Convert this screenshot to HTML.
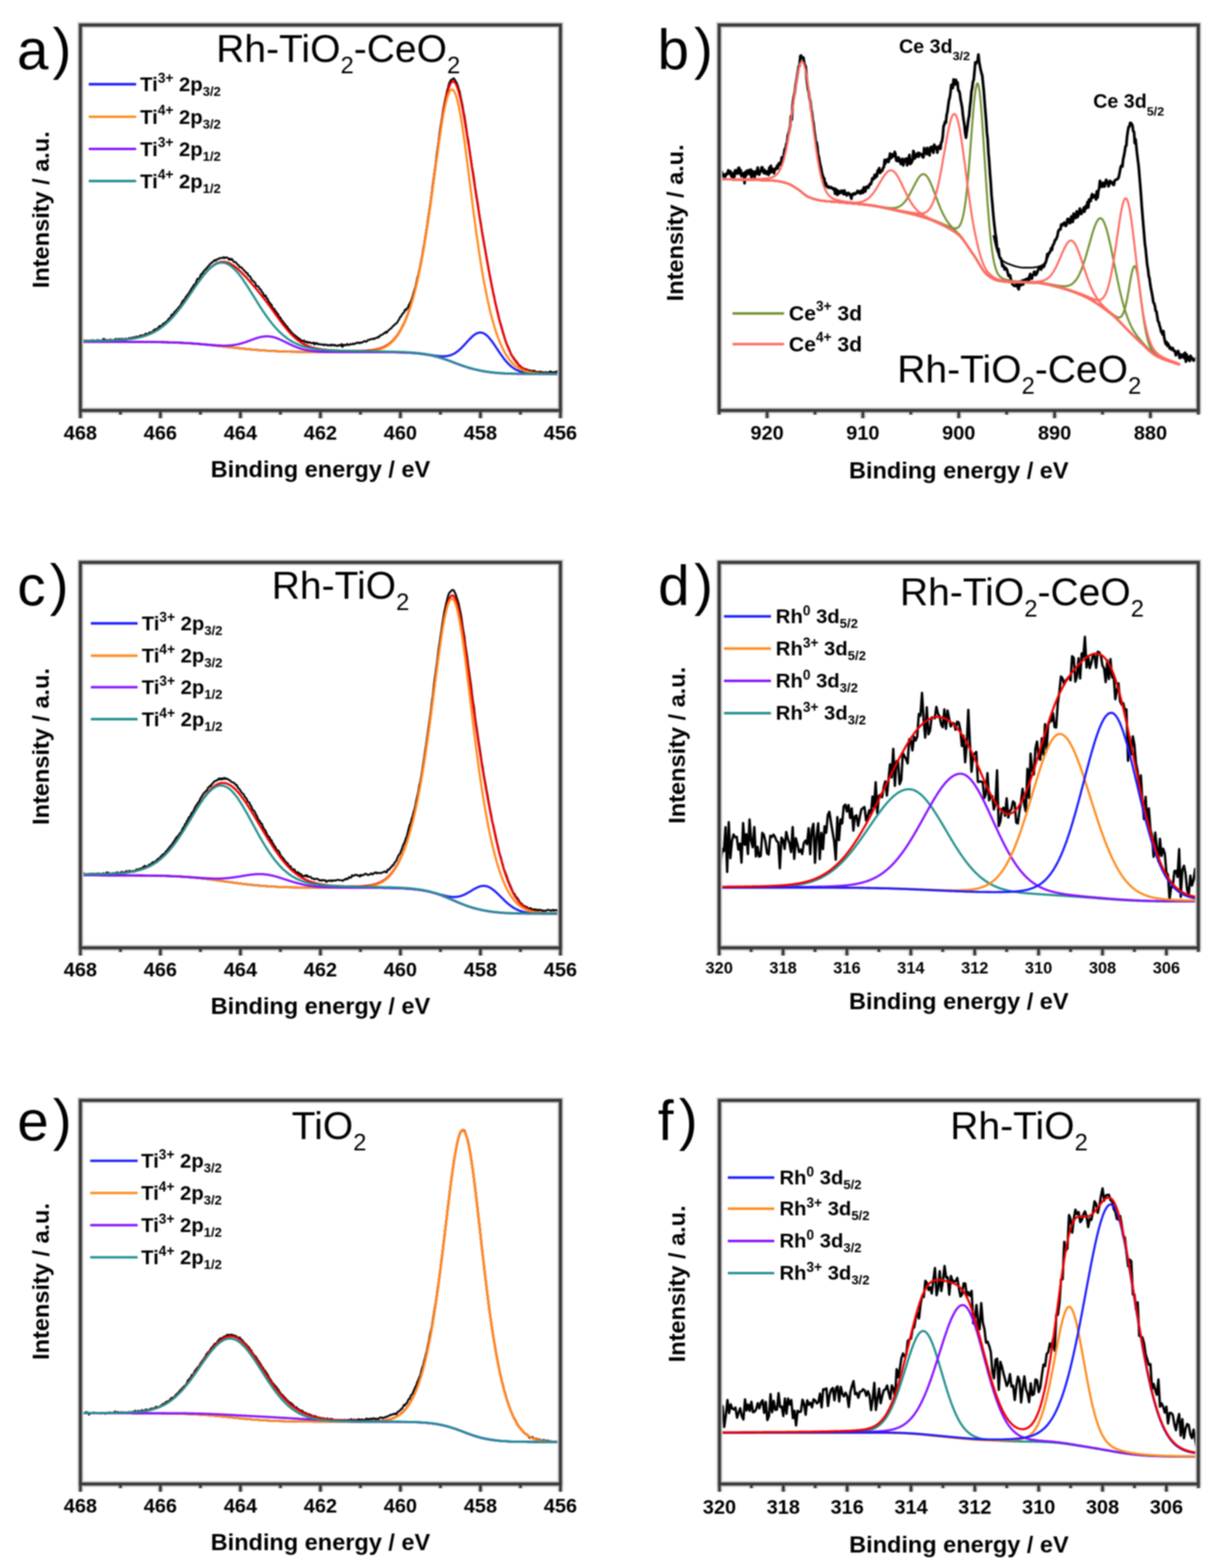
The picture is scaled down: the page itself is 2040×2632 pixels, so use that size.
<!DOCTYPE html><html><head><meta charset="utf-8"><style>html,body{margin:0;padding:0;background:#fff}svg{display:block;filter:blur(1px)}text{font-family:'Liberation Sans', Arial, Helvetica, sans-serif;fill:#000}</style></head><body>
<svg xmlns="http://www.w3.org/2000/svg" width="2040" height="2632" viewBox="0 0 2040 2632">
<rect width="2040" height="2632" fill="#fff"/>
<g>
<path d="M135 572.5l1.6 0.4 1.6-0.5 1.6-1.5 1.6 2 1.7-0.5 1.6-0.9 1.6 1 1.6-0.2 1.6-0.1 1.6-0.3 1.6 0.4 1.6-1.2 1.7 0.5 1.6-0.3 1.6 0.9 1.6-0.5 1.6-0.4 1.6-0.5 1.6 0.5 1.6 0.2 1.7-0.3 1.6 1.3 1.6-0.3 1.6-3.4 1.6 0.7 1.6 1.5 1.6-0.3 1.6 0.5 1.6 0 1.7 1.6 1.6-3 1.6 0.6 1.6 2.1 1.6-1.3 1.6-0.1 1.6-1.2 1.6-1.1 1.7 1.5 1.6-0.1 1.6-1.4 1.6 0.4 1.6 0.4 1.6-0.9 1.6 0.6 1.6 0 1.7-0.2 1.6-0.6 1.6 0.8 1.6 0 1.6-0.7 1.6-1.3 1.6 1.2 1.6-1.4 1.6 1 1.7-2 1.6 1.5 1.6-1.2 1.6-1.4 1.6 0.4 1.6 0 1.6-0.2 1.6-1.6 1.7-0.5 1.6 0.7 1.6-1.1 1.6 0.1 1.6-0.1 1.6-2.8 1.6 1.1 1.6 0.2 1.7-2 1.6-1.2 1.6 0.6 1.6-1.2 1.6-0.2 1.6-2 1.6-2 1.6 0.3 1.6-1.3 1.7 0.1 1.6-1.6 1.6-2.8 1.6-0.8 1.6 0.6 1.6-1.4 1.6-2.5 1.6-0.8 1.7-1 1.6-1.5 1.6-1.1 1.6-2.2 1.6-1.9 1.6-1.8 1.6-0.5 1.6-4.8 1.7 0.1 1.6-1.7 1.6-3.2 1.6-0.4 1.6-2.9 1.6-0.7 1.6-3 1.6-1.4 1.6-1.6 1.7-3 1.6-3.4 1.6-2.8 1.6 0.7 1.6-4 1.6-2.9 1.6-1.6 1.6-2.7 1.7-1.5 1.6-3.1 1.6-2.4 1.6-3.1 1.6-1.3 1.6-3.8 1.6-0.9 1.6-1.6 1.7-5.1 1.6-3.2 1.6 0.5 1.6-0.5 1.6-5.4 1.6-2.5 1.6-0.4 1.6-3.4 1.6-1.7 1.7-1.9 1.6-1.1 1.6-2.6 1.6-1.2 1.6-2 1.6-2.2 1.6-1 1.6-2 1.7-0.5 1.6-2.2 1.6-1.1 1.6 1.3 1.6-2.2 1.6-0.8 1.6-0.1 1.6-1.4 1.7-0.3 1.6 0.3 1.6-0.3 1.6-1.4 1.6 1.8 1.6-1.1 1.6-0.2 1.6 0.5 1.6 1 1.7 2.4 1.6-1.9 1.6 2 1.6-1.2 1.6 2.9 1.6 1.9 1.6 0.1 1.6 0.8 1.7 2.1 1.6 1.8 1.6 1.3 1.6 2.7 1.6-0.1 1.6 0.9 1.6 2 1.6 1.7 1.7 1.9 1.6 1.6 1.6 1.9 1.6 0.2 1.6 4 1.6 0.6 1.6 1.3 1.6 3.6 1.6 2.5 1.7 1.2 1.6 1.6 1.6 1 1.6 5.4 1.6 0.3 1.6 0.2 1.6 2.4 1.6 2.8 1.7 0.7 1.6 3.6 1.6 1.6 1.6 3.7 1.6 2 1.6-1.1 1.6 4.7 1.6 0.8 1.7 4.7 1.6 1.5 1.6 2.7 1.6 0.9 1.6 4.9 1.6 2.6 1.6-0.4 1.6 3.6 1.6 1.4 1.7 3 1.6 1.2 1.6 5.2 1.6-0.3 1.6 2.9 1.6 3 1.6 1.2 1.6 2.5 1.7 1.9 1.6 2.5 1.6 1.1 1.6 2.6 1.6 2.2 1.6 1.7 1.6 2.2 1.6 1.4 1.7 2.7 1.6 0.6 1.6 1.7 1.6 1 1.6 1.6 1.6 0.6 1.6 2.8 1.6-0.4 1.6 1.4 1.7 1.8 1.6 0.8 1.6 0 1.6-0.9 1.6 2.8 1.6 0.3 1.6-1.1 1.6 2.3 1.7-1 1.6-0.1 1.6 1.3 1.6 0 1.6 0.5 1.6-1.4 1.6 3.3 1.6-2 1.7-0.6 1.6 2.2 1.6-0.7 1.6 0.9 1.6-0.3 1.6 0.4 1.6 0.5 1.6-0.7 1.6 1.5 1.7-0.9 1.6-0.2 1.6 1 1.6 0.5 1.6-0.5 1.6-0.5 1.6 1.5 1.6-2.1 1.7 0.7 1.6 1.1 1.6-1.2 1.6 1.2 1.6 0 1.6 0.8 1.6-1.7 1.6 0.2 1.7 0.8 1.6-2.7 1.6 4.9 1.6-3.6 1.6-0.1 1.6 1.2 1.6-1 1.6-1.7 1.6 1.9 1.7 0 1.6-1.4 1.6 0 1.6 0.4 1.6-1.4 1.6 0.9 1.6-0.5 1.6-1.1 1.7-0.9 1.6 0.7 1.6-1 1.6 1.3 1.6-1.2 1.6 0.2 1.6-1 1.6-0.4 1.7-1.4 1.6 0.9 1.6 0.5 1.6-2.4 1.6-0.7 1.6-0.1 1.6-0.8 1.6-0.7 1.6 0.2 1.7-0.9 1.6 1 1.6-1.8 1.6-0.3 1.6-0.1 1.6-1.8 1.6 0.8 1.6-2.6 1.7-1 1.6-0.4 1.6-0.7 1.6-2.1 1.6 0.2 1.6-2.5 1.6 1.6 1.6-2.5 1.7-1.8 1.6-1.5 1.6-0.9 1.6-1.3 1.6-2.2 1.6-1.6 1.6-1 1.6-2.1 1.6-0.6 1.7-1.9 1.6-3.2 1.6-1.8 1.6-4.1 1.6-0.8 1.6-3.3 1.6-2.2 1.6-1 1.7-5 1.6 0.9 1.6-2.9 1.6-0.9 1.6-4.7 1.6-2.7 1.6-3.1 1.6-3.8 1.7-5.1 1.6-6 1.6-5.4 1.6-4.7 1.6-7.2 1.6-8.2 1.6-4.7 1.6-7.8 1.6-7.4 1.7-9.3 1.6-7.5 1.6-10.7 1.6-8 1.6-10.7 1.6-9.1 1.6-10.2 1.6-12.4 1.7-10.4 1.6-11.4 1.6-10.5 1.6-12.3 1.6-13.8 1.6-10.7 1.6-11.9 1.6-11.1 1.7-15.6 1.6-11.1 1.6-10.3 1.6-14 1.6-11.2 1.6-9.4 1.6-10 1.6-11.3 1.6-8.1 1.7-8.9 1.6-6.3 1.6-8.2 1.6-5 1.6-6.5 1.6-3.3 1.6-2.7 1.6-0.7 1.7-1.2 1.6-0.8 1.6 2.6 1.6 2.6 1.6 2.6 1.6 4.2 1.6 5.4 1.6 4.7 1.7 8.6 1.6 7.6 1.6 7.3 1.6 10.2 1.6 7.4 1.6 10.5 1.6 10.1 1.6 12.6 1.6 7.3 1.7 12.7 1.6 11.1 1.6 10.4 1.6 11.6 1.6 8.9 1.6 9.7 1.6 13.5 1.6 8.8 1.7 11.4 1.6 9.6 1.6 12.3 1.6 10 1.6 8.6 1.6 11.3 1.6 9 1.6 9.4 1.7 9.6 1.6 9.1 1.6 9.8 1.6 8.7 1.6 8.3 1.6 9.8 1.6 7.1 1.6 9.1 1.6 8.2 1.7 8.9 1.6 5.9 1.6 9.5 1.6 5.9 1.6 6.7 1.6 6.3 1.6 7.7 1.6 5.8 1.7 5 1.6 5.7 1.6 6 1.6 5.1 1.6 6.5 1.6 5 1.6 3.9 1.6 3.7 1.7 3.2 1.6 4 1.6 4.2 1.6 4.2 1.6 1.9 1.6 1.6 1.6 2.7 1.6 1.9 1.6 1.8 1.7 2.4 1.6 2.1 1.6 3.1 1.6-0.2 1.6 2.5 1.6 1.5 1.6-0.4 1.6 2.3 1.7 0 1.6-0.2 1.6 1.2 1.6 0.4 1.6 0.3 1.6 0.5 1.6 0.7 1.6 0.6 1.7-0.9 1.6 1.1 1.6-1.1 1.6 1.8 1.6 0.5 1.6-0.3 1.6 0.2 1.6 0.4 1.6-1.1 1.7 0.5 1.6 0.7 1.6 0.5 1.6-0.5 1.6 2 1.6-2.4 1.6 1 1.6 0.2 1.7-1.2 1.6-0.6 1.6-0.4 1.6 1.2 1.6 0.8 1.6-0.7 1.6-0.1 1.6-0.6 1.7 0.8 1.6-2.4 1.6 2.1 1.6-0.2 1.6-1.3" fill="none" stroke="#000" stroke-width="3.2" stroke-linejoin="round"/>
<path d="M135 572.3l1 0 1 0 1-0.1 1 0 1 0 1 0 1.1 0 1 0 1 0 1 0 1-0.1 1 0 1 0 1 0 1 0 1 0 1 0 1 0 1-0.1 1.1 0 1 0 1 0 1 0 1 0 1-0.1 1 0 1 0 1 0 1 0 1 0 1-0.1 1 0 1 0 1.1 0 1 0 1-0.1 1 0 1 0 1 0 1-0.1 1 0 1 0 1 0 1-0.1 1 0 1 0 1.1-0.1 1 0 1 0 1-0.1 1 0 1 0 1-0.1 1 0 1-0.1 1 0 1-0.1 1 0 1-0.1 1 0 1.1-0.1 1 0 1-0.1 1 0 1-0.1 1-0.1 1 0 1-0.1 1-0.1 1 0 1-0.1 1-0.1 1-0.1 1.1-0.1 1-0.1 1-0.1 1-0.1 1-0.1 1-0.1 1-0.1 1-0.1 1-0.1 1-0.2 1-0.1 1-0.1 1-0.2 1.1-0.1 1-0.2 1-0.2 1-0.1 1-0.2 1-0.2 1-0.2 1-0.2 1-0.2 1-0.2 1-0.2 1-0.2 1-0.3 1.1-0.2 1-0.3 1-0.2 1-0.3 1-0.3 1-0.3 1-0.3 1-0.3 1-0.3 1-0.4 1-0.3 1-0.4 1-0.3 1-0.4 1.1-0.4 1-0.4 1-0.5 1-0.4 1-0.5 1-0.4 1-0.5 1-0.5 1-0.5 1-0.5 1-0.6 1-0.6 1-0.5 1.1-0.6 1-0.6 1-0.7 1-0.6 1-0.7 1-0.6 1-0.7 1-0.7 1-0.8 1-0.7 1-0.8 1-0.8 1-0.8 1.1-0.8 1-0.9 1-0.8 1-0.9 1-0.9 1-1 1-0.9 1-1 1-0.9 1-1 1-1.1 1-1 1-1.1 1-1 1.1-1.1 1-1.2 1-1.1 1-1.2 1-1.1 1-1.2 1-1.2 1-1.2 1-1.3 1-1.2 1-1.3 1-1.3 1-1.3 1.1-1.3 1-1.4 1-1.3 1-1.4 1-1.4 1-1.3 1-1.4 1-1.4 1-1.5 1-1.4 1-1.4 1-1.5 1-1.4 1-1.5 1.1-1.4 1-1.5 1-1.5 1-1.4 1-1.5 1-1.5 1-1.5 1-1.4 1-1.5 1-1.5 1-1.4 1-1.5 1-1.4 1.1-1.5 1-1.4 1-1.4 1-1.4 1-1.4 1-1.4 1-1.4 1-1.3 1-1.3 1-1.3 1-1.3 1-1.3 1-1.3 1.1-1.2 1-1.2 1-1.1 1-1.2 1-1.1 1-1.1 1-1 1-1.1 1-1 1-0.9 1-0.9 1-0.9 1-0.9 1.1-0.8 1-0.7 1-0.8 1-0.6 1-0.7 1-0.6 1-0.5 1-0.5 1-0.5 1-0.4 1-0.4 1-0.3 1-0.3 1-0.3 1.1-0.2 1-0.1 1-0.1 1-0.1 1 0 1 0.1 1 0 1 0.2 1 0.1 1 0.3 1 0.2 1 0.3 1 0.4 1.1 0.3 1 0.5 1 0.4 1 0.5 1 0.5 1 0.6 1 0.6 1 0.7 1 0.6 1 0.7 1 0.8 1 0.7 1 0.8 1 0.8 1.1 0.9 1 0.8 1 0.9 1 0.9 1 1 1 0.9 1 1 1 1 1 0.9 1 1.1 1 1 1 1 1 1.1 1.1 1 1 1.1 1 1.1 1 1.1 1 1.1 1 1.1 1 1.1 1 1.2 1 1.1 1 1.1 1 1.2 1 1.1 1 1.2 1.1 1.2 1 1.1 1 1.2 1 1.2 1 1.2 1 1.2 1 1.2 1 1.2 1 1.2 1 1.2 1 1.3 1 1.2 1 1.3 1 1.2 1.1 1.3 1 1.2 1 1.3 1 1.3 1 1.3 1 1.3 1 1.3 1 1.3 1 1.4 1 1.3 1 1.3 1 1.4 1 1.4 1.1 1.3 1 1.4 1 1.4 1 1.4 1 1.3 1 1.4 1 1.4 1 1.4 1 1.5 1 1.4 1 1.4 1 1.4 1 1.4 1.1 1.4 1 1.4 1 1.4 1 1.4 1 1.4 1 1.3 1 1.4 1 1.4 1 1.3 1 1.3 1 1.4 1 1.3 1 1.3 1.1 1.3 1 1.2 1 1.3 1 1.2 1 1.2 1 1.2 1 1.2 1 1.1 1 1.2 1 1.1 1 1 1 1.1 1 1 1 1.1 1.1 1 1 0.9 1 1 1 0.9 1 0.9 1 0.8 1 0.9 1 0.8 1 0.8 1 0.8 1 0.7 1 0.7 1 0.7 1.1 0.7 1 0.7 1 0.6 1 0.6 1 0.6 1 0.5 1 0.6 1 0.5 1 0.5 1 0.5 1 0.4 1 0.5 1 0.4 1 0.4 1.1 0.4 1 0.4 1 0.3 1 0.3 1 0.4 1 0.3 1 0.3 1 0.2 1 0.3 1 0.3 1 0.2 1 0.2 1 0.3 1.1 0.2 1 0.2 1 0.2 1 0.1 1 0.2 1 0.2 1 0.1 1 0.2 1 0.1 1 0.2 1 0.1 1 0.1 1 0.1 1.1 0.1 1 0.1 1 0.1 1 0.1 1 0.1 1 0.1 1 0.1 1 0.1 1 0 1 0.1 1 0.1 1 0 1 0.1 1.1 0.1 1 0 1 0.1 1 0 1 0.1 1 0 1 0.1 1 0 1 0 1 0.1 1 0 1 0.1 1 0 1 0 1.1 0.1 1 0 1 0 1 0.1 1 0 1 0 1 0 1 0.1 1 0 1 0 1 0 1 0 1 0.1 1.1 0 1 0 1 0 1 0 1 0 1 0 1 0 1 0.1 1 0 1 0 1 0 1 0 1 0 1 0 1.1 0 1 0 1-0.1 1 0 1 0 1 0 1 0 1 0 1-0.1 1 0 1 0 1-0.1 1 0 1.1 0 1-0.1 1 0 1-0.1 1-0.1 1 0 1-0.1 1-0.1 1-0.1 1-0.1 1-0.1 1-0.1 1-0.2 1.1-0.1 1-0.1 1-0.2 1-0.2 1-0.2 1-0.1 1-0.3 1-0.2 1-0.2 1-0.3 1-0.2 1-0.3 1-0.3 1.1-0.4 1-0.3 1-0.4 1-0.4 1-0.4 1-0.4 1-0.5 1-0.5 1-0.5 1-0.6 1-0.6 1-0.6 1-0.6 1-0.7 1.1-0.7 1-0.8 1-0.8 1-0.8 1-0.9 1-0.9 1-1 1-1 1-1.1 1-1.1 1-1.1 1-1.2 1-1.3 1.1-1.3 1-1.4 1-1.5 1-1.5 1-1.5 1-1.7 1-1.7 1-1.7 1-1.8 1-2 1-1.9 1-2.1 1-2.1 1.1-2.2 1-2.3 1-2.4 1-2.4 1-2.6 1-2.6 1-2.7 1-2.8 1-2.9 1-3 1-3.1 1-3.2 1-3.3 1-3.4 1.1-3.6 1-3.6 1-3.7 1-3.9 1-3.9 1-4.1 1-4.2 1-4.3 1-4.5 1-4.5 1-4.7 1-4.9 1-4.9 1.1-5.1 1-5.2 1-5.4 1-5.5 1-5.6 1-5.8 1-5.9 1-6.1 1-6.1 1-6.4 1-6.4 1-6.6 1-6.6 1-6.9 1.1-6.9 1-7 1-7.1 1-7.3 1-7.3 1-7.3 1-7.5 1-7.5 1-7.5 1-7.6 1-7.6 1-7.6 1-7.5 1.1-7.6 1-7.4 1-7.5 1-7.3 1-7.2 1-7.1 1-7 1-6.8 1-6.6 1-6.4 1-6.3 1-5.9 1-5.7 1.1-5.4 1-5.2 1-4.8 1-4.5 1-4.2 1-3.8 1-3.4 1-3.1 1-2.7 1-2.3 1-1.8 1-1.5 1-1.1 1.1-0.6 1-0.3 1 0.2 1 0.6 1 1 1 1.4 1 1.7 1 2.2 1 2.5 1 2.9 1 3.2 1 3.5 1 3.9 1 4.2 1.1 4.4 1 4.7 1 5 1 5.2 1 5.4 1 5.6 1 5.8 1 6 1 6.1 1 6.2 1 6.3 1 6.4 1 6.6 1.1 6.5 1 6.7 1 6.6 1 6.7 1 6.7 1 6.8 1 6.7 1 6.7 1 6.7 1 6.7 1 6.6 1 6.6 1 6.6 1 6.5 1.1 6.5 1 6.4 1 6.4 1 6.4 1 6.3 1 6.2 1 6.2 1 6.1 1 6.1 1 6 1 6 1 5.9 1 5.9 1.1 5.8 1 5.7 1 5.7 1 5.7 1 5.6 1 5.5 1 5.4 1 5.4 1 5.3 1 5.3 1 5.2 1 5.1 1 5.1 1.1 4.9 1 4.9 1 4.9 1 4.7 1 4.7 1 4.5 1 4.5 1 4.4 1 4.3 1 4.2 1 4.1 1 4 1 3.9 1 3.8 1.1 3.7 1 3.6 1 3.5 1 3.4 1 3.3 1 3.2 1 3 1 3 1 2.9 1 2.7 1 2.7 1 2.6 1 2.4 1.1 2.4 1 2.3 1 2.1 1 2.1 1 2 1 1.9 1 1.8 1 1.7 1 1.6 1 1.6 1 1.5 1 1.4 1 1.3 1.1 1.2 1 1.2 1 1.2 1 1 1 1 1 1 1 0.8 1 0.9 1 0.8 1 0.7 1 0.7 1 0.6 1 0.7 1.1 0.5 1 0.6 1 0.4 1 0.5 1 0.4 1 0.4 1 0.4 1 0.4 1 0.3 1 0.3 1 0.3 1 0.3 1 0.2 1 0.2 1.1 0.2 1 0.2 1 0.2 1 0.2 1 0.1 1 0.2 1 0.1 1 0.1 1 0.2 1 0.1 1 0.1 1 0 1 0.1 1.1 0.1 1 0.1 1 0 1 0.1 1 0.1 1 0 1 0.1 1 0 1 0.1 1 0 1 0 1 0.1 1 0 1 0 1.1 0 1 0.1 1 0 1 0 1 0 1 0.1 1 0 1 0 1 0 1 0 1 0 1 0 1 0.1 1.1 0 1 0 1 0 1 0 1 0 1 0 1 0" fill="none" stroke="#f00000" stroke-width="3.6" stroke-linejoin="round"/>
<path d="M135 573.7l1 0 1 0 1 0 1 0 1 0 1 0 1.1 0 1 0 1 0 1 0 1 0 1 0 1 0 1 0 1 0 1 0 1 0 1 0 1 0 1.1 0 1 0 1 0 1 0 1 0 1 0 1 0 1 0 1 0 1 0 1 0 1 0 1 0 1 0 1.1 0 1 0 1 0 1 0 1 0 1 0 1 0 1 0 1 0.1 1 0 1 0 1 0 1 0 1.1 0 1 0 1 0 1 0 1 0 1 0 1 0 1 0 1 0 1 0 1 0 1 0 1 0 1 0 1.1 0 1 0 1 0 1 0 1 0 1 0 1 0 1 0 1 0 1 0 1 0 1 0 1 0 1.1 0 1 0 1 0 1 0 1 0 1 0 1 0 1 0 1 0.1 1 0 1 0 1 0 1 0 1.1 0 1 0 1 0 1 0 1 0 1 0 1 0 1 0 1 0 1 0 1 0 1 0 1 0 1.1 0 1 0 1 0.1 1 0 1 0 1 0 1 0 1 0 1 0 1 0 1 0 1 0 1 0 1 0 1.1 0.1 1 0 1 0 1 0 1 0 1 0 1 0 1 0 1 0.1 1 0 1 0 1 0 1 0 1.1 0 1 0 1 0.1 1 0 1 0 1 0 1 0 1 0 1 0.1 1 0 1 0 1 0 1 0.1 1.1 0 1 0 1 0 1 0 1 0.1 1 0 1 0 1 0.1 1 0 1 0 1 0 1 0.1 1 0 1 0 1.1 0.1 1 0 1 0 1 0.1 1 0 1 0.1 1 0 1 0 1 0.1 1 0 1 0.1 1 0 1 0.1 1.1 0 1 0.1 1 0 1 0.1 1 0 1 0.1 1 0 1 0.1 1 0 1 0.1 1 0 1 0.1 1 0.1 1 0 1.1 0.1 1 0.1 1 0 1 0.1 1 0.1 1 0 1 0.1 1 0.1 1 0 1 0.1 1 0.1 1 0.1 1 0.1 1.1 0 1 0.1 1 0.1 1 0.1 1 0.1 1 0.1 1 0 1 0.1 1 0.1 1 0.1 1 0.1 1 0.1 1 0.1 1.1 0.1 1 0.1 1 0.1 1 0.1 1 0.1 1 0.1 1 0.1 1 0.1 1 0.1 1 0.1 1 0.1 1 0.1 1 0.1 1.1 0.1 1 0.1 1 0.1 1 0.1 1 0.1 1 0.1 1 0.2 1 0.1 1 0.1 1 0.1 1 0.1 1 0.1 1 0.1 1 0.1 1.1 0.2 1 0.1 1 0.1 1 0.1 1 0.1 1 0.1 1 0.1 1 0.2 1 0.1 1 0.1 1 0.1 1 0.1 1 0.1 1.1 0.1 1 0.2 1 0.1 1 0.1 1 0.1 1 0.1 1 0.1 1 0.1 1 0.1 1 0.2 1 0.1 1 0.1 1 0.1 1 0.1 1.1 0.1 1 0.1 1 0.1 1 0.1 1 0.1 1 0.1 1 0.1 1 0.1 1 0.1 1 0.1 1 0.1 1 0.1 1 0.1 1.1 0.1 1 0.1 1 0.1 1 0.1 1 0.1 1 0.1 1 0.1 1 0.1 1 0.1 1 0.1 1 0.1 1 0.1 1 0.1 1.1 0.1 1 0 1 0.1 1 0.1 1 0.1 1 0.1 1 0.1 1 0 1 0.1 1 0.1 1 0.1 1 0.1 1 0 1 0.1 1.1 0.1 1 0.1 1 0 1 0.1 1 0.1 1 0.1 1 0 1 0.1 1 0.1 1 0 1 0.1 1 0.1 1 0 1.1 0.1 1 0 1 0.1 1 0.1 1 0 1 0.1 1 0 1 0.1 1 0 1 0.1 1 0 1 0.1 1 0 1.1 0.1 1 0 1 0.1 1 0 1 0.1 1 0 1 0.1 1 0 1 0 1 0.1 1 0 1 0.1 1 0 1.1 0 1 0.1 1 0 1 0 1 0.1 1 0 1 0 1 0 1 0.1 1 0 1 0 1 0 1 0.1 1 0 1.1 0 1 0 1 0.1 1 0 1 0 1 0 1 0 1 0 1 0.1 1 0 1 0 1 0 1 0 1.1 0 1 0 1 0.1 1 0 1 0 1 0 1 0 1 0 1 0 1 0 1 0 1 0 1 0.1 1 0 1.1 0 1 0 1 0 1 0 1 0 1 0 1 0 1 0 1 0 1 0 1 0 1 0 1 0 1.1 0 1 0 1 0.1 1 0 1 0 1 0 1 0 1 0 1 0 1 0 1 0 1 0 1 0 1.1 0 1 0 1 0 1 0 1 0 1 0 1 0 1 0 1 0 1 0 1 0 1 0 1 0 1.1 0 1 0 1 0 1 0 1 0 1 0 1 0 1 0 1 0 1 0 1 0 1 0 1 0 1 0 1.1 0 1 0 1 0 1 0 1 0 1 0.1 1 0 1 0 1 0 1 0 1 0 1 0 1 0 1.1 0 1 0 1 0 1 0 1 0 1 0 1 0 1 0 1 0 1 0 1 0 1 0 1 0 1 0 1.1 0 1 0 1 0 1 0 1 0 1 0 1 0 1 0 1 0 1 0 1 0 1 0 1 0 1.1 0 1 0 1 0 1 0 1 0 1 0 1 0 1 0 1 0 1 0 1 0 1 0 1 0 1.1 0 1 0 1 0 1 0 1 0 1 0 1 0 1 0 1 0 1 0 1 0 1 0 1 0 1.1 0 1 0 1 0 1 0.1 1 0 1 0 1 0 1 0 1 0 1 0 1 0 1 0 1 0 1 0 1.1 0 1 0 1 0 1 0.1 1 0 1 0 1 0 1 0 1 0 1 0 1 0.1 1 0 1 0 1.1 0 1 0 1 0.1 1 0 1 0 1 0 1 0.1 1 0 1 0 1 0 1 0.1 1 0 1 0 1.1 0.1 1 0 1 0.1 1 0 1 0.1 1 0 1 0 1 0.1 1 0.1 1 0 1 0.1 1 0 1 0.1 1 0.1 1.1 0 1 0.1 1 0.1 1 0 1 0.1 1 0.1 1 0.1 1 0.1 1 0.1 1 0.1 1 0.1 1 0.1 1 0.1 1.1 0.1 1 0.1 1 0.1 1 0.1 1 0.1 1 0.2 1 0.1 1 0.1 1 0.1 1 0.2 1 0.1 1 0.2 1 0.1 1 0.1 1.1 0.2 1 0.1 1 0.2 1 0.1 1 0.2 1 0.1 1 0.2 1 0.1 1 0.2 1 0.1 1 0.2 1 0.1 1 0.1 1.1 0.2 1 0.1 1 0.1 1 0.1 1 0.1 1 0.1 1 0.1 1 0 1 0.1 1 0 1 0.1 1 0 1-0.1 1.1 0 1-0.1 1 0 1-0.2 1-0.1 1-0.2 1-0.1 1-0.3 1-0.2 1-0.3 1-0.3 1-0.4 1-0.4 1.1-0.4 1-0.5 1-0.5 1-0.5 1-0.6 1-0.6 1-0.7 1-0.7 1-0.7 1-0.8 1-0.8 1-0.9 1-0.8 1-1 1.1-0.9 1-1 1-1 1-1 1-1.1 1-1 1-1.1 1-1.1 1-1.1 1-1.1 1-1.2 1-1.1 1-1.1 1.1-1.1 1-1 1-1.1 1-1 1-1 1-1 1-0.9 1-0.9 1-0.9 1-0.8 1-0.7 1-0.7 1-0.6 1-0.5 1.1-0.5 1-0.4 1-0.3 1-0.3 1-0.1 1-0.1 1 0 1 0.1 1 0.2 1 0.2 1 0.4 1 0.4 1 0.5 1.1 0.6 1 0.7 1 0.8 1 0.8 1 0.9 1 1 1 1 1 1.1 1 1.2 1 1.2 1 1.3 1 1.3 1 1.3 1.1 1.4 1 1.4 1 1.5 1 1.5 1 1.4 1 1.5 1 1.6 1 1.5 1 1.5 1 1.5 1 1.5 1 1.5 1 1.5 1 1.5 1.1 1.4 1 1.5 1 1.4 1 1.3 1 1.4 1 1.3 1 1.3 1 1.2 1 1.2 1 1.2 1 1.1 1 1.1 1 1 1.1 1.1 1 0.9 1 1 1 0.8 1 0.9 1 0.8 1 0.8 1 0.7 1 0.7 1 0.6 1 0.7 1 0.6 1 0.5 1.1 0.5 1 0.5 1 0.5 1 0.4 1 0.4 1 0.4 1 0.3 1 0.3 1 0.3 1 0.3 1 0.3 1 0.2 1 0.3 1.1 0.2 1 0.1 1 0.2 1 0.2 1 0.1 1 0.2 1 0.1 1 0.1 1 0.1 1 0.1 1 0.1 1 0.1 1 0 1 0.1 1.1 0.1 1 0 1 0.1 1 0 1 0.1 1 0 1 0 1 0.1 1 0 1 0 1 0 1 0.1 1 0 1.1 0 1 0 1 0 1 0 1 0.1 1 0 1 0 1 0 1 0 1 0 1 0 1 0 1 0 1 0 1.1 0 1 0.1 1 0 1 0 1 0 1 0 1 0 1 0 1 0 1 0 1 0 1 0 1 0 1.1 0 1 0 1 0 1 0 1 0 1 0 1 0" fill="none" stroke="#1a1aff" stroke-width="3.6" stroke-linejoin="round"/>
<path d="M135 573.7l1 0 1 0 1 0 1 0 1 0 1 0 1.1 0 1 0 1 0 1 0 1 0 1 0 1 0 1 0 1 0 1 0 1 0 1 0 1 0 1.1 0 1 0 1 0 1 0 1 0 1 0 1 0 1 0 1 0 1 0 1 0 1 0 1 0 1 0 1.1 0 1 0 1 0 1 0.1 1 0 1 0 1 0 1 0 1 0 1 0 1 0 1 0 1 0 1.1 0 1 0 1 0 1 0 1 0 1 0 1 0 1 0 1 0 1 0 1 0 1 0 1 0 1 0 1.1 0 1 0 1 0 1 0 1 0 1 0 1 0 1 0 1 0 1 0 1 0 1 0 1 0 1.1 0 1 0 1 0 1 0 1 0 1 0.1 1 0 1 0 1 0 1 0 1 0 1 0 1 0 1.1 0 1 0 1 0 1 0 1 0 1 0 1 0 1 0 1 0 1 0 1 0 1 0 1 0 1.1 0.1 1 0 1 0 1 0 1 0 1 0 1 0 1 0 1 0 1 0 1 0 1 0 1 0 1 0.1 1.1 0 1 0 1 0 1 0 1 0 1 0 1 0 1 0 1 0.1 1 0 1 0 1 0 1 0 1.1 0 1 0.1 1 0 1 0 1 0 1 0 1 0 1 0.1 1 0 1 0 1 0 1 0 1 0.1 1.1 0 1 0 1 0 1 0.1 1 0 1 0 1 0 1 0.1 1 0 1 0 1 0.1 1 0 1 0 1 0.1 1.1 0 1 0 1 0.1 1 0 1 0 1 0.1 1 0 1 0.1 1 0 1 0 1 0.1 1 0 1 0.1 1.1 0 1 0.1 1 0 1 0.1 1 0 1 0.1 1 0 1 0.1 1 0 1 0.1 1 0.1 1 0 1 0.1 1 0 1.1 0.1 1 0.1 1 0 1 0.1 1 0.1 1 0 1 0.1 1 0.1 1 0.1 1 0 1 0.1 1 0.1 1 0.1 1.1 0.1 1 0 1 0.1 1 0.1 1 0.1 1 0.1 1 0.1 1 0 1 0.1 1 0.1 1 0.1 1 0.1 1 0.1 1.1 0.1 1 0.1 1 0.1 1 0.1 1 0.1 1 0.1 1 0.1 1 0.1 1 0.1 1 0.1 1 0.1 1 0.1 1 0.1 1.1 0.1 1 0.1 1 0.1 1 0.1 1 0.2 1 0.1 1 0.1 1 0.1 1 0.1 1 0.1 1 0.1 1 0.1 1 0.1 1 0.2 1.1 0.1 1 0.1 1 0.1 1 0.1 1 0.1 1 0.1 1 0.2 1 0.1 1 0.1 1 0.1 1 0.1 1 0.1 1 0.1 1.1 0.2 1 0.1 1 0.1 1 0.1 1 0.1 1 0.1 1 0.1 1 0.1 1 0.2 1 0.1 1 0.1 1 0.1 1 0.1 1 0.1 1.1 0.1 1 0.1 1 0.1 1 0.1 1 0.1 1 0.1 1 0.2 1 0.1 1 0.1 1 0.1 1 0.1 1 0.1 1 0.1 1.1 0.1 1 0.1 1 0.1 1 0.1 1 0.1 1 0 1 0.1 1 0.1 1 0.1 1 0.1 1 0.1 1 0.1 1 0.1 1.1 0.1 1 0.1 1 0 1 0.1 1 0.1 1 0.1 1 0.1 1 0.1 1 0.1 1 0 1 0.1 1 0.1 1 0.1 1 0 1.1 0.1 1 0.1 1 0.1 1 0 1 0.1 1 0.1 1 0.1 1 0 1 0.1 1 0.1 1 0 1 0.1 1 0 1.1 0.1 1 0.1 1 0 1 0.1 1 0 1 0.1 1 0.1 1 0 1 0.1 1 0 1 0.1 1 0 1 0.1 1.1 0 1 0.1 1 0 1 0.1 1 0 1 0.1 1 0 1 0 1 0.1 1 0 1 0 1 0.1 1 0 1.1 0.1 1 0 1 0 1 0.1 1 0 1 0 1 0 1 0.1 1 0 1 0 1 0.1 1 0 1 0 1 0 1.1 0 1 0.1 1 0 1 0 1 0 1 0 1 0.1 1 0 1 0 1 0 1 0 1 0 1 0.1 1.1 0 1 0 1 0 1 0 1 0 1 0 1 0 1 0 1 0.1 1 0 1 0 1 0 1 0 1 0 1.1 0 1 0 1 0 1 0 1 0 1 0 1 0.1 1 0 1 0 1 0 1 0 1 0 1 0 1.1 0 1 0 1 0 1 0 1 0 1 0 1 0 1 0 1 0 1 0 1 0 1 0 1 0 1.1 0 1 0 1 0 1 0 1 0 1 0.1 1 0 1 0 1 0 1 0 1 0 1 0 1 0 1.1 0 1 0 1 0 1 0 1 0 1 0 1 0 1 0 1 0 1 0 1 0 1 0 1 0 1 0 1.1 0 1 0 1 0 1 0 1 0 1 0 1 0 1 0 1 0 1 0 1 0 1 0 1 0 1.1 0 1 0 1-0.1 1 0 1 0 1 0 1 0 1 0 1 0 1 0 1 0 1 0 1-0.1 1 0 1.1 0 1 0 1 0 1-0.1 1 0 1 0 1-0.1 1 0 1 0 1-0.1 1 0 1-0.1 1 0 1.1-0.1 1 0 1-0.1 1-0.1 1-0.1 1 0 1-0.1 1-0.1 1-0.1 1-0.1 1-0.2 1-0.1 1-0.1 1.1-0.2 1-0.1 1-0.2 1-0.2 1-0.2 1-0.2 1-0.2 1-0.2 1-0.3 1-0.2 1-0.3 1-0.3 1-0.3 1.1-0.4 1-0.3 1-0.4 1-0.4 1-0.4 1-0.5 1-0.4 1-0.5 1-0.6 1-0.5 1-0.6 1-0.6 1-0.7 1-0.7 1.1-0.7 1-0.8 1-0.8 1-0.8 1-0.9 1-0.9 1-1 1-1 1-1.1 1-1.1 1-1.2 1-1.2 1-1.2 1.1-1.4 1-1.4 1-1.4 1-1.5 1-1.6 1-1.6 1-1.7 1-1.8 1-1.8 1-1.9 1-2 1-2.1 1-2.1 1.1-2.2 1-2.3 1-2.4 1-2.4 1-2.6 1-2.6 1-2.7 1-2.9 1-2.9 1-3 1-3.1 1-3.2 1-3.3 1-3.4 1.1-3.5 1-3.6 1-3.7 1-3.9 1-3.9 1-4.1 1-4.2 1-4.3 1-4.5 1-4.5 1-4.7 1-4.9 1-4.9 1.1-5.1 1-5.2 1-5.4 1-5.5 1-5.6 1-5.7 1-5.9 1-6.1 1-6.1 1-6.3 1-6.4 1-6.6 1-6.6 1-6.8 1.1-6.9 1-7 1-7.1 1-7.1 1-7.3 1-7.3 1-7.4 1-7.4 1-7.4 1-7.5 1-7.5 1-7.5 1-7.4 1.1-7.4 1-7.3 1-7.3 1-7.2 1-7 1-6.9 1-6.7 1-6.6 1-6.4 1-6.1 1-5.9 1-5.6 1-5.4 1.1-5 1-4.8 1-4.4 1-4 1-3.7 1-3.3 1-2.9 1-2.4 1-2.1 1-1.6 1-1.2 1-0.8 1-0.3 1.1 0.2 1 0.6 1 1.1 1 1.5 1 1.9 1 2.4 1 2.8 1 3.2 1 3.6 1 4.1 1 4.4 1 4.7 1 5.1 1 5.5 1.1 5.7 1 6.1 1 6.3 1 6.6 1 6.8 1 7 1 7.2 1 7.4 1 7.5 1 7.7 1 7.7 1 7.9 1 7.9 1.1 8 1 8 1 8 1 8 1 8 1 8 1 7.9 1 7.9 1 7.8 1 7.7 1 7.6 1 7.5 1 7.5 1 7.3 1.1 7.2 1 7 1 7 1 6.8 1 6.6 1 6.5 1 6.4 1 6.3 1 6 1 6 1 5.8 1 5.7 1 5.5 1.1 5.3 1 5.3 1 5.1 1 4.9 1 4.9 1 4.6 1 4.6 1 4.4 1 4.3 1 4.2 1 4 1 4 1 3.8 1.1 3.7 1 3.6 1 3.5 1 3.3 1 3.3 1 3.1 1 3.1 1 2.9 1 2.9 1 2.8 1 2.6 1 2.6 1 2.5 1 2.4 1.1 2.3 1 2.2 1 2.2 1 2.1 1 2 1 1.9 1 1.8 1 1.8 1 1.7 1 1.7 1 1.5 1 1.5 1 1.5 1.1 1.4 1 1.3 1 1.3 1 1.2 1 1.1 1 1.2 1 1 1 1 1 1 1 0.9 1 0.9 1 0.8 1 0.8 1.1 0.7 1 0.8 1 0.6 1 0.7 1 0.6 1 0.6 1 0.5 1 0.5 1 0.5 1 0.5 1 0.4 1 0.4 1 0.4 1.1 0.4 1 0.3 1 0.4 1 0.3 1 0.3 1 0.2 1 0.3 1 0.2 1 0.3 1 0.2 1 0.2 1 0.2 1 0.1 1 0.2 1.1 0.1 1 0.2 1 0.1 1 0.1 1 0.2 1 0.1 1 0.1 1 0.1 1 0 1 0.1 1 0.1 1 0.1 1 0 1.1 0.1 1 0 1 0.1 1 0 1 0.1 1 0 1 0.1 1 0 1 0 1 0.1 1 0 1 0 1 0 1 0.1 1.1 0 1 0 1 0 1 0 1 0.1 1 0 1 0 1 0 1 0 1 0 1 0 1 0 1 0 1.1 0 1 0 1 0 1 0.1 1 0 1 0 1 0" fill="none" stroke="#ff8a1c" stroke-width="3.6" stroke-linejoin="round"/>
<path d="M135 573.7l1 0 1 0 1 0 1 0 1 0 1 0 1.1 0 1 0 1 0 1 0 1 0 1 0 1 0 1 0 1 0 1 0 1 0 1 0 1 0 1.1 0 1 0 1 0 1 0 1 0 1 0 1 0 1 0 1 0 1 0 1 0 1 0 1 0 1 0 1.1 0 1 0 1 0 1 0 1 0 1 0 1 0 1 0 1 0 1 0 1 0 1 0 1 0 1.1 0 1 0 1 0 1 0.1 1 0 1 0 1 0 1 0 1 0 1 0 1 0 1 0 1 0 1 0 1.1 0 1 0 1 0 1 0 1 0 1 0 1 0 1 0 1 0 1 0 1 0 1 0 1 0 1.1 0 1 0 1 0 1 0 1 0 1 0 1 0 1 0 1 0 1 0 1 0 1 0 1 0 1.1 0.1 1 0 1 0 1 0 1 0 1 0 1 0 1 0 1 0 1 0 1 0 1 0 1 0 1.1 0 1 0 1 0 1 0 1 0 1 0.1 1 0 1 0 1 0 1 0 1 0 1 0 1 0 1 0 1.1 0 1 0 1 0 1 0.1 1 0 1 0 1 0 1 0 1 0 1 0 1 0 1 0.1 1 0 1.1 0 1 0 1 0 1 0 1 0.1 1 0 1 0 1 0 1 0 1 0 1 0.1 1 0 1 0 1.1 0 1 0.1 1 0 1 0 1 0 1 0.1 1 0 1 0 1 0 1 0.1 1 0 1 0 1 0.1 1 0 1.1 0 1 0.1 1 0 1 0 1 0.1 1 0 1 0 1 0.1 1 0 1 0.1 1 0 1 0.1 1 0 1.1 0.1 1 0 1 0 1 0.1 1 0 1 0.1 1 0.1 1 0 1 0.1 1 0 1 0.1 1 0 1 0.1 1 0.1 1.1 0 1 0.1 1 0 1 0.1 1 0.1 1 0 1 0.1 1 0.1 1 0.1 1 0 1 0.1 1 0.1 1 0.1 1.1 0 1 0.1 1 0.1 1 0.1 1 0 1 0.1 1 0.1 1 0.1 1 0.1 1 0.1 1 0 1 0.1 1 0.1 1.1 0.1 1 0.1 1 0.1 1 0.1 1 0 1 0.1 1 0.1 1 0.1 1 0.1 1 0.1 1 0.1 1 0 1 0.1 1.1 0.1 1 0.1 1 0.1 1 0 1 0.1 1 0.1 1 0 1 0.1 1 0.1 1 0 1 0.1 1 0 1 0.1 1 0 1.1 0.1 1 0 1 0 1 0.1 1 0 1 0 1 0 1 0 1 0 1 0 1-0.1 1 0 1 0 1.1-0.1 1-0.1 1 0 1-0.1 1-0.1 1-0.1 1-0.1 1-0.1 1-0.2 1-0.1 1-0.1 1-0.2 1-0.2 1-0.2 1.1-0.2 1-0.2 1-0.2 1-0.2 1-0.3 1-0.2 1-0.3 1-0.3 1-0.3 1-0.3 1-0.3 1-0.3 1-0.3 1.1-0.3 1-0.4 1-0.3 1-0.4 1-0.3 1-0.4 1-0.4 1-0.3 1-0.4 1-0.4 1-0.4 1-0.3 1-0.4 1.1-0.4 1-0.3 1-0.4 1-0.4 1-0.3 1-0.4 1-0.3 1-0.3 1-0.3 1-0.3 1-0.3 1-0.3 1-0.2 1-0.3 1.1-0.2 1-0.2 1-0.2 1-0.1 1-0.2 1-0.1 1-0.1 1-0.1 1 0 1-0.1 1 0 1 0 1 0.1 1.1 0 1 0.1 1 0.2 1 0.1 1 0.2 1 0.1 1 0.3 1 0.2 1 0.2 1 0.3 1 0.3 1 0.3 1 0.4 1.1 0.3 1 0.4 1 0.4 1 0.4 1 0.4 1 0.4 1 0.4 1 0.5 1 0.5 1 0.4 1 0.5 1 0.5 1 0.5 1.1 0.5 1 0.4 1 0.5 1 0.5 1 0.5 1 0.5 1 0.5 1 0.5 1 0.5 1 0.5 1 0.5 1 0.4 1 0.5 1 0.5 1.1 0.4 1 0.5 1 0.4 1 0.4 1 0.4 1 0.4 1 0.4 1 0.4 1 0.4 1 0.3 1 0.4 1 0.3 1 0.4 1.1 0.3 1 0.3 1 0.3 1 0.3 1 0.2 1 0.3 1 0.2 1 0.3 1 0.2 1 0.2 1 0.2 1 0.2 1 0.2 1 0.2 1.1 0.2 1 0.1 1 0.2 1 0.1 1 0.2 1 0.1 1 0.1 1 0.1 1 0.1 1 0.1 1 0.1 1 0.1 1 0.1 1.1 0.1 1 0.1 1 0 1 0.1 1 0 1 0.1 1 0.1 1 0 1 0 1 0.1 1 0 1 0.1 1 0 1.1 0 1 0.1 1 0 1 0 1 0 1 0.1 1 0 1 0 1 0 1 0 1 0 1 0.1 1 0 1.1 0 1 0 1 0 1 0 1 0 1 0 1 0 1 0 1 0.1 1 0 1 0 1 0 1 0 1 0 1.1 0 1 0 1 0 1 0 1 0 1 0 1 0 1 0 1 0 1 0 1 0 1 0 1 0 1.1 0 1 0 1 0 1 0 1 0.1 1 0 1 0 1 0 1 0 1 0 1 0 1 0 1 0 1 0 1.1 0 1 0 1 0 1 0 1 0 1 0 1 0 1 0 1 0 1 0 1 0 1 0 1 0 1.1 0 1 0 1 0 1 0 1 0 1 0 1 0 1 0 1 0 1 0 1 0 1 0 1 0 1.1 0 1 0.1 1 0 1 0 1 0 1 0 1 0 1 0 1 0 1 0 1 0 1 0 1 0 1.1 0 1 0 1 0 1 0 1 0 1 0 1 0 1 0.1 1 0 1 0 1 0 1 0 1 0 1 0 1.1 0 1 0 1 0 1 0.1 1 0 1 0 1 0 1 0 1 0 1 0.1 1 0 1 0 1 0 1.1 0 1 0.1 1 0 1 0 1 0 1 0.1 1 0 1 0 1 0.1 1 0 1 0 1 0.1 1 0 1.1 0 1 0.1 1 0 1 0.1 1 0 1 0.1 1 0 1 0.1 1 0 1 0.1 1 0.1 1 0 1 0.1 1 0.1 1.1 0 1 0.1 1 0.1 1 0.1 1 0 1 0.1 1 0.1 1 0.1 1 0.1 1 0.1 1 0.1 1 0.1 1 0.2 1.1 0.1 1 0.1 1 0.1 1 0.2 1 0.1 1 0.1 1 0.2 1 0.1 1 0.2 1 0.1 1 0.2 1 0.2 1 0.2 1 0.1 1.1 0.2 1 0.2 1 0.2 1 0.2 1 0.2 1 0.3 1 0.2 1 0.2 1 0.3 1 0.2 1 0.2 1 0.3 1 0.3 1.1 0.2 1 0.3 1 0.3 1 0.3 1 0.3 1 0.3 1 0.3 1 0.3 1 0.3 1 0.3 1 0.3 1 0.4 1 0.3 1.1 0.4 1 0.3 1 0.4 1 0.3 1 0.4 1 0.3 1 0.4 1 0.4 1 0.3 1 0.4 1 0.4 1 0.4 1 0.3 1.1 0.4 1 0.4 1 0.4 1 0.4 1 0.3 1 0.4 1 0.4 1 0.4 1 0.3 1 0.4 1 0.4 1 0.4 1 0.3 1 0.4 1.1 0.4 1 0.3 1 0.4 1 0.3 1 0.4 1 0.3 1 0.3 1 0.4 1 0.3 1 0.3 1 0.3 1 0.3 1 0.4 1.1 0.3 1 0.3 1 0.3 1 0.2 1 0.3 1 0.3 1 0.3 1 0.2 1 0.3 1 0.3 1 0.2 1 0.3 1 0.2 1 0.2 1.1 0.3 1 0.2 1 0.2 1 0.2 1 0.2 1 0.2 1 0.2 1 0.2 1 0.2 1 0.2 1 0.2 1 0.2 1 0.2 1.1 0.1 1 0.2 1 0.2 1 0.1 1 0.2 1 0.1 1 0.1 1 0.2 1 0.1 1 0.2 1 0.1 1 0.1 1 0.1 1.1 0.1 1 0.1 1 0.1 1 0.1 1 0.1 1 0.1 1 0.1 1 0.1 1 0.1 1 0.1 1 0.1 1 0 1 0.1 1 0.1 1.1 0 1 0.1 1 0.1 1 0 1 0.1 1 0 1 0.1 1 0 1 0.1 1 0 1 0 1 0.1 1 0 1.1 0.1 1 0 1 0 1 0 1 0.1 1 0 1 0 1 0 1 0.1 1 0 1 0 1 0 1 0 1.1 0.1 1 0 1 0 1 0 1 0 1 0 1 0 1 0 1 0.1 1 0 1 0 1 0 1 0 1.1 0 1 0 1 0 1 0 1 0 1 0 1 0 1 0 1 0 1 0 1 0 1 0 1 0 1 0 1.1 0 1 0.1 1 0 1 0 1 0 1 0 1 0 1 0 1 0 1 0 1 0 1 0 1 0 1.1 0 1 0 1 0 1 0 1 0 1 0 1 0 1 0 1 0 1 0 1 0 1 0 1 0 1 0 1.1 0 1 0 1 0 1 0 1 0 1 0 1 0 1 0 1 0 1 0 1 0 1 0 1 0 1.1 0 1 0 1 0 1 0 1 0 1 0 1 0" fill="none" stroke="#8610ff" stroke-width="3.6" stroke-linejoin="round"/>
<path d="M135 572.3l1 0 1 0 1 0 1 0 1-0.1 1 0 1.1 0 1 0 1 0 1 0 1 0 1 0 1-0.1 1 0 1 0 1 0 1 0 1 0 1 0 1.1 0 1-0.1 1 0 1 0 1 0 1 0 1 0 1-0.1 1 0 1 0 1 0 1 0 1-0.1 1 0 1.1 0 1 0 1 0 1-0.1 1 0 1 0 1 0 1-0.1 1 0 1 0 1 0 1-0.1 1 0 1.1 0 1-0.1 1 0 1 0 1-0.1 1 0 1-0.1 1 0 1 0 1-0.1 1 0 1-0.1 1 0 1-0.1 1.1 0 1-0.1 1 0 1-0.1 1-0.1 1 0 1-0.1 1-0.1 1 0 1-0.1 1-0.1 1-0.1 1-0.1 1.1 0 1-0.1 1-0.1 1-0.1 1-0.1 1-0.2 1-0.1 1-0.1 1-0.1 1-0.1 1-0.2 1-0.1 1-0.1 1.1-0.2 1-0.2 1-0.1 1-0.2 1-0.2 1-0.1 1-0.2 1-0.2 1-0.2 1-0.2 1-0.3 1-0.2 1-0.2 1.1-0.3 1-0.2 1-0.3 1-0.3 1-0.2 1-0.3 1-0.3 1-0.4 1-0.3 1-0.3 1-0.4 1-0.3 1-0.4 1-0.4 1.1-0.4 1-0.4 1-0.4 1-0.5 1-0.4 1-0.5 1-0.5 1-0.5 1-0.5 1-0.5 1-0.5 1-0.6 1-0.6 1.1-0.6 1-0.6 1-0.6 1-0.6 1-0.7 1-0.7 1-0.7 1-0.7 1-0.7 1-0.8 1-0.7 1-0.8 1-0.8 1.1-0.9 1-0.8 1-0.9 1-0.9 1-0.9 1-0.9 1-0.9 1-1 1-1 1-1 1-1 1-1 1-1.1 1-1.1 1.1-1.1 1-1.1 1-1.1 1-1.2 1-1.1 1-1.2 1-1.2 1-1.3 1-1.2 1-1.3 1-1.2 1-1.3 1-1.3 1.1-1.3 1-1.4 1-1.3 1-1.4 1-1.4 1-1.3 1-1.4 1-1.4 1-1.5 1-1.4 1-1.4 1-1.5 1-1.4 1-1.5 1.1-1.4 1-1.5 1-1.5 1-1.4 1-1.5 1-1.5 1-1.4 1-1.5 1-1.5 1-1.4 1-1.5 1-1.4 1-1.5 1.1-1.4 1-1.5 1-1.4 1-1.4 1-1.4 1-1.3 1-1.4 1-1.3 1-1.4 1-1.3 1-1.3 1-1.2 1-1.3 1.1-1.2 1-1.2 1-1.1 1-1.1 1-1.2 1-1 1-1.1 1-1 1-0.9 1-1 1-0.9 1-0.8 1-0.8 1.1-0.8 1-0.8 1-0.7 1-0.6 1-0.6 1-0.6 1-0.5 1-0.5 1-0.4 1-0.3 1-0.4 1-0.2 1-0.3 1-0.1 1.1-0.1 1-0.1 1 0 1 0 1 0.1 1 0.1 1 0.2 1 0.3 1 0.3 1 0.3 1 0.4 1 0.5 1 0.5 1.1 0.5 1 0.6 1 0.6 1 0.7 1 0.8 1 0.8 1 0.8 1 0.9 1 0.9 1 0.9 1 1 1 1.1 1 1 1 1.1 1.1 1.2 1 1.2 1 1.2 1 1.2 1 1.3 1 1.3 1 1.3 1 1.4 1 1.4 1 1.4 1 1.4 1 1.5 1 1.5 1.1 1.5 1 1.5 1 1.5 1 1.6 1 1.5 1 1.6 1 1.6 1 1.6 1 1.6 1 1.6 1 1.6 1 1.6 1 1.6 1.1 1.6 1 1.7 1 1.6 1 1.6 1 1.6 1 1.7 1 1.6 1 1.6 1 1.6 1 1.6 1 1.6 1 1.6 1 1.6 1 1.6 1.1 1.5 1 1.6 1 1.5 1 1.5 1 1.5 1 1.5 1 1.5 1 1.5 1 1.4 1 1.4 1 1.5 1 1.4 1 1.3 1.1 1.4 1 1.4 1 1.3 1 1.3 1 1.3 1 1.2 1 1.3 1 1.2 1 1.2 1 1.2 1 1.2 1 1.1 1 1.1 1.1 1.1 1 1.1 1 1.1 1 1 1 1 1 1 1 1 1 0.9 1 1 1 0.9 1 0.8 1 0.9 1 0.9 1.1 0.8 1 0.8 1 0.8 1 0.7 1 0.8 1 0.7 1 0.7 1 0.7 1 0.7 1 0.6 1 0.7 1 0.6 1 0.6 1 0.6 1.1 0.5 1 0.6 1 0.5 1 0.5 1 0.5 1 0.5 1 0.5 1 0.4 1 0.4 1 0.5 1 0.4 1 0.4 1 0.4 1.1 0.3 1 0.4 1 0.3 1 0.4 1 0.3 1 0.3 1 0.3 1 0.3 1 0.3 1 0.2 1 0.3 1 0.3 1 0.2 1 0.2 1.1 0.3 1 0.2 1 0.2 1 0.2 1 0.2 1 0.2 1 0.1 1 0.2 1 0.2 1 0.1 1 0.2 1 0.1 1 0.2 1.1 0.1 1 0.2 1 0.1 1 0.1 1 0.1 1 0.1 1 0.1 1 0.1 1 0.1 1 0.1 1 0.1 1 0.1 1 0.1 1.1 0.1 1 0.1 1 0 1 0.1 1 0.1 1 0 1 0.1 1 0.1 1 0 1 0.1 1 0 1 0.1 1 0.1 1.1 0 1 0.1 1 0 1 0 1 0.1 1 0 1 0.1 1 0 1 0 1 0.1 1 0 1 0.1 1 0 1 0 1.1 0.1 1 0 1 0 1 0 1 0.1 1 0 1 0 1 0 1 0.1 1 0 1 0 1 0 1 0.1 1.1 0 1 0 1 0 1 0.1 1 0 1 0 1 0 1 0 1 0 1 0.1 1 0 1 0 1 0 1 0 1.1 0.1 1 0 1 0 1 0 1 0 1 0 1 0 1 0.1 1 0 1 0 1 0 1 0 1 0 1.1 0 1 0.1 1 0 1 0 1 0 1 0 1 0 1 0 1 0.1 1 0 1 0 1 0 1 0 1.1 0 1 0 1 0 1 0.1 1 0 1 0 1 0 1 0 1 0 1 0 1 0 1 0.1 1 0 1.1 0 1 0 1 0 1 0 1 0 1 0.1 1 0 1 0 1 0 1 0 1 0 1 0.1 1 0 1 0 1.1 0 1 0 1 0 1 0.1 1 0 1 0 1 0 1 0 1 0.1 1 0 1 0 1 0 1 0.1 1.1 0 1 0 1 0.1 1 0 1 0 1 0.1 1 0 1 0 1 0.1 1 0 1 0 1 0.1 1 0 1.1 0.1 1 0 1 0.1 1 0 1 0.1 1 0 1 0.1 1 0.1 1 0 1 0.1 1 0 1 0.1 1 0.1 1 0.1 1.1 0 1 0.1 1 0.1 1 0.1 1 0.1 1 0.1 1 0.1 1 0.1 1 0.1 1 0.1 1 0.1 1 0.1 1 0.1 1.1 0.1 1 0.2 1 0.1 1 0.1 1 0.2 1 0.1 1 0.2 1 0.1 1 0.2 1 0.2 1 0.1 1 0.2 1 0.2 1 0.2 1.1 0.2 1 0.2 1 0.2 1 0.2 1 0.2 1 0.2 1 0.2 1 0.3 1 0.2 1 0.3 1 0.2 1 0.3 1 0.2 1.1 0.3 1 0.3 1 0.3 1 0.3 1 0.3 1 0.3 1 0.3 1 0.3 1 0.3 1 0.3 1 0.4 1 0.3 1 0.3 1.1 0.4 1 0.3 1 0.4 1 0.3 1 0.4 1 0.4 1 0.3 1 0.4 1 0.4 1 0.4 1 0.3 1 0.4 1 0.4 1.1 0.4 1 0.4 1 0.3 1 0.4 1 0.4 1 0.4 1 0.4 1 0.3 1 0.4 1 0.4 1 0.4 1 0.3 1 0.4 1 0.4 1.1 0.3 1 0.4 1 0.4 1 0.3 1 0.4 1 0.3 1 0.3 1 0.4 1 0.3 1 0.3 1 0.3 1 0.4 1 0.3 1.1 0.3 1 0.3 1 0.3 1 0.3 1 0.3 1 0.2 1 0.3 1 0.3 1 0.2 1 0.3 1 0.3 1 0.2 1 0.2 1 0.3 1.1 0.2 1 0.2 1 0.3 1 0.2 1 0.2 1 0.2 1 0.2 1 0.2 1 0.2 1 0.2 1 0.2 1 0.2 1 0.1 1.1 0.2 1 0.2 1 0.1 1 0.2 1 0.1 1 0.2 1 0.1 1 0.2 1 0.1 1 0.1 1 0.2 1 0.1 1 0.1 1.1 0.1 1 0.1 1 0.1 1 0.2 1 0.1 1 0 1 0.1 1 0.1 1 0.1 1 0.1 1 0.1 1 0.1 1 0 1 0.1 1.1 0.1 1 0 1 0.1 1 0 1 0.1 1 0.1 1 0 1 0.1 1 0 1 0 1 0.1 1 0 1 0.1 1.1 0 1 0 1 0.1 1 0 1 0 1 0.1 1 0 1 0 1 0 1 0 1 0.1 1 0 1 0 1.1 0 1 0 1 0.1 1 0 1 0 1 0 1 0 1 0 1 0 1 0 1 0 1 0.1 1 0 1.1 0 1 0 1 0 1 0 1 0 1 0 1 0 1 0 1 0 1 0 1 0 1 0 1 0 1 0 1.1 0 1 0 1 0.1 1 0 1 0 1 0 1 0 1 0 1 0 1 0 1 0 1 0 1 0 1.1 0 1 0 1 0 1 0 1 0 1 0 1 0 1 0 1 0 1 0 1 0 1 0 1 0 1 0 1.1 0 1 0 1 0 1 0 1 0 1 0 1 0 1 0 1 0 1 0 1 0 1 0 1 0 1.1 0 1 0 1 0 1 0 1 0 1 0 1 0" fill="none" stroke="#22908e" stroke-width="3.6" stroke-linejoin="round"/>
<path d="M135 1467.7l1.6-0.6 1.6 0 1.6-1.8 1.6 3.7 1.7-0.6 1.6-1.3 1.6 0.9 1.6-0.5 1.6-0.8 1.6 1.4 1.6-1.2 1.6-0.1 1.7-0.4 1.6 1 1.6-0.5 1.6 0.5 1.6-1.1 1.6 0.7 1.6-1 1.6 1.5 1.7-0.6 1.6 0 1.6 0 1.6-1.3 1.6 1.5 1.6 1.1 1.6-3.4 1.6-0.1 1.6 0.1 1.7 2 1.6-0.7 1.6 0.8 1.6-0.4 1.6-0.6 1.6 0 1.6-0.6 1.6 0.9 1.7-2 1.6 0.5 1.6 0.5 1.6 1.3 1.6-2.5 1.6-0.5 1.6 0.3 1.6 1.2 1.7-1.3 1.6 1.2 1.6-3.1 1.6 2.5 1.6-0.3 1.6-2.5 1.6 1.1 1.6 0.7 1.6-1.4 1.7 0.5 1.6 0.9 1.6-2.3 1.6-0.9 1.6-0.9 1.6 0.9 1.6-1.3 1.6-0.5 1.7-0.4 1.6 0.1 1.6-2.2 1.6-1 1.6-1.5 1.6 2.6 1.6-1.8 1.6 0.6 1.7-2.2 1.6-1.5 1.6 0.2 1.6-1.5 1.6-2 1.6-0.7 1.6 1.3 1.6-2.4 1.6-1.1 1.7-1.9 1.6-1.6 1.6 0 1.6-2.2 1.6-2.1 1.6-0.9 1.6-2.2 1.6-0.7 1.7-0.8 1.6-3.5 1.6 0.3 1.6-3.7 1.6-1.2 1.6-2.8 1.6-1.5 1.6-1.8 1.7-2.6 1.6-2.4 1.6-2.2 1.6-2.4 1.6-3 1.6-1.2 1.6-1.8 1.6-2 1.6-2.8 1.7-0.9 1.6-4.5 1.6-3.3 1.6-0.6 1.6-5.3 1.6-0.9 1.6-4.4 1.6-1.6 1.7-4.8 1.6-0.2 1.6-3.7 1.6-3.5 1.6-0.4 1.6-3.5 1.6-3.4 1.6-3.5 1.7-2 1.6-2.8 1.6-1.8 1.6-2.5 1.6-3.9 1.6-2.4 1.6-2.4 1.6-3.1 1.6-1.6 1.7-1.8 1.6-1.5 1.6-1.5 1.6-3.9 1.6-0.6 1.6-2.7 1.6 0.6 1.6-3.5 1.7-1 1.6-2.6 1.6-1.2 1.6-0.1 1.6-1.5 1.6-0.2 1.6-2.5 1.6 1.5 1.7-1.9 1.6 2.1 1.6-2 1.6 1.2 1.6-2.1 1.6 1.9 1.6-0.8 1.6 0.8 1.6 1.1 1.7 0.5 1.6 1.4 1.6 1.5 1.6 1 1.6 0.6 1.6 0.3 1.6 1.9 1.6 2.2 1.7-0.1 1.6 4.4 1.6 1 1.6 1.9 1.6 3.1 1.6 1.9 1.6 1.8 1.6 1.1 1.7 3.5 1.6 2.4 1.6 1.4 1.6 4.2 1.6 2 1.6 0.4 1.6 4.5 1.6 1.4 1.6 4.8 1.7 2.4 1.6 1 1.6 3 1.6 3.6 1.6 2.5 1.6 4.4 1.6 2.1 1.6 1.9 1.7 3.5 1.6 0.5 1.6 4.9 1.6 3.3 1.6 1.8 1.6 2.3 1.6 3.9 1.6 4 1.7 1.1 1.6 1.5 1.6 5 1.6-0.3 1.6 4.7 1.6 1.6 1.6 3.9 1.6 0.9 1.6 4.4 1.7 1.5 1.6 0.5 1.6 2.1 1.6 3.8 1.6 3.6 1.6 1.2 1.6 2 1.6 1.8 1.7 2.9 1.6 1.6 1.6 1.8 1.6 0.7 1.6 3.7 1.6 1.9 1.6-0.7 1.6 4.8 1.7 0.1 1.6 0.4 1.6 0.1 1.6 3.7 1.6 1.2 1.6 0 1.6-0.1 1.6 3.4 1.6-0.8 1.7 0.7 1.6 3.5 1.6-0.1 1.6-0.6 1.6-0.8 1.6 1.6 1.6-2.1 1.6 2.8 1.7-0.2 1.6 0.2 1.6 0.2 1.6 2.5 1.6 0.1 1.6 0.5 1.6 1.1 1.6-1.1 1.7 0 1.6-0.1 1.6 1.6 1.6 1.3 1.6-0.5 1.6 1 1.6-1.4 1.6 0.8 1.6-0.1 1.7-0.3 1.6 2.9 1.6-0.8 1.6-1.4 1.6 0.1 1.6 0.6 1.6-1.2 1.6 1.6 1.7-1.6 1.6 0.8 1.6-0.7 1.6 0.4 1.6-0.9 1.6-0.4 1.6 0.4 1.6 0.1 1.7 0.2 1.6 0.1 1.6 1 1.6-1.1 1.6-1.4 1.6 0.3 1.6-1.8 1.6 1.3 1.6-1.4 1.7-2.4 1.6 1.3 1.6-0.6 1.6-3.7 1.6 1.2 1.6-0.3 1.6-1.7 1.6 0.5 1.7-0.2 1.6 1.2 1.6-0.3 1.6 2 1.6-2.9 1.6 1.3 1.6-1.1 1.6 0 1.7-1.4 1.6-0.9 1.6 0.8 1.6 1.2 1.6 0.5 1.6-1.2 1.6-0.3 1.6-1.6 1.6 1.8 1.7-0.5 1.6-2.1 1.6 0 1.6-1 1.6 2.1 1.6-0.9 1.6-0.3 1.6 0.6 1.7 0.1 1.6-0.8 1.6-0.9 1.6-0.3 1.6-1 1.6 1.2 1.6 0.6 1.6-4.7 1.7 0.3 1.6-1.2 1.6-2.8 1.6-0.6 1.6-3.1 1.6 0 1.6-3.8 1.6-1.8 1.6-2.1 1.7-3.8 1.6-4.3 1.6-2 1.6-2.3 1.6-4.3 1.6-3.6 1.6-5.2 1.6-3.1 1.7-3.9 1.6-5.3 1.6-3.3 1.6-7 1.6-6.2 1.6-5.9 1.6-3.1 1.6-6.8 1.7-4.9 1.6-6.5 1.6-5.3 1.6-6.9 1.6-8.4 1.6-6.7 1.6-7 1.6-10.3 1.6-6.3 1.7-9.3 1.6-9.8 1.6-10.9 1.6-9.7 1.6-11.9 1.6-9.8 1.6-11.7 1.6-10.9 1.7-12.3 1.6-11.3 1.6-11.4 1.6-14.7 1.6-10.5 1.6-15.3 1.6-12.9 1.6-10.8 1.7-12.5 1.6-12 1.6-14.1 1.6-10.5 1.6-11.3 1.6-10 1.6-11.6 1.6-9.3 1.6-10.4 1.7-7.6 1.6-7.5 1.6-5.5 1.6-6.9 1.6-4.2 1.6-2.1 1.6-1 1.6-2.3 1.7 0.1 1.6 0.7 1.6 3.7 1.6 3.1 1.6 5.6 1.6 4.4 1.6 5.4 1.6 7.8 1.7 8 1.6 8.8 1.6 12 1.6 9.9 1.6 9 1.6 14 1.6 10.2 1.6 10.8 1.6 13.2 1.7 11.8 1.6 11.6 1.6 11.2 1.6 14 1.6 12.3 1.6 9.4 1.6 14.6 1.6 11.7 1.7 10.5 1.6 11.7 1.6 10.6 1.6 10.2 1.6 11 1.6 11.8 1.6 7.5 1.6 11.3 1.7 9.6 1.6 8.6 1.6 9.4 1.6 8.1 1.6 9.3 1.6 9.4 1.6 8.6 1.6 7.1 1.6 11.6 1.7 4.6 1.6 8.2 1.6 7.1 1.6 7.1 1.6 8.5 1.6 5.2 1.6 8.2 1.6 6.2 1.7 4.2 1.6 7.8 1.6 4.1 1.6 8.5 1.6 2.4 1.6 4.4 1.6 3.9 1.6 5 1.7 4.9 1.6 3.6 1.6 3.5 1.6 4.1 1.6 3.7 1.6 4.6 1.6 0.1 1.6 3.7 1.6 2.1 1.7 1.8 1.6 2.4 1.6 2.3 1.6 3.2 1.6 0.8 1.6 1.2 1.6 2.4 1.6 0.8 1.7 0.6 1.6 1.5 1.6-0.3 1.6 2.1 1.6 0.4 1.6-0.2 1.6-0.3 1.6 2.9 1.7-1 1.6 3 1.6-3.1 1.6 1.5 1.6-0.9 1.6 0.7 1.6 0.7 1.6-1.3 1.6 0.7 1.7 0.4 1.6 0 1.6 0.6 1.6 0.4 1.6-0.1 1.6-0.4 1.6-0.5 1.6-0.7 1.7 0.4 1.6 0.2 1.6 1.1 1.6-1 1.6-0.7 1.6 1.6 1.6-1.2 1.6 0 1.7 0.5 1.6 0.6 1.6-2.7 1.6 1.2 1.6 1.1" fill="none" stroke="#000" stroke-width="3.2" stroke-linejoin="round"/>
<path d="M135 1467.7l1-0.1 1 0 1 0 1 0 1 0 1 0 1.1 0 1 0 1-0.1 1 0 1 0 1 0 1 0 1 0 1 0 1-0.1 1 0 1 0 1 0 1.1 0 1-0.1 1 0 1 0 1 0 1 0 1 0 1-0.1 1 0 1 0 1 0 1-0.1 1 0 1 0 1.1 0 1-0.1 1 0 1 0 1 0 1-0.1 1 0 1 0 1-0.1 1 0 1 0 1-0.1 1 0 1.1 0 1-0.1 1 0 1-0.1 1 0 1 0 1-0.1 1 0 1-0.1 1 0 1-0.1 1-0.1 1 0 1-0.1 1.1 0 1-0.1 1-0.1 1-0.1 1 0 1-0.1 1-0.1 1-0.1 1-0.1 1 0 1-0.1 1-0.1 1-0.1 1.1-0.2 1-0.1 1-0.1 1-0.1 1-0.1 1-0.2 1-0.1 1-0.1 1-0.2 1-0.1 1-0.2 1-0.2 1-0.1 1.1-0.2 1-0.2 1-0.2 1-0.2 1-0.2 1-0.2 1-0.2 1-0.3 1-0.2 1-0.3 1-0.2 1-0.3 1-0.3 1.1-0.3 1-0.3 1-0.3 1-0.3 1-0.4 1-0.3 1-0.4 1-0.4 1-0.4 1-0.4 1-0.4 1-0.4 1-0.4 1-0.5 1.1-0.5 1-0.5 1-0.5 1-0.5 1-0.5 1-0.6 1-0.6 1-0.5 1-0.7 1-0.6 1-0.6 1-0.7 1-0.7 1.1-0.7 1-0.7 1-0.7 1-0.8 1-0.8 1-0.8 1-0.8 1-0.8 1-0.9 1-0.9 1-0.9 1-0.9 1-0.9 1.1-1 1-1 1-1 1-1.1 1-1 1-1.1 1-1.1 1-1.1 1-1.2 1-1.1 1-1.2 1-1.3 1-1.2 1-1.2 1.1-1.3 1-1.3 1-1.3 1-1.4 1-1.4 1-1.3 1-1.4 1-1.5 1-1.4 1-1.5 1-1.4 1-1.5 1-1.5 1.1-1.6 1-1.5 1-1.6 1-1.5 1-1.6 1-1.6 1-1.6 1-1.6 1-1.7 1-1.6 1-1.7 1-1.6 1-1.7 1-1.7 1.1-1.6 1-1.7 1-1.7 1-1.7 1-1.7 1-1.7 1-1.6 1-1.7 1-1.7 1-1.7 1-1.6 1-1.7 1-1.7 1.1-1.6 1-1.6 1-1.7 1-1.6 1-1.5 1-1.6 1-1.6 1-1.5 1-1.5 1-1.5 1-1.5 1-1.4 1-1.5 1.1-1.3 1-1.4 1-1.3 1-1.3 1-1.3 1-1.2 1-1.2 1-1.2 1-1.1 1-1.1 1-1.1 1-1 1-0.9 1.1-0.9 1-0.9 1-0.8 1-0.8 1-0.7 1-0.7 1-0.7 1-0.5 1-0.6 1-0.5 1-0.4 1-0.4 1-0.3 1-0.3 1.1-0.2 1-0.1 1-0.1 1-0.1 1 0 1 0.1 1 0.1 1 0.1 1 0.2 1 0.3 1 0.3 1 0.4 1 0.4 1.1 0.5 1 0.5 1 0.5 1 0.7 1 0.6 1 0.7 1 0.8 1 0.8 1 0.8 1 0.9 1 0.9 1 1 1 1 1 1 1.1 1.1 1 1.1 1 1.2 1 1.2 1 1.2 1 1.2 1 1.3 1 1.3 1 1.3 1 1.4 1 1.4 1 1.4 1 1.4 1.1 1.4 1 1.5 1 1.5 1 1.5 1 1.6 1 1.5 1 1.6 1 1.5 1 1.6 1 1.6 1 1.6 1 1.7 1 1.6 1.1 1.7 1 1.6 1 1.7 1 1.7 1 1.6 1 1.7 1 1.7 1 1.7 1 1.7 1 1.7 1 1.7 1 1.7 1 1.7 1 1.7 1.1 1.7 1 1.7 1 1.7 1 1.7 1 1.6 1 1.7 1 1.7 1 1.7 1 1.6 1 1.7 1 1.7 1 1.6 1 1.6 1.1 1.7 1 1.6 1 1.6 1 1.6 1 1.5 1 1.6 1 1.6 1 1.5 1 1.5 1 1.6 1 1.4 1 1.5 1 1.5 1.1 1.4 1 1.5 1 1.4 1 1.4 1 1.4 1 1.3 1 1.4 1 1.3 1 1.3 1 1.3 1 1.2 1 1.3 1 1.2 1.1 1.2 1 1.2 1 1.1 1 1.2 1 1.1 1 1.1 1 1.1 1 1 1 1.1 1 1 1 0.9 1 1 1 1 1 0.9 1.1 0.9 1 0.9 1 0.8 1 0.8 1 0.9 1 0.8 1 0.7 1 0.8 1 0.7 1 0.7 1 0.7 1 0.7 1 0.6 1.1 0.7 1 0.6 1 0.6 1 0.6 1 0.5 1 0.6 1 0.5 1 0.5 1 0.5 1 0.5 1 0.4 1 0.5 1 0.4 1 0.4 1.1 0.4 1 0.4 1 0.4 1 0.3 1 0.4 1 0.3 1 0.3 1 0.3 1 0.3 1 0.3 1 0.3 1 0.2 1 0.3 1.1 0.2 1 0.2 1 0.3 1 0.2 1 0.2 1 0.2 1 0.2 1 0.1 1 0.2 1 0.2 1 0.1 1 0.2 1 0.1 1.1 0.2 1 0.1 1 0.1 1 0.1 1 0.2 1 0.1 1 0.1 1 0.1 1 0.1 1 0.1 1 0.1 1 0 1 0.1 1.1 0.1 1 0.1 1 0 1 0.1 1 0.1 1 0 1 0.1 1 0 1 0.1 1 0 1 0.1 1 0 1 0.1 1 0 1.1 0.1 1 0 1 0 1 0.1 1 0 1 0 1 0.1 1 0 1 0 1 0 1 0.1 1 0 1 0 1.1 0 1 0 1 0 1 0.1 1 0 1 0 1 0 1 0 1 0 1 0 1 0 1 0 1-0.1 1 0 1.1 0 1 0 1 0 1-0.1 1 0 1 0 1-0.1 1 0 1-0.1 1 0 1-0.1 1-0.1 1 0 1.1-0.1 1-0.1 1-0.1 1-0.1 1-0.1 1-0.2 1-0.1 1-0.1 1-0.2 1-0.2 1-0.1 1-0.2 1-0.2 1.1-0.2 1-0.3 1-0.2 1-0.3 1-0.3 1-0.3 1-0.3 1-0.3 1-0.4 1-0.4 1-0.4 1-0.4 1-0.5 1.1-0.4 1-0.5 1-0.6 1-0.5 1-0.6 1-0.7 1-0.6 1-0.7 1-0.7 1-0.8 1-0.8 1-0.9 1-0.9 1-0.9 1.1-1 1-1 1-1.1 1-1.1 1-1.1 1-1.3 1-1.2 1-1.4 1-1.4 1-1.4 1-1.5 1-1.6 1-1.6 1.1-1.7 1-1.8 1-1.8 1-1.9 1-2 1-2 1-2.2 1-2.2 1-2.2 1-2.4 1-2.4 1-2.5 1-2.6 1.1-2.7 1-2.8 1-2.8 1-3 1-3 1-3.2 1-3.2 1-3.3 1-3.4 1-3.6 1-3.6 1-3.7 1-3.8 1-4 1.1-4 1-4.2 1-4.2 1-4.4 1-4.5 1-4.6 1-4.8 1-4.8 1-5 1-5.1 1-5.2 1-5.4 1-5.4 1.1-5.6 1-5.8 1-5.8 1-6 1-6.2 1-6.2 1-6.4 1-6.5 1-6.7 1-6.7 1-6.9 1-7 1-7.1 1-7.2 1.1-7.4 1-7.4 1-7.5 1-7.6 1-7.6 1-7.7 1-7.8 1-7.8 1-7.8 1-7.9 1-7.8 1-7.8 1-7.8 1.1-7.8 1-7.6 1-7.6 1-7.5 1-7.4 1-7.2 1-7 1-6.9 1-6.6 1-6.4 1-6.2 1-5.9 1-5.7 1.1-5.3 1-5 1-4.7 1-4.3 1-3.9 1-3.6 1-3.2 1-2.7 1-2.4 1-1.9 1-1.4 1-1.1 1-0.6 1.1-0.1 1 0.2 1 0.8 1 1.1 1 1.6 1 2 1 2.5 1 2.8 1 3.3 1 3.6 1 4 1 4.3 1 4.7 1 5 1.1 5.3 1 5.5 1 5.9 1 6.1 1 6.3 1 6.5 1 6.6 1 6.9 1 7 1 7.1 1 7.2 1 7.3 1 7.4 1.1 7.5 1 7.4 1 7.5 1 7.5 1 7.5 1 7.5 1 7.5 1 7.4 1 7.4 1 7.3 1 7.2 1 7.2 1 7.1 1 7.1 1.1 6.9 1 6.9 1 6.8 1 6.7 1 6.6 1 6.5 1 6.5 1 6.3 1 6.3 1 6.2 1 6.1 1 6 1 5.9 1.1 5.8 1 5.8 1 5.7 1 5.6 1 5.5 1 5.5 1 5.4 1 5.3 1 5.2 1 5.2 1 5.1 1 5 1 4.9 1.1 4.9 1 4.8 1 4.7 1 4.7 1 4.6 1 4.5 1 4.4 1 4.3 1 4.3 1 4.2 1 4.1 1 4 1 3.9 1 3.9 1.1 3.7 1 3.7 1 3.6 1 3.4 1 3.4 1 3.3 1 3.3 1 3.1 1 3 1 2.9 1 2.9 1 2.7 1 2.7 1.1 2.6 1 2.5 1 2.4 1 2.3 1 2.2 1 2.1 1 2.1 1 1.9 1 1.9 1 1.8 1 1.7 1 1.7 1 1.5 1.1 1.5 1 1.5 1 1.3 1 1.3 1 1.3 1 1.1 1 1.1 1 1.1 1 1 1 0.9 1 0.9 1 0.8 1 0.8 1.1 0.8 1 0.7 1 0.7 1 0.6 1 0.6 1 0.5 1 0.5 1 0.5 1 0.5 1 0.4 1 0.4 1 0.4 1 0.4 1 0.3 1.1 0.3 1 0.3 1 0.2 1 0.3 1 0.2 1 0.2 1 0.2 1 0.2 1 0.2 1 0.2 1 0.1 1 0.2 1 0.1 1.1 0.1 1 0.1 1 0.1 1 0.1 1 0.1 1 0.1 1 0.1 1 0.1 1 0 1 0.1 1 0.1 1 0 1 0.1 1 0 1.1 0.1 1 0 1 0 1 0.1 1 0 1 0 1 0.1 1 0 1 0 1 0 1 0.1 1 0 1 0 1.1 0 1 0 1 0 1 0.1 1 0 1 0 1 0" fill="none" stroke="#f00000" stroke-width="3.6" stroke-linejoin="round"/>
<path d="M135 1469.3l1 0 1 0 1 0 1 0 1 0 1 0 1.1 0 1 0 1 0 1 0 1 0 1 0 1 0 1 0 1 0 1 0 1 0 1 0 1 0 1.1 0 1 0 1 0 1 0 1 0 1 0 1 0 1 0 1 0 1 0 1 0 1 0 1 0 1 0 1.1 0.1 1 0 1 0 1 0 1 0 1 0 1 0 1 0 1 0 1 0 1 0 1 0 1 0 1.1 0 1 0 1 0 1 0 1 0 1 0 1 0 1 0 1 0 1 0 1 0 1 0 1 0 1 0 1.1 0 1 0 1 0 1 0 1 0 1 0 1 0 1 0 1 0 1 0 1 0 1 0.1 1 0 1.1 0 1 0 1 0 1 0 1 0 1 0 1 0 1 0 1 0 1 0 1 0 1 0 1 0 1.1 0 1 0 1 0 1 0 1 0 1 0.1 1 0 1 0 1 0 1 0 1 0 1 0 1 0 1.1 0 1 0 1 0 1 0 1 0 1 0.1 1 0 1 0 1 0 1 0 1 0 1 0 1 0 1 0 1.1 0.1 1 0 1 0 1 0 1 0 1 0 1 0 1 0.1 1 0 1 0 1 0 1 0 1 0 1.1 0.1 1 0 1 0 1 0 1 0.1 1 0 1 0 1 0 1 0 1 0.1 1 0 1 0 1 0.1 1.1 0 1 0 1 0 1 0.1 1 0 1 0 1 0.1 1 0 1 0.1 1 0 1 0 1 0.1 1 0 1 0.1 1.1 0 1 0 1 0.1 1 0 1 0.1 1 0 1 0.1 1 0 1 0.1 1 0 1 0.1 1 0 1 0.1 1.1 0.1 1 0 1 0.1 1 0.1 1 0 1 0.1 1 0.1 1 0 1 0.1 1 0.1 1 0 1 0.1 1 0.1 1 0.1 1.1 0 1 0.1 1 0.1 1 0.1 1 0.1 1 0.1 1 0.1 1 0 1 0.1 1 0.1 1 0.1 1 0.1 1 0.1 1.1 0.1 1 0.1 1 0.1 1 0.1 1 0.1 1 0.1 1 0.2 1 0.1 1 0.1 1 0.1 1 0.1 1 0.1 1 0.1 1.1 0.1 1 0.2 1 0.1 1 0.1 1 0.1 1 0.2 1 0.1 1 0.1 1 0.1 1 0.2 1 0.1 1 0.1 1 0.2 1.1 0.1 1 0.1 1 0.2 1 0.1 1 0.1 1 0.2 1 0.1 1 0.1 1 0.2 1 0.1 1 0.2 1 0.1 1 0.1 1 0.2 1.1 0.1 1 0.2 1 0.1 1 0.1 1 0.2 1 0.1 1 0.2 1 0.1 1 0.1 1 0.2 1 0.1 1 0.2 1 0.1 1.1 0.2 1 0.1 1 0.1 1 0.2 1 0.1 1 0.2 1 0.1 1 0.1 1 0.2 1 0.1 1 0.1 1 0.2 1 0.1 1 0.1 1.1 0.2 1 0.1 1 0.1 1 0.2 1 0.1 1 0.1 1 0.2 1 0.1 1 0.1 1 0.1 1 0.2 1 0.1 1 0.1 1.1 0.1 1 0.1 1 0.2 1 0.1 1 0.1 1 0.1 1 0.1 1 0.1 1 0.1 1 0.2 1 0.1 1 0.1 1 0.1 1.1 0.1 1 0.1 1 0.1 1 0.1 1 0.1 1 0.1 1 0.1 1 0.1 1 0.1 1 0.1 1 0 1 0.1 1 0.1 1 0.1 1.1 0.1 1 0.1 1 0.1 1 0 1 0.1 1 0.1 1 0.1 1 0 1 0.1 1 0.1 1 0.1 1 0 1 0.1 1.1 0.1 1 0 1 0.1 1 0.1 1 0 1 0.1 1 0 1 0.1 1 0.1 1 0 1 0.1 1 0 1 0.1 1.1 0 1 0.1 1 0 1 0.1 1 0 1 0.1 1 0 1 0 1 0.1 1 0 1 0.1 1 0 1 0 1.1 0.1 1 0 1 0 1 0.1 1 0 1 0 1 0.1 1 0 1 0 1 0.1 1 0 1 0 1 0 1 0.1 1.1 0 1 0 1 0 1 0.1 1 0 1 0 1 0 1 0 1 0.1 1 0 1 0 1 0 1 0 1.1 0 1 0 1 0.1 1 0 1 0 1 0 1 0 1 0 1 0 1 0 1 0.1 1 0 1 0 1 0 1.1 0 1 0 1 0 1 0 1 0 1 0 1 0.1 1 0 1 0 1 0 1 0 1 0 1 0 1.1 0 1 0 1 0 1 0 1 0 1 0 1 0 1 0 1 0 1 0 1 0 1 0.1 1 0 1.1 0 1 0 1 0 1 0 1 0 1 0 1 0 1 0 1 0 1 0 1 0 1 0 1 0 1.1 0 1 0 1 0 1 0 1 0 1 0 1 0 1 0 1 0 1 0 1 0 1 0 1 0 1 0 1.1 0 1 0 1 0 1 0 1 0 1 0 1 0 1 0 1 0 1 0.1 1 0 1 0 1 0 1.1 0 1 0 1 0 1 0 1 0 1 0 1 0 1 0 1 0 1 0 1 0 1 0 1 0 1 0 1.1 0 1 0 1 0 1 0 1 0 1 0 1 0 1 0 1 0 1 0 1 0 1 0 1 0 1.1 0 1 0 1 0 1 0 1 0 1 0 1 0 1 0 1 0 1 0 1 0 1 0 1 0 1.1 0 1 0 1 0 1 0.1 1 0 1 0 1 0 1 0 1 0 1 0 1 0 1 0 1 0 1.1 0 1 0 1 0 1 0 1 0 1 0.1 1 0 1 0 1 0 1 0 1 0 1 0 1 0 1 0.1 1.1 0 1 0 1 0 1 0 1 0 1 0.1 1 0 1 0 1 0 1 0.1 1 0 1 0 1 0 1.1 0.1 1 0 1 0 1 0.1 1 0 1 0 1 0.1 1 0 1 0.1 1 0 1 0.1 1 0 1 0.1 1.1 0 1 0.1 1 0 1 0.1 1 0.1 1 0 1 0.1 1 0.1 1 0.1 1 0 1 0.1 1 0.1 1 0.1 1 0.1 1.1 0.1 1 0.1 1 0.1 1 0.1 1 0.1 1 0.1 1 0.1 1 0.1 1 0.2 1 0.1 1 0.1 1 0.2 1 0.1 1.1 0.2 1 0.1 1 0.2 1 0.1 1 0.2 1 0.2 1 0.2 1 0.1 1 0.2 1 0.2 1 0.2 1 0.2 1 0.2 1 0.2 1.1 0.3 1 0.2 1 0.2 1 0.3 1 0.2 1 0.2 1 0.3 1 0.2 1 0.3 1 0.3 1 0.2 1 0.3 1 0.3 1.1 0.2 1 0.3 1 0.3 1 0.3 1 0.2 1 0.3 1 0.3 1 0.3 1 0.2 1 0.3 1 0.3 1 0.2 1 0.3 1.1 0.2 1 0.3 1 0.2 1 0.3 1 0.2 1 0.2 1 0.2 1 0.1 1 0.2 1 0.2 1 0.1 1 0.1 1 0.1 1.1 0.1 1 0 1 0 1 0 1 0 1 0 1-0.1 1-0.1 1-0.1 1-0.2 1-0.2 1-0.2 1-0.2 1-0.3 1.1-0.3 1-0.3 1-0.3 1-0.4 1-0.4 1-0.4 1-0.5 1-0.5 1-0.5 1-0.5 1-0.5 1-0.6 1-0.6 1.1-0.5 1-0.6 1-0.6 1-0.6 1-0.6 1-0.7 1-0.6 1-0.6 1-0.6 1-0.5 1-0.6 1-0.6 1-0.5 1-0.5 1.1-0.5 1-0.4 1-0.5 1-0.3 1-0.4 1-0.3 1-0.3 1-0.2 1-0.2 1-0.1 1-0.1 1 0 1 0 1.1 0.1 1 0.1 1 0.2 1 0.3 1 0.3 1 0.3 1 0.4 1 0.5 1 0.5 1 0.5 1 0.6 1 0.7 1 0.7 1.1 0.7 1 0.8 1 0.8 1 0.8 1 0.9 1 0.8 1 1 1 0.9 1 0.9 1 1 1 1 1 1 1 1 1 1 1.1 1 1 1 1 1 1 1 1 1 1 1 1 1 1 0.9 1 0.9 1 1 1 0.9 1 0.8 1 0.9 1.1 0.8 1 0.8 1 0.8 1 0.8 1 0.7 1 0.7 1 0.7 1 0.7 1 0.6 1 0.6 1 0.6 1 0.5 1 0.5 1.1 0.5 1 0.5 1 0.5 1 0.4 1 0.4 1 0.4 1 0.3 1 0.3 1 0.4 1 0.3 1 0.2 1 0.3 1 0.2 1.1 0.2 1 0.3 1 0.2 1 0.1 1 0.2 1 0.2 1 0.1 1 0.1 1 0.1 1 0.2 1 0.1 1 0.1 1 0 1 0.1 1.1 0.1 1 0.1 1 0 1 0.1 1 0 1 0.1 1 0 1 0.1 1 0 1 0 1 0.1 1 0 1 0 1.1 0 1 0.1 1 0 1 0 1 0 1 0 1 0 1 0 1 0.1 1 0 1 0 1 0 1 0 1 0 1.1 0 1 0 1 0 1 0 1 0 1 0 1 0 1 0 1 0 1 0 1 0 1 0 1 0.1 1.1 0 1 0 1 0 1 0 1 0 1 0 1 0" fill="none" stroke="#1a1aff" stroke-width="3.6" stroke-linejoin="round"/>
<path d="M135 1469.3l1 0 1 0 1 0 1 0 1 0 1 0 1.1 0 1 0 1 0 1 0 1 0 1 0 1 0 1 0 1 0 1 0 1 0 1 0 1 0 1.1 0 1 0 1 0 1 0 1 0 1 0 1 0 1 0 1 0 1 0 1 0 1 0.1 1 0 1 0 1.1 0 1 0 1 0 1 0 1 0 1 0 1 0 1 0 1 0 1 0 1 0 1 0 1 0 1.1 0 1 0 1 0 1 0 1 0 1 0 1 0 1 0 1 0 1 0 1 0 1 0 1 0 1 0 1.1 0 1 0 1 0 1 0 1 0 1 0 1 0 1 0 1 0 1 0.1 1 0 1 0 1 0 1.1 0 1 0 1 0 1 0 1 0 1 0 1 0 1 0 1 0 1 0 1 0 1 0 1 0 1.1 0 1 0 1 0 1 0 1 0.1 1 0 1 0 1 0 1 0 1 0 1 0 1 0 1 0 1.1 0 1 0 1 0 1 0 1 0.1 1 0 1 0 1 0 1 0 1 0 1 0 1 0 1 0 1 0.1 1.1 0 1 0 1 0 1 0 1 0 1 0 1 0.1 1 0 1 0 1 0 1 0 1 0 1 0.1 1.1 0 1 0 1 0 1 0 1 0.1 1 0 1 0 1 0 1 0.1 1 0 1 0 1 0 1 0.1 1.1 0 1 0 1 0.1 1 0 1 0 1 0.1 1 0 1 0 1 0.1 1 0 1 0 1 0.1 1 0 1 0.1 1.1 0 1 0 1 0.1 1 0 1 0.1 1 0 1 0.1 1 0 1 0.1 1 0 1 0.1 1 0.1 1 0 1.1 0.1 1 0 1 0.1 1 0.1 1 0 1 0.1 1 0.1 1 0 1 0.1 1 0.1 1 0 1 0.1 1 0.1 1 0.1 1.1 0.1 1 0 1 0.1 1 0.1 1 0.1 1 0.1 1 0.1 1 0.1 1 0 1 0.1 1 0.1 1 0.1 1 0.1 1.1 0.1 1 0.1 1 0.1 1 0.1 1 0.1 1 0.2 1 0.1 1 0.1 1 0.1 1 0.1 1 0.1 1 0.1 1 0.1 1.1 0.2 1 0.1 1 0.1 1 0.1 1 0.1 1 0.2 1 0.1 1 0.1 1 0.1 1 0.2 1 0.1 1 0.1 1 0.2 1.1 0.1 1 0.1 1 0.2 1 0.1 1 0.1 1 0.2 1 0.1 1 0.1 1 0.2 1 0.1 1 0.2 1 0.1 1 0.1 1 0.2 1.1 0.1 1 0.2 1 0.1 1 0.1 1 0.2 1 0.1 1 0.2 1 0.1 1 0.2 1 0.1 1 0.1 1 0.2 1 0.1 1.1 0.2 1 0.1 1 0.1 1 0.2 1 0.1 1 0.2 1 0.1 1 0.1 1 0.2 1 0.1 1 0.2 1 0.1 1 0.1 1 0.2 1.1 0.1 1 0.1 1 0.2 1 0.1 1 0.1 1 0.1 1 0.2 1 0.1 1 0.1 1 0.1 1 0.2 1 0.1 1 0.1 1.1 0.1 1 0.2 1 0.1 1 0.1 1 0.1 1 0.1 1 0.1 1 0.1 1 0.2 1 0.1 1 0.1 1 0.1 1 0.1 1.1 0.1 1 0.1 1 0.1 1 0.1 1 0.1 1 0.1 1 0.1 1 0.1 1 0.1 1 0.1 1 0.1 1 0 1 0.1 1 0.1 1.1 0.1 1 0.1 1 0.1 1 0.1 1 0 1 0.1 1 0.1 1 0.1 1 0 1 0.1 1 0.1 1 0.1 1 0 1.1 0.1 1 0.1 1 0 1 0.1 1 0 1 0.1 1 0.1 1 0 1 0.1 1 0 1 0.1 1 0 1 0.1 1.1 0 1 0.1 1 0 1 0.1 1 0 1 0.1 1 0 1 0.1 1 0 1 0 1 0.1 1 0 1 0.1 1.1 0 1 0 1 0.1 1 0 1 0 1 0.1 1 0 1 0 1 0.1 1 0 1 0 1 0 1 0.1 1 0 1.1 0 1 0 1 0.1 1 0 1 0 1 0 1 0 1 0.1 1 0 1 0 1 0 1 0 1 0 1.1 0.1 1 0 1 0 1 0 1 0 1 0 1 0 1 0 1 0.1 1 0 1 0 1 0 1 0 1 0 1.1 0 1 0 1 0 1 0.1 1 0 1 0 1 0 1 0 1 0 1 0 1 0 1 0 1 0 1.1 0 1 0 1 0 1 0 1 0 1 0 1 0.1 1 0 1 0 1 0 1 0 1 0 1 0 1.1 0 1 0 1 0 1 0 1 0 1 0 1 0 1 0 1 0 1 0 1 0 1 0 1 0 1.1 0 1 0 1 0 1 0 1 0 1 0 1 0 1 0 1 0 1 0 1 0 1 0 1 0 1 0 1.1 0 1 0 1 0 1 0 1 0 1 0 1 0 1 0 1 0 1 0 1 0 1 0 1 0 1.1 0 1-0.1 1 0 1 0 1 0 1 0 1 0 1-0.1 1 0 1 0 1 0 1-0.1 1 0 1 0 1.1-0.1 1 0 1 0 1-0.1 1 0 1-0.1 1 0 1-0.1 1-0.1 1-0.1 1 0 1-0.1 1-0.1 1.1-0.1 1-0.1 1-0.1 1-0.1 1-0.2 1-0.1 1-0.1 1-0.2 1-0.2 1-0.1 1-0.2 1-0.2 1-0.3 1.1-0.2 1-0.2 1-0.3 1-0.3 1-0.2 1-0.4 1-0.3 1-0.3 1-0.4 1-0.4 1-0.4 1-0.4 1-0.5 1.1-0.5 1-0.5 1-0.6 1-0.5 1-0.6 1-0.7 1-0.6 1-0.7 1-0.8 1-0.8 1-0.8 1-0.8 1-0.9 1-1 1.1-0.9 1-1.1 1-1.1 1-1.1 1-1.2 1-1.2 1-1.3 1-1.3 1-1.4 1-1.5 1-1.5 1-1.6 1-1.6 1.1-1.7 1-1.8 1-1.8 1-1.9 1-2 1-2 1-2.2 1-2.2 1-2.3 1-2.3 1-2.4 1-2.6 1-2.6 1.1-2.7 1-2.7 1-2.9 1-3 1-3 1-3.1 1-3.3 1-3.3 1-3.4 1-3.6 1-3.6 1-3.7 1-3.8 1-4 1.1-4 1-4.2 1-4.3 1-4.3 1-4.5 1-4.7 1-4.7 1-4.8 1-5 1-5.1 1-5.2 1-5.4 1-5.5 1.1-5.6 1-5.7 1-5.9 1-6 1-6.1 1-6.3 1-6.3 1-6.6 1-6.6 1-6.8 1-6.8 1-7 1-7.1 1-7.2 1.1-7.3 1-7.5 1-7.4 1-7.6 1-7.7 1-7.7 1-7.7 1-7.8 1-7.8 1-7.8 1-7.8 1-7.8 1-7.7 1.1-7.7 1-7.7 1-7.5 1-7.4 1-7.3 1-7.1 1-7 1-6.7 1-6.6 1-6.3 1-6.1 1-5.8 1-5.5 1.1-5.2 1-4.8 1-4.5 1-4.1 1-3.8 1-3.3 1-2.9 1-2.6 1-2 1-1.7 1-1.1 1-0.8 1-0.2 1.1 0.2 1 0.7 1 1.1 1 1.6 1 2.1 1 2.5 1 2.9 1 3.4 1 3.8 1 4.2 1 4.5 1 5 1 5.3 1 5.7 1.1 6 1 6.3 1 6.6 1 6.8 1 7.1 1 7.4 1 7.5 1 7.7 1 7.8 1 8 1 8.2 1 8.2 1 8.3 1.1 8.3 1 8.4 1 8.4 1 8.5 1 8.4 1 8.4 1 8.4 1 8.3 1 8.2 1 8.2 1 8.1 1 8.1 1 7.9 1 7.8 1.1 7.7 1 7.5 1 7.5 1 7.3 1 7.2 1 7.1 1 6.9 1 6.8 1 6.6 1 6.5 1 6.4 1 6.2 1 6.1 1.1 6 1 5.8 1 5.6 1 5.6 1 5.4 1 5.3 1 5.1 1 5 1 4.9 1 4.7 1 4.7 1 4.5 1 4.4 1.1 4.3 1 4.1 1 4.1 1 3.9 1 3.8 1 3.7 1 3.7 1 3.5 1 3.4 1 3.3 1 3.2 1 3.1 1 3 1 2.9 1.1 2.8 1 2.8 1 2.6 1 2.6 1 2.4 1 2.4 1 2.3 1 2.3 1 2.1 1 2.1 1 2 1 1.9 1 1.9 1.1 1.7 1 1.7 1 1.7 1 1.6 1 1.5 1 1.4 1 1.4 1 1.4 1 1.3 1 1.2 1 1.2 1 1.1 1 1 1.1 1.1 1 0.9 1 1 1 0.9 1 0.8 1 0.8 1 0.8 1 0.7 1 0.7 1 0.7 1 0.6 1 0.6 1 0.5 1.1 0.6 1 0.5 1 0.5 1 0.4 1 0.4 1 0.4 1 0.4 1 0.4 1 0.3 1 0.3 1 0.4 1 0.2 1 0.3 1 0.3 1.1 0.2 1 0.2 1 0.2 1 0.2 1 0.2 1 0.2 1 0.1 1 0.2 1 0.1 1 0.2 1 0.1 1 0.1 1 0.1 1.1 0.1 1 0.1 1 0.1 1 0.1 1 0.1 1 0 1 0.1 1 0.1 1 0 1 0.1 1 0 1 0.1 1 0 1 0 1.1 0.1 1 0 1 0 1 0.1 1 0 1 0 1 0 1 0.1 1 0 1 0 1 0 1 0 1 0.1 1.1 0 1 0 1 0 1 0 1 0 1 0 1 0" fill="none" stroke="#ff8a1c" stroke-width="3.6" stroke-linejoin="round"/>
<path d="M135 1469.3l1 0 1 0 1 0 1 0 1 0 1 0 1.1 0 1 0 1 0 1 0 1 0 1 0 1 0 1 0 1 0 1 0 1 0 1 0 1 0 1.1 0 1 0 1 0 1 0 1 0 1 0 1 0 1 0 1 0 1 0 1 0 1 0 1 0 1 0 1.1 0 1 0 1 0 1 0 1 0 1 0 1 0 1 0 1 0 1 0 1 0 1 0 1 0.1 1.1 0 1 0 1 0 1 0 1 0 1 0 1 0 1 0 1 0 1 0 1 0 1 0 1 0 1 0 1.1 0 1 0 1 0 1 0 1 0 1 0 1 0 1 0 1 0 1 0 1 0 1 0 1 0 1.1 0 1 0 1 0 1 0 1 0 1 0 1 0.1 1 0 1 0 1 0 1 0 1 0 1 0 1.1 0 1 0 1 0 1 0 1 0 1 0 1 0 1 0 1 0 1 0 1 0 1 0.1 1 0 1.1 0 1 0 1 0 1 0 1 0 1 0 1 0 1 0 1 0 1 0.1 1 0 1 0 1 0 1 0 1.1 0 1 0 1 0 1 0 1 0.1 1 0 1 0 1 0 1 0 1 0 1 0.1 1 0 1 0 1.1 0 1 0 1 0.1 1 0 1 0 1 0 1 0 1 0.1 1 0 1 0 1 0 1 0.1 1 0 1.1 0 1 0 1 0.1 1 0 1 0 1 0.1 1 0 1 0 1 0.1 1 0 1 0 1 0.1 1 0 1 0.1 1.1 0 1 0 1 0.1 1 0 1 0.1 1 0 1 0.1 1 0 1 0.1 1 0 1 0.1 1 0 1 0.1 1.1 0 1 0.1 1 0 1 0.1 1 0.1 1 0 1 0.1 1 0 1 0.1 1 0.1 1 0 1 0.1 1 0.1 1 0 1.1 0.1 1 0.1 1 0 1 0.1 1 0.1 1 0 1 0.1 1 0.1 1 0.1 1 0 1 0.1 1 0.1 1 0.1 1.1 0 1 0.1 1 0.1 1 0 1 0.1 1 0.1 1 0.1 1 0 1 0.1 1 0.1 1 0 1 0.1 1 0.1 1.1 0 1 0.1 1 0 1 0.1 1 0 1 0.1 1 0.1 1 0 1 0 1 0.1 1 0 1 0.1 1 0 1.1 0 1 0.1 1 0 1 0 1 0 1 0 1 0 1 0 1 0 1 0 1 0 1 0 1 0 1 0 1.1-0.1 1 0 1 0 1-0.1 1 0 1-0.1 1-0.1 1 0 1-0.1 1-0.1 1-0.1 1 0 1-0.1 1.1-0.1 1-0.1 1-0.2 1-0.1 1-0.1 1-0.1 1-0.1 1-0.2 1-0.1 1-0.2 1-0.1 1-0.1 1-0.2 1-0.2 1.1-0.1 1-0.2 1-0.1 1-0.2 1-0.2 1-0.1 1-0.2 1-0.2 1-0.2 1-0.1 1-0.2 1-0.2 1-0.1 1.1-0.2 1-0.2 1-0.1 1-0.2 1-0.1 1-0.2 1-0.2 1-0.1 1-0.1 1-0.2 1-0.1 1-0.1 1-0.1 1.1-0.1 1-0.1 1-0.1 1-0.1 1-0.1 1-0.1 1 0 1-0.1 1 0 1 0 1-0.1 1 0 1 0 1 0 1.1 0.1 1 0 1 0 1 0.1 1 0.1 1 0.1 1 0 1 0.1 1 0.2 1 0.1 1 0.1 1 0.2 1 0.1 1.1 0.2 1 0.2 1 0.2 1 0.2 1 0.2 1 0.2 1 0.2 1 0.3 1 0.2 1 0.3 1 0.2 1 0.3 1 0.3 1.1 0.2 1 0.3 1 0.3 1 0.3 1 0.3 1 0.3 1 0.4 1 0.3 1 0.3 1 0.3 1 0.3 1 0.4 1 0.3 1.1 0.3 1 0.4 1 0.3 1 0.3 1 0.3 1 0.4 1 0.3 1 0.3 1 0.4 1 0.3 1 0.3 1 0.3 1 0.3 1 0.3 1.1 0.3 1 0.4 1 0.3 1 0.2 1 0.3 1 0.3 1 0.3 1 0.3 1 0.3 1 0.2 1 0.3 1 0.2 1 0.3 1.1 0.2 1 0.3 1 0.2 1 0.2 1 0.2 1 0.3 1 0.2 1 0.2 1 0.2 1 0.2 1 0.1 1 0.2 1 0.2 1 0.2 1.1 0.1 1 0.2 1 0.1 1 0.2 1 0.1 1 0.2 1 0.1 1 0.1 1 0.1 1 0.2 1 0.1 1 0.1 1 0.1 1.1 0.1 1 0.1 1 0.1 1 0 1 0.1 1 0.1 1 0.1 1 0.1 1 0 1 0.1 1 0.1 1 0 1 0.1 1.1 0 1 0.1 1 0 1 0.1 1 0 1 0 1 0.1 1 0 1 0.1 1 0 1 0 1 0.1 1 0 1.1 0 1 0 1 0.1 1 0 1 0 1 0 1 0 1 0.1 1 0 1 0 1 0 1 0 1 0 1 0 1.1 0.1 1 0 1 0 1 0 1 0 1 0 1 0 1 0 1 0 1 0 1 0 1 0.1 1 0 1.1 0 1 0 1 0 1 0 1 0 1 0 1 0 1 0 1 0 1 0 1 0 1 0 1 0 1 0 1.1 0 1 0 1 0 1 0 1 0.1 1 0 1 0 1 0 1 0 1 0 1 0 1 0 1 0 1.1 0 1 0 1 0 1 0 1 0 1 0 1 0 1 0 1 0 1 0 1 0 1 0 1 0 1.1 0 1 0 1 0 1 0.1 1 0 1 0 1 0 1 0 1 0 1 0 1 0 1 0 1 0 1.1 0 1 0 1 0 1 0.1 1 0 1 0 1 0 1 0 1 0 1 0 1 0 1 0.1 1 0 1 0 1.1 0 1 0 1 0 1 0.1 1 0 1 0 1 0 1 0 1 0.1 1 0 1 0 1 0.1 1 0 1.1 0 1 0.1 1 0 1 0 1 0.1 1 0 1 0 1 0.1 1 0 1 0.1 1 0 1 0.1 1 0 1.1 0.1 1 0.1 1 0 1 0.1 1 0 1 0.1 1 0.1 1 0.1 1 0 1 0.1 1 0.1 1 0.1 1 0.1 1 0.1 1.1 0.1 1 0.1 1 0.1 1 0.1 1 0.1 1 0.1 1 0.1 1 0.2 1 0.1 1 0.1 1 0.2 1 0.1 1 0.2 1.1 0.1 1 0.2 1 0.1 1 0.2 1 0.2 1 0.2 1 0.1 1 0.2 1 0.2 1 0.2 1 0.2 1 0.3 1 0.2 1 0.2 1.1 0.2 1 0.3 1 0.2 1 0.3 1 0.2 1 0.3 1 0.3 1 0.3 1 0.2 1 0.3 1 0.3 1 0.3 1 0.4 1.1 0.3 1 0.3 1 0.3 1 0.4 1 0.3 1 0.4 1 0.4 1 0.3 1 0.4 1 0.4 1 0.4 1 0.4 1 0.4 1.1 0.4 1 0.4 1 0.4 1 0.4 1 0.4 1 0.4 1 0.5 1 0.4 1 0.4 1 0.5 1 0.4 1 0.4 1 0.5 1.1 0.4 1 0.5 1 0.4 1 0.4 1 0.5 1 0.4 1 0.5 1 0.4 1 0.4 1 0.4 1 0.5 1 0.4 1 0.4 1 0.4 1.1 0.4 1 0.5 1 0.4 1 0.4 1 0.3 1 0.4 1 0.4 1 0.4 1 0.4 1 0.3 1 0.4 1 0.3 1 0.4 1.1 0.3 1 0.4 1 0.3 1 0.3 1 0.3 1 0.4 1 0.3 1 0.3 1 0.2 1 0.3 1 0.3 1 0.3 1 0.3 1 0.2 1.1 0.3 1 0.2 1 0.3 1 0.2 1 0.2 1 0.3 1 0.2 1 0.2 1 0.2 1 0.2 1 0.2 1 0.2 1 0.2 1.1 0.2 1 0.2 1 0.2 1 0.2 1 0.1 1 0.2 1 0.2 1 0.1 1 0.2 1 0.1 1 0.1 1 0.2 1 0.1 1.1 0.1 1 0.2 1 0.1 1 0.1 1 0.1 1 0.1 1 0.1 1 0.1 1 0.1 1 0.1 1 0.1 1 0.1 1 0.1 1 0.1 1.1 0.1 1 0 1 0.1 1 0.1 1 0.1 1 0 1 0.1 1 0 1 0.1 1 0 1 0.1 1 0 1 0.1 1.1 0 1 0.1 1 0 1 0.1 1 0 1 0 1 0.1 1 0 1 0 1 0.1 1 0 1 0 1 0 1.1 0 1 0.1 1 0 1 0 1 0 1 0 1 0.1 1 0 1 0 1 0 1 0 1 0 1 0 1.1 0 1 0 1 0.1 1 0 1 0 1 0 1 0 1 0 1 0 1 0 1 0 1 0 1 0 1 0 1.1 0 1 0 1 0 1 0 1 0 1 0 1 0 1 0.1 1 0 1 0 1 0 1 0 1 0 1.1 0 1 0 1 0 1 0 1 0 1 0 1 0 1 0 1 0 1 0 1 0 1 0 1 0 1 0 1.1 0 1 0 1 0 1 0 1 0 1 0 1 0 1 0 1 0 1 0 1 0 1 0 1 0 1.1 0 1 0 1 0 1 0 1 0 1 0 1 0" fill="none" stroke="#8610ff" stroke-width="3.6" stroke-linejoin="round"/>
<path d="M135 1467.7l1 0 1 0 1-0.1 1 0 1 0 1 0 1.1 0 1 0 1 0 1 0 1-0.1 1 0 1 0 1 0 1 0 1 0 1-0.1 1 0 1 0 1.1 0 1 0 1 0 1-0.1 1 0 1 0 1 0 1 0 1-0.1 1 0 1 0 1 0 1 0 1-0.1 1.1 0 1 0 1 0 1-0.1 1 0 1 0 1-0.1 1 0 1 0 1-0.1 1 0 1 0 1-0.1 1.1 0 1 0 1-0.1 1 0 1-0.1 1 0 1-0.1 1 0 1-0.1 1 0 1-0.1 1 0 1-0.1 1 0 1.1-0.1 1-0.1 1 0 1-0.1 1-0.1 1-0.1 1 0 1-0.1 1-0.1 1-0.1 1-0.1 1-0.1 1-0.1 1.1-0.1 1-0.1 1-0.1 1-0.2 1-0.1 1-0.1 1-0.1 1-0.2 1-0.1 1-0.2 1-0.1 1-0.2 1-0.2 1.1-0.2 1-0.2 1-0.1 1-0.2 1-0.3 1-0.2 1-0.2 1-0.2 1-0.3 1-0.2 1-0.3 1-0.3 1-0.2 1.1-0.3 1-0.3 1-0.4 1-0.3 1-0.3 1-0.4 1-0.3 1-0.4 1-0.4 1-0.4 1-0.4 1-0.4 1-0.5 1-0.4 1.1-0.5 1-0.5 1-0.5 1-0.5 1-0.6 1-0.5 1-0.6 1-0.6 1-0.6 1-0.6 1-0.7 1-0.6 1-0.7 1.1-0.7 1-0.7 1-0.7 1-0.8 1-0.8 1-0.8 1-0.8 1-0.8 1-0.9 1-0.9 1-0.9 1-0.9 1-1 1.1-0.9 1-1 1-1 1-1.1 1-1 1-1.1 1-1.1 1-1.1 1-1.2 1-1.2 1-1.1 1-1.3 1-1.2 1-1.2 1.1-1.3 1-1.3 1-1.3 1-1.4 1-1.3 1-1.4 1-1.4 1-1.4 1-1.5 1-1.4 1-1.5 1-1.5 1-1.5 1.1-1.5 1-1.5 1-1.6 1-1.6 1-1.5 1-1.6 1-1.6 1-1.6 1-1.7 1-1.6 1-1.6 1-1.7 1-1.6 1-1.7 1.1-1.7 1-1.6 1-1.7 1-1.7 1-1.7 1-1.6 1-1.7 1-1.7 1-1.6 1-1.7 1-1.6 1-1.6 1-1.7 1.1-1.6 1-1.6 1-1.6 1-1.5 1-1.6 1-1.5 1-1.6 1-1.5 1-1.4 1-1.5 1-1.4 1-1.4 1-1.4 1.1-1.3 1-1.3 1-1.3 1-1.2 1-1.2 1-1.2 1-1.1 1-1.1 1-1 1-1 1-1 1-0.9 1-0.8 1.1-0.9 1-0.7 1-0.7 1-0.7 1-0.6 1-0.6 1-0.5 1-0.4 1-0.4 1-0.4 1-0.2 1-0.3 1-0.1 1-0.1 1.1-0.1 1 0 1 0.1 1 0.2 1 0.1 1 0.3 1 0.3 1 0.4 1 0.4 1 0.5 1 0.5 1 0.6 1 0.7 1.1 0.7 1 0.7 1 0.9 1 0.8 1 0.9 1 1 1 1 1 1.1 1 1.1 1 1.2 1 1.2 1 1.2 1 1.3 1 1.4 1.1 1.3 1 1.4 1 1.5 1 1.5 1 1.5 1 1.5 1 1.6 1 1.6 1 1.6 1 1.7 1 1.6 1 1.7 1 1.8 1.1 1.7 1 1.8 1 1.7 1 1.8 1 1.8 1 1.8 1 1.9 1 1.8 1 1.8 1 1.9 1 1.8 1 1.9 1 1.8 1.1 1.9 1 1.9 1 1.8 1 1.9 1 1.8 1 1.9 1 1.8 1 1.9 1 1.8 1 1.8 1 1.8 1 1.8 1 1.8 1 1.8 1.1 1.7 1 1.8 1 1.7 1 1.7 1 1.7 1 1.7 1 1.7 1 1.6 1 1.6 1 1.6 1 1.6 1 1.6 1 1.5 1.1 1.6 1 1.5 1 1.4 1 1.5 1 1.4 1 1.4 1 1.4 1 1.4 1 1.3 1 1.3 1 1.3 1 1.3 1 1.2 1.1 1.3 1 1.1 1 1.2 1 1.2 1 1.1 1 1.1 1 1.1 1 1 1 1 1 1 1 1 1 1 1 0.9 1.1 0.9 1 0.9 1 0.8 1 0.9 1 0.8 1 0.8 1 0.8 1 0.7 1 0.8 1 0.7 1 0.7 1 0.7 1 0.6 1 0.6 1.1 0.7 1 0.6 1 0.5 1 0.6 1 0.5 1 0.6 1 0.5 1 0.5 1 0.5 1 0.4 1 0.5 1 0.4 1 0.4 1.1 0.4 1 0.4 1 0.4 1 0.4 1 0.3 1 0.4 1 0.3 1 0.3 1 0.3 1 0.3 1 0.3 1 0.3 1 0.2 1 0.3 1.1 0.2 1 0.3 1 0.2 1 0.2 1 0.2 1 0.2 1 0.2 1 0.2 1 0.2 1 0.1 1 0.2 1 0.2 1 0.1 1.1 0.2 1 0.1 1 0.2 1 0.1 1 0.1 1 0.1 1 0.2 1 0.1 1 0.1 1 0.1 1 0.1 1 0.1 1 0.1 1.1 0.1 1 0 1 0.1 1 0.1 1 0.1 1 0.1 1 0 1 0.1 1 0.1 1 0 1 0.1 1 0 1 0.1 1.1 0.1 1 0 1 0.1 1 0 1 0.1 1 0 1 0.1 1 0 1 0 1 0.1 1 0 1 0.1 1 0 1 0 1.1 0.1 1 0 1 0 1 0.1 1 0 1 0 1 0 1 0.1 1 0 1 0 1 0.1 1 0 1 0 1.1 0 1 0.1 1 0 1 0 1 0 1 0 1 0.1 1 0 1 0 1 0 1 0.1 1 0 1 0 1 0 1.1 0 1 0 1 0.1 1 0 1 0 1 0 1 0 1 0.1 1 0 1 0 1 0 1 0 1 0 1.1 0 1 0.1 1 0 1 0 1 0 1 0 1 0 1 0.1 1 0 1 0 1 0 1 0 1 0 1.1 0 1 0.1 1 0 1 0 1 0 1 0 1 0 1 0.1 1 0 1 0 1 0 1 0 1 0 1.1 0.1 1 0 1 0 1 0 1 0 1 0.1 1 0 1 0 1 0 1 0 1 0.1 1 0 1 0 1 0 1.1 0.1 1 0 1 0 1 0 1 0.1 1 0 1 0 1 0.1 1 0 1 0 1 0.1 1 0 1 0 1.1 0.1 1 0 1 0.1 1 0 1 0 1 0.1 1 0 1 0.1 1 0 1 0.1 1 0 1 0.1 1 0.1 1.1 0 1 0.1 1 0.1 1 0 1 0.1 1 0.1 1 0.1 1 0 1 0.1 1 0.1 1 0.1 1 0.1 1 0.1 1 0.1 1.1 0.1 1 0.1 1 0.1 1 0.1 1 0.1 1 0.2 1 0.1 1 0.1 1 0.2 1 0.1 1 0.1 1 0.2 1 0.1 1.1 0.2 1 0.2 1 0.1 1 0.2 1 0.2 1 0.2 1 0.1 1 0.2 1 0.2 1 0.2 1 0.3 1 0.2 1 0.2 1 0.2 1.1 0.3 1 0.2 1 0.3 1 0.2 1 0.3 1 0.3 1 0.2 1 0.3 1 0.3 1 0.3 1 0.3 1 0.3 1 0.3 1.1 0.4 1 0.3 1 0.3 1 0.4 1 0.3 1 0.4 1 0.4 1 0.3 1 0.4 1 0.4 1 0.4 1 0.4 1 0.4 1.1 0.4 1 0.4 1 0.4 1 0.5 1 0.4 1 0.4 1 0.4 1 0.5 1 0.4 1 0.4 1 0.5 1 0.4 1 0.5 1.1 0.4 1 0.4 1 0.5 1 0.4 1 0.5 1 0.4 1 0.5 1 0.4 1 0.4 1 0.5 1 0.4 1 0.4 1 0.4 1 0.5 1.1 0.4 1 0.4 1 0.4 1 0.4 1 0.4 1 0.4 1 0.4 1 0.3 1 0.4 1 0.4 1 0.3 1 0.4 1 0.3 1.1 0.4 1 0.3 1 0.4 1 0.3 1 0.3 1 0.3 1 0.3 1 0.3 1 0.3 1 0.3 1 0.3 1 0.3 1 0.2 1 0.3 1.1 0.3 1 0.2 1 0.3 1 0.2 1 0.3 1 0.2 1 0.2 1 0.2 1 0.2 1 0.3 1 0.2 1 0.2 1 0.2 1.1 0.1 1 0.2 1 0.2 1 0.2 1 0.2 1 0.1 1 0.2 1 0.1 1 0.2 1 0.1 1 0.2 1 0.1 1 0.2 1.1 0.1 1 0.1 1 0.1 1 0.2 1 0.1 1 0.1 1 0.1 1 0.1 1 0.1 1 0.1 1 0.1 1 0.1 1 0.1 1 0.1 1.1 0 1 0.1 1 0.1 1 0.1 1 0 1 0.1 1 0.1 1 0 1 0.1 1 0 1 0.1 1 0 1 0.1 1.1 0 1 0.1 1 0 1 0.1 1 0 1 0 1 0.1 1 0 1 0 1 0.1 1 0 1 0 1 0 1.1 0.1 1 0 1 0 1 0 1 0 1 0.1 1 0 1 0 1 0 1 0 1 0 1 0.1 1 0 1.1 0 1 0 1 0 1 0 1 0 1 0 1 0 1 0 1 0 1 0.1 1 0 1 0 1 0 1 0 1.1 0 1 0 1 0 1 0 1 0 1 0 1 0 1 0 1 0 1 0 1 0 1 0 1 0 1.1 0 1 0 1 0 1 0 1 0 1 0 1 0.1 1 0 1 0 1 0 1 0 1 0 1 0 1 0 1.1 0 1 0 1 0 1 0 1 0 1 0 1 0 1 0 1 0 1 0 1 0 1 0 1 0 1.1 0 1 0 1 0 1 0 1 0 1 0 1 0" fill="none" stroke="#22908e" stroke-width="3.6" stroke-linejoin="round"/>
<path d="M135 2373.5l1.6-3.7 1.6 2.4 1.6-0.8 1.6 0.1 1.7 0.2 1.6-1.5 1.6 1.4 1.6-0.5 1.6 3.4 1.6-2.5 1.6-0.5 1.6 0.1 1.7-0.3 1.6-0.4 1.6 0.6 1.6 0.6 1.6-0.5 1.6 0.9 1.6-0.9 1.6 0.1 1.7 1.2 1.6-0.8 1.6-0.8 1.6 0.2 1.6 0.6 1.6 1.1 1.6-1.8 1.6 0 1.6 1 1.7-1.5 1.6 0.4 1.6 0.9 1.6-0.2 1.6-0.4 1.6 0.4 1.6-2.8 1.6 3 1.7-1.6 1.6-0.6 1.6 1.5 1.6 0.3 1.6-0.9 1.6-0.6 1.6 0.8 1.6-0.1 1.7 1.1 1.6-0.6 1.6-0.5 1.6 0.7 1.6-1.2 1.6-0.6 1.6 1.1 1.6-0.1 1.6-0.8 1.7-0.5 1.6 0.6 1.6-2.3 1.6 2.4 1.6-0.3 1.6-1.9 1.6 1.2 1.6-1 1.7 1.1 1.6-2.4 1.6 0.6 1.6 1.1 1.6 0 1.6-2.9 1.6 1 1.6 0.3 1.7-1.1 1.6 1.4 1.6-2.7 1.6 0.8 1.6-1.6 1.6 1.5 1.6-1.7 1.6-0.8 1.6-1.7 1.7 2.1 1.6-1.4 1.6-0.7 1.6-0.4 1.6-1.4 1.6-1.6 1.6-1 1.6-0.9 1.7 0.8 1.6-3.3 1.6-0.3 1.6-0.9 1.6-0.7 1.6-0.8 1.6-2.7 1.6-1.7 1.7 0.1 1.6-0.4 1.6-1.8 1.6-1.9 1.6-2 1.6-1.1 1.6-2 1.6-0.9 1.6-3 1.7-1 1.6-2.1 1.6-1.3 1.6-2.2 1.6-0.1 1.6-2.9 1.6-2.1 1.6-4.9 1.7-0.8 1.6-2.4 1.6-1.3 1.6-4.4 1.6 0.4 1.6-2.3 1.6-4.2 1.6-2.1 1.7-2.2 1.6-1.7 1.6-1.9 1.6-1.3 1.6-4.1 1.6-1.6 1.6-2.9 1.6-1 1.6-3.2 1.7-1.7 1.6-4.3 1.6-1.5 1.6-2.7 1.6-0.3 1.6-2.8 1.6-2.8 1.6-2.1 1.7-1.2 1.6-2.8 1.6-2 1.6-0.5 1.6-0.1 1.6-3.7 1.6-1.7 1.6-1.8 1.7-1.4 1.6 0.3 1.6-0.8 1.6-1.6 1.6-0.6 1.6-0.8 1.6-0.6 1.6-1.8 1.6 0.5 1.7 0.2 1.6-0.8 1.6 0.3 1.6-0.2 1.6 0.7 1.6 1.3 1.6-0.5 1.6 0.8 1.7 1.5 1.6 0.8 1.6 1.8 1.6-1.9 1.6 3.5 1.6 0.2 1.6 1.9 1.6 2.1 1.7 1.8 1.6 1.6 1.6 1.1 1.6 3 1.6 0.4 1.6 2.2 1.6 2.8 1.6 1 1.6 4.4 1.7 1.3 1.6 3.2 1.6 0.6 1.6 2.1 1.6 2.8 1.6 2.9 1.6 1.4 1.6 3.3 1.7 2.1 1.6 3.8 1.6 0.7 1.6 3.9 1.6 1.1 1.6 2.3 1.6 2.6 1.6 2.1 1.7 3.5 1.6 3.2 1.6 1.7 1.6 2.7 1.6 3.1 1.6 1.2 1.6 2.2 1.6 1.9 1.6 1.1 1.7 4 1.6 0.1 1.6 4 1.6 1.4 1.6 2.9 1.6 1 1.6 1.2 1.6 2.7 1.7 1.1 1.6 2 1.6 1.8 1.6 1.4 1.6 1.5 1.6 1 1.6 1.9 1.6-0.1 1.7 2.9 1.6 0.4 1.6 3.1 1.6 1.3 1.6-1.4 1.6 2.8 1.6 0.8 1.6 0.3 1.6 2.2 1.7 0.1 1.6-0.2 1.6 2.1 1.6 0.9 1.6 0.9 1.6-0.3 1.6 2.2 1.6 0.7 1.7-0.9 1.6 1 1.6 1.1 1.6 0.1 1.6 2.4 1.6-0.8 1.6-0.5 1.6 0.6 1.7 1 1.6 2.3 1.6-1.6 1.6 0.6 1.6 0.6 1.6-0.1 1.6 2.1 1.6-1.9 1.6 1.2 1.7-0.2 1.6 0.6 1.6-1.2 1.6 2.5 1.6-1.3 1.6 0.3 1.6-0.7 1.6 0.3 1.7 1.2 1.6 0.5 1.6-0.1 1.6 0.4 1.6-0.3 1.6-0.4 1.6 0.7 1.6-0.2 1.7-0.5 1.6 0.8 1.6 0.4 1.6-0.8 1.6-0.4 1.6 0.9 1.6 0.9 1.6-1.6 1.6 0.1 1.7-0.1 1.6 1.1 1.6-2.4 1.6 1.7 1.6 0.7 1.6-1.7 1.6 1.9 1.6-0.8 1.7-0.9 1.6 0.6 1.6-1.5 1.6 0.8 1.6 1.8 1.6-2.2 1.6 2.2 1.6-1.7 1.7 0.8 1.6-0.8 1.6-2 1.6 1.3 1.6 0.5 1.6-1.2 1.6-0.3 1.6 1.2 1.6-1 1.7-1 1.6 0.7 1.6 1 1.6-1.2 1.6 0.9 1.6 0.2 1.6-1.4 1.6-1.2 1.7-0.4 1.6 0.8 1.6 0.4 1.6-0.8 1.6-0.1 1.6-1.2 1.6 0.2 1.6-1.1 1.7-0.3 1.6-1.3 1.6-0.8 1.6 0.3 1.6-1.2 1.6-0.6 1.6 0.5 1.6-1.5 1.6 1.5 1.7-2.6 1.6-2.3 1.6-0.1 1.6-1.6 1.6-2.3 1.6-0.1 1.6-3.2 1.6-3.6 1.7 1.1 1.6-3.2 1.6-0.6 1.6-4.1 1.6-2.9 1.6-0.5 1.6-4.9 1.6-1.9 1.7-2.1 1.6-4.4 1.6-3.5 1.6-3.4 1.6-3.2 1.6-5.2 1.6-3.1 1.6-4.4 1.6-3.2 1.7-7.1 1.6-5.7 1.6-4.2 1.6-6.8 1.6-5.7 1.6-6.7 1.6-6 1.6-8.7 1.7-7.2 1.6-9.9 1.6-7 1.6-6.8 1.6-10.9 1.6-9.6 1.6-10.3 1.6-9 1.7-11.1 1.6-12.3 1.6-10.1 1.6-12.3 1.6-11.9 1.6-13.8 1.6-11 1.6-14.2 1.6-13.8 1.7-13.7 1.6-13.3 1.6-12.6 1.6-14.3 1.6-12.1 1.6-13.3 1.6-11.9 1.6-12.5 1.7-12.2 1.6-12.3 1.6-8.3 1.6-8.8 1.6-8.7 1.6-6.9 1.6-6.9 1.6-4.9 1.7-4 1.6-0.6 1.6-2 1.6-0.2 1.6 0.8 1.6 4 1.6 5.5 1.6 4.7 1.6 5.7 1.7 9.6 1.6 8.9 1.6 9.6 1.6 10.6 1.6 11.9 1.6 11.8 1.6 13.1 1.6 12.2 1.7 15.6 1.6 13.1 1.6 15.8 1.6 11.2 1.6 16.6 1.6 14.6 1.6 13.3 1.6 14.8 1.7 14.1 1.6 13.5 1.6 12.3 1.6 13.3 1.6 13.5 1.6 12.4 1.6 10.8 1.6 11.3 1.6 11 1.7 11.1 1.6 8.4 1.6 9.4 1.6 10.3 1.6 7.8 1.6 8.9 1.6 8.5 1.6 7.9 1.7 6 1.6 8.5 1.6 4.5 1.6 8.1 1.6 4.2 1.6 5.8 1.6 6.9 1.6 4.2 1.7 4.4 1.6 4.8 1.6 4.9 1.6 3.6 1.6 3.8 1.6 4.3 1.6 1.9 1.6 3.3 1.6 2.9 1.7 4 1.6 2.4 1.6 2.6 1.6 1.1 1.6 1.9 1.6 2.7 1.6 0.8 1.6 2.5 1.7 1.4 1.6 0.2 1.6 1.8 1.6 1.1 1.6 2.5 1.6 1.6 1.6-1.3 1.6 0.9 1.7-1.1 1.6 2.6 1.6 0.4 1.6-0.3 1.6 1.9 1.6-1.4 1.6 1.4 1.6 0.6 1.6-0.8 1.7 2 1.6 0.3 1.6-1.7 1.6 0.1 1.6 1.8 1.6-0.4 1.6-0.8 1.6 0.8 1.7 0.3 1.6 0 1.6 0.8 1.6-0.3 1.6 1.2 1.6-0.3 1.6-0.5 1.6 0.3 1.7 0.2 1.6-0.5 1.6-1.5 1.6 1.6 1.6-0.6" fill="none" stroke="#000" stroke-width="3.2" stroke-linejoin="round"/>
<path d="M135 2371.9l1 0 1 0 1 0 1 0 1 0 1 0 1.1 0 1 0 1 0 1 0 1-0.1 1 0 1 0 1 0 1 0 1 0 1 0 1 0 1 0 1.1 0 1 0 1 0 1 0 1 0 1 0 1 0 1 0 1 0 1 0 1 0 1 0 1 0 1 0 1.1-0.1 1 0 1 0 1 0 1 0 1 0 1 0 1 0 1 0 1 0 1 0 1 0 1 0 1.1-0.1 1 0 1 0 1 0 1 0 1 0 1 0 1 0 1 0 1-0.1 1 0 1 0 1 0 1 0 1.1 0 1-0.1 1 0 1 0 1 0 1 0 1-0.1 1 0 1 0 1 0 1-0.1 1 0 1 0 1.1-0.1 1 0 1 0 1-0.1 1 0 1-0.1 1 0 1 0 1-0.1 1 0 1-0.1 1-0.1 1 0 1.1-0.1 1 0 1-0.1 1-0.1 1-0.1 1 0 1-0.1 1-0.1 1-0.1 1-0.1 1-0.1 1-0.1 1-0.1 1.1-0.1 1-0.2 1-0.1 1-0.1 1-0.2 1-0.1 1-0.1 1-0.2 1-0.2 1-0.1 1-0.2 1-0.2 1-0.2 1-0.2 1.1-0.2 1-0.2 1-0.3 1-0.2 1-0.3 1-0.2 1-0.3 1-0.3 1-0.3 1-0.3 1-0.3 1-0.3 1-0.3 1.1-0.4 1-0.4 1-0.3 1-0.4 1-0.4 1-0.4 1-0.5 1-0.4 1-0.5 1-0.5 1-0.5 1-0.5 1-0.5 1.1-0.5 1-0.6 1-0.6 1-0.6 1-0.6 1-0.6 1-0.7 1-0.6 1-0.7 1-0.7 1-0.8 1-0.7 1-0.8 1-0.8 1.1-0.8 1-0.8 1-0.8 1-0.9 1-0.9 1-0.9 1-0.9 1-1 1-1 1-0.9 1-1.1 1-1 1-1 1.1-1.1 1-1.1 1-1.1 1-1.2 1-1.1 1-1.2 1-1.2 1-1.2 1-1.2 1-1.3 1-1.2 1-1.3 1-1.3 1-1.3 1.1-1.3 1-1.4 1-1.3 1-1.4 1-1.4 1-1.4 1-1.4 1-1.4 1-1.5 1-1.4 1-1.5 1-1.4 1-1.5 1.1-1.5 1-1.4 1-1.5 1-1.5 1-1.5 1-1.5 1-1.5 1-1.5 1-1.5 1-1.4 1-1.5 1-1.5 1-1.5 1.1-1.4 1-1.5 1-1.4 1-1.4 1-1.4 1-1.4 1-1.4 1-1.4 1-1.3 1-1.4 1-1.3 1-1.3 1-1.2 1.1-1.3 1-1.2 1-1.2 1-1.1 1-1.2 1-1.1 1-1 1-1.1 1-1 1-0.9 1-1 1-0.8 1-0.9 1-0.8 1.1-0.8 1-0.7 1-0.7 1-0.7 1-0.6 1-0.5 1-0.5 1-0.5 1-0.4 1-0.4 1-0.3 1-0.3 1-0.3 1.1-0.1 1-0.2 1-0.1 1 0 1 0 1 0.1 1 0.1 1 0.2 1 0.2 1 0.2 1 0.3 1 0.4 1 0.4 1 0.4 1.1 0.5 1 0.6 1 0.6 1 0.6 1 0.7 1 0.7 1 0.8 1 0.8 1 0.9 1 0.8 1 1 1 1 1 1 1.1 1 1 1.1 1 1.1 1 1.1 1 1.2 1 1.2 1 1.3 1 1.2 1 1.3 1 1.3 1 1.4 1 1.3 1 1.4 1.1 1.4 1 1.5 1 1.4 1 1.5 1 1.5 1 1.5 1 1.5 1 1.5 1 1.5 1 1.5 1 1.6 1 1.5 1 1.6 1 1.6 1.1 1.5 1 1.6 1 1.6 1 1.5 1 1.6 1 1.6 1 1.5 1 1.6 1 1.6 1 1.5 1 1.5 1 1.6 1 1.5 1.1 1.5 1 1.5 1 1.5 1 1.5 1 1.5 1 1.4 1 1.5 1 1.4 1 1.4 1 1.4 1 1.4 1 1.3 1 1.4 1.1 1.3 1 1.3 1 1.3 1 1.3 1 1.2 1 1.3 1 1.2 1 1.2 1 1.2 1 1.1 1 1.1 1 1.2 1 1.1 1.1 1 1 1.1 1 1 1 1 1 1 1 1 1 0.9 1 0.9 1 0.9 1 0.9 1 0.9 1 0.8 1 0.9 1 0.8 1.1 0.7 1 0.8 1 0.8 1 0.7 1 0.7 1 0.7 1 0.6 1 0.7 1 0.6 1 0.7 1 0.6 1 0.5 1 0.6 1.1 0.6 1 0.5 1 0.5 1 0.5 1 0.5 1 0.5 1 0.4 1 0.5 1 0.4 1 0.4 1 0.4 1 0.4 1 0.4 1 0.4 1.1 0.3 1 0.4 1 0.3 1 0.3 1 0.4 1 0.3 1 0.3 1 0.2 1 0.3 1 0.3 1 0.2 1 0.3 1 0.2 1.1 0.2 1 0.3 1 0.2 1 0.2 1 0.2 1 0.2 1 0.2 1 0.2 1 0.1 1 0.2 1 0.2 1 0.1 1 0.2 1.1 0.1 1 0.2 1 0.1 1 0.1 1 0.2 1 0.1 1 0.1 1 0.1 1 0.1 1 0.1 1 0.2 1 0.1 1 0.1 1.1 0 1 0.1 1 0.1 1 0.1 1 0.1 1 0.1 1 0.1 1 0 1 0.1 1 0.1 1 0 1 0.1 1 0.1 1 0 1.1 0.1 1 0.1 1 0 1 0.1 1 0 1 0.1 1 0 1 0.1 1 0 1 0.1 1 0 1 0.1 1 0 1.1 0 1 0.1 1 0 1 0.1 1 0 1 0 1 0.1 1 0 1 0 1 0.1 1 0 1 0 1 0.1 1 0 1.1 0 1 0 1 0.1 1 0 1 0 1 0 1 0 1 0.1 1 0 1 0 1 0 1 0 1 0 1.1 0 1 0 1 0.1 1 0 1 0 1 0 1 0 1 0 1 0 1 0 1-0.1 1 0 1 0 1.1 0 1 0 1 0 1-0.1 1 0 1 0 1-0.1 1 0 1-0.1 1 0 1-0.1 1-0.1 1 0 1.1-0.1 1-0.1 1-0.1 1-0.1 1-0.1 1-0.1 1-0.2 1-0.1 1-0.1 1-0.2 1-0.2 1-0.2 1-0.2 1-0.2 1.1-0.2 1-0.3 1-0.3 1-0.2 1-0.3 1-0.4 1-0.3 1-0.4 1-0.4 1-0.4 1-0.5 1-0.4 1-0.5 1.1-0.6 1-0.5 1-0.6 1-0.7 1-0.6 1-0.7 1-0.8 1-0.8 1-0.8 1-0.9 1-0.9 1-0.9 1-1.1 1.1-1 1-1.1 1-1.2 1-1.2 1-1.3 1-1.4 1-1.4 1-1.5 1-1.5 1-1.6 1-1.7 1-1.8 1-1.8 1-1.9 1.1-2 1-2.1 1-2.1 1-2.2 1-2.4 1-2.4 1-2.5 1-2.6 1-2.7 1-2.8 1-2.8 1-3 1-3.1 1.1-3.2 1-3.4 1-3.4 1-3.5 1-3.7 1-3.8 1-3.9 1-4 1-4.2 1-4.3 1-4.4 1-4.6 1-4.7 1-4.8 1.1-5 1-5.1 1-5.3 1-5.4 1-5.6 1-5.7 1-5.9 1-6.1 1-6.2 1-6.4 1-6.5 1-6.7 1-6.8 1.1-7 1-7.1 1-7.3 1-7.5 1-7.6 1-7.7 1-7.8 1-8 1-8 1-8.2 1-8.3 1-8.3 1-8.4 1.1-8.5 1-8.5 1-8.5 1-8.5 1-8.5 1-8.5 1-8.4 1-8.3 1-8.3 1-8.1 1-7.9 1-7.8 1-7.6 1.1-7.4 1-7.1 1-6.8 1-6.6 1-6.2 1-5.9 1-5.5 1-5.2 1-4.7 1-4.3 1-3.9 1-3.4 1-2.9 1-2.5 1.1-1.9 1-1.5 1-0.9 1-0.4 1 0.1 1 0.6 1 1.2 1 1.7 1 2.2 1 2.7 1 3.2 1 3.6 1 4.2 1.1 4.6 1 5 1 5.5 1 5.8 1 6.3 1 6.6 1 6.9 1 7.2 1 7.5 1 7.8 1 8 1 8.2 1 8.4 1 8.6 1.1 8.7 1 8.8 1 8.9 1 9 1 9 1 9 1 9 1 9.1 1 9 1 8.9 1 8.9 1 8.8 1 8.7 1.1 8.6 1 8.5 1 8.4 1 8.2 1 8.1 1 8 1 7.8 1 7.6 1 7.5 1 7.4 1 7.1 1 7 1 6.8 1.1 6.7 1 6.5 1 6.3 1 6.2 1 6 1 5.8 1 5.7 1 5.5 1 5.3 1 5.2 1 5.1 1 4.9 1 4.7 1 4.6 1.1 4.5 1 4.3 1 4.2 1 4.1 1 3.9 1 3.8 1 3.7 1 3.6 1 3.4 1 3.4 1 3.2 1 3.1 1 3 1.1 2.9 1 2.8 1 2.7 1 2.6 1 2.5 1 2.4 1 2.3 1 2.2 1 2.2 1 2 1 2 1 1.9 1 1.8 1.1 1.7 1 1.7 1 1.6 1 1.5 1 1.5 1 1.4 1 1.3 1 1.3 1 1.2 1 1.2 1 1.1 1 1 1 1 1.1 1 1 0.9 1 0.8 1 0.8 1 0.8 1 0.7 1 0.7 1 0.7 1 0.6 1 0.6 1 0.5 1 0.5 1 0.5 1 0.5 1.1 0.4 1 0.5 1 0.3 1 0.4 1 0.3 1 0.4 1 0.3 1 0.2 1 0.3 1 0.3 1 0.2 1 0.2 1 0.2 1.1 0.2 1 0.2 1 0.1 1 0.2 1 0.1 1 0.2 1 0.1 1 0.1 1 0.1 1 0.1 1 0.1 1 0.1 1 0.1 1 0.1 1.1 0 1 0.1 1 0 1 0.1 1 0 1 0.1 1 0 1 0.1 1 0 1 0 1 0.1 1 0 1 0 1.1 0.1 1 0 1 0 1 0 1 0 1 0 1 0.1" fill="none" stroke="#f00000" stroke-width="3.6" stroke-linejoin="round"/>
<path d="M135 2372.3l1 0 1 0 1 0 1 0 1 0 1 0 1.1 0 1 0 1 0 1 0 1 0 1 0 1 0 1 0 1 0 1 0 1 0 1 0 1 0 1.1 0 1 0 1 0 1 0 1 0 1 0 1 0 1 0 1 0 1 0 1 0 1 0 1 0 1 0 1.1 0 1 0 1 0 1 0 1 0 1 0 1 0 1 0 1 0 1 0 1 0 1 0 1 0 1.1 0 1 0 1 0 1 0 1 0 1 0 1 0 1 0 1 0 1 0 1 0 1 0 1 0 1 0 1.1 0 1 0 1 0 1 0 1 0 1 0 1 0 1 0 1 0 1 0 1 0 1 0 1 0 1.1 0 1 0 1 0 1 0 1 0 1 0 1 0 1 0 1 0 1 0 1 0 1 0 1 0.1 1.1 0 1 0 1 0 1 0 1 0 1 0 1 0 1 0 1 0 1 0 1 0 1 0 1 0 1.1 0 1 0 1 0 1 0 1 0 1 0 1 0 1 0 1 0 1 0 1 0 1 0 1 0 1 0 1.1 0 1 0 1 0 1 0 1 0 1 0 1 0 1 0.1 1 0 1 0 1 0 1 0 1 0 1.1 0 1 0 1 0 1 0 1 0 1 0 1 0 1 0 1 0.1 1 0 1 0 1 0 1 0 1.1 0 1 0 1 0 1 0 1 0.1 1 0 1 0 1 0 1 0 1 0 1 0 1 0.1 1 0 1 0 1.1 0 1 0 1 0.1 1 0 1 0 1 0 1 0 1 0.1 1 0 1 0 1 0 1 0.1 1 0 1.1 0 1 0.1 1 0 1 0 1 0 1 0.1 1 0 1 0 1 0.1 1 0 1 0.1 1 0 1 0 1 0.1 1.1 0 1 0.1 1 0 1 0 1 0.1 1 0 1 0.1 1 0 1 0.1 1 0 1 0.1 1 0 1 0.1 1.1 0.1 1 0 1 0.1 1 0 1 0.1 1 0.1 1 0 1 0.1 1 0 1 0.1 1 0.1 1 0.1 1 0 1.1 0.1 1 0.1 1 0 1 0.1 1 0.1 1 0.1 1 0 1 0.1 1 0.1 1 0.1 1 0.1 1 0.1 1 0 1.1 0.1 1 0.1 1 0.1 1 0.1 1 0.1 1 0.1 1 0.1 1 0.1 1 0 1 0.1 1 0.1 1 0.1 1 0.1 1 0.1 1.1 0.1 1 0.1 1 0.1 1 0.1 1 0.1 1 0.1 1 0.1 1 0.1 1 0.1 1 0.1 1 0.1 1 0.1 1 0.1 1.1 0.1 1 0.2 1 0.1 1 0.1 1 0.1 1 0.1 1 0.1 1 0.1 1 0.1 1 0.1 1 0.1 1 0.1 1 0.1 1 0.1 1.1 0.1 1 0.1 1 0.1 1 0.1 1 0.1 1 0.1 1 0.1 1 0.1 1 0.1 1 0.1 1 0.1 1 0.1 1 0.1 1.1 0.1 1 0.1 1 0.1 1 0.1 1 0.1 1 0.1 1 0.1 1 0.1 1 0 1 0.1 1 0.1 1 0.1 1 0.1 1.1 0.1 1 0.1 1 0 1 0.1 1 0.1 1 0.1 1 0.1 1 0 1 0.1 1 0.1 1 0.1 1 0 1 0.1 1 0.1 1.1 0.1 1 0 1 0.1 1 0.1 1 0 1 0.1 1 0 1 0.1 1 0.1 1 0 1 0.1 1 0 1 0.1 1.1 0.1 1 0 1 0.1 1 0 1 0.1 1 0 1 0.1 1 0 1 0.1 1 0 1 0 1 0.1 1 0 1.1 0.1 1 0 1 0 1 0.1 1 0 1 0.1 1 0 1 0 1 0.1 1 0 1 0 1 0.1 1 0 1.1 0 1 0 1 0.1 1 0 1 0 1 0.1 1 0 1 0 1 0 1 0 1 0.1 1 0 1 0 1 0 1.1 0.1 1 0 1 0 1 0 1 0 1 0 1 0.1 1 0 1 0 1 0 1 0 1 0 1 0 1.1 0.1 1 0 1 0 1 0 1 0 1 0 1 0 1 0 1 0 1 0.1 1 0 1 0 1 0 1 0 1.1 0 1 0 1 0 1 0 1 0 1 0 1 0 1 0.1 1 0 1 0 1 0 1 0 1 0 1.1 0 1 0 1 0 1 0 1 0 1 0 1 0 1 0 1 0 1 0 1 0 1 0 1 0 1.1 0.1 1 0 1 0 1 0 1 0 1 0 1 0 1 0 1 0 1 0 1 0 1 0 1 0 1.1 0 1 0 1 0 1 0 1 0 1 0 1 0 1 0 1 0 1 0 1 0 1 0 1 0 1 0 1.1 0 1 0 1 0 1 0 1 0 1 0 1 0 1 0 1 0 1 0 1 0 1 0 1 0 1.1 0 1 0 1 0 1 0 1 0.1 1 0 1 0 1 0 1 0 1 0 1 0 1 0 1 0 1 0 1.1 0 1 0 1 0 1 0 1 0 1 0 1 0 1 0 1 0 1 0 1 0 1 0 1 0 1.1 0 1 0 1 0 1 0 1 0 1 0 1 0 1 0 1 0 1 0 1 0 1 0 1 0 1.1 0 1 0 1 0 1 0 1 0 1 0 1 0 1 0 1 0 1 0 1 0 1 0 1 0 1.1 0 1 0 1 0 1 0 1 0 1 0 1 0 1 0 1 0 1 0 1 0 1 0 1 0 1 0 1.1 0 1 0 1 0 1 0 1 0 1 0 1 0.1 1 0 1 0 1 0 1 0 1 0 1 0 1.1 0 1 0 1 0 1 0 1 0 1 0 1 0 1 0 1 0.1 1 0 1 0 1 0 1 0 1.1 0 1 0 1 0.1 1 0 1 0 1 0 1 0 1 0.1 1 0 1 0 1 0 1 0 1 0.1 1 0 1.1 0 1 0.1 1 0 1 0 1 0.1 1 0 1 0.1 1 0 1 0 1 0.1 1 0 1 0.1 1 0 1.1 0.1 1 0.1 1 0 1 0.1 1 0.1 1 0 1 0.1 1 0.1 1 0.1 1 0 1 0.1 1 0.1 1 0.1 1 0.1 1.1 0.1 1 0.1 1 0.1 1 0.1 1 0.1 1 0.2 1 0.1 1 0.1 1 0.2 1 0.1 1 0.1 1 0.2 1 0.1 1.1 0.2 1 0.2 1 0.1 1 0.2 1 0.2 1 0.2 1 0.2 1 0.2 1 0.2 1 0.2 1 0.2 1 0.2 1 0.3 1.1 0.2 1 0.3 1 0.2 1 0.3 1 0.2 1 0.3 1 0.3 1 0.3 1 0.3 1 0.3 1 0.3 1 0.3 1 0.3 1.1 0.3 1 0.3 1 0.4 1 0.3 1 0.3 1 0.4 1 0.3 1 0.4 1 0.3 1 0.4 1 0.4 1 0.3 1 0.4 1 0.4 1.1 0.3 1 0.4 1 0.4 1 0.4 1 0.3 1 0.4 1 0.4 1 0.4 1 0.4 1 0.3 1 0.4 1 0.4 1 0.3 1.1 0.4 1 0.4 1 0.3 1 0.4 1 0.3 1 0.4 1 0.3 1 0.3 1 0.4 1 0.3 1 0.3 1 0.3 1 0.3 1 0.4 1.1 0.3 1 0.2 1 0.3 1 0.3 1 0.3 1 0.3 1 0.2 1 0.3 1 0.2 1 0.3 1 0.2 1 0.2 1 0.3 1.1 0.2 1 0.2 1 0.2 1 0.2 1 0.2 1 0.2 1 0.2 1 0.2 1 0.1 1 0.2 1 0.2 1 0.1 1 0.2 1.1 0.1 1 0.2 1 0.1 1 0.2 1 0.1 1 0.1 1 0.2 1 0.1 1 0.1 1 0.1 1 0.1 1 0.1 1 0.1 1 0.1 1.1 0.1 1 0.1 1 0.1 1 0.1 1 0 1 0.1 1 0.1 1 0.1 1 0 1 0.1 1 0.1 1 0 1 0.1 1.1 0 1 0.1 1 0 1 0.1 1 0 1 0.1 1 0 1 0 1 0.1 1 0 1 0.1 1 0 1 0 1.1 0 1 0.1 1 0 1 0 1 0 1 0.1 1 0 1 0 1 0 1 0 1 0.1 1 0 1 0 1.1 0 1 0 1 0 1 0 1 0.1 1 0 1 0 1 0 1 0 1 0 1 0 1 0 1 0 1 0 1.1 0 1 0 1 0 1 0 1 0 1 0.1 1 0 1 0 1 0 1 0 1 0 1 0 1 0 1.1 0 1 0 1 0 1 0 1 0 1 0 1 0 1 0 1 0 1 0 1 0 1 0 1 0 1 0 1.1 0 1 0 1 0 1 0 1 0 1 0 1 0 1 0 1 0 1 0 1 0 1 0 1 0 1.1 0 1 0 1 0 1 0 1 0 1 0 1 0" fill="none" stroke="#1a1aff" stroke-width="3.6" stroke-linejoin="round"/>
<path d="M135 2372.3l1 0 1 0 1 0 1 0 1 0 1 0 1.1 0 1 0 1 0 1 0 1 0 1 0 1 0 1 0 1 0 1 0 1 0 1 0 1 0 1.1 0 1 0 1 0 1 0 1 0 1 0 1 0 1 0 1 0 1 0 1 0 1 0 1 0 1 0 1.1 0 1 0 1 0 1 0 1 0 1 0 1 0 1 0 1 0 1 0 1 0 1 0 1 0 1.1 0 1 0 1 0 1 0 1 0 1 0 1 0 1 0 1 0 1 0 1 0 1 0 1 0 1 0 1.1 0 1 0 1 0 1 0 1 0 1 0 1 0 1 0 1 0 1 0 1 0 1 0 1 0 1.1 0 1 0 1 0 1 0 1 0 1 0 1 0 1 0 1 0 1 0 1 0 1 0 1 0.1 1.1 0 1 0 1 0 1 0 1 0 1 0 1 0 1 0 1 0 1 0 1 0 1 0 1 0 1.1 0 1 0 1 0 1 0 1 0 1 0 1 0 1 0 1 0 1 0 1 0 1 0 1 0 1 0 1.1 0 1 0 1 0 1 0 1 0 1 0 1 0 1 0.1 1 0 1 0 1 0 1 0 1 0 1.1 0 1 0 1 0 1 0 1 0 1 0 1 0 1 0 1 0.1 1 0 1 0 1 0 1 0 1.1 0 1 0 1 0 1 0 1 0.1 1 0 1 0 1 0 1 0 1 0 1 0 1 0.1 1 0 1 0 1.1 0 1 0 1 0.1 1 0 1 0 1 0 1 0 1 0.1 1 0 1 0 1 0 1 0.1 1 0 1.1 0 1 0.1 1 0 1 0 1 0 1 0.1 1 0 1 0 1 0.1 1 0 1 0.1 1 0 1 0 1 0.1 1.1 0 1 0.1 1 0 1 0 1 0.1 1 0 1 0.1 1 0 1 0.1 1 0 1 0.1 1 0 1 0.1 1.1 0.1 1 0 1 0.1 1 0 1 0.1 1 0.1 1 0 1 0.1 1 0 1 0.1 1 0.1 1 0.1 1 0 1.1 0.1 1 0.1 1 0 1 0.1 1 0.1 1 0.1 1 0 1 0.1 1 0.1 1 0.1 1 0.1 1 0.1 1 0 1.1 0.1 1 0.1 1 0.1 1 0.1 1 0.1 1 0.1 1 0.1 1 0.1 1 0.1 1 0 1 0.1 1 0.1 1 0.1 1 0.1 1.1 0.1 1 0.1 1 0.1 1 0.1 1 0.1 1 0.1 1 0.1 1 0.1 1 0.1 1 0.1 1 0.1 1 0.1 1 0.1 1.1 0.1 1 0.2 1 0.1 1 0.1 1 0.1 1 0.1 1 0.1 1 0.1 1 0.1 1 0.1 1 0.1 1 0.1 1 0.1 1 0.1 1.1 0.1 1 0.1 1 0.1 1 0.1 1 0.1 1 0.1 1 0.1 1 0.1 1 0.1 1 0.1 1 0.1 1 0.1 1 0.1 1.1 0.1 1 0.1 1 0.1 1 0.1 1 0.1 1 0.1 1 0.1 1 0.1 1 0 1 0.1 1 0.1 1 0.1 1 0.1 1.1 0.1 1 0.1 1 0 1 0.1 1 0.1 1 0.1 1 0.1 1 0 1 0.1 1 0.1 1 0.1 1 0 1 0.1 1 0.1 1.1 0.1 1 0 1 0.1 1 0.1 1 0 1 0.1 1 0 1 0.1 1 0.1 1 0 1 0.1 1 0 1 0.1 1.1 0.1 1 0 1 0.1 1 0 1 0.1 1 0 1 0.1 1 0 1 0.1 1 0 1 0 1 0.1 1 0 1.1 0.1 1 0 1 0 1 0.1 1 0 1 0.1 1 0 1 0 1 0.1 1 0 1 0 1 0.1 1 0 1.1 0 1 0 1 0.1 1 0 1 0 1 0.1 1 0 1 0 1 0 1 0 1 0.1 1 0 1 0 1 0 1.1 0.1 1 0 1 0 1 0 1 0 1 0 1 0.1 1 0 1 0 1 0 1 0 1 0 1 0 1.1 0.1 1 0 1 0 1 0 1 0 1 0 1 0 1 0 1 0 1 0.1 1 0 1 0 1 0 1 0 1.1 0 1 0 1 0 1 0 1 0 1 0 1 0.1 1 0 1 0 1 0 1 0 1 0 1 0 1.1 0 1 0 1 0 1 0 1 0 1 0 1 0 1 0 1 0 1 0 1 0 1 0 1 0 1.1 0.1 1 0 1 0 1 0 1 0 1 0 1 0 1 0 1 0 1 0 1 0 1 0 1 0 1.1 0 1 0 1 0 1 0 1 0 1 0 1 0 1 0 1 0 1 0 1 0 1 0 1 0 1 0 1.1 0 1 0 1 0 1 0 1 0 1 0 1 0 1 0 1 0 1 0 1 0 1 0 1 0 1.1 0 1 0 1 0 1 0 1 0 1 0 1 0 1 0 1 0 1 0 1 0 1 0 1 0 1 0 1.1 0 1 0 1 0 1 0 1 0 1 0 1 0 1 0 1 0 1 0 1 0 1 0 1 0 1.1 0 1 0 1-0.1 1 0 1 0 1 0 1 0 1 0 1-0.1 1 0 1 0 1 0 1-0.1 1.1 0 1 0 1-0.1 1 0 1 0 1-0.1 1 0 1-0.1 1-0.1 1 0 1-0.1 1-0.1 1-0.1 1.1-0.1 1-0.1 1-0.1 1-0.1 1-0.1 1-0.1 1-0.2 1-0.1 1-0.2 1-0.1 1-0.2 1-0.2 1-0.2 1-0.3 1.1-0.2 1-0.3 1-0.2 1-0.3 1-0.3 1-0.4 1-0.3 1-0.4 1-0.4 1-0.4 1-0.5 1-0.5 1-0.5 1.1-0.5 1-0.6 1-0.6 1-0.6 1-0.7 1-0.7 1-0.7 1-0.8 1-0.9 1-0.8 1-1 1-0.9 1-1.1 1.1-1 1-1.2 1-1.1 1-1.3 1-1.3 1-1.3 1-1.4 1-1.5 1-1.6 1-1.6 1-1.7 1-1.7 1-1.8 1-2 1.1-1.9 1-2.1 1-2.2 1-2.2 1-2.3 1-2.4 1-2.5 1-2.6 1-2.7 1-2.8 1-2.9 1-3 1-3.1 1.1-3.2 1-3.4 1-3.4 1-3.5 1-3.7 1-3.8 1-3.9 1-4 1-4.2 1-4.3 1-4.4 1-4.6 1-4.7 1-4.8 1.1-5 1-5.1 1-5.3 1-5.4 1-5.6 1-5.8 1-5.9 1-6 1-6.2 1-6.4 1-6.5 1-6.7 1-6.8 1.1-7 1-7.2 1-7.3 1-7.4 1-7.6 1-7.7 1-7.8 1-8 1-8.1 1-8.1 1-8.3 1-8.3 1-8.4 1.1-8.5 1-8.5 1-8.5 1-8.5 1-8.5 1-8.5 1-8.4 1-8.3 1-8.2 1-8.1 1-8 1-7.8 1-7.5 1.1-7.4 1-7.1 1-6.9 1-6.5 1-6.2 1-5.9 1-5.5 1-5.2 1-4.7 1-4.3 1-3.9 1-3.4 1-2.9 1-2.4 1.1-2 1-1.4 1-0.9 1-0.4 1 0.1 1 0.6 1 1.2 1 1.7 1 2.2 1 2.7 1 3.2 1 3.7 1 4.2 1.1 4.6 1 5 1 5.5 1 5.8 1 6.3 1 6.6 1 6.9 1 7.2 1 7.6 1 7.7 1 8.1 1 8.2 1 8.4 1 8.5 1.1 8.7 1 8.9 1 8.9 1 8.9 1 9 1 9.1 1 9 1 9 1 9 1 9 1 8.9 1 8.8 1 8.7 1.1 8.6 1 8.5 1 8.3 1 8.3 1 8.1 1 7.9 1 7.8 1 7.6 1 7.5 1 7.3 1 7.2 1 7 1 6.8 1.1 6.6 1 6.5 1 6.3 1 6.2 1 6 1 5.8 1 5.6 1 5.5 1 5.4 1 5.2 1 5 1 4.9 1 4.7 1 4.6 1.1 4.5 1 4.3 1 4.2 1 4.1 1 3.9 1 3.8 1 3.7 1 3.5 1 3.5 1 3.3 1 3.2 1 3.1 1 3 1.1 2.9 1 2.8 1 2.6 1 2.6 1 2.5 1 2.4 1 2.3 1 2.2 1 2.2 1 2 1 2 1 1.9 1 1.8 1.1 1.7 1 1.7 1 1.6 1 1.5 1 1.5 1 1.4 1 1.3 1 1.3 1 1.2 1 1.1 1 1.1 1 1.1 1 1 1.1 0.9 1 0.9 1 0.9 1 0.8 1 0.7 1 0.8 1 0.7 1 0.6 1 0.6 1 0.6 1 0.6 1 0.5 1 0.5 1 0.4 1.1 0.5 1 0.4 1 0.4 1 0.3 1 0.4 1 0.3 1 0.3 1 0.3 1 0.2 1 0.3 1 0.2 1 0.2 1 0.2 1.1 0.2 1 0.2 1 0.2 1 0.1 1 0.2 1 0.1 1 0.1 1 0.1 1 0.1 1 0.1 1 0.1 1 0.1 1 0.1 1 0.1 1.1 0 1 0.1 1 0.1 1 0 1 0.1 1 0 1 0 1 0.1 1 0 1 0.1 1 0 1 0 1 0 1.1 0.1 1 0 1 0 1 0 1 0 1 0 1 0.1" fill="none" stroke="#ff8a1c" stroke-width="3.6" stroke-linejoin="round"/>
<path d="M135 2372.3l1 0 1 0 1 0 1 0 1 0 1 0 1.1 0 1 0 1 0 1 0 1 0 1 0 1 0 1 0 1 0 1 0 1 0 1 0 1 0 1.1 0 1 0 1 0 1 0 1 0 1 0 1 0 1 0 1 0 1 0 1 0 1 0 1 0 1 0 1.1 0 1 0 1 0 1 0 1 0 1 0 1 0 1 0 1 0 1 0 1 0 1 0 1 0 1.1 0 1 0 1 0 1 0 1 0 1 0 1 0 1 0 1 0 1 0 1 0 1 0 1 0 1 0 1.1 0 1 0 1 0 1 0 1 0 1 0 1 0 1 0 1 0 1 0 1 0 1 0 1 0 1.1 0 1 0 1 0 1 0 1 0 1 0 1 0 1 0 1 0 1 0 1-0.1 1 0 1 0 1.1 0 1 0 1 0 1 0 1 0 1 0 1 0 1 0 1 0 1 0 1 0 1 0 1 0 1.1 0 1 0 1 0 1 0 1 0 1 0 1 0 1 0 1 0 1 0 1 0 1 0 1 0 1 0 1.1 0 1 0 1 0 1 0 1 0 1 0 1 0 1 0 1 0 1 0 1 0 1 0 1 0 1.1 0 1 0 1 0 1 0 1 0 1 0 1 0 1 0 1 0 1 0 1 0 1 0 1 0 1.1 0 1 0 1 0 1 0 1 0 1 0 1 0 1 0 1 0 1 0 1 0 1 0 1 0.1 1 0 1.1 0 1 0 1 0 1 0 1 0 1 0 1 0 1 0 1 0 1 0 1 0 1 0 1 0 1.1 0 1 0 1 0.1 1 0 1 0 1 0 1 0 1 0 1 0 1 0 1 0 1 0.1 1 0 1 0 1.1 0 1 0 1 0 1 0.1 1 0 1 0 1 0 1 0 1 0 1 0.1 1 0 1 0 1 0 1.1 0.1 1 0 1 0 1 0 1 0.1 1 0 1 0 1 0 1 0.1 1 0 1 0 1 0.1 1 0 1.1 0 1 0.1 1 0 1 0 1 0.1 1 0 1 0 1 0.1 1 0 1 0 1 0.1 1 0 1 0.1 1.1 0 1 0 1 0.1 1 0 1 0.1 1 0 1 0.1 1 0 1 0 1 0.1 1 0 1 0.1 1 0 1 0.1 1.1 0 1 0.1 1 0 1 0.1 1 0 1 0.1 1 0 1 0.1 1 0 1 0.1 1 0 1 0.1 1 0 1.1 0.1 1 0.1 1 0 1 0.1 1 0 1 0.1 1 0 1 0.1 1 0 1 0.1 1 0 1 0.1 1 0.1 1 0 1.1 0.1 1 0 1 0.1 1 0 1 0.1 1 0 1 0.1 1 0.1 1 0 1 0.1 1 0 1 0.1 1 0 1.1 0.1 1 0 1 0.1 1 0.1 1 0 1 0.1 1 0 1 0.1 1 0 1 0.1 1 0 1 0.1 1 0 1.1 0.1 1 0.1 1 0 1 0.1 1 0 1 0.1 1 0 1 0.1 1 0 1 0.1 1 0 1 0.1 1 0 1 0.1 1.1 0.1 1 0 1 0.1 1 0 1 0.1 1 0 1 0.1 1 0 1 0.1 1 0 1 0.1 1 0 1 0.1 1.1 0.1 1 0 1 0.1 1 0 1 0.1 1 0 1 0.1 1 0 1 0.1 1 0.1 1 0 1 0.1 1 0 1.1 0.1 1 0 1 0.1 1 0.1 1 0 1 0.1 1 0 1 0.1 1 0 1 0.1 1 0.1 1 0 1 0.1 1.1 0 1 0.1 1 0.1 1 0 1 0.1 1 0 1 0.1 1 0.1 1 0 1 0.1 1 0 1 0.1 1 0.1 1 0 1.1 0.1 1 0 1 0.1 1 0.1 1 0 1 0.1 1 0.1 1 0 1 0.1 1 0 1 0.1 1 0.1 1 0 1.1 0.1 1 0 1 0.1 1 0.1 1 0 1 0.1 1 0 1 0.1 1 0.1 1 0 1 0.1 1 0 1 0.1 1 0.1 1.1 0 1 0.1 1 0 1 0.1 1 0.1 1 0 1 0.1 1 0 1 0.1 1 0 1 0.1 1 0.1 1 0 1.1 0.1 1 0 1 0.1 1 0 1 0.1 1 0 1 0.1 1 0 1 0.1 1 0 1 0.1 1 0 1 0.1 1.1 0 1 0.1 1 0 1 0.1 1 0 1 0.1 1 0 1 0.1 1 0 1 0.1 1 0 1 0 1 0.1 1.1 0 1 0.1 1 0 1 0.1 1 0 1 0 1 0.1 1 0 1 0.1 1 0 1 0 1 0.1 1 0 1 0 1.1 0.1 1 0 1 0 1 0.1 1 0 1 0 1 0.1 1 0 1 0 1 0.1 1 0 1 0 1 0 1.1 0.1 1 0 1 0 1 0.1 1 0 1 0 1 0 1 0.1 1 0 1 0 1 0 1 0 1 0.1 1 0 1.1 0 1 0 1 0 1 0.1 1 0 1 0 1 0 1 0 1 0.1 1 0 1 0 1 0 1 0 1.1 0 1 0.1 1 0 1 0 1 0 1 0 1 0 1 0 1 0 1 0.1 1 0 1 0 1 0 1.1 0 1 0 1 0 1 0 1 0.1 1 0 1 0 1 0 1 0 1 0 1 0 1 0 1 0 1.1 0 1 0 1 0.1 1 0 1 0 1 0 1 0 1 0 1 0 1 0 1 0 1 0 1 0 1 0 1.1 0 1 0.1 1 0 1 0 1 0 1 0 1 0 1 0 1 0 1 0 1 0 1 0 1 0 1.1 0.1 1 0 1 0 1 0 1 0 1 0 1 0 1 0 1 0 1 0.1 1 0 1 0 1 0 1.1 0 1 0 1 0.1 1 0 1 0 1 0 1 0 1 0.1 1 0 1 0 1 0 1 0.1 1 0 1 0 1.1 0.1 1 0 1 0 1 0.1 1 0 1 0 1 0.1 1 0 1 0.1 1 0 1 0.1 1 0 1 0.1 1.1 0 1 0.1 1 0.1 1 0 1 0.1 1 0.1 1 0 1 0.1 1 0.1 1 0.1 1 0.1 1 0.1 1 0.1 1 0.1 1.1 0.1 1 0.1 1 0.1 1 0.1 1 0.1 1 0.1 1 0.2 1 0.1 1 0.1 1 0.2 1 0.1 1 0.2 1 0.1 1.1 0.2 1 0.1 1 0.2 1 0.2 1 0.2 1 0.2 1 0.2 1 0.2 1 0.2 1 0.2 1 0.2 1 0.3 1 0.2 1.1 0.2 1 0.3 1 0.2 1 0.3 1 0.3 1 0.2 1 0.3 1 0.3 1 0.3 1 0.3 1 0.3 1 0.3 1 0.4 1.1 0.3 1 0.3 1 0.4 1 0.3 1 0.3 1 0.4 1 0.4 1 0.3 1 0.4 1 0.4 1 0.3 1 0.4 1 0.4 1 0.4 1.1 0.4 1 0.3 1 0.4 1 0.4 1 0.4 1 0.4 1 0.4 1 0.4 1 0.4 1 0.3 1 0.4 1 0.4 1 0.4 1.1 0.4 1 0.3 1 0.4 1 0.4 1 0.3 1 0.4 1 0.3 1 0.4 1 0.3 1 0.3 1 0.4 1 0.3 1 0.3 1 0.3 1.1 0.3 1 0.3 1 0.3 1 0.3 1 0.3 1 0.2 1 0.3 1 0.2 1 0.3 1 0.2 1 0.3 1 0.2 1 0.2 1.1 0.2 1 0.2 1 0.2 1 0.2 1 0.2 1 0.2 1 0.2 1 0.2 1 0.1 1 0.2 1 0.2 1 0.1 1 0.2 1.1 0.1 1 0.1 1 0.2 1 0.1 1 0.1 1 0.1 1 0.1 1 0.2 1 0.1 1 0.1 1 0.1 1 0.1 1 0 1 0.1 1.1 0.1 1 0.1 1 0.1 1 0 1 0.1 1 0.1 1 0 1 0.1 1 0.1 1 0 1 0.1 1 0 1 0.1 1.1 0 1 0.1 1 0 1 0.1 1 0 1 0 1 0.1 1 0 1 0 1 0.1 1 0 1 0 1 0.1 1.1 0 1 0 1 0 1 0 1 0.1 1 0 1 0 1 0 1 0 1 0.1 1 0 1 0 1 0 1.1 0 1 0 1 0 1 0 1 0 1 0.1 1 0 1 0 1 0 1 0 1 0 1 0 1 0 1 0 1.1 0 1 0 1 0 1 0 1 0 1 0 1 0 1 0 1 0 1 0 1 0.1 1 0 1 0 1.1 0 1 0 1 0 1 0 1 0 1 0 1 0 1 0 1 0 1 0 1 0 1 0 1 0 1 0 1.1 0 1 0 1 0 1 0 1 0 1 0 1 0 1 0 1 0 1 0 1 0 1 0 1 0 1.1 0 1 0 1 0 1 0 1 0 1 0 1 0" fill="none" stroke="#8610ff" stroke-width="3.6" stroke-linejoin="round"/>
<path d="M135 2371.9l1 0 1 0 1 0 1 0 1 0 1 0 1.1 0 1 0 1 0 1 0 1 0 1 0 1 0 1 0 1 0 1 0 1 0 1 0 1 0 1.1 0 1 0 1 0 1-0.1 1 0 1 0 1 0 1 0 1 0 1 0 1 0 1 0 1 0 1 0 1.1 0 1 0 1 0 1 0 1 0 1 0 1 0 1 0 1-0.1 1 0 1 0 1 0 1 0 1.1 0 1 0 1 0 1 0 1 0 1 0 1-0.1 1 0 1 0 1 0 1 0 1 0 1 0 1-0.1 1.1 0 1 0 1 0 1 0 1 0 1-0.1 1 0 1 0 1 0 1-0.1 1 0 1 0 1-0.1 1.1 0 1 0 1-0.1 1 0 1 0 1-0.1 1 0 1-0.1 1 0 1-0.1 1 0 1-0.1 1 0 1.1-0.1 1 0 1-0.1 1-0.1 1-0.1 1 0 1-0.1 1-0.1 1-0.1 1-0.1 1-0.1 1-0.1 1-0.1 1.1-0.1 1-0.1 1-0.1 1-0.2 1-0.1 1-0.1 1-0.2 1-0.1 1-0.2 1-0.2 1-0.1 1-0.2 1-0.2 1-0.2 1.1-0.2 1-0.2 1-0.3 1-0.2 1-0.2 1-0.3 1-0.3 1-0.2 1-0.3 1-0.3 1-0.3 1-0.3 1-0.4 1.1-0.3 1-0.4 1-0.3 1-0.4 1-0.4 1-0.4 1-0.5 1-0.4 1-0.5 1-0.4 1-0.5 1-0.5 1-0.5 1.1-0.6 1-0.5 1-0.6 1-0.6 1-0.6 1-0.6 1-0.6 1-0.7 1-0.7 1-0.7 1-0.7 1-0.7 1-0.7 1-0.8 1.1-0.8 1-0.8 1-0.9 1-0.8 1-0.9 1-0.9 1-0.9 1-0.9 1-1 1-0.9 1-1 1-1 1-1.1 1.1-1 1-1.1 1-1.1 1-1.1 1-1.1 1-1.2 1-1.2 1-1.1 1-1.2 1-1.3 1-1.2 1-1.3 1-1.2 1-1.3 1.1-1.3 1-1.4 1-1.3 1-1.3 1-1.4 1-1.4 1-1.3 1-1.4 1-1.4 1-1.4 1-1.5 1-1.4 1-1.4 1.1-1.5 1-1.4 1-1.5 1-1.4 1-1.5 1-1.4 1-1.5 1-1.4 1-1.5 1-1.4 1-1.5 1-1.4 1-1.4 1.1-1.4 1-1.4 1-1.4 1-1.4 1-1.4 1-1.4 1-1.3 1-1.3 1-1.3 1-1.3 1-1.3 1-1.2 1-1.2 1.1-1.2 1-1.2 1-1.1 1-1.2 1-1 1-1.1 1-1 1-1 1-1 1-0.9 1-0.9 1-0.8 1-0.8 1-0.8 1.1-0.7 1-0.7 1-0.6 1-0.6 1-0.6 1-0.5 1-0.4 1-0.5 1-0.3 1-0.4 1-0.2 1-0.3 1-0.2 1.1-0.1 1-0.1 1 0 1 0 1 0.1 1 0.1 1 0.1 1 0.3 1 0.2 1 0.3 1 0.4 1 0.4 1 0.4 1 0.5 1.1 0.6 1 0.6 1 0.6 1 0.7 1 0.7 1 0.8 1 0.8 1 0.9 1 0.9 1 0.9 1 1 1 1 1 1 1.1 1.1 1 1.1 1 1.2 1 1.2 1 1.2 1 1.2 1 1.3 1 1.3 1 1.3 1 1.4 1 1.4 1 1.4 1 1.4 1.1 1.4 1 1.5 1 1.5 1 1.5 1 1.5 1 1.5 1 1.5 1 1.6 1 1.5 1 1.6 1 1.5 1 1.6 1 1.6 1 1.6 1.1 1.5 1 1.6 1 1.6 1 1.6 1 1.6 1 1.5 1 1.6 1 1.6 1 1.5 1 1.6 1 1.5 1 1.6 1 1.5 1.1 1.5 1 1.5 1 1.5 1 1.5 1 1.5 1 1.4 1 1.4 1 1.5 1 1.4 1 1.3 1 1.4 1 1.4 1 1.3 1.1 1.3 1 1.3 1 1.3 1 1.2 1 1.3 1 1.2 1 1.2 1 1.1 1 1.2 1 1.1 1 1.1 1 1.1 1 1.1 1.1 1 1 1 1 1 1 1 1 0.9 1 1 1 0.9 1 0.9 1 0.8 1 0.9 1 0.8 1 0.8 1 0.8 1 0.8 1.1 0.7 1 0.7 1 0.7 1 0.7 1 0.7 1 0.6 1 0.7 1 0.6 1 0.5 1 0.6 1 0.6 1 0.5 1 0.5 1.1 0.5 1 0.5 1 0.5 1 0.4 1 0.5 1 0.4 1 0.4 1 0.4 1 0.4 1 0.4 1 0.3 1 0.4 1 0.3 1 0.3 1.1 0.3 1 0.3 1 0.3 1 0.3 1 0.2 1 0.3 1 0.2 1 0.3 1 0.2 1 0.2 1 0.2 1 0.2 1 0.2 1.1 0.2 1 0.2 1 0.1 1 0.2 1 0.1 1 0.2 1 0.1 1 0.2 1 0.1 1 0.1 1 0.1 1 0.1 1 0.1 1.1 0.1 1 0.1 1 0.1 1 0.1 1 0.1 1 0.1 1 0.1 1 0 1 0.1 1 0.1 1 0 1 0.1 1 0.1 1.1 0 1 0.1 1 0 1 0.1 1 0 1 0.1 1 0 1 0 1 0.1 1 0 1 0 1 0.1 1 0 1 0 1.1 0.1 1 0 1 0 1 0 1 0.1 1 0 1 0 1 0 1 0 1 0.1 1 0 1 0 1 0 1.1 0 1 0 1 0.1 1 0 1 0 1 0 1 0 1 0 1 0 1 0 1 0.1 1 0 1 0 1 0 1.1 0 1 0 1 0 1 0 1 0 1 0 1 0 1 0.1 1 0 1 0 1 0 1 0 1 0 1.1 0 1 0 1 0 1 0 1 0 1 0 1 0 1 0 1 0 1 0 1 0 1 0 1 0.1 1.1 0 1 0 1 0 1 0 1 0 1 0 1 0 1 0 1 0 1 0 1 0 1 0 1 0 1.1 0 1 0 1 0 1 0 1 0 1 0 1 0 1 0 1 0.1 1 0 1 0 1 0 1 0 1 0 1.1 0 1 0 1 0 1 0 1 0 1 0 1 0 1 0 1 0 1 0 1 0.1 1 0 1 0 1.1 0 1 0 1 0 1 0 1 0 1 0 1 0 1 0.1 1 0 1 0 1 0 1 0 1 0 1.1 0 1 0.1 1 0 1 0 1 0 1 0 1 0.1 1 0 1 0 1 0 1 0.1 1 0 1 0 1 0 1.1 0.1 1 0 1 0 1 0.1 1 0 1 0.1 1 0 1 0.1 1 0 1 0 1 0.1 1 0.1 1 0 1.1 0.1 1 0 1 0.1 1 0.1 1 0 1 0.1 1 0.1 1 0 1 0.1 1 0.1 1 0.1 1 0.1 1 0.1 1 0.1 1.1 0.1 1 0.1 1 0.1 1 0.1 1 0.1 1 0.2 1 0.1 1 0.1 1 0.2 1 0.1 1 0.1 1 0.2 1 0.2 1.1 0.1 1 0.2 1 0.2 1 0.1 1 0.2 1 0.2 1 0.2 1 0.2 1 0.2 1 0.3 1 0.2 1 0.2 1 0.2 1.1 0.3 1 0.2 1 0.3 1 0.3 1 0.2 1 0.3 1 0.3 1 0.3 1 0.3 1 0.3 1 0.3 1 0.3 1 0.3 1.1 0.3 1 0.4 1 0.3 1 0.4 1 0.3 1 0.4 1 0.3 1 0.4 1 0.4 1 0.3 1 0.4 1 0.4 1 0.4 1 0.3 1.1 0.4 1 0.4 1 0.4 1 0.4 1 0.4 1 0.4 1 0.4 1 0.3 1 0.4 1 0.4 1 0.4 1 0.4 1 0.4 1.1 0.3 1 0.4 1 0.4 1 0.3 1 0.4 1 0.4 1 0.3 1 0.3 1 0.4 1 0.3 1 0.3 1 0.4 1 0.3 1 0.3 1.1 0.3 1 0.3 1 0.3 1 0.3 1 0.2 1 0.3 1 0.3 1 0.2 1 0.3 1 0.2 1 0.3 1 0.2 1 0.2 1.1 0.2 1 0.2 1 0.2 1 0.2 1 0.2 1 0.2 1 0.2 1 0.2 1 0.1 1 0.2 1 0.2 1 0.1 1 0.2 1.1 0.1 1 0.1 1 0.2 1 0.1 1 0.1 1 0.1 1 0.2 1 0.1 1 0.1 1 0.1 1 0.1 1 0.1 1 0.1 1 0 1.1 0.1 1 0.1 1 0.1 1 0.1 1 0 1 0.1 1 0.1 1 0 1 0.1 1 0 1 0.1 1 0 1 0.1 1.1 0 1 0.1 1 0 1 0.1 1 0 1 0 1 0.1 1 0 1 0.1 1 0 1 0 1 0 1 0.1 1.1 0 1 0 1 0 1 0.1 1 0 1 0 1 0 1 0 1 0.1 1 0 1 0 1 0 1 0 1.1 0 1 0 1 0 1 0.1 1 0 1 0 1 0 1 0 1 0 1 0 1 0 1 0 1 0 1 0 1.1 0 1 0 1 0 1 0.1 1 0 1 0 1 0 1 0 1 0 1 0 1 0 1 0 1 0 1.1 0 1 0 1 0 1 0 1 0 1 0 1 0 1 0 1 0 1 0 1 0 1 0 1 0 1 0 1.1 0 1 0 1 0 1 0 1 0 1 0 1 0 1 0 1 0 1 0 1 0 1 0 1 0 1.1 0 1 0 1 0 1 0 1 0 1 0 1 0" fill="none" stroke="#22908e" stroke-width="3.6" stroke-linejoin="round"/>
<path d="M1207.5 1423.3l2.7 26.8 2.7-25.2 2.6 3.8 2.7-40.2 2.7 75.1 2.7-83.6 2.7 60.5 2.7-28.7 2.6-11.1 2.7 4.5 2.7-0.4 2.7 21.1 2.7-9.9 2.6 31.9 2.7-66.4 2.7 36.6 2.7-17.9 2.7 33.4 2.7-58 2.6 35.5 2.7 11 2.7-33.9 2.7 49.4 2.7-16.2 2.6 16.5 2.7-1 2.7-38.9 2.7 3.5 2.7 11.9 2.7 19 2.6 1.9 2.7-31.3 2.7 1.9 2.7-3.9 2.7 4.1 2.6 6.8 2.7 2 2.7 43.7 2.7-51.5 2.7 4.1 2.6 14.8 2.7-28.5 2.7 11.5 2.7 7.4 2.7 15 2.7-42.2 2.6 53.5 2.7-34.8 2.7 10.1 2.7 13.2 2.7-4.2 2.6 7.6 2.7-18.3 2.7-4.3 2.7 6.1 2.7-26.9 2.7 43.6 2.6-40.6 2.7-10.5 2.7 65.6 2.7-44.7 2.7-21.6 2.6 60.2 2.7-44.2 2.7 27.4 2.7-38.5 2.7 11 2.7-29.7 2.6-5.5 2.7 17.4 2.7 16.5 2.7 15.7 2.7 30.7 2.6-71.4 2.7 38.7 2.7-34.7 2.7 6.6 2.7-29.1 2.7-2.5 2.6 11.5 2.7-10.7 2.7 21.6 2.7-16.1 2.7 37.3 2.6-23.9 2.7-1.6 2.7 17.6 2.7-14.4 2.7-13 2.7-2.5 2.6-1.8 2.7 22.7 2.7-7.2 2.7-10 2.7 6.5 2.6-29.7 2.7 18 2.7-41.9 2.7 51.9 2.7-28.9 2.6-2 2.7 4.2 2.7-16.7 2.7-9.9 2.7 23.8 2.7-26.6 2.6-25.8 2.7 22 2.7-48.1 2.7 62.3 2.7-41.6 2.6-0.7 2.7 39.4 2.7-7 2.7-45.5 2.7 5.5 2.7 4.7 2.6 7.4 2.7-40.7 2.7 1.1 2.7 17.8 2.7-22.9 2.6 6.2 2.7-6.3 2.7-38 2.7 2.7 2.7-38.3 2.7 45.3 2.6 29.9 2.7-50.9 2.7 45.3 2.7-6 2.7-22.3 2.6 0.1 2.7 1.2 2.7-19.2 2.7 11.5 2.7 4.8 2.7 13.6 2.6 4.3 2.7-29.8 2.7 32.6 2.7-30.7 2.7 13.9 2.6 12.8 2.7-5.6 2.7 0.4 2.7 10.7 2.7-13.5 2.7 1.3 2.6 12.4 2.7 27.1 2.7-17.2 2.7 44.6 2.7-29.1 2.6-58.9 2.7 56.1 2.7 47.7 2.7-27.5 2.7-3 2.6-2.7 2.7 50.2 2.7-0.3 2.7-0.4 2.7 1.3 2.7 26.4 2.6-6.4 2.7-35.2 2.7 45.6 2.7-6.5 2.7-0.5 2.6 22.3 2.7-10.3 2.7-55.3 2.7 93.5 2.7-7.2 2.7-20.7 2.6-2.9 2.7 13.6 2.7-29.3 2.7 32.2 2.7-11 2.6-3.3 2.7-12.9 2.7 2.7 2.7 33 2.7 1.3 2.7-20.7 2.6-15.6 2.7-21.8 2.7 26.3 2.7 11.7 2.7-71.4 2.6 48.8 2.7-74.5 2.7 28.7 2.7 6.4 2.7-43.5 2.7-11.7 2.6 25.4 2.7 5 2.7-36 2.7 27.6 2.7-51.3 2.6 42.2 2.7-41.1 2.7-5.9 2.7-0.2 2.7-13.4 2.7 23.4 2.6 0.5 2.7-39.6 2.7-20.2 2.7-25.7 2.7 3.3 2.6 10.4 2.7-6.8 2.7-3.2 2.7-3.1 2.7 5.9 2.6-40.6 2.7 3 2.7 39.8 2.7-8.8 2.7-30.5 2.7 33.9 2.6-42.1 2.7 6.1 2.7-33.8 2.7 51.5 2.7-18.9 2.6 20 2.7-8.5 2.7-13.2 2.7 0.7 2.7 20.5 2.7-27 2.6 0.9 2.7 5.7 2.7 16.5 2.7 4.8 2.7 22.9 2.6-36.4 2.7 31.3 2.7-33.5 2.7 30.9 2.7-3.1 2.7 39.6 2.6-14.4 2.7-12.3 2.7 30.1 2.7 5.6 2.7-2.4 2.6 11.7 2.7-1.2 2.7 86.3 2.7-40.2 2.7 29.4 2.7-30.2 2.6 14.3 2.7 31.3 2.7 12.6 2.7 31.3 2.7-24.1 2.6 42.7 2.7 30.9 2.7-37.7 2.7 47.1 2.7-27.4 2.7 35.7 2.6 9.4 2.7 36 2.7-40.8 2.7 24.5 2.7 24.2 2.6-38.2 2.7 28.9 2.7-12.2 2.7 8 2.7 31.8 2.6 4.1 2.7 40.9 2.7-21.1 2.7 0.8 2.7-26.9 2.7-0.6 2.6 10.5 2.7-46.8 2.7 80.1 2.7-45.4 2.7-6.8 2.6 13 2.7 27.5 2.7 8 2.7-31.9 2.7 16.7 2.7-9.5 2.6-18.5 2.7 23.6 2.7-2.8" fill="none" stroke="#000" stroke-width="4.0" stroke-linejoin="round"/>
<path d="M1207.5 1489.7l1.3 0 1.4 0 1.3 0 1.4 0 1.3 0 1.3 0 1.4 0 1.3 0 1.4 0 1.3 0 1.3-0.1 1.4 0 1.3 0 1.4 0 1.3 0 1.4 0 1.3 0 1.3 0 1.4 0 1.3 0 1.4 0 1.3 0 1.3 0 1.4 0 1.3 0 1.4 0 1.3 0 1.3-0.1 1.4 0 1.3 0 1.4 0 1.3 0 1.3 0 1.4 0 1.3 0 1.4 0 1.3 0 1.4 0 1.3-0.1 1.3 0 1.4 0 1.3 0 1.4 0 1.3 0 1.3 0 1.4-0.1 1.3 0 1.4 0 1.3 0 1.3 0 1.4 0 1.3-0.1 1.4 0 1.3 0 1.3 0 1.4-0.1 1.3 0 1.4 0 1.3 0 1.4-0.1 1.3 0 1.3 0 1.4-0.1 1.3 0 1.4-0.1 1.3 0 1.3 0 1.4-0.1 1.3 0 1.4-0.1 1.3 0 1.3-0.1 1.4-0.1 1.3 0 1.4-0.1 1.3-0.1 1.3 0 1.4-0.1 1.3-0.1 1.4-0.1 1.3-0.1 1.3-0.1 1.4-0.1 1.3-0.1 1.4-0.1 1.3-0.1 1.4-0.1 1.3-0.2 1.3-0.1 1.4-0.1 1.3-0.2 1.4-0.1 1.3-0.2 1.3-0.2 1.4-0.1 1.3-0.2 1.4-0.2 1.3-0.2 1.3-0.2 1.4-0.3 1.3-0.2 1.4-0.2 1.3-0.3 1.3-0.3 1.4-0.2 1.3-0.3 1.4-0.3 1.3-0.3 1.4-0.4 1.3-0.3 1.3-0.4 1.4-0.3 1.3-0.4 1.4-0.4 1.3-0.4 1.3-0.5 1.4-0.4 1.3-0.5 1.4-0.5 1.3-0.5 1.3-0.5 1.4-0.5 1.3-0.6 1.4-0.6 1.3-0.6 1.3-0.6 1.4-0.6 1.3-0.7 1.4-0.7 1.3-0.7 1.3-0.7 1.4-0.8 1.3-0.7 1.4-0.9 1.3-0.8 1.4-0.8 1.3-0.9 1.3-0.9 1.4-0.9 1.3-1 1.4-1 1.3-1 1.3-1 1.4-1.1 1.3-1.1 1.4-1.1 1.3-1.1 1.3-1.2 1.4-1.2 1.3-1.2 1.4-1.3 1.3-1.3 1.3-1.3 1.4-1.3 1.3-1.4 1.4-1.4 1.3-1.4 1.4-1.5 1.3-1.4 1.3-1.5 1.4-1.6 1.3-1.5 1.4-1.6 1.3-1.6 1.3-1.6 1.4-1.7 1.3-1.7 1.4-1.7 1.3-1.7 1.3-1.8 1.4-1.7 1.3-1.8 1.4-1.8 1.3-1.8 1.3-1.9 1.4-1.8 1.3-1.9 1.4-1.9 1.3-1.9 1.3-1.9 1.4-1.9 1.3-2 1.4-1.9 1.3-2 1.4-1.9 1.3-2 1.3-1.9 1.4-2 1.3-1.9 1.4-2 1.3-1.9 1.3-2 1.4-1.9 1.3-2 1.4-1.9 1.3-1.9 1.3-1.9 1.4-1.9 1.3-1.9 1.4-1.8 1.3-1.8 1.3-1.8 1.4-1.8 1.3-1.8 1.4-1.7 1.3-1.7 1.4-1.7 1.3-1.6 1.3-1.6 1.4-1.6 1.3-1.5 1.4-1.5 1.3-1.4 1.3-1.4 1.4-1.4 1.3-1.3 1.4-1.3 1.3-1.2 1.3-1.2 1.4-1.1 1.3-1 1.4-1 1.3-1 1.3-0.9 1.4-0.8 1.3-0.8 1.4-0.7 1.3-0.6 1.4-0.6 1.3-0.6 1.3-0.4 1.4-0.4 1.3-0.4 1.4-0.2 1.3-0.2 1.3-0.2 1.4 0 1.3 0 1.4 0.1 1.3 0.1 1.3 0.2 1.4 0.3 1.3 0.4 1.4 0.5 1.3 0.6 1.3 0.6 1.4 0.7 1.3 0.8 1.4 0.9 1.3 0.9 1.3 1.1 1.4 1.1 1.3 1.1 1.4 1.2 1.3 1.3 1.4 1.4 1.3 1.4 1.3 1.5 1.4 1.6 1.3 1.6 1.4 1.6 1.3 1.8 1.3 1.7 1.4 1.8 1.3 1.9 1.4 1.9 1.3 1.9 1.3 2 1.4 2 1.3 2.1 1.4 2.1 1.3 2.1 1.3 2.1 1.4 2.2 1.3 2.2 1.4 2.2 1.3 2.2 1.4 2.2 1.3 2.3 1.3 2.3 1.4 2.2 1.3 2.3 1.4 2.3 1.3 2.3 1.3 2.2 1.4 2.3 1.3 2.3 1.4 2.2 1.3 2.3 1.3 2.2 1.4 2.3 1.3 2.2 1.4 2.2 1.3 2.2 1.3 2.1 1.4 2.2 1.3 2.1 1.4 2.1 1.3 2.1 1.4 2 1.3 2 1.3 2 1.4 2 1.3 1.9 1.4 1.9 1.3 1.9 1.3 1.9 1.4 1.8 1.3 1.8 1.4 1.7 1.3 1.7 1.3 1.7 1.4 1.6 1.3 1.6 1.4 1.6 1.3 1.5 1.3 1.5 1.4 1.5 1.3 1.4 1.4 1.4 1.3 1.4 1.3 1.3 1.4 1.3 1.3 1.2 1.4 1.2 1.3 1.2 1.4 1.2 1.3 1.1 1.3 1.1 1.4 1 1.3 1 1.4 1 1.3 1 1.3 0.9 1.4 0.9 1.3 0.8 1.4 0.9 1.3 0.8 1.3 0.7 1.4 0.8 1.3 0.7 1.4 0.7 1.3 0.7 1.3 0.6 1.4 0.6 1.3 0.6 1.4 0.6 1.3 0.6 1.4 0.5 1.3 0.5 1.3 0.5 1.4 0.5 1.3 0.4 1.4 0.4 1.3 0.4 1.3 0.4 1.4 0.4 1.3 0.4 1.4 0.3 1.3 0.4 1.3 0.3 1.4 0.3 1.3 0.3 1.4 0.3 1.3 0.2 1.3 0.3 1.4 0.2 1.3 0.3 1.4 0.2 1.3 0.2 1.3 0.2 1.4 0.2 1.3 0.2 1.4 0.2 1.3 0.2 1.4 0.2 1.3 0.1 1.3 0.2 1.4 0.1 1.3 0.2 1.4 0.1 1.3 0.1 1.3 0.2 1.4 0.1 1.3 0.1 1.4 0.1 1.3 0.2 1.3 0.1 1.4 0.1 1.3 0.1 1.4 0.1 1.3 0.1 1.3 0.1 1.4 0.1 1.3 0.1 1.4 0.1 1.3 0.1 1.4 0.1 1.3 0.1 1.3 0.1 1.4 0.1 1.3 0 1.4 0.1 1.3 0.1 1.3 0.1 1.4 0.1 1.3 0.1 1.4 0.1 1.3 0.1 1.3 0 1.4 0.1 1.3 0.1 1.4 0.1 1.3 0.1 1.3 0.1 1.4 0.1 1.3 0.1 1.4 0 1.3 0.1 1.3 0.1 1.4 0.1 1.3 0.1 1.4 0.1 1.3 0.1 1.4 0.1 1.3 0.1 1.3 0.1 1.4 0 1.3 0.1 1.4 0.1 1.3 0.1 1.3 0.1 1.4 0.1 1.3 0.1 1.4 0.1 1.3 0.1 1.3 0.1 1.4 0.1 1.3 0.1 1.4 0.1 1.3 0.1 1.3 0.1 1.4 0.1 1.3 0 1.4 0.1 1.3 0.1 1.4 0.1 1.3 0.1 1.3 0.1 1.4 0.1 1.3 0.1 1.4 0.1 1.3 0.1 1.3 0.1 1.4 0.1 1.3 0.1 1.4 0.1 1.3 0.1 1.3 0.1 1.4 0.1 1.3 0.1 1.4 0.1 1.3 0.1 1.3 0.1 1.4 0.1 1.3 0.1 1.4 0.1 1.3 0.1 1.4 0.1 1.3 0.1 1.3 0.1 1.4 0.1 1.3 0.1 1.4 0.1 1.3 0.1 1.3 0.2 1.4 0.1 1.3 0.1 1.4 0.1 1.3 0.1 1.3 0.1 1.4 0.1 1.3 0.1 1.4 0.1 1.3 0.1 1.3 0.1 1.4 0.1 1.3 0 1.4 0.1 1.3 0.1 1.3 0.1 1.4 0.1 1.3 0.1 1.4 0.1 1.3 0.1 1.4 0.1 1.3 0.1 1.3 0.1 1.4 0.1 1.3 0.1 1.4 0 1.3 0.1 1.3 0.1 1.4 0.1 1.3 0.1 1.4 0.1 1.3 0 1.3 0.1 1.4 0.1 1.3 0.1 1.4 0 1.3 0.1 1.3 0.1 1.4 0.1 1.3 0 1.4 0.1 1.3 0 1.4 0.1 1.3 0.1 1.3 0 1.4 0.1 1.3 0 1.4 0.1 1.3 0 1.3 0.1 1.4 0 1.3 0.1 1.4 0 1.3 0.1 1.3 0 1.4 0.1 1.3 0 1.4 0.1 1.3 0 1.3 0 1.4 0.1 1.3 0 1.4 0 1.3 0.1 1.4 0 1.3 0 1.3 0 1.4 0.1 1.3 0 1.4 0 1.3 0 1.3 0.1 1.4 0 1.3 0 1.4 0 1.3 0 1.3 0.1 1.4 0 1.3 0 1.4 0 1.3 0 1.3 0 1.4 0.1 1.3 0 1.4 0 1.3 0 1.3 0 1.4 0 1.3 0 1.4 0 1.3 0 1.4 0.1 1.3 0 1.3 0 1.4 0 1.3 0 1.4 0 1.3 0 1.3 0 1.4 0 1.3 0 1.4 0 1.3 0 1.3 0 1.4 0 1.3 0 1.4 0.1 1.3 0 1.3 0 1.4 0 1.3 0 1.4 0 1.3 0 1.4 0 1.3 0 1.3 0 1.4 0 1.3 0 1.4 0 1.3 0 1.3 0 1.4 0 1.3 0 1.4 0 1.3 0" fill="none" stroke="#22908e" stroke-width="3.6" stroke-linejoin="round"/>
<path d="M1207.5 1489.5l1.3 0 1.4 0 1.3 0 1.4 0 1.3 0 1.3 0 1.4 0 1.3 0 1.4 0 1.3 0 1.3 0 1.4 0 1.3 0 1.4 0 1.3 0 1.4 0 1.3 0 1.3 0 1.4 0 1.3 0 1.4 0 1.3-0.1 1.3 0 1.4 0 1.3 0 1.4 0 1.3 0 1.3 0 1.4 0 1.3 0 1.4 0 1.3 0 1.3 0 1.4 0 1.3 0 1.4 0 1.3 0 1.4 0 1.3 0 1.3 0 1.4-0.1 1.3 0 1.4 0 1.3 0 1.3 0 1.4 0 1.3 0 1.4 0 1.3 0 1.3 0 1.4 0 1.3 0 1.4 0 1.3 0 1.3 0 1.4 0 1.3-0.1 1.4 0 1.3 0 1.4 0 1.3 0 1.3 0 1.4 0 1.3 0 1.4 0 1.3 0 1.3 0 1.4 0 1.3 0 1.4-0.1 1.3 0 1.3 0 1.4 0 1.3 0 1.4 0 1.3 0 1.3 0 1.4 0 1.3 0 1.4 0 1.3 0 1.3-0.1 1.4 0 1.3 0 1.4 0 1.3 0 1.4 0 1.3 0 1.3 0 1.4 0 1.3 0 1.4-0.1 1.3 0 1.3 0 1.4 0 1.3 0 1.4 0 1.3 0 1.3 0 1.4-0.1 1.3 0 1.4 0 1.3 0 1.3 0 1.4 0 1.3 0 1.4-0.1 1.3 0 1.4 0 1.3 0 1.3 0 1.4 0 1.3-0.1 1.4 0 1.3 0 1.3 0 1.4 0 1.3 0 1.4-0.1 1.3 0 1.3 0 1.4 0 1.3-0.1 1.4 0 1.3 0 1.3 0 1.4-0.1 1.3 0 1.4 0 1.3-0.1 1.3 0 1.4 0 1.3-0.1 1.4 0 1.3-0.1 1.4 0 1.3 0 1.3-0.1 1.4 0 1.3-0.1 1.4 0 1.3-0.1 1.3-0.1 1.4 0 1.3-0.1 1.4-0.1 1.3 0 1.3-0.1 1.4-0.1 1.3-0.1 1.4-0.1 1.3 0 1.3-0.1 1.4-0.1 1.3-0.2 1.4-0.1 1.3-0.1 1.4-0.1 1.3-0.1 1.3-0.2 1.4-0.1 1.3-0.2 1.4-0.2 1.3-0.1 1.3-0.2 1.4-0.2 1.3-0.2 1.4-0.2 1.3-0.2 1.3-0.2 1.4-0.3 1.3-0.2 1.4-0.3 1.3-0.3 1.3-0.3 1.4-0.3 1.3-0.3 1.4-0.3 1.3-0.3 1.3-0.4 1.4-0.4 1.3-0.4 1.4-0.4 1.3-0.4 1.4-0.5 1.3-0.4 1.3-0.5 1.4-0.5 1.3-0.6 1.4-0.5 1.3-0.6 1.3-0.6 1.4-0.6 1.3-0.7 1.4-0.6 1.3-0.7 1.3-0.7 1.4-0.8 1.3-0.8 1.4-0.8 1.3-0.8 1.3-0.9 1.4-0.9 1.3-0.9 1.4-0.9 1.3-1 1.4-1.1 1.3-1 1.3-1.1 1.4-1.1 1.3-1.2 1.4-1.2 1.3-1.2 1.3-1.2 1.4-1.3 1.3-1.4 1.4-1.3 1.3-1.4 1.3-1.5 1.4-1.4 1.3-1.6 1.4-1.5 1.3-1.6 1.3-1.6 1.4-1.7 1.3-1.7 1.4-1.7 1.3-1.8 1.4-1.8 1.3-1.8 1.3-1.9 1.4-1.9 1.3-2 1.4-1.9 1.3-2 1.3-2.1 1.4-2.1 1.3-2.1 1.4-2.1 1.3-2.2 1.3-2.1 1.4-2.3 1.3-2.2 1.4-2.3 1.3-2.2 1.3-2.4 1.4-2.3 1.3-2.3 1.4-2.4 1.3-2.4 1.3-2.3 1.4-2.4 1.3-2.4 1.4-2.5 1.3-2.4 1.4-2.4 1.3-2.4 1.3-2.4 1.4-2.5 1.3-2.4 1.4-2.4 1.3-2.4 1.3-2.3 1.4-2.4 1.3-2.4 1.4-2.3 1.3-2.3 1.3-2.3 1.4-2.2 1.3-2.3 1.4-2.1 1.3-2.2 1.3-2.1 1.4-2.1 1.3-2 1.4-2 1.3-2 1.4-1.9 1.3-1.8 1.3-1.8 1.4-1.7 1.3-1.7 1.4-1.6 1.3-1.5 1.3-1.5 1.4-1.3 1.3-1.4 1.4-1.2 1.3-1.2 1.3-1.1 1.4-1 1.3-0.9 1.4-0.9 1.3-0.8 1.3-0.6 1.4-0.6 1.3-0.5 1.4-0.5 1.3-0.3 1.4-0.2 1.3-0.2 1.3 0 1.4 0 1.3 0.2 1.4 0.2 1.3 0.4 1.3 0.6 1.4 0.6 1.3 0.8 1.4 0.9 1.3 1 1.3 1.1 1.4 1.2 1.3 1.3 1.4 1.5 1.3 1.5 1.3 1.7 1.4 1.7 1.3 1.9 1.4 1.9 1.3 2.1 1.3 2.1 1.4 2.2 1.3 2.2 1.4 2.4 1.3 2.4 1.4 2.4 1.3 2.6 1.3 2.6 1.4 2.6 1.3 2.7 1.4 2.7 1.3 2.8 1.3 2.8 1.4 2.8 1.3 2.9 1.4 2.8 1.3 3 1.3 2.9 1.4 2.9 1.3 2.9 1.4 3 1.3 2.9 1.3 3 1.4 2.9 1.3 2.9 1.4 2.9 1.3 2.9 1.4 2.9 1.3 2.9 1.3 2.8 1.4 2.8 1.3 2.8 1.4 2.7 1.3 2.8 1.3 2.6 1.4 2.7 1.3 2.6 1.4 2.6 1.3 2.5 1.3 2.5 1.4 2.4 1.3 2.4 1.4 2.3 1.3 2.3 1.3 2.3 1.4 2.2 1.3 2.1 1.4 2.1 1.3 2.1 1.3 2 1.4 2 1.3 1.9 1.4 1.8 1.3 1.8 1.4 1.8 1.3 1.6 1.3 1.7 1.4 1.6 1.3 1.5 1.4 1.6 1.3 1.4 1.3 1.4 1.4 1.4 1.3 1.3 1.4 1.3 1.3 1.2 1.3 1.2 1.4 1.1 1.3 1.1 1.4 1.1 1.3 1 1.3 1 1.4 0.9 1.3 0.9 1.4 0.9 1.3 0.9 1.4 0.8 1.3 0.8 1.3 0.7 1.4 0.7 1.3 0.7 1.4 0.7 1.3 0.6 1.3 0.6 1.4 0.6 1.3 0.5 1.4 0.6 1.3 0.5 1.3 0.5 1.4 0.5 1.3 0.4 1.4 0.4 1.3 0.5 1.3 0.4 1.4 0.3 1.3 0.4 1.4 0.4 1.3 0.3 1.3 0.3 1.4 0.4 1.3 0.3 1.4 0.2 1.3 0.3 1.4 0.3 1.3 0.3 1.3 0.2 1.4 0.3 1.3 0.2 1.4 0.2 1.3 0.2 1.3 0.2 1.4 0.3 1.3 0.2 1.4 0.2 1.3 0.1 1.3 0.2 1.4 0.2 1.3 0.2 1.4 0.1 1.3 0.2 1.3 0.2 1.4 0.1 1.3 0.2 1.4 0.1 1.3 0.2 1.4 0.1 1.3 0.2 1.3 0.1 1.4 0.2 1.3 0.1 1.4 0.2 1.3 0.1 1.3 0.1 1.4 0.2 1.3 0.1 1.4 0.1 1.3 0.1 1.3 0.2 1.4 0.1 1.3 0.1 1.4 0.2 1.3 0.1 1.3 0.1 1.4 0.1 1.3 0.1 1.4 0.2 1.3 0.1 1.4 0.1 1.3 0.1 1.3 0.1 1.4 0.2 1.3 0.1 1.4 0.1 1.3 0.1 1.3 0.1 1.4 0.1 1.3 0.2 1.4 0.1 1.3 0.1 1.3 0.1 1.4 0.1 1.3 0.1 1.4 0.1 1.3 0.1 1.3 0.2 1.4 0.1 1.3 0.1 1.4 0.1 1.3 0.1 1.3 0.1 1.4 0.1 1.3 0.1 1.4 0.1 1.3 0.1 1.4 0.1 1.3 0.1 1.3 0.1 1.4 0.1 1.3 0.1 1.4 0.1 1.3 0.1 1.3 0.1 1.4 0.1 1.3 0.1 1.4 0 1.3 0.1 1.3 0.1 1.4 0.1 1.3 0.1 1.4 0.1 1.3 0 1.3 0.1 1.4 0.1 1.3 0.1 1.4 0 1.3 0.1 1.4 0.1 1.3 0 1.3 0.1 1.4 0.1 1.3 0 1.4 0.1 1.3 0 1.3 0.1 1.4 0.1 1.3 0 1.4 0.1 1.3 0 1.3 0.1 1.4 0 1.3 0.1 1.4 0 1.3 0 1.3 0.1 1.4 0 1.3 0.1 1.4 0 1.3 0 1.4 0.1 1.3 0 1.3 0 1.4 0.1 1.3 0 1.4 0 1.3 0.1 1.3 0 1.4 0 1.3 0 1.4 0.1 1.3 0 1.3 0 1.4 0 1.3 0 1.4 0.1 1.3 0 1.3 0 1.4 0 1.3 0 1.4 0 1.3 0.1 1.3 0 1.4 0 1.3 0 1.4 0 1.3 0 1.4 0 1.3 0.1 1.3 0 1.4 0 1.3 0 1.4 0 1.3 0 1.3 0 1.4 0 1.3 0 1.4 0 1.3 0.1 1.3 0 1.4 0 1.3 0 1.4 0 1.3 0 1.3 0 1.4 0 1.3 0 1.4 0 1.3 0 1.4 0 1.3 0 1.3 0 1.4 0.1 1.3 0 1.4 0 1.3 0 1.3 0 1.4 0 1.3 0 1.4 0 1.3 0" fill="none" stroke="#8610ff" stroke-width="3.6" stroke-linejoin="round"/>
<path d="M1207.5 1489.9l1.3 0 1.4 0 1.3 0 1.4 0 1.3 0 1.3 0 1.4 0 1.3 0 1.4 0 1.3 0 1.3 0 1.4 0 1.3 0 1.4 0 1.3 0 1.4 0 1.3 0 1.3 0 1.4 0 1.3 0 1.4 0 1.3 0 1.3 0 1.4 0 1.3 0 1.4 0 1.3 0 1.3 0 1.4 0 1.3 0 1.4 0 1.3 0 1.3 0 1.4 0 1.3 0 1.4 0 1.3 0 1.4 0 1.3 0 1.3 0 1.4 0 1.3 0 1.4 0 1.3 0 1.3 0 1.4 0 1.3 0 1.4 0 1.3 0 1.3 0 1.4 0 1.3 0 1.4 0 1.3 0 1.3 0 1.4 0 1.3 0 1.4 0 1.3 0 1.4 0 1.3 0 1.3 0 1.4 0 1.3 0 1.4 0 1.3 0 1.3 0 1.4 0 1.3 0 1.4 0 1.3 0 1.3 0 1.4 0 1.3 0 1.4 0 1.3 0 1.3 0 1.4 0 1.3 0 1.4 0 1.3 0 1.3 0 1.4 0 1.3-0.1 1.4 0 1.3 0 1.4 0 1.3 0 1.3 0 1.4 0 1.3 0 1.4 0 1.3 0 1.3 0 1.4 0 1.3 0 1.4 0 1.3 0 1.3 0 1.4 0 1.3 0 1.4 0 1.3 0 1.3 0 1.4 0 1.3 0 1.4 0 1.3 0 1.4 0 1.3 0 1.3 0 1.4 0 1.3 0 1.4 0 1.3 0 1.3 0 1.4 0 1.3 0 1.4 0 1.3 0 1.3 0 1.4 0 1.3 0 1.4 0 1.3 0 1.3 0 1.4 0 1.3 0 1.4 0 1.3 0 1.3 0 1.4 0 1.3 0 1.4 0 1.3 0 1.4 0 1.3 0.1 1.3 0 1.4 0 1.3 0 1.4 0 1.3 0 1.3 0 1.4 0 1.3 0 1.4 0 1.3 0 1.3 0 1.4 0 1.3 0 1.4 0 1.3 0 1.3 0 1.4 0 1.3 0 1.4 0 1.3 0.1 1.4 0 1.3 0 1.3 0 1.4 0 1.3 0 1.4 0 1.3 0 1.3 0 1.4 0 1.3 0.1 1.4 0 1.3 0 1.3 0 1.4 0 1.3 0 1.4 0 1.3 0 1.3 0.1 1.4 0 1.3 0 1.4 0 1.3 0 1.3 0 1.4 0.1 1.3 0 1.4 0 1.3 0 1.4 0 1.3 0.1 1.3 0 1.4 0 1.3 0 1.4 0 1.3 0.1 1.3 0 1.4 0 1.3 0 1.4 0.1 1.3 0 1.3 0 1.4 0 1.3 0.1 1.4 0 1.3 0 1.3 0.1 1.4 0 1.3 0 1.4 0 1.3 0.1 1.4 0 1.3 0 1.3 0.1 1.4 0 1.3 0 1.4 0.1 1.3 0 1.3 0 1.4 0.1 1.3 0 1.4 0.1 1.3 0 1.3 0 1.4 0.1 1.3 0 1.4 0 1.3 0.1 1.3 0 1.4 0.1 1.3 0 1.4 0.1 1.3 0 1.4 0 1.3 0.1 1.3 0 1.4 0.1 1.3 0 1.4 0.1 1.3 0 1.3 0.1 1.4 0 1.3 0 1.4 0.1 1.3 0 1.3 0.1 1.4 0 1.3 0.1 1.4 0 1.3 0.1 1.3 0 1.4 0.1 1.3 0 1.4 0.1 1.3 0 1.3 0.1 1.4 0 1.3 0.1 1.4 0 1.3 0.1 1.4 0 1.3 0.1 1.3 0 1.4 0.1 1.3 0 1.4 0.1 1.3 0 1.3 0.1 1.4 0 1.3 0.1 1.4 0 1.3 0.1 1.3 0 1.4 0.1 1.3 0 1.4 0.1 1.3 0 1.3 0 1.4 0.1 1.3 0 1.4 0.1 1.3 0 1.4 0.1 1.3 0 1.3 0 1.4 0.1 1.3 0 1.4 0 1.3 0.1 1.3 0 1.4 0 1.3 0.1 1.4 0 1.3 0 1.3 0 1.4 0 1.3 0.1 1.4 0 1.3 0 1.3 0 1.4 0 1.3 0 1.4 0 1.3 0 1.4 0 1.3-0.1 1.3 0 1.4 0 1.3 0 1.4-0.1 1.3 0 1.3-0.1 1.4-0.1 1.3-0.1 1.4 0 1.3-0.1 1.3-0.1 1.4-0.2 1.3-0.1 1.4-0.1 1.3-0.2 1.3-0.2 1.4-0.2 1.3-0.2 1.4-0.2 1.3-0.3 1.3-0.2 1.4-0.3 1.3-0.3 1.4-0.4 1.3-0.3 1.4-0.4 1.3-0.4 1.3-0.5 1.4-0.5 1.3-0.5 1.4-0.5 1.3-0.6 1.3-0.6 1.4-0.7 1.3-0.7 1.4-0.8 1.3-0.8 1.3-0.8 1.4-0.9 1.3-1 1.4-1 1.3-1 1.3-1.1 1.4-1.2 1.3-1.2 1.4-1.4 1.3-1.3 1.4-1.5 1.3-1.5 1.3-1.6 1.4-1.6 1.3-1.7 1.4-1.9 1.3-1.8 1.3-2 1.4-2.1 1.3-2.1 1.4-2.2 1.3-2.4 1.3-2.4 1.4-2.5 1.3-2.5 1.4-2.7 1.3-2.8 1.3-2.8 1.4-3 1.3-3 1.4-3.1 1.3-3.2 1.3-3.3 1.4-3.4 1.3-3.5 1.4-3.6 1.3-3.6 1.4-3.8 1.3-3.8 1.3-3.8 1.4-4 1.3-4 1.4-4.1 1.3-4.2 1.3-4.2 1.4-4.2 1.3-4.3 1.4-4.4 1.3-4.4 1.3-4.4 1.4-4.4 1.3-4.5 1.4-4.5 1.3-4.5 1.3-4.4 1.4-4.5 1.3-4.5 1.4-4.4 1.3-4.4 1.4-4.4 1.3-4.4 1.3-4.2 1.4-4.2 1.3-4.2 1.4-4.1 1.3-3.9 1.3-3.9 1.4-3.8 1.3-3.7 1.4-3.5 1.3-3.4 1.3-3.3 1.4-3.2 1.3-2.9 1.4-2.9 1.3-2.6 1.3-2.5 1.4-2.3 1.3-2.1 1.4-1.9 1.3-1.7 1.3-1.5 1.4-1.3 1.3-1.1 1.4-0.9 1.3-0.7 1.4-0.4 1.3-0.2 1.3 0 1.4 0.2 1.3 0.4 1.4 0.6 1.3 0.8 1.3 0.9 1.4 1.2 1.3 1.3 1.4 1.5 1.3 1.6 1.3 1.8 1.4 2 1.3 2.2 1.4 2.3 1.3 2.4 1.3 2.6 1.4 2.8 1.3 2.8 1.4 3 1.3 3.1 1.4 3.3 1.3 3.3 1.3 3.5 1.4 3.5 1.3 3.6 1.4 3.8 1.3 3.8 1.3 3.8 1.4 4 1.3 4 1.4 4 1.3 4.1 1.3 4.1 1.4 4.2 1.3 4.2 1.4 4.2 1.3 4.2 1.3 4.2 1.4 4.3 1.3 4.2 1.4 4.2 1.3 4.3 1.4 4.2 1.3 4.1 1.3 4.2 1.4 4.1 1.3 4.1 1.4 4.1 1.3 4 1.3 3.9 1.4 4 1.3 3.8 1.4 3.8 1.3 3.8 1.3 3.7 1.4 3.6 1.3 3.6 1.4 3.5 1.3 3.4 1.3 3.4 1.4 3.2 1.3 3.3 1.4 3.1 1.3 3.1 1.3 3 1.4 2.9 1.3 2.8 1.4 2.8 1.3 2.6 1.4 2.6 1.3 2.6 1.3 2.4 1.4 2.4 1.3 2.3 1.4 2.2 1.3 2.2 1.3 2.1 1.4 2 1.3 1.9 1.4 1.9 1.3 1.8 1.3 1.7 1.4 1.7 1.3 1.6 1.4 1.5 1.3 1.5 1.3 1.4 1.4 1.4 1.3 1.3 1.4 1.2 1.3 1.2 1.4 1.2 1.3 1 1.3 1.1 1.4 1 1.3 0.9 1.4 0.9 1.3 0.9 1.3 0.8 1.4 0.8 1.3 0.7 1.4 0.7 1.3 0.7 1.3 0.6 1.4 0.6 1.3 0.6 1.4 0.5 1.3 0.6 1.3 0.4 1.4 0.5 1.3 0.4 1.4 0.5 1.3 0.4 1.4 0.3 1.3 0.4 1.3 0.3 1.4 0.3 1.3 0.3 1.4 0.3 1.3 0.2 1.3 0.3 1.4 0.2 1.3 0.2 1.4 0.3 1.3 0.1 1.3 0.2 1.4 0.2 1.3 0.2 1.4 0.1 1.3 0.2 1.3 0.1 1.4 0.1 1.3 0.2 1.4 0.1 1.3 0.1 1.3 0.1 1.4 0.1 1.3 0.1 1.4 0.1 1.3 0.1 1.4 0 1.3 0.1 1.3 0.1 1.4 0.1 1.3 0 1.4 0.1 1.3 0 1.3 0.1 1.4 0.1 1.3 0 1.4 0.1 1.3 0 1.3 0 1.4 0.1 1.3 0 1.4 0.1 1.3 0 1.3 0 1.4 0.1 1.3 0 1.4 0 1.3 0.1 1.4 0 1.3 0 1.3 0.1 1.4 0 1.3 0 1.4 0 1.3 0.1 1.3 0 1.4 0 1.3 0 1.4 0.1 1.3 0" fill="none" stroke="#ff8a1c" stroke-width="3.6" stroke-linejoin="round"/>
<path d="M1207.5 1490l1.3 0 1.4 0 1.3 0 1.4 0 1.3 0 1.3 0 1.4 0 1.3 0 1.4 0 1.3 0 1.3 0 1.4 0 1.3 0 1.4 0 1.3 0 1.4 0 1.3 0 1.3 0 1.4 0 1.3 0 1.4 0 1.3 0 1.3 0 1.4 0 1.3 0 1.4 0 1.3 0 1.3 0 1.4 0 1.3 0 1.4 0 1.3 0 1.3 0 1.4 0 1.3 0 1.4 0 1.3 0 1.4 0 1.3-0.1 1.3 0 1.4 0 1.3 0 1.4 0 1.3 0 1.3 0 1.4 0 1.3 0 1.4 0 1.3 0 1.3 0 1.4 0 1.3 0 1.4 0 1.3 0 1.3 0 1.4 0 1.3 0 1.4 0 1.3 0 1.4 0 1.3 0 1.3 0 1.4 0 1.3 0 1.4 0 1.3 0 1.3 0 1.4 0 1.3 0 1.4 0 1.3 0 1.3 0 1.4 0 1.3 0 1.4 0 1.3 0 1.3 0 1.4 0 1.3 0 1.4 0 1.3 0 1.3 0 1.4 0 1.3 0 1.4 0 1.3 0 1.4 0 1.3 0 1.3 0 1.4 0 1.3 0 1.4 0 1.3 0 1.3 0 1.4 0 1.3 0 1.4 0 1.3 0 1.3 0 1.4 0 1.3 0 1.4 0 1.3 0 1.3 0 1.4 0 1.3 0 1.4 0 1.3 0 1.4 0 1.3 0 1.3 0 1.4 0 1.3 0 1.4 0 1.3 0 1.3 0 1.4 0 1.3 0 1.4 0 1.3 0 1.3 0 1.4 0 1.3 0 1.4 0 1.3 0 1.3 0 1.4 0 1.3 0 1.4 0 1.3 0.1 1.3 0 1.4 0 1.3 0 1.4 0 1.3 0 1.4 0 1.3 0 1.3 0 1.4 0 1.3 0 1.4 0 1.3 0 1.3 0 1.4 0 1.3 0 1.4 0 1.3 0 1.3 0 1.4 0 1.3 0.1 1.4 0 1.3 0 1.3 0 1.4 0 1.3 0 1.4 0 1.3 0 1.4 0 1.3 0 1.3 0 1.4 0.1 1.3 0 1.4 0 1.3 0 1.3 0 1.4 0 1.3 0 1.4 0 1.3 0.1 1.3 0 1.4 0 1.3 0 1.4 0 1.3 0 1.3 0.1 1.4 0 1.3 0 1.4 0 1.3 0 1.3 0 1.4 0.1 1.3 0 1.4 0 1.3 0 1.4 0.1 1.3 0 1.3 0 1.4 0 1.3 0 1.4 0.1 1.3 0 1.3 0 1.4 0.1 1.3 0 1.4 0 1.3 0 1.3 0.1 1.4 0 1.3 0 1.4 0.1 1.3 0 1.3 0 1.4 0.1 1.3 0 1.4 0 1.3 0.1 1.4 0 1.3 0 1.3 0.1 1.4 0 1.3 0 1.4 0.1 1.3 0 1.3 0.1 1.4 0 1.3 0 1.4 0.1 1.3 0 1.3 0.1 1.4 0 1.3 0.1 1.4 0 1.3 0 1.3 0.1 1.4 0 1.3 0.1 1.4 0 1.3 0.1 1.4 0 1.3 0.1 1.3 0 1.4 0.1 1.3 0 1.4 0.1 1.3 0 1.3 0.1 1.4 0 1.3 0.1 1.4 0 1.3 0.1 1.3 0.1 1.4 0 1.3 0.1 1.4 0 1.3 0.1 1.3 0 1.4 0.1 1.3 0 1.4 0.1 1.3 0.1 1.3 0 1.4 0.1 1.3 0 1.4 0.1 1.3 0.1 1.4 0 1.3 0.1 1.3 0 1.4 0.1 1.3 0 1.4 0.1 1.3 0.1 1.3 0 1.4 0.1 1.3 0 1.4 0.1 1.3 0.1 1.3 0 1.4 0.1 1.3 0.1 1.4 0 1.3 0.1 1.3 0 1.4 0.1 1.3 0.1 1.4 0 1.3 0.1 1.4 0 1.3 0.1 1.3 0 1.4 0.1 1.3 0.1 1.4 0 1.3 0.1 1.3 0 1.4 0.1 1.3 0.1 1.4 0 1.3 0.1 1.3 0 1.4 0.1 1.3 0 1.4 0.1 1.3 0 1.3 0.1 1.4 0 1.3 0.1 1.4 0.1 1.3 0 1.4 0.1 1.3 0 1.3 0.1 1.4 0 1.3 0 1.4 0.1 1.3 0 1.3 0.1 1.4 0 1.3 0.1 1.4 0 1.3 0.1 1.3 0 1.4 0.1 1.3 0 1.4 0 1.3 0.1 1.3 0 1.4 0 1.3 0.1 1.4 0 1.3 0 1.3 0.1 1.4 0 1.3 0 1.4 0.1 1.3 0 1.4 0 1.3 0 1.3 0.1 1.4 0 1.3 0 1.4 0 1.3 0.1 1.3 0 1.4 0 1.3 0 1.4 0 1.3 0 1.3 0 1.4 0 1.3 0.1 1.4 0 1.3 0 1.3 0 1.4 0 1.3 0 1.4 0 1.3 0 1.4-0.1 1.3 0 1.3 0 1.4 0 1.3 0 1.4 0 1.3 0 1.3-0.1 1.4 0 1.3 0 1.4-0.1 1.3 0 1.3-0.1 1.4 0 1.3-0.1 1.4 0 1.3-0.1 1.3 0 1.4-0.1 1.3-0.1 1.4-0.1 1.3-0.1 1.3-0.1 1.4-0.1 1.3-0.1 1.4-0.2 1.3-0.1 1.4-0.2 1.3-0.1 1.3-0.2 1.4-0.2 1.3-0.2 1.4-0.2 1.3-0.3 1.3-0.2 1.4-0.3 1.3-0.3 1.4-0.3 1.3-0.3 1.3-0.4 1.4-0.4 1.3-0.4 1.4-0.5 1.3-0.4 1.3-0.6 1.4-0.5 1.3-0.6 1.4-0.6 1.3-0.7 1.4-0.7 1.3-0.7 1.3-0.8 1.4-0.8 1.3-0.9 1.4-1 1.3-0.9 1.3-1.1 1.4-1.1 1.3-1.2 1.4-1.2 1.3-1.3 1.3-1.4 1.4-1.5 1.3-1.5 1.4-1.6 1.3-1.7 1.3-1.7 1.4-1.9 1.3-1.9 1.4-2 1.3-2.1 1.3-2.2 1.4-2.3 1.3-2.4 1.4-2.5 1.3-2.6 1.4-2.6 1.3-2.8 1.3-2.9 1.4-3 1.3-3.1 1.4-3.2 1.3-3.3 1.3-3.4 1.4-3.5 1.3-3.7 1.4-3.7 1.3-3.8 1.3-3.9 1.4-4 1.3-4.2 1.4-4.2 1.3-4.3 1.3-4.4 1.4-4.4 1.3-4.6 1.4-4.6 1.3-4.7 1.4-4.8 1.3-4.9 1.3-4.9 1.4-4.9 1.3-5 1.4-5 1.3-5.1 1.3-5.1 1.4-5.1 1.3-5.1 1.4-5.2 1.3-5.1 1.3-5.1 1.4-5.1 1.3-5.1 1.4-5 1.3-5 1.3-4.9 1.4-4.9 1.3-4.8 1.4-4.6 1.3-4.6 1.4-4.5 1.3-4.4 1.3-4.3 1.4-4.1 1.3-4 1.4-3.8 1.3-3.7 1.3-3.5 1.4-3.3 1.3-3.1 1.4-2.9 1.3-2.7 1.3-2.5 1.4-2.3 1.3-2.1 1.4-1.8 1.3-1.6 1.3-1.3 1.4-1.1 1.3-0.9 1.4-0.6 1.3-0.3 1.3-0.1 1.4 0.2 1.3 0.4 1.4 0.8 1.3 1.1 1.4 1.3 1.3 1.7 1.3 1.9 1.4 2.2 1.3 2.5 1.4 2.7 1.3 3 1.3 3.2 1.4 3.5 1.3 3.6 1.4 3.9 1.3 4.1 1.3 4.3 1.4 4.4 1.3 4.6 1.4 4.8 1.3 4.9 1.3 5.1 1.4 5.1 1.3 5.3 1.4 5.3 1.3 5.5 1.4 5.5 1.3 5.5 1.3 5.7 1.4 5.6 1.3 5.7 1.4 5.6 1.3 5.7 1.3 5.7 1.4 5.6 1.3 5.7 1.4 5.6 1.3 5.5 1.3 5.5 1.4 5.4 1.3 5.4 1.4 5.3 1.3 5.2 1.3 5.2 1.4 5 1.3 4.9 1.4 4.9 1.3 4.7 1.4 4.6 1.3 4.6 1.3 4.4 1.4 4.2 1.3 4.2 1.4 4.1 1.3 3.9 1.3 3.8 1.4 3.7 1.3 3.5 1.4 3.4 1.3 3.4 1.3 3.1 1.4 3.1 1.3 3 1.4 2.8 1.3 2.7 1.3 2.6 1.4 2.5 1.3 2.4 1.4 2.3 1.3 2.1 1.3 2.1 1.4 2 1.3 1.9 1.4 1.7 1.3 1.7 1.4 1.6 1.3 1.6 1.3 1.4 1.4 1.4 1.3 1.3 1.4 1.2 1.3 1.1 1.3 1.1 1.4 1.1 1.3 0.9 1.4 0.9 1.3 0.9 1.3 0.8 1.4 0.7 1.3 0.7 1.4 0.7 1.3 0.6 1.3 0.6 1.4 0.5 1.3 0.5 1.4 0.5 1.3 0.5 1.4 0.4 1.3 0.4 1.3 0.3 1.4 0.4 1.3 0.3 1.4 0.3 1.3 0.2 1.3 0.3 1.4 0.2 1.3 0.2 1.4 0.3 1.3 0.2" fill="none" stroke="#1a1aff" stroke-width="3.6" stroke-linejoin="round"/>
<path d="M1207.5 1488.5l1.3 0 1.4 0 1.3 0 1.4 0 1.3 0 1.3 0 1.4 0 1.3 0 1.4 0 1.3-0.1 1.3 0 1.4 0 1.3 0 1.4 0 1.3 0 1.4 0 1.3 0 1.3-0.1 1.4 0 1.3 0 1.4 0 1.3 0 1.3 0 1.4 0 1.3-0.1 1.4 0 1.3 0 1.3 0 1.4 0 1.3 0 1.4-0.1 1.3 0 1.3 0 1.4 0 1.3 0 1.4 0 1.3-0.1 1.4 0 1.3 0 1.3 0 1.4 0 1.3-0.1 1.4 0 1.3 0 1.3 0 1.4-0.1 1.3 0 1.4 0 1.3 0 1.3-0.1 1.4 0 1.3 0 1.4-0.1 1.3 0 1.3 0 1.4-0.1 1.3 0 1.4 0 1.3-0.1 1.4 0 1.3-0.1 1.3 0 1.4-0.1 1.3 0 1.4-0.1 1.3 0 1.3-0.1 1.4 0 1.3-0.1 1.4-0.1 1.3 0 1.3-0.1 1.4-0.1 1.3-0.1 1.4 0 1.3-0.1 1.3-0.1 1.4-0.1 1.3-0.1 1.4-0.1 1.3-0.1 1.3-0.1 1.4-0.1 1.3-0.1 1.4-0.2 1.3-0.1 1.4-0.1 1.3-0.2 1.3-0.1 1.4-0.2 1.3-0.2 1.4-0.1 1.3-0.2 1.3-0.2 1.4-0.2 1.3-0.2 1.4-0.2 1.3-0.2 1.3-0.3 1.4-0.2 1.3-0.3 1.4-0.2 1.3-0.3 1.3-0.3 1.4-0.3 1.3-0.3 1.4-0.3 1.3-0.3 1.4-0.4 1.3-0.4 1.3-0.3 1.4-0.4 1.3-0.4 1.4-0.5 1.3-0.4 1.3-0.5 1.4-0.4 1.3-0.5 1.4-0.6 1.3-0.5 1.3-0.5 1.4-0.6 1.3-0.6 1.4-0.6 1.3-0.7 1.3-0.6 1.4-0.7 1.3-0.7 1.4-0.7 1.3-0.8 1.3-0.7 1.4-0.8 1.3-0.9 1.4-0.8 1.3-0.9 1.4-0.9 1.3-0.9 1.3-1 1.4-1 1.3-1 1.4-1.1 1.3-1 1.3-1.2 1.4-1.1 1.3-1.2 1.4-1.2 1.3-1.2 1.3-1.3 1.4-1.3 1.3-1.3 1.4-1.4 1.3-1.3 1.3-1.5 1.4-1.4 1.3-1.5 1.4-1.6 1.3-1.5 1.4-1.6 1.3-1.7 1.3-1.6 1.4-1.7 1.3-1.8 1.4-1.7 1.3-1.8 1.3-1.9 1.4-1.8 1.3-1.9 1.4-2 1.3-1.9 1.3-2 1.4-2.1 1.3-2 1.4-2.1 1.3-2.2 1.3-2.1 1.4-2.2 1.3-2.2 1.4-2.3 1.3-2.2 1.3-2.4 1.4-2.3 1.3-2.3 1.4-2.4 1.3-2.4 1.4-2.5 1.3-2.4 1.3-2.5 1.4-2.5 1.3-2.6 1.4-2.5 1.3-2.6 1.3-2.6 1.4-2.6 1.3-2.6 1.4-2.6 1.3-2.7 1.3-2.7 1.4-2.6 1.3-2.7 1.4-2.7 1.3-2.7 1.3-2.8 1.4-2.7 1.3-2.7 1.4-2.7 1.3-2.8 1.4-2.7 1.3-2.8 1.3-2.7 1.4-2.7 1.3-2.8 1.4-2.7 1.3-2.7 1.3-2.8 1.4-2.7 1.3-2.7 1.4-2.7 1.3-2.7 1.3-2.6 1.4-2.7 1.3-2.6 1.4-2.6 1.3-2.6 1.3-2.6 1.4-2.6 1.3-2.5 1.4-2.5 1.3-2.5 1.4-2.5 1.3-2.4 1.3-2.4 1.4-2.4 1.3-2.4 1.4-2.3 1.3-2.3 1.3-2.2 1.4-2.3 1.3-2.1 1.4-2.2 1.3-2.1 1.3-2 1.4-2 1.3-1.9 1.4-1.9 1.3-1.8 1.3-1.7 1.4-1.7 1.3-1.7 1.4-1.6 1.3-1.5 1.3-1.4 1.4-1.4 1.3-1.4 1.4-1.2 1.3-1.2 1.4-1.2 1.3-1.1 1.3-1 1.4-1 1.3-0.9 1.4-0.8 1.3-0.8 1.3-0.7 1.4-0.6 1.3-0.6 1.4-0.6 1.3-0.4 1.3-0.4 1.4-0.4 1.3-0.2 1.4-0.2 1.3-0.2 1.3-0.1 1.4 0 1.3 0.1 1.4 0.1 1.3 0.1 1.4 0.3 1.3 0.3 1.3 0.3 1.4 0.5 1.3 0.5 1.4 0.5 1.3 0.7 1.3 0.7 1.4 0.7 1.3 0.8 1.4 0.9 1.3 1 1.3 1 1.4 1.1 1.3 1.1 1.4 1.3 1.3 1.2 1.3 1.4 1.4 1.4 1.3 1.5 1.4 1.5 1.3 1.6 1.4 1.6 1.3 1.7 1.3 1.8 1.4 1.8 1.3 1.9 1.4 2 1.3 2.1 1.3 2.2 1.4 2.2 1.3 2.4 1.4 2.4 1.3 2.4 1.3 2.6 1.4 2.6 1.3 2.7 1.4 2.7 1.3 2.8 1.3 2.9 1.4 2.9 1.3 2.9 1.4 3 1.3 3 1.3 3 1.4 3.1 1.3 3 1.4 3.1 1.3 3.1 1.4 3.2 1.3 3.1 1.3 3.1 1.4 3 1.3 3.1 1.4 3.1 1.3 3 1.3 3 1.4 2.9 1.3 2.9 1.4 2.9 1.3 2.7 1.3 2.8 1.4 2.7 1.3 2.6 1.4 2.5 1.3 2.4 1.3 2.4 1.4 2.2 1.3 2.2 1.4 2.1 1.3 1.9 1.4 1.9 1.3 1.7 1.3 1.7 1.4 1.5 1.3 1.3 1.4 1.3 1.3 1.1 1.3 1 1.4 0.8 1.3 0.7 1.4 0.6 1.3 0.4 1.3 0.3 1.4 0.1 1.3-0.1 1.4-0.2 1.3-0.3 1.3-0.5 1.4-0.7 1.3-0.8 1.4-1 1.3-1.2 1.3-1.3 1.4-1.4 1.3-1.6 1.4-1.8 1.3-1.9 1.4-2.1 1.3-2.2 1.3-2.4 1.4-2.5 1.3-2.6 1.4-2.8 1.3-2.9 1.3-3.1 1.4-3.1 1.3-3.3 1.4-3.4 1.3-3.5 1.3-3.6 1.4-3.8 1.3-3.8 1.4-3.9 1.3-4 1.3-4 1.4-4.1 1.3-4.2 1.4-4.3 1.3-4.3 1.4-4.3 1.3-4.4 1.3-4.4 1.4-4.4 1.3-4.4 1.4-4.4 1.3-4.5 1.3-4.4 1.4-4.4 1.3-4.4 1.4-4.4 1.3-4.3 1.3-4.3 1.4-4.2 1.3-4.1 1.4-4.2 1.3-4 1.3-4 1.4-3.8 1.3-3.8 1.4-3.8 1.3-3.6 1.3-3.5 1.4-3.4 1.3-3.3 1.4-3.2 1.3-3.2 1.4-2.9 1.3-2.9 1.3-2.8 1.4-2.7 1.3-2.6 1.4-2.6 1.3-2.4 1.3-2.5 1.4-2.3 1.3-2.3 1.4-2.2 1.3-2.1 1.3-2.1 1.4-2 1.3-2 1.4-1.9 1.3-1.9 1.3-1.8 1.4-1.7 1.3-1.7 1.4-1.7 1.3-1.6 1.4-1.6 1.3-1.5 1.3-1.5 1.4-1.4 1.3-1.4 1.4-1.4 1.3-1.3 1.3-1.3 1.4-1.2 1.3-1.2 1.4-1.2 1.3-1.1 1.3-1 1.4-1 1.3-1 1.4-0.9 1.3-0.8 1.3-0.7 1.4-0.7 1.3-0.6 1.4-0.6 1.3-0.4 1.4-0.4 1.3-0.3 1.3-0.1 1.4-0.1 1.3 0 1.4 0.2 1.3 0.3 1.3 0.4 1.4 0.5 1.3 0.7 1.4 0.8 1.3 0.9 1.3 1.1 1.4 1.3 1.3 1.4 1.4 1.6 1.3 1.8 1.3 1.9 1.4 2.1 1.3 2.3 1.4 2.5 1.3 2.6 1.3 2.8 1.4 3.1 1.3 3.2 1.4 3.5 1.3 3.6 1.4 3.9 1.3 4.1 1.3 4.3 1.4 4.5 1.3 4.7 1.4 4.9 1.3 5.1 1.3 5.2 1.4 5.4 1.3 5.5 1.4 5.7 1.3 5.8 1.3 6 1.4 6 1.3 6.2 1.4 6.2 1.3 6.4 1.3 6.4 1.4 6.4 1.3 6.5 1.4 6.6 1.3 6.6 1.4 6.6 1.3 6.6 1.3 6.6 1.4 6.6 1.3 6.5 1.4 6.6 1.3 6.5 1.3 6.4 1.4 6.4 1.3 6.4 1.4 6.2 1.3 6.2 1.3 6.1 1.4 6 1.3 5.9 1.4 5.8 1.3 5.7 1.3 5.6 1.4 5.5 1.3 5.4 1.4 5.2 1.3 5.1 1.4 5 1.3 4.8 1.3 4.7 1.4 4.6 1.3 4.4 1.4 4.4 1.3 4.1 1.3 4.1 1.4 3.9 1.3 3.7 1.4 3.7 1.3 3.4 1.3 3.4 1.4 3.2 1.3 3.2 1.4 2.9 1.3 2.9 1.3 2.7 1.4 2.6 1.3 2.5 1.4 2.4 1.3 2.3 1.3 2.2 1.4 2.1 1.3 1.9 1.4 1.9 1.3 1.8 1.4 1.7 1.3 1.6 1.3 1.5 1.4 1.4 1.3 1.4 1.4 1.2 1.3 1.2 1.3 1.2 1.4 1.1 1.3 1 1.4 0.9 1.3 0.9 1.3 0.9 1.4 0.8 1.3 0.7 1.4 0.7 1.3 0.7 1.3 0.6 1.4 0.6 1.3 0.5 1.4 0.5 1.3 0.5 1.4 0.5 1.3 0.4 1.3 0.4 1.4 0.3 1.3 0.4 1.4 0.3 1.3 0.3 1.3 0.3 1.4 0.3 1.3 0.2 1.4 0.2 1.3 0.3" fill="none" stroke="#f00000" stroke-width="3.6" stroke-linejoin="round"/>
<path d="M1208 2378l2.7-20.6 2.7 3.5 2.6 34.4 2.7-19.1 2.7-26.3 2.7 22.1 2.7-14.8 2.6 7 2.7 1.7 2.7-3.2 2.7 17 2.7-8.6 2.6-7.3 2.7 13.4 2.7 5.5 2.7-33.7 2.7 18.6 2.6-10 2.7 10.7 2.7-15.3 2.7 17.5 2.7-1 2.6-3.9 2.7-10.3 2.7 8.6 2.7-9.7 2.7-3.8 2.6 21.1 2.7-18.3 2.7 30.5 2.7-6.4 2.7-37.1 2.6 30.4 2.7-19 2.7 15 2.7-0.3 2.7-27.9 2.6 23.3 2.7-0.7 2.7 16 2.7-29.5 2.7 25.5 2.6-25.4 2.7 9.9 2.7-7.4 2.7 30.4 2.7-12.4 2.6 24.7 2.7-24.8 2.7 2.2 2.7-0.6 2.7-20.2 2.6 6.7 2.7 18.7 2.7-24.3 2.7 7.4 2.7-3.4 2.6 7.9 2.7-13.7 2.7 2.3 2.7 4.7 2.7-2.5 2.6-13.9 2.7 23.1 2.7-30.5 2.7 0.5 2.7-1.9 2.6 29.6 2.7-18.6 2.7-8.9 2.7-2.8 2.7 20.6 2.6-20.2 2.7-3.1 2.7 25.4 2.7-24.6 2.7 11.8 2.6 4.2 2.7-6.1 2.7 5.2 2.7 18.8 2.7-25.3 2.6-10.1 2.7-8 2.7 21.9 2.7-2.2 2.7 8.1 2.6-10.1 2.7-0.5 2.7-3.7 2.7 2.3 2.7 8.7 2.6-7.6 2.7 6.7 2.7 24.9 2.7-18.6 2.7-27 2.6 45.4 2.7-18.4 2.7-17.5 2.7 24.6 2.7-12.5 2.6-9.3 2.7-1.4 2.7-6.5 2.7 11.8 2.7 10.8 2.6-22.7 2.7 5.5 2.7 14.6 2.7-47.5 2.7 13.7 2.6-14.6 2.7-17.7 2.7-7.7 2.7 5 2.7-3.2 2.6-22.9 2.7-2.3 2.7-1.5 2.7-16.4 2.7-2.6 2.6-15.4 2.7-9 2.7 9.5 2.7-24.1 2.7-13.6 2.6 1.7 2.7-27.2 2.7 3.6 2.7 11.9 2.7-4.7 2.6 10.5 2.7-22.1 2.7-20.7 2.7 45.8 2.7-11.5 2.6-28.9 2.7 33.3 2.7-17.6 2.7-24.4 2.7 19.5 2.6-0.5 2.7 29.1 2.7-31.4 2.7 8.2 2.7 0.8 2.6-0.1 2.7-5.6 2.7 17.3 2.7 13.9 2.7-3.7 2.6-18.3 2.7 0.3 2.7 21 2.7-6.6 2.7 6.3 2.6-8.4 2.7 54.6 2.7-9.5 2.7-21.5 2.7 29.8 2.6 11 2.7-44.1 2.7 32.9 2.7 10.8 2.7 22.8 2.6-1.6 2.7 7.1 2.7 10.4 2.7 33.3 2.7 10.6 2.6-31.3 2.7-1.5 2.7 52.2 2.7-46.9 2.7 8.4 2.6 11.5 2.7 9.8 2.7 10.8 2.7-5.6 2.7-14.5 2.6 21 2.7-1.3 2.7 23.8 2.7-23.7 2.7-15.5 2.6 6.7 2.7 36.6 2.7-24.4 2.7-19.4 2.7 21.4 2.6 7.4 2.7 14.7 2.7-31.8 2.7 20 2.7-1.9 2.6-24.6 2.7 1.5 2.7 19.9 2.7-8.4 2.7-20.7 2.6-17.2 2.7 2.6 2.7-20.4 2.7-3.1 2.7-14.5 2.6 6.7 2.7-14 2.7 19.4 2.7-60 2.7-0.3 2.6-19.4 2.7-39.9 2.7-0.4 2.7-62.8 2.7 14.8 2.6-3.7 2.7-56 2.7 7 2.7 22.4 2.7-23.3 2.6-15.1 2.7 7.5 2.7-3.4 2.7 16.9 2.7-3.5 2.6-9.6 2.7-5 2.7 8.2 2.7 18.1 2.7-14.3 2.6 2.2 2.7-13 2.7-18.2 2.7 4.6 2.7 14.9 2.6-11 2.7-17.2 2.7-12.9 2.7 20.6 2.7-8.3 2.6-1.4 2.7-0.1 2.7 9 2.7 2.2 2.7 12.5 2.6 4.6 2.7 12.1 2.7 1 2.7-5.9 2.7 14.6 2.6 19.4 2.7 2.1 2.7 25.6 2.7 22.8 2.7-11.2 2.6 2.5 2.7 56 2.7 0.2 2.7 25.1 2.7-12.2 2.6 56.4 2.7 0.8 2.7 2 2.7 9.9 2.7 18.6 2.6 7.9 2.7 9.4 2.7-1.1 2.7 41.8 2.7-8.6 2.6 10 2.7 8.2 2.7-25.8 2.7 45.7 2.7-5.6 2.6 5.8 2.7 9.6 2.7-9.9 2.7 28.3 2.7-17.6 2.6 0 2.7 3.1 2.7 16 2.7 9.9 2.7-16.5 2.6-10.8 2.7 36.3 2.7-27.5 2.7 31.8 2.7-15.9 2.6-7.8 2.7 1.6 2.7 15.6 2.7 6.4 2.7-14.2 2.6 16 2.7 15.8 2.7-30.7" fill="none" stroke="#000" stroke-width="4.0" stroke-linejoin="round"/>
<path d="M1208 2405l1.3 0 1.4 0 1.3 0 1.4 0 1.3 0 1.3 0 1.4 0 1.3 0 1.4 0 1.3 0 1.3 0 1.4 0 1.3 0 1.4 0 1.3 0 1.3 0 1.4 0 1.3 0 1.4 0 1.3 0 1.3 0 1.4 0 1.3 0 1.4 0 1.3 0 1.3 0 1.4 0 1.3 0 1.4 0 1.3 0 1.3 0 1.4 0 1.3 0 1.4 0 1.3 0 1.3-0.1 1.4 0 1.3 0 1.4 0 1.3 0 1.3 0 1.4 0 1.3 0 1.4 0 1.3 0 1.3 0 1.4 0 1.3 0 1.4 0 1.3 0 1.3 0 1.4 0 1.3 0 1.4 0 1.3 0 1.3 0 1.4 0 1.3 0 1.4 0 1.3 0 1.3 0 1.4 0 1.3 0 1.4 0 1.3 0 1.3 0 1.4 0 1.3 0 1.4 0 1.3 0 1.3 0 1.4 0 1.3 0 1.4 0 1.3-0.1 1.3 0 1.4 0 1.3 0 1.4 0 1.3 0 1.3 0 1.4 0 1.3 0 1.4 0 1.3 0 1.3 0 1.4 0 1.3 0 1.4 0 1.3 0 1.3 0 1.4 0 1.3 0 1.4 0 1.3 0 1.3 0 1.4 0 1.3-0.1 1.4 0 1.3 0 1.3 0 1.4 0 1.3 0 1.4 0 1.3 0 1.3 0 1.4 0 1.3 0 1.4 0 1.3 0 1.3 0 1.4 0 1.3 0 1.4-0.1 1.3 0 1.3 0 1.4 0 1.3 0 1.4 0 1.3 0 1.3 0 1.4 0 1.3 0 1.4 0 1.3 0 1.3-0.1 1.4 0 1.3 0 1.4 0 1.3 0 1.3 0 1.4 0 1.3 0 1.4 0 1.3-0.1 1.3 0 1.4 0 1.3 0 1.4 0 1.3 0 1.3 0 1.4-0.1 1.3 0 1.4 0 1.3 0 1.3 0 1.4 0 1.3-0.1 1.4 0 1.3 0 1.3 0 1.4 0 1.3 0 1.4-0.1 1.3 0 1.3 0 1.4 0 1.3-0.1 1.4 0 1.3 0 1.3-0.1 1.4 0 1.3 0 1.4-0.1 1.3 0 1.3-0.1 1.4 0 1.3-0.1 1.4 0 1.3-0.1 1.3 0 1.4-0.1 1.3-0.1 1.4-0.1 1.3-0.1 1.3-0.1 1.4-0.1 1.3-0.1 1.4-0.2 1.3-0.1 1.3-0.2 1.4-0.2 1.3-0.2 1.4-0.2 1.3-0.3 1.3-0.3 1.4-0.3 1.3-0.3 1.4-0.4 1.3-0.4 1.3-0.5 1.4-0.5 1.3-0.5 1.4-0.6 1.3-0.7 1.3-0.7 1.4-0.8 1.3-0.9 1.4-0.9 1.3-1 1.3-1.1 1.4-1.1 1.3-1.3 1.4-1.4 1.3-1.4 1.3-1.6 1.4-1.7 1.3-1.8 1.4-1.9 1.3-2 1.3-2.2 1.4-2.3 1.3-2.4 1.4-2.6 1.3-2.7 1.3-2.8 1.4-2.9 1.3-3.1 1.4-3.2 1.3-3.4 1.3-3.4 1.4-3.6 1.3-3.8 1.4-3.8 1.3-3.9 1.3-4 1.4-4.1 1.3-4.2 1.4-4.2 1.3-4.3 1.3-4.3 1.4-4.4 1.3-4.4 1.4-4.3 1.3-4.4 1.3-4.3 1.4-4.2 1.3-4.2 1.4-4 1.3-4 1.3-3.8 1.4-3.7 1.3-3.5 1.4-3.3 1.3-3.1 1.3-2.9 1.4-2.7 1.3-2.4 1.4-2.1 1.3-1.8 1.3-1.5 1.4-1.2 1.3-0.9 1.4-0.6 1.3-0.2 1.3 0.1 1.4 0.4 1.3 0.8 1.4 1.1 1.3 1.4 1.3 1.7 1.4 2 1.3 2.3 1.4 2.6 1.3 2.8 1.3 3.1 1.4 3.3 1.3 3.6 1.4 3.7 1.3 3.9 1.3 4 1.4 4.2 1.3 4.3 1.4 4.3 1.3 4.5 1.3 4.5 1.4 4.5 1.3 4.6 1.4 4.6 1.3 4.6 1.3 4.5 1.4 4.5 1.3 4.5 1.4 4.3 1.3 4.4 1.3 4.2 1.4 4.1 1.3 4 1.4 3.9 1.3 3.8 1.3 3.7 1.4 3.6 1.3 3.4 1.4 3.3 1.3 3.1 1.3 3 1.4 2.9 1.3 2.8 1.4 2.6 1.3 2.4 1.3 2.4 1.4 2.2 1.3 2.1 1.4 2 1.3 1.8 1.3 1.8 1.4 1.6 1.3 1.5 1.4 1.5 1.3 1.3 1.3 1.3 1.4 1.1 1.3 1.1 1.4 1 1.3 0.9 1.3 0.9 1.4 0.8 1.3 0.7 1.4 0.7 1.3 0.6 1.3 0.6 1.4 0.5 1.3 0.5 1.4 0.5 1.3 0.4 1.3 0.4 1.4 0.4 1.3 0.3 1.4 0.3 1.3 0.3 1.3 0.3 1.4 0.2 1.3 0.2 1.4 0.2 1.3 0.2 1.3 0.2 1.4 0.2 1.3 0.1 1.4 0.2 1.3 0.1 1.3 0.1 1.4 0.2 1.3 0.1 1.4 0.1 1.3 0.1 1.3 0.1 1.4 0 1.3 0.1 1.4 0.1 1.3 0.1 1.3 0 1.4 0.1 1.3 0.1 1.4 0 1.3 0.1 1.3 0 1.4 0.1 1.3 0 1.4 0.1 1.3 0 1.3 0.1 1.4 0 1.3 0.1 1.4 0 1.3 0 1.3 0.1 1.4 0 1.3 0 1.4 0.1 1.3 0 1.3 0 1.4 0.1 1.3 0 1.4 0 1.3 0 1.3 0.1 1.4 0 1.3 0 1.4 0 1.3 0.1 1.3 0 1.4 0 1.3 0 1.4 0.1 1.3 0 1.3 0 1.4 0 1.3 0.1 1.4 0 1.3 0 1.3 0 1.4 0.1 1.3 0 1.4 0 1.3 0 1.3 0.1 1.4 0 1.3 0 1.4 0.1 1.3 0 1.3 0 1.4 0.1 1.3 0 1.4 0.1 1.3 0 1.3 0.1 1.4 0 1.3 0.1 1.4 0 1.3 0.1 1.3 0.1 1.4 0 1.3 0.1 1.4 0.1 1.3 0.1 1.3 0.1 1.4 0.1 1.3 0 1.4 0.2 1.3 0.1 1.3 0.1 1.4 0.1 1.3 0.1 1.4 0.1 1.3 0.2 1.3 0.1 1.4 0.2 1.3 0.1 1.4 0.2 1.3 0.1 1.3 0.2 1.4 0.2 1.3 0.2 1.4 0.1 1.3 0.2 1.3 0.2 1.4 0.2 1.3 0.2 1.4 0.2 1.3 0.2 1.3 0.2 1.4 0.2 1.3 0.2 1.4 0.2 1.3 0.2 1.3 0.2 1.4 0.2 1.3 0.3 1.4 0.2 1.3 0.2 1.3 0.2 1.4 0.2 1.3 0.2 1.4 0.2 1.3 0.3 1.3 0.2 1.4 0.2 1.3 0.2 1.4 0.2 1.3 0.2 1.3 0.2 1.4 0.3 1.3 0.2 1.4 0.2 1.3 0.2 1.3 0.2 1.4 0.2 1.3 0.3 1.4 0.2 1.3 0.2 1.3 0.2 1.4 0.2 1.3 0.3 1.4 0.2 1.3 0.2 1.3 0.2 1.4 0.3 1.3 0.2 1.4 0.2 1.3 0.2 1.3 0.3 1.4 0.2 1.3 0.2 1.4 0.3 1.3 0.2 1.3 0.2 1.4 0.3 1.3 0.2 1.4 0.2 1.3 0.3 1.3 0.2 1.4 0.2 1.3 0.3 1.4 0.2 1.3 0.2 1.3 0.3 1.4 0.2 1.3 0.2 1.4 0.2 1.3 0.3 1.3 0.2 1.4 0.2 1.3 0.2 1.4 0.2 1.3 0.2 1.3 0.2 1.4 0.2 1.3 0.2 1.4 0.2 1.3 0.2 1.3 0.2 1.4 0.2 1.3 0.2 1.4 0.1 1.3 0.2 1.3 0.2 1.4 0.1 1.3 0.2 1.4 0.1 1.3 0.2 1.3 0.1 1.4 0.2 1.3 0.1 1.4 0.1 1.3 0.2 1.3 0.1 1.4 0.1 1.3 0.1 1.4 0.1 1.3 0.1 1.3 0.1 1.4 0.1 1.3 0.1 1.4 0.1 1.3 0.1 1.3 0.1 1.4 0.1 1.3 0 1.4 0.1 1.3 0.1 1.3 0 1.4 0.1 1.3 0.1 1.4 0 1.3 0.1 1.3 0 1.4 0.1 1.3 0 1.4 0 1.3 0.1 1.3 0 1.4 0.1 1.3 0 1.4 0 1.3 0.1 1.3 0 1.4 0 1.3 0 1.4 0.1 1.3 0 1.3 0 1.4 0 1.3 0.1 1.4 0 1.3 0 1.3 0 1.4 0 1.3 0 1.4 0.1 1.3 0 1.3 0 1.4 0 1.3 0 1.4 0 1.3 0 1.3 0 1.4 0 1.3 0.1 1.4 0 1.3 0 1.3 0 1.4 0 1.3 0 1.4 0 1.3 0 1.3 0 1.4 0 1.3 0 1.4 0 1.3 0 1.3 0 1.4 0.1 1.3 0 1.4 0 1.3 0 1.3 0 1.4 0 1.3 0 1.4 0 1.3 0" fill="none" stroke="#22908e" stroke-width="3.6" stroke-linejoin="round"/>
<path d="M1208 2404.9l1.3 0 1.4 0 1.3 0 1.4 0 1.3 0 1.3 0 1.4 0 1.3 0 1.4 0 1.3 0 1.3 0 1.4 0 1.3 0 1.4 0 1.3 0 1.3 0 1.4 0 1.3 0 1.4 0 1.3 0 1.3 0 1.4 0 1.3 0 1.4-0.1 1.3 0 1.3 0 1.4 0 1.3 0 1.4 0 1.3 0 1.3 0 1.4 0 1.3 0 1.4 0 1.3 0 1.3 0 1.4 0 1.3 0 1.4 0 1.3 0 1.3 0 1.4 0 1.3 0 1.4 0 1.3 0 1.3 0 1.4 0 1.3 0 1.4 0 1.3 0 1.3 0 1.4 0 1.3 0 1.4 0 1.3 0 1.3 0 1.4 0 1.3 0 1.4 0 1.3 0 1.3 0 1.4 0 1.3 0 1.4-0.1 1.3 0 1.3 0 1.4 0 1.3 0 1.4 0 1.3 0 1.3 0 1.4 0 1.3 0 1.4 0 1.3 0 1.3 0 1.4 0 1.3 0 1.4 0 1.3 0 1.3 0 1.4 0 1.3 0 1.4 0 1.3 0 1.3 0 1.4 0 1.3 0 1.4 0 1.3-0.1 1.3 0 1.4 0 1.3 0 1.4 0 1.3 0 1.3 0 1.4 0 1.3 0 1.4 0 1.3 0 1.3 0 1.4 0 1.3 0 1.4 0 1.3 0 1.3 0 1.4 0 1.3 0 1.4-0.1 1.3 0 1.3 0 1.4 0 1.3 0 1.4 0 1.3 0 1.3 0 1.4 0 1.3 0 1.4 0 1.3 0 1.3 0 1.4 0 1.3-0.1 1.4 0 1.3 0 1.3 0 1.4 0 1.3 0 1.4 0 1.3 0 1.3 0 1.4 0 1.3 0 1.4 0 1.3-0.1 1.3 0 1.4 0 1.3 0 1.4 0 1.3 0 1.3 0 1.4 0 1.3 0 1.4 0 1.3-0.1 1.3 0 1.4 0 1.3 0 1.4 0 1.3 0 1.3 0 1.4 0 1.3-0.1 1.4 0 1.3 0 1.3 0 1.4 0 1.3 0 1.4 0 1.3-0.1 1.3 0 1.4 0 1.3 0 1.4 0 1.3 0 1.3-0.1 1.4 0 1.3 0 1.4 0 1.3 0 1.3 0 1.4-0.1 1.3 0 1.4 0 1.3 0 1.3-0.1 1.4 0 1.3 0 1.4 0 1.3-0.1 1.3 0 1.4 0 1.3-0.1 1.4 0 1.3 0 1.3-0.1 1.4 0 1.3 0 1.4-0.1 1.3 0 1.3-0.1 1.4 0 1.3-0.1 1.4 0 1.3-0.1 1.3-0.1 1.4 0 1.3-0.1 1.4-0.1 1.3-0.1 1.3-0.1 1.4-0.1 1.3-0.1 1.4-0.1 1.3-0.2 1.3-0.1 1.4-0.1 1.3-0.2 1.4-0.2 1.3-0.2 1.3-0.2 1.4-0.2 1.3-0.2 1.4-0.3 1.3-0.3 1.3-0.2 1.4-0.4 1.3-0.3 1.4-0.4 1.3-0.4 1.3-0.4 1.4-0.5 1.3-0.5 1.4-0.5 1.3-0.6 1.3-0.6 1.4-0.6 1.3-0.7 1.4-0.8 1.3-0.8 1.3-0.8 1.4-0.9 1.3-1 1.4-1 1.3-1.1 1.3-1.1 1.4-1.3 1.3-1.3 1.4-1.3 1.3-1.5 1.3-1.5 1.4-1.6 1.3-1.7 1.4-1.8 1.3-1.9 1.3-1.9 1.4-2.1 1.3-2.1 1.4-2.3 1.3-2.3 1.3-2.5 1.4-2.5 1.3-2.7 1.4-2.7 1.3-2.9 1.3-2.9 1.4-3.1 1.3-3.1 1.4-3.3 1.3-3.3 1.3-3.4 1.4-3.6 1.3-3.6 1.4-3.7 1.3-3.7 1.3-3.9 1.4-3.9 1.3-4 1.4-4 1.3-4.1 1.3-4.1 1.4-4.2 1.3-4.2 1.4-4.2 1.3-4.2 1.3-4.3 1.4-4.2 1.3-4.2 1.4-4.2 1.3-4.2 1.3-4.1 1.4-4.1 1.3-4 1.4-3.9 1.3-3.8 1.3-3.8 1.4-3.6 1.3-3.5 1.4-3.3 1.3-3.3 1.3-3 1.4-2.9 1.3-2.8 1.4-2.5 1.3-2.4 1.3-2.1 1.4-2 1.3-1.7 1.4-1.5 1.3-1.2 1.3-1.1 1.4-0.8 1.3-0.5 1.4-0.3 1.3 0 1.3 0.2 1.4 0.6 1.3 0.8 1.4 1.2 1.3 1.5 1.3 1.7 1.4 2.1 1.3 2.4 1.4 2.6 1.3 2.9 1.3 3.1 1.4 3.3 1.3 3.6 1.4 3.8 1.3 4 1.3 4.1 1.4 4.3 1.3 4.4 1.4 4.6 1.3 4.7 1.3 4.7 1.4 4.9 1.3 4.9 1.4 4.9 1.3 5 1.3 5 1.4 5 1.3 5 1.4 5 1.3 4.9 1.3 5 1.4 4.8 1.3 4.8 1.4 4.7 1.3 4.6 1.3 4.6 1.4 4.4 1.3 4.4 1.4 4.2 1.3 4.1 1.3 4 1.4 3.9 1.3 3.7 1.4 3.6 1.3 3.5 1.3 3.4 1.4 3.2 1.3 3.1 1.4 2.9 1.3 2.9 1.3 2.7 1.4 2.5 1.3 2.5 1.4 2.3 1.3 2.2 1.3 2.1 1.4 2 1.3 1.8 1.4 1.8 1.3 1.7 1.3 1.5 1.4 1.5 1.3 1.3 1.4 1.3 1.3 1.2 1.3 1.2 1.4 1 1.3 1 1.4 0.9 1.3 0.8 1.3 0.8 1.4 0.7 1.3 0.7 1.4 0.6 1.3 0.6 1.3 0.5 1.4 0.5 1.3 0.5 1.4 0.4 1.3 0.4 1.3 0.4 1.4 0.3 1.3 0.3 1.4 0.3 1.3 0.3 1.3 0.2 1.4 0.2 1.3 0.2 1.4 0.2 1.3 0.2 1.3 0.2 1.4 0.1 1.3 0.2 1.4 0.1 1.3 0.2 1.3 0.1 1.4 0.1 1.3 0.1 1.4 0.1 1.3 0.2 1.3 0.1 1.4 0.1 1.3 0.1 1.4 0.1 1.3 0.1 1.3 0.1 1.4 0.1 1.3 0.1 1.4 0.1 1.3 0.2 1.3 0.1 1.4 0.1 1.3 0.1 1.4 0.2 1.3 0.1 1.3 0.1 1.4 0.2 1.3 0.1 1.4 0.2 1.3 0.1 1.3 0.2 1.4 0.1 1.3 0.2 1.4 0.2 1.3 0.2 1.3 0.2 1.4 0.1 1.3 0.2 1.4 0.2 1.3 0.2 1.3 0.2 1.4 0.2 1.3 0.2 1.4 0.3 1.3 0.2 1.3 0.2 1.4 0.2 1.3 0.2 1.4 0.2 1.3 0.3 1.3 0.2 1.4 0.2 1.3 0.2 1.4 0.3 1.3 0.2 1.3 0.2 1.4 0.2 1.3 0.3 1.4 0.2 1.3 0.2 1.3 0.2 1.4 0.3 1.3 0.2 1.4 0.2 1.3 0.2 1.3 0.2 1.4 0.3 1.3 0.2 1.4 0.2 1.3 0.2 1.3 0.3 1.4 0.2 1.3 0.2 1.4 0.2 1.3 0.3 1.3 0.2 1.4 0.2 1.3 0.2 1.4 0.3 1.3 0.2 1.3 0.2 1.4 0.3 1.3 0.2 1.4 0.2 1.3 0.3 1.3 0.2 1.4 0.2 1.3 0.3 1.4 0.2 1.3 0.3 1.3 0.2 1.4 0.2 1.3 0.3 1.4 0.2 1.3 0.3 1.3 0.2 1.4 0.2 1.3 0.3 1.4 0.2 1.3 0.2 1.3 0.3 1.4 0.2 1.3 0.2 1.4 0.3 1.3 0.2 1.3 0.2 1.4 0.2 1.3 0.3 1.4 0.2 1.3 0.2 1.3 0.2 1.4 0.2 1.3 0.2 1.4 0.2 1.3 0.2 1.3 0.2 1.4 0.2 1.3 0.1 1.4 0.2 1.3 0.2 1.3 0.2 1.4 0.1 1.3 0.2 1.4 0.1 1.3 0.2 1.3 0.1 1.4 0.2 1.3 0.1 1.4 0.1 1.3 0.2 1.3 0.1 1.4 0.1 1.3 0.1 1.4 0.1 1.3 0.2 1.3 0.1 1.4 0.1 1.3 0.1 1.4 0 1.3 0.1 1.3 0.1 1.4 0.1 1.3 0.1 1.4 0 1.3 0.1 1.3 0.1 1.4 0 1.3 0.1 1.4 0.1 1.3 0 1.3 0.1 1.4 0 1.3 0.1 1.4 0 1.3 0.1 1.3 0 1.4 0 1.3 0.1 1.4 0 1.3 0 1.3 0.1 1.4 0 1.3 0 1.4 0.1 1.3 0 1.3 0 1.4 0 1.3 0.1 1.4 0 1.3 0 1.3 0 1.4 0 1.3 0 1.4 0.1 1.3 0 1.3 0 1.4 0 1.3 0 1.4 0 1.3 0 1.3 0.1 1.4 0 1.3 0 1.4 0 1.3 0 1.3 0 1.4 0 1.3 0 1.4 0 1.3 0 1.3 0 1.4 0.1 1.3 0 1.4 0 1.3 0 1.3 0 1.4 0 1.3 0 1.4 0 1.3 0 1.3 0 1.4 0 1.3 0 1.4 0 1.3 0" fill="none" stroke="#8610ff" stroke-width="3.6" stroke-linejoin="round"/>
<path d="M1208 2405.1l1.3 0 1.4 0 1.3 0 1.4 0 1.3 0 1.3 0 1.4 0 1.3 0 1.4 0 1.3 0 1.3 0 1.4 0 1.3 0 1.4 0 1.3 0 1.3 0 1.4 0 1.3 0 1.4 0 1.3 0 1.3 0 1.4 0 1.3 0 1.4 0 1.3 0 1.3 0 1.4 0 1.3 0 1.4 0 1.3 0 1.3 0 1.4 0 1.3 0 1.4 0 1.3 0 1.3 0 1.4 0 1.3 0 1.4 0 1.3 0 1.3 0 1.4 0 1.3 0 1.4 0 1.3 0 1.3 0 1.4 0 1.3 0 1.4 0 1.3 0 1.3 0 1.4 0 1.3 0 1.4 0 1.3 0 1.3 0 1.4 0 1.3 0 1.4 0 1.3 0 1.3 0 1.4 0 1.3 0 1.4 0 1.3 0 1.3 0 1.4 0 1.3 0 1.4 0 1.3 0 1.3 0 1.4 0 1.3 0 1.4 0 1.3 0 1.3 0 1.4 0 1.3 0 1.4 0 1.3 0 1.3 0 1.4 0 1.3 0 1.4 0 1.3 0 1.3 0 1.4 0 1.3 0 1.4 0 1.3 0 1.3 0 1.4 0 1.3 0 1.4 0 1.3 0 1.3 0 1.4 0 1.3 0 1.4 0 1.3 0 1.3 0 1.4 0 1.3 0 1.4 0 1.3 0 1.3 0 1.4 0 1.3 0 1.4 0 1.3 0 1.3 0 1.4 0 1.3 0 1.4 0 1.3 0 1.3 0 1.4 0 1.3 0 1.4 0 1.3 0 1.3 0 1.4 0 1.3 0 1.4 0 1.3 0 1.3 0 1.4 0 1.3 0 1.4 0 1.3 0 1.3 0 1.4 0 1.3 0 1.4 0 1.3 0 1.3 0 1.4 0 1.3 0 1.4 0 1.3 0 1.3 0 1.4 0 1.3 0 1.4 0 1.3 0 1.3 0 1.4 0 1.3 0 1.4 0 1.3 0 1.3 0 1.4 0 1.3 0 1.4 0 1.3 0 1.3 0 1.4 0 1.3 0 1.4 0 1.3 0 1.3 0 1.4 0 1.3 0 1.4 0 1.3 0 1.3 0 1.4 0 1.3 0 1.4 0 1.3 0 1.3 0 1.4 0 1.3 0 1.4 0 1.3 0 1.3 0 1.4 0 1.3 0 1.4 0.1 1.3 0 1.3 0 1.4 0 1.3 0 1.4 0 1.3 0 1.3 0 1.4 0 1.3 0 1.4 0 1.3 0 1.3 0 1.4 0 1.3 0 1.4 0 1.3 0 1.3 0 1.4 0 1.3 0 1.4 0 1.3 0 1.3 0 1.4 0 1.3 0 1.4 0 1.3 0.1 1.3 0 1.4 0 1.3 0 1.4 0 1.3 0 1.3 0 1.4 0.1 1.3 0 1.4 0 1.3 0 1.3 0 1.4 0.1 1.3 0 1.4 0 1.3 0.1 1.3 0 1.4 0 1.3 0.1 1.4 0 1.3 0 1.3 0.1 1.4 0 1.3 0.1 1.4 0 1.3 0.1 1.3 0.1 1.4 0 1.3 0.1 1.4 0.1 1.3 0 1.3 0.1 1.4 0.1 1.3 0.1 1.4 0 1.3 0.1 1.3 0.1 1.4 0.1 1.3 0.1 1.4 0.1 1.3 0.1 1.3 0.1 1.4 0.1 1.3 0.1 1.4 0.1 1.3 0.1 1.3 0.1 1.4 0.2 1.3 0.1 1.4 0.1 1.3 0.1 1.3 0.2 1.4 0.1 1.3 0.1 1.4 0.1 1.3 0.2 1.3 0.1 1.4 0.1 1.3 0.2 1.4 0.1 1.3 0.1 1.3 0.2 1.4 0.1 1.3 0.1 1.4 0.2 1.3 0.1 1.3 0.1 1.4 0.2 1.3 0.1 1.4 0.2 1.3 0.1 1.3 0.1 1.4 0.2 1.3 0.1 1.4 0.1 1.3 0.2 1.3 0.1 1.4 0.1 1.3 0.2 1.4 0.1 1.3 0.1 1.3 0.2 1.4 0.1 1.3 0.1 1.4 0.2 1.3 0.1 1.3 0.1 1.4 0.2 1.3 0.1 1.4 0.1 1.3 0.2 1.3 0.1 1.4 0.1 1.3 0.2 1.4 0.1 1.3 0.1 1.3 0.1 1.4 0.2 1.3 0.1 1.4 0.1 1.3 0.1 1.3 0.2 1.4 0.1 1.3 0.1 1.4 0.1 1.3 0.1 1.3 0.2 1.4 0.1 1.3 0.1 1.4 0.1 1.3 0.1 1.3 0.1 1.4 0.1 1.3 0.1 1.4 0.1 1.3 0.1 1.3 0.1 1.4 0.1 1.3 0 1.4 0.1 1.3 0.1 1.3 0.1 1.4 0.1 1.3 0 1.4 0.1 1.3 0.1 1.3 0 1.4 0.1 1.3 0 1.4 0.1 1.3 0 1.3 0.1 1.4 0 1.3 0 1.4 0.1 1.3 0 1.3 0 1.4 0 1.3 0 1.4 0.1 1.3 0 1.3 0 1.4 0 1.3 0 1.4 0 1.3 0 1.3 0 1.4 0 1.3-0.1 1.4 0 1.3 0 1.3 0 1.4-0.1 1.3 0 1.4 0 1.3-0.1 1.3 0 1.4-0.1 1.3 0 1.4-0.1 1.3-0.1 1.3 0 1.4-0.1 1.3-0.1 1.4-0.1 1.3-0.1 1.3-0.2 1.4-0.1 1.3-0.2 1.4-0.1 1.3-0.2 1.3-0.2 1.4-0.3 1.3-0.3 1.4-0.3 1.3-0.3 1.3-0.4 1.4-0.4 1.3-0.5 1.4-0.6 1.3-0.6 1.3-0.7 1.4-0.8 1.3-0.8 1.4-1 1.3-1.1 1.3-1.2 1.4-1.3 1.3-1.5 1.4-1.6 1.3-1.8 1.3-2 1.4-2.2 1.3-2.4 1.4-2.5 1.3-2.9 1.3-3 1.4-3.3 1.3-3.5 1.4-3.8 1.3-4.1 1.3-4.3 1.4-4.7 1.3-4.8 1.4-5.2 1.3-5.4 1.3-5.7 1.4-5.9 1.3-6.2 1.4-6.4 1.3-6.6 1.3-6.7 1.4-6.9 1.3-7.1 1.4-7.1 1.3-7.2 1.3-7.2 1.4-7.1 1.3-7.1 1.4-7 1.3-6.8 1.3-6.7 1.4-6.3 1.3-6 1.4-5.7 1.3-5.3 1.3-4.8 1.4-4.3 1.3-3.7 1.4-3.1 1.3-2.5 1.3-1.8 1.4-1.2 1.3-0.4 1.4 0.2 1.3 1 1.3 1.7 1.4 2.3 1.3 3 1.4 3.7 1.3 4.2 1.3 4.7 1.4 5.3 1.3 5.7 1.4 6.1 1.3 6.5 1.3 6.7 1.4 7.1 1.3 7.2 1.4 7.3 1.3 7.4 1.3 7.5 1.4 7.5 1.3 7.5 1.4 7.4 1.3 7.4 1.3 7.1 1.4 7.1 1.3 6.8 1.4 6.6 1.3 6.4 1.3 6.2 1.4 5.9 1.3 5.6 1.4 5.4 1.3 5.1 1.3 4.8 1.4 4.6 1.3 4.2 1.4 4 1.3 3.8 1.3 3.5 1.4 3.2 1.3 3 1.4 2.8 1.3 2.6 1.3 2.4 1.4 2.2 1.3 2 1.4 1.9 1.3 1.7 1.3 1.5 1.4 1.4 1.3 1.3 1.4 1.2 1.3 1.1 1.3 1 1.4 1 1.3 0.8 1.4 0.8 1.3 0.7 1.3 0.7 1.4 0.6 1.3 0.6 1.4 0.5 1.3 0.5 1.3 0.5 1.4 0.4 1.3 0.4 1.4 0.4 1.3 0.4 1.3 0.3 1.4 0.4 1.3 0.3 1.4 0.3 1.3 0.3 1.3 0.3 1.4 0.3 1.3 0.2 1.4 0.3 1.3 0.2 1.3 0.2 1.4 0.3 1.3 0.2 1.4 0.2 1.3 0.2 1.3 0.2 1.4 0.2 1.3 0.2 1.4 0.2 1.3 0.1 1.3 0.2 1.4 0.2 1.3 0.1 1.4 0.2 1.3 0.1 1.3 0.1 1.4 0.2 1.3 0.1 1.4 0.1 1.3 0.1 1.3 0.2 1.4 0.1 1.3 0.1 1.4 0.1 1.3 0.1 1.3 0.1 1.4 0.1 1.3 0 1.4 0.1 1.3 0.1 1.3 0.1 1.4 0 1.3 0.1 1.4 0.1 1.3 0 1.3 0.1 1.4 0.1 1.3 0 1.4 0.1 1.3 0 1.3 0.1 1.4 0 1.3 0.1 1.4 0 1.3 0 1.3 0.1 1.4 0 1.3 0 1.4 0.1 1.3 0 1.3 0 1.4 0.1 1.3 0 1.4 0 1.3 0.1 1.3 0 1.4 0 1.3 0 1.4 0.1 1.3 0 1.3 0 1.4 0 1.3 0 1.4 0.1 1.3 0 1.3 0 1.4 0 1.3 0 1.4 0.1 1.3 0 1.3 0 1.4 0 1.3 0 1.4 0 1.3 0 1.3 0.1 1.4 0 1.3 0 1.4 0 1.3 0 1.3 0 1.4 0 1.3 0 1.4 0.1 1.3 0" fill="none" stroke="#ff8a1c" stroke-width="3.6" stroke-linejoin="round"/>
<path d="M1208 2404.9l1.3 0 1.4 0 1.3 0 1.4 0 1.3 0 1.3 0 1.4 0 1.3 0 1.4 0 1.3 0 1.3 0 1.4 0 1.3 0 1.4 0 1.3 0 1.3 0 1.4 0 1.3 0 1.4 0 1.3 0 1.3 0 1.4 0 1.3 0 1.4 0 1.3 0 1.3 0 1.4 0 1.3 0 1.4 0 1.3 0 1.3 0 1.4 0 1.3 0 1.4 0 1.3 0 1.3 0 1.4 0 1.3 0 1.4 0 1.3 0 1.3 0 1.4 0 1.3 0 1.4-0.1 1.3 0 1.3 0 1.4 0 1.3 0 1.4 0 1.3 0 1.3 0 1.4 0 1.3 0 1.4 0 1.3 0 1.3 0 1.4 0 1.3 0 1.4 0 1.3 0 1.3 0 1.4 0 1.3 0 1.4 0 1.3 0 1.3 0 1.4 0 1.3 0 1.4 0 1.3 0 1.3 0 1.4 0 1.3 0 1.4 0 1.3 0 1.3 0 1.4 0 1.3 0 1.4 0 1.3 0 1.3 0 1.4 0 1.3 0 1.4 0 1.3 0 1.3 0 1.4 0 1.3 0 1.4 0 1.3 0 1.3 0 1.4 0 1.3 0 1.4 0 1.3 0 1.3 0 1.4 0 1.3 0 1.4 0 1.3 0 1.3 0 1.4 0 1.3 0 1.4 0 1.3 0 1.3 0 1.4 0 1.3 0 1.4 0 1.3 0 1.3 0 1.4 0 1.3 0 1.4 0 1.3 0 1.3 0 1.4 0 1.3 0 1.4-0.1 1.3 0 1.3 0 1.4 0 1.3 0 1.4 0 1.3 0 1.3 0 1.4 0 1.3 0 1.4 0 1.3 0 1.3 0 1.4 0 1.3 0 1.4 0 1.3 0 1.3 0 1.4 0 1.3 0 1.4 0 1.3 0 1.3 0 1.4 0 1.3 0 1.4 0 1.3 0 1.3 0 1.4 0 1.3 0 1.4 0 1.3 0 1.3 0 1.4 0 1.3 0 1.4 0 1.3 0 1.3 0 1.4 0 1.3 0 1.4 0 1.3 0 1.3 0 1.4 0 1.3 0 1.4 0 1.3 0 1.3 0 1.4 0 1.3 0 1.4 0 1.3 0 1.3-0.1 1.4 0 1.3 0 1.4 0 1.3 0 1.3 0 1.4 0 1.3 0 1.4 0 1.3 0 1.3 0 1.4 0 1.3 0 1.4 0 1.3 0 1.3 0 1.4 0 1.3 0 1.4 0 1.3 0 1.3 0 1.4 0 1.3 0 1.4 0 1.3 0 1.3 0 1.4 0 1.3 0 1.4 0 1.3 0 1.3 0 1.4 0 1.3 0 1.4 0 1.3 0.1 1.3 0 1.4 0 1.3 0 1.4 0 1.3 0 1.3 0 1.4 0 1.3 0 1.4 0.1 1.3 0 1.3 0 1.4 0 1.3 0 1.4 0.1 1.3 0 1.3 0 1.4 0.1 1.3 0 1.4 0 1.3 0.1 1.3 0 1.4 0 1.3 0.1 1.4 0 1.3 0.1 1.3 0 1.4 0.1 1.3 0.1 1.4 0 1.3 0.1 1.3 0.1 1.4 0 1.3 0.1 1.4 0.1 1.3 0.1 1.3 0.1 1.4 0 1.3 0.1 1.4 0.1 1.3 0.1 1.3 0.1 1.4 0.1 1.3 0.1 1.4 0.1 1.3 0.1 1.3 0.1 1.4 0.1 1.3 0.2 1.4 0.1 1.3 0.1 1.3 0.1 1.4 0.1 1.3 0.2 1.4 0.1 1.3 0.1 1.3 0.1 1.4 0.2 1.3 0.1 1.4 0.1 1.3 0.1 1.3 0.2 1.4 0.1 1.3 0.1 1.4 0.2 1.3 0.1 1.3 0.1 1.4 0.1 1.3 0.2 1.4 0.1 1.3 0.1 1.3 0.2 1.4 0.1 1.3 0.1 1.4 0.1 1.3 0.2 1.3 0.1 1.4 0.1 1.3 0.2 1.4 0.1 1.3 0.1 1.3 0.1 1.4 0.2 1.3 0.1 1.4 0.1 1.3 0.1 1.3 0.2 1.4 0.1 1.3 0.1 1.4 0.1 1.3 0.2 1.3 0.1 1.4 0.1 1.3 0.1 1.4 0.2 1.3 0.1 1.3 0.1 1.4 0.1 1.3 0.1 1.4 0.1 1.3 0.2 1.3 0.1 1.4 0.1 1.3 0.1 1.4 0.1 1.3 0.1 1.3 0.1 1.4 0.1 1.3 0.1 1.4 0.1 1.3 0.1 1.3 0.1 1.4 0.1 1.3 0.1 1.4 0.1 1.3 0.1 1.3 0.1 1.4 0 1.3 0.1 1.4 0.1 1.3 0.1 1.3 0 1.4 0.1 1.3 0 1.4 0.1 1.3 0.1 1.3 0 1.4 0.1 1.3 0 1.4 0 1.3 0.1 1.3 0 1.4 0 1.3 0.1 1.4 0 1.3 0 1.3 0 1.4 0 1.3 0 1.4 0 1.3 0.1 1.3 0 1.4-0.1 1.3 0 1.4 0 1.3 0 1.3 0 1.4 0 1.3 0 1.4-0.1 1.3 0 1.3 0 1.4-0.1 1.3 0 1.4-0.1 1.3 0 1.3-0.1 1.4 0 1.3-0.1 1.4-0.1 1.3 0 1.3-0.1 1.4-0.1 1.3-0.1 1.4-0.1 1.3-0.1 1.3-0.1 1.4-0.1 1.3-0.2 1.4-0.1 1.3-0.1 1.3-0.2 1.4-0.2 1.3-0.2 1.4-0.1 1.3-0.3 1.3-0.2 1.4-0.2 1.3-0.3 1.4-0.2 1.3-0.3 1.3-0.3 1.4-0.4 1.3-0.3 1.4-0.4 1.3-0.4 1.3-0.5 1.4-0.4 1.3-0.5 1.4-0.6 1.3-0.5 1.3-0.6 1.4-0.7 1.3-0.7 1.4-0.7 1.3-0.8 1.3-0.9 1.4-0.9 1.3-0.9 1.4-1.1 1.3-1.1 1.3-1.1 1.4-1.2 1.3-1.3 1.4-1.4 1.3-1.5 1.3-1.5 1.4-1.6 1.3-1.8 1.4-1.8 1.3-1.9 1.3-2 1.4-2.2 1.3-2.2 1.4-2.4 1.3-2.5 1.3-2.6 1.4-2.7 1.3-2.9 1.4-3 1.3-3.1 1.3-3.3 1.4-3.4 1.3-3.5 1.4-3.7 1.3-3.9 1.3-4 1.4-4.1 1.3-4.4 1.4-4.4 1.3-4.6 1.3-4.8 1.4-4.9 1.3-5.1 1.4-5.3 1.3-5.4 1.3-5.5 1.4-5.7 1.3-5.8 1.4-6 1.3-6.1 1.3-6.3 1.4-6.3 1.3-6.5 1.4-6.6 1.3-6.7 1.3-6.8 1.4-6.9 1.3-6.9 1.4-7.1 1.3-7 1.3-7.2 1.4-7.2 1.3-7.1 1.4-7.3 1.3-7.2 1.3-7.1 1.4-7.2 1.3-7.1 1.4-7.1 1.3-6.9 1.3-6.9 1.4-6.8 1.3-6.7 1.4-6.5 1.3-6.4 1.3-6.1 1.4-6.1 1.3-5.8 1.4-5.5 1.3-5.4 1.3-5.1 1.4-4.8 1.3-4.6 1.4-4.2 1.3-4 1.3-3.6 1.4-3.3 1.3-2.9 1.4-2.6 1.3-2.2 1.3-1.9 1.4-1.4 1.3-1.1 1.4-0.7 1.3-0.3 1.3 0.2 1.4 0.5 1.3 1 1.4 1.5 1.3 2 1.3 2.3 1.4 2.9 1.3 3.2 1.4 3.7 1.3 4.1 1.3 4.4 1.4 4.9 1.3 5.2 1.4 5.5 1.3 5.8 1.3 6.2 1.4 6.4 1.3 6.7 1.4 6.9 1.3 7.1 1.3 7.3 1.4 7.5 1.3 7.7 1.4 7.7 1.3 7.9 1.3 8 1.4 8.1 1.3 8.1 1.4 8.2 1.3 8.2 1.3 8.1 1.4 8.2 1.3 8.1 1.4 8.1 1.3 8 1.3 8 1.4 7.8 1.3 7.8 1.4 7.6 1.3 7.5 1.3 7.4 1.4 7.3 1.3 7.1 1.4 6.9 1.3 6.8 1.3 6.6 1.4 6.4 1.3 6.2 1.4 6.1 1.3 5.9 1.3 5.7 1.4 5.5 1.3 5.3 1.4 5.1 1.3 4.9 1.3 4.8 1.4 4.5 1.3 4.4 1.4 4.2 1.3 4 1.3 3.8 1.4 3.6 1.3 3.5 1.4 3.3 1.3 3.2 1.3 3 1.4 2.8 1.3 2.7 1.4 2.6 1.3 2.4 1.3 2.3 1.4 2.1 1.3 2.1 1.4 1.9 1.3 1.8 1.3 1.7 1.4 1.6 1.3 1.4 1.4 1.4 1.3 1.4 1.3 1.2 1.4 1.1 1.3 1.1 1.4 1 1.3 0.9 1.3 0.9 1.4 0.8 1.3 0.8 1.4 0.7 1.3 0.7 1.3 0.6 1.4 0.5 1.3 0.6 1.4 0.5 1.3 0.4 1.3 0.5 1.4 0.4 1.3 0.3 1.4 0.4 1.3 0.3 1.3 0.3 1.4 0.3 1.3 0.2 1.4 0.3 1.3 0.2 1.3 0.2 1.4 0.2 1.3 0.2 1.4 0.1 1.3 0.2" fill="none" stroke="#1a1aff" stroke-width="3.6" stroke-linejoin="round"/>
<path d="M1208 2404.3l1.3 0 1.4 0 1.3 0 1.4 0 1.3 0 1.3 0 1.4 0 1.3 0 1.4-0.1 1.3 0 1.3 0 1.4 0 1.3 0 1.4 0 1.3 0 1.3 0 1.4 0 1.3 0 1.4 0 1.3 0 1.3 0 1.4 0 1.3 0 1.4 0 1.3 0 1.3 0 1.4-0.1 1.3 0 1.4 0 1.3 0 1.3 0 1.4 0 1.3 0 1.4 0 1.3 0 1.3 0 1.4 0 1.3 0 1.4 0 1.3 0 1.3 0 1.4-0.1 1.3 0 1.4 0 1.3 0 1.3 0 1.4 0 1.3 0 1.4 0 1.3 0 1.3 0 1.4 0 1.3 0 1.4 0 1.3-0.1 1.3 0 1.4 0 1.3 0 1.4 0 1.3 0 1.3 0 1.4 0 1.3 0 1.4 0 1.3 0 1.3-0.1 1.4 0 1.3 0 1.4 0 1.3 0 1.3 0 1.4 0 1.3 0 1.4 0 1.3 0 1.3-0.1 1.4 0 1.3 0 1.4 0 1.3 0 1.3 0 1.4 0 1.3 0 1.4-0.1 1.3 0 1.3 0 1.4 0 1.3 0 1.4 0 1.3 0 1.3 0 1.4-0.1 1.3 0 1.4 0 1.3 0 1.3 0 1.4 0 1.3 0 1.4-0.1 1.3 0 1.3 0 1.4 0 1.3 0 1.4 0 1.3-0.1 1.3 0 1.4 0 1.3 0 1.4 0 1.3 0 1.3-0.1 1.4 0 1.3 0 1.4 0 1.3 0 1.3 0 1.4-0.1 1.3 0 1.4 0 1.3 0 1.3-0.1 1.4 0 1.3 0 1.4 0 1.3 0 1.3-0.1 1.4 0 1.3 0 1.4 0 1.3-0.1 1.3 0 1.4 0 1.3 0 1.4-0.1 1.3 0 1.3 0 1.4-0.1 1.3 0 1.4 0 1.3 0 1.3-0.1 1.4 0 1.3 0 1.4-0.1 1.3 0 1.3 0 1.4-0.1 1.3 0 1.4 0 1.3-0.1 1.3 0 1.4-0.1 1.3 0 1.4 0 1.3-0.1 1.3 0 1.4-0.1 1.3 0 1.4-0.1 1.3 0 1.3-0.1 1.4 0 1.3-0.1 1.4-0.1 1.3 0 1.3-0.1 1.4-0.1 1.3-0.1 1.4 0 1.3-0.1 1.3-0.1 1.4-0.1 1.3-0.1 1.4-0.2 1.3-0.1 1.3-0.1 1.4-0.2 1.3-0.1 1.4-0.2 1.3-0.2 1.3-0.2 1.4-0.2 1.3-0.3 1.4-0.3 1.3-0.3 1.3-0.3 1.4-0.4 1.3-0.4 1.4-0.4 1.3-0.5 1.3-0.5 1.4-0.6 1.3-0.6 1.4-0.7 1.3-0.7 1.3-0.8 1.4-0.9 1.3-0.9 1.4-1 1.3-1.2 1.3-1.2 1.4-1.3 1.3-1.4 1.4-1.5 1.3-1.6 1.3-1.7 1.4-1.9 1.3-1.9 1.4-2.2 1.3-2.2 1.3-2.4 1.4-2.5 1.3-2.7 1.4-2.9 1.3-3 1.3-3.1 1.4-3.3 1.3-3.5 1.4-3.6 1.3-3.8 1.3-4 1.4-4.1 1.3-4.2 1.4-4.4 1.3-4.6 1.3-4.7 1.4-4.8 1.3-4.9 1.4-5.1 1.3-5.1 1.3-5.3 1.4-5.3 1.3-5.4 1.4-5.5 1.3-5.5 1.3-5.5 1.4-5.6 1.3-5.6 1.4-5.5 1.3-5.5 1.3-5.5 1.4-5.4 1.3-5.3 1.4-5.2 1.3-5.1 1.3-5 1.4-4.8 1.3-4.7 1.4-4.5 1.3-4.3 1.3-4.1 1.4-3.9 1.3-3.7 1.4-3.4 1.3-3.2 1.3-3 1.4-2.8 1.3-2.5 1.4-2.3 1.3-2.1 1.3-1.9 1.4-1.7 1.3-1.4 1.4-1.3 1.3-1.1 1.3-0.9 1.4-0.7 1.3-0.7 1.4-0.4 1.3-0.4 1.3-0.3 1.4-0.1 1.3-0.1 1.4 0 1.3 0 1.3 0.1 1.4 0.2 1.3 0.2 1.4 0.2 1.3 0.2 1.3 0.3 1.4 0.3 1.3 0.3 1.4 0.3 1.3 0.3 1.3 0.3 1.4 0.3 1.3 0.4 1.4 0.4 1.3 0.4 1.3 0.4 1.4 0.5 1.3 0.5 1.4 0.6 1.3 0.6 1.3 0.7 1.4 0.7 1.3 0.9 1.4 0.9 1.3 1.1 1.3 1.1 1.4 1.3 1.3 1.4 1.4 1.5 1.3 1.6 1.3 1.8 1.4 2.1 1.3 2.2 1.4 2.4 1.3 2.7 1.3 2.8 1.4 3.1 1.3 3.2 1.4 3.5 1.3 3.6 1.3 3.8 1.4 4 1.3 4.2 1.4 4.3 1.3 4.4 1.3 4.6 1.4 4.6 1.3 4.8 1.4 4.9 1.3 4.9 1.3 5 1.4 5.1 1.3 5.1 1.4 5.1 1.3 5.1 1.3 5.2 1.4 5.1 1.3 5.1 1.4 5 1.3 5 1.3 5 1.4 4.9 1.3 4.8 1.4 4.7 1.3 4.6 1.3 4.6 1.4 4.4 1.3 4.3 1.4 4.2 1.3 4.1 1.3 3.9 1.4 3.9 1.3 3.7 1.4 3.5 1.3 3.5 1.3 3.3 1.4 3.1 1.3 3 1.4 2.9 1.3 2.8 1.3 2.6 1.4 2.4 1.3 2.4 1.4 2.2 1.3 2.1 1.3 2 1.4 1.8 1.3 1.7 1.4 1.6 1.3 1.5 1.3 1.4 1.4 1.3 1.3 1.2 1.4 1 1.3 1 1.3 0.9 1.4 0.8 1.3 0.6 1.4 0.6 1.3 0.5 1.3 0.4 1.4 0.3 1.3 0.2 1.4 0.1 1.3 0.1 1.3-0.1 1.4-0.2 1.3-0.3 1.4-0.4 1.3-0.6 1.3-0.6 1.4-0.8 1.3-1 1.4-1 1.3-1.3 1.3-1.4 1.4-1.6 1.3-1.8 1.4-2 1.3-2.2 1.3-2.5 1.4-2.7 1.3-2.9 1.4-3.3 1.3-3.5 1.3-3.8 1.4-4.1 1.3-4.5 1.4-4.8 1.3-5.1 1.3-5.4 1.4-5.8 1.3-6.2 1.4-6.5 1.3-6.9 1.3-7.3 1.4-7.5 1.3-7.9 1.4-8.3 1.3-8.5 1.3-8.8 1.4-9.1 1.3-9.4 1.4-9.5 1.3-9.7 1.3-9.9 1.4-10 1.3-10 1.4-10.1 1.3-10 1.3-10 1.4-9.9 1.3-9.7 1.4-9.5 1.3-9.2 1.3-9 1.4-8.6 1.3-8.1 1.4-7.8 1.3-7.3 1.3-6.7 1.4-6.3 1.3-5.7 1.4-5.1 1.3-4.6 1.3-4.1 1.4-3.5 1.3-3 1.4-2.5 1.3-2.1 1.3-1.7 1.4-1.3 1.3-0.9 1.4-0.7 1.3-0.4 1.3-0.3 1.4 0 1.3 0 1.4 0.1 1.3 0.2 1.3 0.2 1.4 0.1 1.3 0.1 1.4 0 1.3-0.1 1.3-0.2 1.4-0.3 1.3-0.5 1.4-0.6 1.3-0.8 1.3-0.9 1.4-1.1 1.3-1.2 1.4-1.4 1.3-1.4 1.3-1.6 1.4-1.7 1.3-1.7 1.4-1.8 1.3-1.8 1.3-1.8 1.4-1.8 1.3-1.8 1.4-1.7 1.3-1.5 1.3-1.5 1.4-1.3 1.3-1.2 1.4-0.9 1.3-0.8 1.3-0.5 1.4-0.2 1.3 0 1.4 0.3 1.3 0.6 1.3 0.9 1.4 1.2 1.3 1.7 1.4 2 1.3 2.5 1.3 2.8 1.4 3.2 1.3 3.6 1.4 4 1.3 4.4 1.3 4.7 1.4 5.1 1.3 5.4 1.4 5.7 1.3 6 1.3 6.3 1.4 6.5 1.3 6.9 1.4 7 1.3 7.2 1.3 7.5 1.4 7.6 1.3 7.7 1.4 7.9 1.3 8 1.3 8 1.4 8.2 1.3 8.2 1.4 8.2 1.3 8.2 1.3 8.3 1.4 8.2 1.3 8.2 1.4 8.1 1.3 8.1 1.3 8 1.4 7.9 1.3 7.8 1.4 7.7 1.3 7.5 1.3 7.4 1.4 7.3 1.3 7.2 1.4 6.9 1.3 6.9 1.3 6.6 1.4 6.5 1.3 6.2 1.4 6.1 1.3 5.9 1.3 5.8 1.4 5.5 1.3 5.3 1.4 5.2 1.3 4.9 1.3 4.8 1.4 4.6 1.3 4.4 1.4 4.2 1.3 4 1.3 3.9 1.4 3.7 1.3 3.5 1.4 3.3 1.3 3.2 1.3 3 1.4 2.9 1.3 2.7 1.4 2.6 1.3 2.4 1.3 2.3 1.4 2.2 1.3 2 1.4 2 1.3 1.8 1.3 1.7 1.4 1.6 1.3 1.5 1.4 1.4 1.3 1.4 1.3 1.2 1.4 1.2 1.3 1.1 1.4 1 1.3 0.9 1.3 0.9 1.4 0.8 1.3 0.8 1.4 0.7 1.3 0.7 1.3 0.6 1.4 0.6 1.3 0.6 1.4 0.5 1.3 0.5 1.3 0.4 1.4 0.4 1.3 0.4 1.4 0.3 1.3 0.4 1.3 0.3 1.4 0.3 1.3 0.2 1.4 0.3 1.3 0.2 1.3 0.2 1.4 0.3 1.3 0.1 1.4 0.2 1.3 0.2" fill="none" stroke="#f00000" stroke-width="3.6" stroke-linejoin="round"/>
<path d="M1208.5 294.9l1.3 2.8 1.3-10.2 1.3 2.8 1.3 4.5 1.3 1.3 1.3-2.8 1.3 3.4 1.3-4.9 1.3 1 1.3-1.6 1.3-5.3 1.3 0.9 1.3 5.2 1.3-4.2 1.3 8.1 1.3 0.1 1.3 2.3 1.3-8.3 1.3 6.4 1.3-10.5 1.3 0.3 1.3 4.2 1.3 0.9 1.3-9 1.3-0.7 1.3 9.9 1.3-5.9 1.3 10 1.3-4 1.3-0.5 1.3-0.5 1.3 17.1 1.3-19 1.3 6.1 1.3-8.1 1.3 1.5 1.3-2.4 1.3 6.4 1.3-2.9 1.3-4.6 1.3 14.3 1.3-11.9 1.3 1.2 1.3 2.5 1.3 6.6 1.3-9.5 1.3 4.2 1.3-3.1 1.3-7.8 1.3 11 1.3 1 1.3-6.2 1.3 1.1 1.3-7.2 1.3-0.2 1.3 5.3 1.3 4.7 1.3-5.2 1.3 3.4 1.3 3 1.3-4.1 1.3 2 1.3 3.7 1.3-12.1 1.3 8.6 1.3-11.6 1.3 9.8 1.3-1.2 1.3-3.4 1.3 7.1 1.3-5.8 1.3-2.2 1.3 1 1.3-5.4 1.3 4.2 1.3-7.9 1.3 0.9 1.3-2.5 1.3 3.9 1.3-12.7 1.3 1.4 1.3 2.4 1.3-10.9 1.3-7.1 1.3-0.2 1.3-8.1 1.3-2.4 1.3-12.4 1.3-3.1 1.3-6.1 1.3-7 1.3-15.6 1.3 5.5 1.3-22.6 1.3-10.7 1.3-7.2 1.3-6.2 1.3-11.3 1.3-7 1.3-8.2 1.3-7.5 1.3-8.5 1.3-0.5 1.3-16.6 1.3-1.1 1.3 3.9 1.3 0 1.3-0.4 1.3 8.9 1.3 4.4 1.3 1.7 1.3 17.4 1.3 10.9 1.3 9.8 1.3 4.9 1.3 10.5 1.3 5.4 1.3 12.2 1.3 6.4 1.3 11.4 1.3 6.5 1.3 12.3 1.3 8.3 1.3 9.9 1.3 1.4 1.3 7.5 1.3 13 1.3 4 1.3 8.5 1.3 5.7 1.3 5.4 1.3 7.3 1.3 4.2 1.3 4.3 1.3 0.5 1.3 12.9 1.3-5 1.3 4.1 1.3 2.3 1.3 1.1 1.3-1.5 1.3 1.3 1.3 0.8 1.3-1.2 1.3 1.2 1.3 1.8 1.3 0.7 1.3-1.5 1.3 8.9 1.3-7.7 1.3 2.2 1.3 7.4 1.3-7.1 1.3 4.1 1.3 0.2 1.3-1.7 1.3-2.6 1.3 0.1 1.3 4.3 1.3 1.4 1.3-6.2 1.3 6.1 1.3-1.9 1.3 4.1 1.3-1.7 1.3-2.5 1.3 1 1.3 1.1 1.3 3.3 1.3 4.3 1.3-7.3 1.3-0.9 1.3 1.2 1.3-2.1 1.3 1.4 1.3-1.1 1.3-1.5 1.3-2.7 1.3 2.1 1.3 1.5 1.3-2.9 1.3 3.6 1.3-2.2 1.3-3.7 1.3 4.8 1.3-9.2 1.3 5.9 1.3 1 1.3-7.4 1.3-0.8 1.3 1.9 1.3 0.1 1.3-4.5 1.3-2.1 1.3 0.7 1.3-3.7 1.3-6.3 1.3 1.8 1.3-1 1.3-6.6 1.3 4.7 1.3-5.7 1.3 3.3 1.3-9.8 1.3 0.1 1.3-4 1.3 8.2 1.3-1.9 1.3-1.1 1.3-1.6 1.3-3.9 1.3-1.6 1.3-12 1.3 6.3 1.3-5.3 1.3-1.1 1.3-0.9 1.3 4.6 1.3-6.1 1.3-8 1.3 8.1 1.3-2.6 1.3-4.1 1.3 3.7 1.3-1.6 1.3-6.3 1.3 4.4 1.3 10.4 1.3 0.2 1.3 0.6 1.3-6.2 1.3 3.6 1.3 3.8 1.3 3.6 1.3-7.6 1.3-1.1 1.3 11 1.3-5.9 1.3-2.8 1.3-2.4 1.3-0.2 1.3 11.2 1.3-4 1.3-8.1 1.3-5.3 1.3 15.2 1.3-1.2 1.3-2.5 1.3-2.6 1.3-15.6 1.3 2.7 1.3 9.8 1.3-5.3 1.3 2.4 1.3-4.9 1.3-1.3 1.3 6.2 1.3-5.9 1.3 1.7 1.3 0.9 1.3-0.7 1.3 4.6 1.3 0.6 1.3-15.7 1.3 5.6 1.3-2.7 1.3 7.3 1.3-10.5 1.3 9.8 1.3-0.8 1.3 3.6 1.3-13.4 1.3 3.8 1.3-4.9 1.3 7.5 1.3 2.6 1.3-13.5 1.3 3.2 1.3 3 1.3-2.5 1.3 9.6 1.3-9.1 1.3 1.1 1.3-3.9 1.3 5.6 1.3-10.7 1.3-1.8 1.3-8.7 1.3-16.3 1.3-3.5 1.3-4.6 1.3 1.6 1.3-12.9 1.3-5.2 1.3-10.3 1.3-9.2 1.3-4.5 1.3-8.5 1.3-12.6 1.3-0.6 1.3 5.7 1.3-14.5 1.3 7.9 1.3 0.5 1.3-7.7 1.3 6.7 1.3-2.4 1.3 13.8 1.3 0.2 1.3 4.6 1.3 10.1 1.3 6.3 1.3 6.9 1.3 12.7 1.3 9.3 1.3 8.1 1.3 12.8 1.3 8.1 1.3-10.2 1.3-9.2 1.3-10.7 1.3-6.4 1.3-14.7 1.3-10.4 1.3-15.5 1.3-6.6 1.3-10.1 1.3-3.8 1.3-13.5 1.3-15.3 1.3 1.8 1.3-3 1.3-1.4 1.3-10.7 1.3 12.1 1.3 7.3 1.3 6.4 1.3 5.5 1.3 4.1 1.3 12.9 1.3 12.7 1.3 17.5 1.3 16.8 1.3 15.2 1.3 20.2 1.3 11.5 1.3 22.7 1.3 15.2 1.3 19.7 1.3 15.5 1.3 20.9 1.3 13.5 1.3 15.7 1.3 13.6 1.3 11.2 1.3 11.1 1.3 7.1 1.3 14.1 1.3 4.8 1.3-0.9 1.3 11.5 1.3 3.9 1.3 0.5 1.3 5.6 1.3 7.5 1.3-1.9 1.3 3 1.3 4.3 1.3-3 1.3 1.8 1.3 1.9 1.3 5.6 1.3 4.6 1.3-1.8 1.3 1.2 1.3 6.9 1.3 2.1 1.3 5.7 1.3 0.8 1.3 1.4 1.3 0.4 1.3 0.1 1.3-2.8 1.3-0.9 1.3 6.2 1.3 3.1 1.3-5.5 1.3-7.5 1.3 3.5 1.3 2.2 1.3-7.7 1.3 6.6 1.3-5.3 1.3-2.1 1.3-0.8 1.3 3.7 1.3-4.8 1.3-0.4 1.3 3.8 1.3-7.6 1.3-3.8 1.3 5.5 1.3 2.5 1.3-5.7 1.3-0.8 1.3-5.1 1.3-0.1 1.3 5.5 1.3-1.4 1.3-2.7 1.3-4.2 1.3-2.5 1.3-0.7 1.3-1.4 1.3 3.7 1.3-5.2 1.3-0.7 1.3 1.8 1.3-1.9 1.3-4.4 1.3-1.7 1.3-4.7 1.3-9.2 1.3 2.2 1.3-4 1.3-0.4 1.3-2.7 1.3-5 1.3 2.9 1.3-7.3 1.3-1.9 1.3-2.6 1.3-4.8 1.3-0.5 1.3-2.7 1.3-3.3 1.3-7.2 1.3-3.2 1.3-1.1 1.3 0.2 1.3-8.4 1.3 1.9 1.3-2.8 1.3 0.2 1.3-2.4 1.3 5 1.3 0.6 1.3-2.6 1.3-8.6 1.3-0.5 1.3 0.7 1.3 6.4 1.3-1 1.3-10.2 1.3 3.9 1.3 5.1 1.3-13.9 1.3 2.5 1.3 5.2 1.3-1.1 1.3-10.2 1.3 9.6 1.3-3.1 1.3-2.1 1.3-9.2 1.3 3.6 1.3 5.4 1.3-4.6 1.3 0.2 1.3-5.8 1.3 6.5 1.3-8.9 1.3 3.7 1.3-4 1.3-7.2 1.3 9.3 1.3-13.6 1.3 0.7 1.3 2.3 1.3-8.4 1.3-3.4 1.3 5.8 1.3-3 1.3-1 1.3 1.6 1.3 5.7 1.3-13.7 1.3 10.3 1.3-11.6 1.3-3.5 1.3-12.9 1.3 3.4 1.3 6.2 1.3 0.2 1.3-6.5 1.3 4.1 1.3 2 1.3-6.5 1.3-4.7 1.3 2.4 1.3 2.4 1.3 6.1 1.3-2.3 1.3-6.9 1.3 3.5 1.3-1.4 1.3 0.8 1.3 3.7 1.3 0.3 1.3-7.1 1.3-1 1.3-1 1.3-0.1 1.3-1 1.3-2 1.3-5.3 1.3-7.1 1.3-6.1 1.3-2 1.3 1.7 1.3-12.4 1.3-5.4 1.3-7.2 1.3-8.8 1.3-0.8 1.3-15.2 1.3-9.3 1.3-7.1 1.3-0.4 1.3-6.4 1.3 0 1.3 1.9 1.3 2.4 1.3 9.6 1.3 1 1.3 19 1.3-6.5 1.3 12.4 1.3 12.6 1.3 10.4 1.3 10 1.3 15.9 1.3 15.4 1.3 16.5 1.3 18.5 1.3 16.2 1.3 15.6 1.3 15.2 1.3 16.4 1.3 9 1.3 13.1 1.3 13.4 1.3 7 1.3 11.6 1.3 4.6 1.3 9.9 1.3 7.8 1.3 6.2 1.3 7.3 1.3 8.7 1.3 1.6 1.3 4.9 1.3 8 1.3 0.7 1.3 8.7 1.3 7.8 1.3 1.5 1.3 5.8 1.3 3.7 1.3 6.3 1.3 2.1 1.3 3.1 1.3-5.9 1.3 10.9 1.3 6.3 1.3 4.4 1.3-3.6 1.3 6.6 1.3-3.4 1.3 3.3 1.3 4.6 1.3-2.1 1.3 3.5 1.3 0.7 1.3-2.6 1.3 3.3 1.3 1.6 1.3-0.1 1.3 7.1 1.3-3.3 1.3-1.5 1.3-2.3 1.3 4.7 1.3 7 1.3-5.8 1.3 4.9 1.3-0.7 1.3-3.5 1.3-1.4 1.3 6.9 1.3-9.2 1.3 15 1.3-12.1 1.3 9.3 1.3-5.2 1.3 1.7 1.3 5.2 1.3-8.7 1.3 4.7 1.3-1.4 1.3 3.7 1.3 1 1.3-1.8 1.3-0.2 1.3-2.3 1.3 4.1" fill="none" stroke="#000" stroke-width="4.6" stroke-linejoin="round"/>
<path d="M1668 395l1.6 6.9 1.6 7.2 1.5 6.5 1.6 5.3 1.6 4.5 1.6 4 1.5 3.3 1.6 2.2 1.6 1.6 1.6 1.4 1.5 1 1.6 1 1.6 0.9 1.6 0.8 1.5 0.7 1.6 0.6 1.6 0.6 1.6 0.6 1.5 0.6 1.6 0.6 1.6 0.5 1.6 0.6 1.6 0.4 1.5 0.4 1.6 0.4 1.6 0.3 1.6 0.4 1.5 0.3 1.6 0.3 1.6 0.2 1.6 0.1 1.5 0.1 1.6 0 1.6 0 1.6 0 1.5 0 1.6 0 1.6 0 1.6 0 1.6 0 1.5-0.1 1.6-0.1 1.6-0.2 1.6-0.2 1.5-0.3 1.6-0.2 1.6-0.3 1.6-0.4 1.5-0.4 1.6-0.6 1.6-0.6 1.6-0.8 1.5-1 1.6-1.3 1.6-2.3 1.6-2.7 1.5-3 1.6-3.4 1.6-3.4" fill="none" stroke="#000" stroke-width="3.0" stroke-linejoin="round"/>
<path d="M1207.5 301l1.1 0 1.1 0 1.1 0 1.1 0.1 1.1 0 1.1 0 1.1 0 1.2 0.1 1.1 0 1.1 0 1.1 0 1.1 0.1 1.1 0 1.1 0 1.1 0 1.1 0 1.1 0.1 1.1 0 1.1 0 1.1 0 1.1 0 1.1 0.1 1.2 0 1.1 0 1.1 0 1.1 0 1.1 0.1 1.1 0 1.1 0 1.1 0 1.1 0 1.1 0.1 1.1 0 1.1 0 1.1 0 1.1 0 1.1 0 1.2 0.1 1.1 0 1.1 0 1.1 0 1.1 0 1.1 0.1 1.1 0 1.1 0 1.1 0 1.1 0.1 1.1 0 1.1 0 1.1 0 1.1 0.1 1.1 0 1.1 0 1.2 0 1.1 0.1 1.1 0 1.1 0 1.1 0.1 1.1 0 1.1 0 1.1 0.1 1.1 0 1.1 0 1.1 0.1 1.1 0 1.1 0 1.1 0.1 1.1 0 1.2 0.1 1.1 0 1.1 0 1.1 0.1 1.1 0 1.1 0.1 1.1 0 1.1 0.1 1.1 0 1.1 0.1 1.1 0 1.1 0.1 1.1 0.1 1.1 0 1.1 0.1 1.2 0 1.1 0.1 1.1 0.1 1.1 0.1 1.1 0.2 1.1 0.1 1.1 0.2 1.1 0.2 1.1 0.2 1.1 0.3 1.1 0.2 1.1 0.2 1.1 0.3 1.1 0.3 1.1 0.3 1.2 0.3 1.1 0.3 1.1 0.3 1.1 0.3 1.1 0.3 1.1 0.4 1.1 0.4 1.1 0.4 1.1 0.5 1.1 0.5 1.1 0.6 1.1 0.6 1.1 0.7 1.1 0.6 1.1 0.7 1.2 0.7 1.1 0.7 1.1 0.7 1.1 0.7 1.1 0.8 1.1 0.7 1.1 0.7 1.1 0.7 1.1 0.8 1.1 0.8 1.1 0.9 1.1 0.9 1.1 1 1.1 0.9 1.1 0.9 1.1 0.9 1.2 0.9 1.1 0.8 1.1 0.8 1.1 0.7 1.1 0.7 1.1 0.6 1.1 0.5 1.1 0.4 1.1 0.4 1.1 0.4 1.1 0.4 1.1 0.4 1.1 0.4 1.1 0.3 1.1 0.3 1.2 0.4 1.1 0.3 1.1 0.3 1.1 0.2 1.1 0.3 1.1 0.3 1.1 0.2 1.1 0.2 1.1 0.2 1.1 0.2 1.1 0.2 1.1 0.1 1.1 0.2 1.1 0.1 1.1 0.2 1.2 0.1 1.1 0.1 1.1 0.1 1.1 0.1 1.1 0.1 1.1 0.1 1.1 0.1 1.1 0.1 1.1 0.1 1.1 0.1 1.1 0.1 1.1 0.1 1.1 0.1 1.1 0 1.1 0.1 1.2 0.1 1.1 0.1 1.1 0.1 1.1 0 1.1 0.1 1.1 0.1 1.1 0.1 1.1 0.1 1.1 0.1 1.1 0.1 1.1 0 1.1 0.1 1.1 0.2 1.1 0.1 1.1 0 1.2 0.1 1.1 0.1 1.1 0.1 1.1 0.1 1.1 0.1 1.1 0.1 1.1 0.1 1.1 0.1 1.1 0.1 1.1 0.1 1.1 0.1 1.1 0.1 1.1 0.1 1.1 0.1 1.1 0.1 1.1 0.1 1.2 0.1 1.1 0.1 1.1 0.1 1.1 0.1 1.1 0.1 1.1 0.1 1.1 0.1 1.1 0.1 1.1 0.1 1.1 0.1 1.1 0.1 1.1 0.1 1.1 0.1 1.1 0.1 1.1 0.2 1.2 0.1 1.1 0.1 1.1 0.1 1.1 0.1 1.1 0.2 1.1 0.1 1.1 0.1 1.1 0.2 1.1 0.1 1.1 0.1 1.1 0.2 1.1 0.1 1.1 0.2 1.1 0.1 1.1 0.2 1.2 0.2 1.1 0.1 1.1 0.2 1.1 0.2 1.1 0.1 1.1 0.2 1.1 0.2 1.1 0.2 1.1 0.1 1.1 0.2 1.1 0.2 1.1 0.2 1.1 0.2 1.1 0.1 1.1 0.2 1.2 0.2 1.1 0.1 1.1 0.2 1.1 0.2 1.1 0.1 1.1 0.1 1.1 0.2 1.1 0.1 1.1 0 1.1 0.1 1.1 0.1 1.1 0 1.1 0 1.1-0.1 1.1 0 1.2-0.1 1.1-0.2 1.1-0.2 1.1-0.2 1.1-0.3 1.1-0.4 1.1-0.5 1.1-0.5 1.1-0.5 1.1-0.7 1.1-0.8 1.1-0.8 1.1-0.9 1.1-1 1.1-1.2 1.1-1.2 1.2-1.3 1.1-1.4 1.1-1.5 1.1-1.7 1.1-1.7 1.1-1.8 1.1-1.8 1.1-2 1.1-2 1.1-2.1 1.1-2.2 1.1-2.1 1.1-2.2 1.1-2.2 1.1-2.2 1.2-2.2 1.1-2.1 1.1-2.1 1.1-2 1.1-1.8 1.1-1.8 1.1-1.6 1.1-1.4 1.1-1.2 1.1-1.1 1.1-0.8 1.1-0.6 1.1-0.3 1.1-0.1 1.1 0.1 1.2 0.5 1.1 0.7 1.1 1 1.1 1.2 1.1 1.4 1.1 1.7 1.1 1.9 1.1 2.1 1.1 2.3 1.1 2.5 1.1 2.5 1.1 2.7 1.1 2.8 1.1 2.9 1.1 2.9 1.2 2.9 1.1 3 1.1 2.9 1.1 3 1.1 2.9 1.1 2.9 1.1 2.9 1.1 2.7 1.1 2.7 1.1 2.7 1.1 2.5 1.1 2.5 1.1 2.3 1.1 2.3 1.1 2.2 1.2 2 1.1 2 1.1 1.9 1.1 1.8 1.1 1.7 1.1 1.6 1.1 1.6 1.1 1.4 1.1 1.4 1.1 1.3 1.1 1.3 1.1 1.2 1.1 1.2 1.1 1.2 1.1 1.1 1.1 1.1 1.2 1.1 1.1 1 1.1 1.1 1.1 1.1 1.1 1.1 1.1 1.1 1.1 1.1 1.1 1.1 1.1 1.3 1.1 1.3 1.1 1.3 1.1 1.4 1.1 1.5 1.1 1.5 1.1 1.6 1.2 1.6 1.1 1.6 1.1 1.6 1.1 1.7 1.1 1.7 1.1 1.7 1.1 1.7 1.1 1.7 1.1 1.7 1.1 1.6 1.1 1.7 1.1 1.6 1.1 1.7 1.1 1.5 1.1 1.7 1.2 1.6 1.1 1.8 1.1 1.8 1.1 1.8 1.1 1.8 1.1 1.9 1.1 1.9 1.1 1.9 1.1 1.8 1.1 1.8 1.1 1.8 1.1 1.7 1.1 1.7 1.1 1.6 1.1 1.5 1.2 1.4 1.1 1.3 1.1 1.2 1.1 1.1 1.1 0.9 1.1 0.9 1.1 0.8 1.1 0.8 1.1 0.7 1.1 0.8 1.1 0.7 1.1 0.7 1.1 0.6 1.1 0.6 1.1 0.6 1.2 0.5 1.1 0.5 1.1 0.4 1.1 0.4 1.1 0.3 1.1 0.3 1.1 0.2 1.1 0.2 1.1 0.2 1.1 0.2 1.1 0.1 1.1 0.2 1.1 0.2 1.1 0.1 1.1 0.1 1.1 0.2 1.2 0.1 1.1 0.1 1.1 0.1 1.1 0.1 1.1 0.1 1.1 0.1 1.1 0.1 1.1 0.1 1.1 0.1 1.1 0 1.1 0.1 1.1 0.1 1.1 0 1.1 0 1.1 0.1 1.2 0 1.1 0.1 1.1 0 1.1 0 1.1 0.1 1.1 0 1.1 0 1.1 0 1.1 0.1 1.1 0 1.1 0 1.1 0 1.1 0.1 1.1 0 1.1 0 1.2 0 1.1 0 1.1 0.1 1.1 0 1.1 0 1.1 0 1.1 0 1.1 0.1 1.1 0 1.1 0 1.1 0.1 1.1 0 1.1 0 1.1 0.1 1.1 0 1.2 0 1.1 0.1 1.1 0 1.1 0.1 1.1 0.1 1.1 0.1 1.1 0.1 1.1 0.1 1.1 0.1 1.1 0.2 1.1 0.1 1.1 0.2 1.1 0.2 1.1 0.2 1.1 0.2 1.2 0.2 1.1 0.2 1.1 0.2 1.1 0.3 1.1 0.2 1.1 0.3 1.1 0.2 1.1 0.3 1.1 0.3 1.1 0.2 1.1 0.3 1.1 0.3 1.1 0.3 1.1 0.3 1.1 0.2 1.1 0.3 1.2 0.3 1.1 0.3 1.1 0.3 1.1 0.2 1.1 0.3 1.1 0.3 1.1 0.3 1.1 0.3 1.1 0.3 1.1 0.3 1.1 0.3 1.1 0.3 1.1 0.3 1.1 0.4 1.1 0.3 1.2 0.3 1.1 0.4 1.1 0.3 1.1 0.4 1.1 0.3 1.1 0.4 1.1 0.4 1.1 0.3 1.1 0.4 1.1 0.4 1.1 0.4 1.1 0.4 1.1 0.4 1.1 0.4 1.1 0.4 1.2 0.5 1.1 0.4 1.1 0.4 1.1 0.5 1.1 0.4 1.1 0.5 1.1 0.4 1.1 0.5 1.1 0.4 1.1 0.5 1.1 0.5 1.1 0.5 1.1 0.5 1.1 0.5 1.1 0.5 1.2 0.5 1.1 0.5 1.1 0.6 1.1 0.5 1.1 0.6 1.1 0.6 1.1 0.6 1.1 0.6 1.1 0.6 1.1 0.6 1.1 0.7 1.1 0.6 1.1 0.7 1.1 0.7 1.1 0.7 1.2 0.6 1.1 0.8 1.1 0.7 1.1 0.7 1.1 0.7 1.1 0.8 1.1 0.7 1.1 0.8 1.1 0.7 1.1 0.8 1.1 0.8 1.1 0.8 1.1 0.8 1.1 0.8 1.1 0.8 1.1 0.8 1.2 0.8 1.1 0.9 1.1 0.8 1.1 0.8 1.1 0.9 1.1 0.8 1.1 0.9 1.1 0.8 1.1 0.9 1.1 0.9 1.1 0.9 1.1 0.9 1.1 0.9 1.1 1 1.1 1 1.2 1 1.1 1 1.1 1 1.1 1 1.1 1.1 1.1 1.1 1.1 1.1 1.1 1.1 1.1 1.1 1.1 1.1 1.1 1.1 1.1 1.2 1.1 1.1 1.1 1.1 1.1 1.2 1.2 1.1 1.1 1.2 1.1 1.1 1.1 1.2 1.1 1.1 1.1 1.2 1.1 1.1 1.1 1.2 1.1 1.1 1.1 1.1 1.1 1.1 1.1 1.1 1.1 1.1 1.1 1.1 1.1 1.1 1.2 1 1.1 1.1 1.1 1 1.1 1 1.1 1 1.1 1.1 1.1 1 1.1 1.1 1.1 1 1.1 1.1 1.1 1.1 1.1 1 1.1 1.1 1.1 1.1 1.1 1 1.2 1.1 1.1 1.1 1.1 1 1.1 1.1 1.1 1 1.1 1 1.1 1 1.1 0.9 1.1 1 1.1 0.9 1.1 0.9 1.1 0.9 1.1 0.8 1.1 0.9 1.1 0.7 1.1 0.8 1.2 0.7 1.1 0.7 1.1 0.6 1.1 0.6 1.1 0.5 1.1 0.6 1.1 0.5 1.1 0.5 1.1 0.5 1.1 0.5 1.1 0.4 1.1 0.5 1.1 0.4 1.1 0.4 1.1 0.4 1.2 0.4 1.1 0.4 1.1 0.4 1.1 0.4 1.1 0.4 1.1 0.3 1.1 0.4 1.1 0.4 1.1 0.3 1.1 0.4 1.1 0.3 1.1 0.4 1.1 0.3 1.1 0.4 1.1 0.3 1.2 0.4 1.1 0.4 1.1 0.3 1.1 0.4 1.1 0.4 1.1 0.4 1.1 0.4 1.1 0.4" fill="none" stroke="#739334" stroke-width="3.4" stroke-linejoin="round"/>
<path d="M1207.5 301l1.1 0 1.1 0 1.1 0 1.1 0.1 1.1 0 1.1 0 1.1 0 1.2 0.1 1.1 0 1.1 0 1.1 0 1.1 0.1 1.1 0 1.1 0 1.1 0 1.1 0 1.1 0.1 1.1 0 1.1 0 1.1 0 1.1 0 1.1 0.1 1.2 0 1.1 0 1.1 0 1.1 0 1.1 0.1 1.1 0 1.1 0 1.1 0 1.1 0 1.1 0.1 1.1 0 1.1 0 1.1 0 1.1 0 1.1 0 1.2 0.1 1.1 0 1.1 0 1.1 0 1.1 0.1 1.1 0 1.1 0 1.1 0 1.1 0 1.1 0.1 1.1 0 1.1 0 1.1 0 1.1 0.1 1.1 0 1.1 0 1.2 0 1.1 0.1 1.1 0 1.1 0 1.1 0.1 1.1 0 1.1 0 1.1 0.1 1.1 0 1.1 0 1.1 0.1 1.1 0 1.1 0 1.1 0.1 1.1 0 1.2 0.1 1.1 0 1.1 0.1 1.1 0 1.1 0 1.1 0.1 1.1 0 1.1 0.1 1.1 0 1.1 0.1 1.1 0.1 1.1 0 1.1 0.1 1.1 0 1.1 0.1 1.2 0.1 1.1 0 1.1 0.1 1.1 0.2 1.1 0.1 1.1 0.2 1.1 0.1 1.1 0.2 1.1 0.2 1.1 0.3 1.1 0.2 1.1 0.3 1.1 0.2 1.1 0.3 1.1 0.3 1.2 0.3 1.1 0.3 1.1 0.3 1.1 0.3 1.1 0.4 1.1 0.3 1.1 0.4 1.1 0.4 1.1 0.5 1.1 0.6 1.1 0.5 1.1 0.6 1.1 0.7 1.1 0.6 1.1 0.7 1.2 0.7 1.1 0.7 1.1 0.7 1.1 0.8 1.1 0.7 1.1 0.7 1.1 0.7 1.1 0.7 1.1 0.8 1.1 0.9 1.1 0.9 1.1 0.9 1.1 0.9 1.1 0.9 1.1 0.9 1.1 0.9 1.2 0.9 1.1 0.8 1.1 0.8 1.1 0.8 1.1 0.6 1.1 0.6 1.1 0.5 1.1 0.4 1.1 0.4 1.1 0.5 1.1 0.4 1.1 0.3 1.1 0.4 1.1 0.3 1.1 0.4 1.2 0.3 1.1 0.3 1.1 0.3 1.1 0.3 1.1 0.3 1.1 0.2 1.1 0.2 1.1 0.3 1.1 0.2 1.1 0.2 1.1 0.1 1.1 0.2 1.1 0.1 1.1 0.2 1.1 0.1 1.2 0.1 1.1 0.2 1.1 0.1 1.1 0.1 1.1 0.1 1.1 0.1 1.1 0.1 1.1 0.1 1.1 0.1 1.1 0.1 1.1 0.1 1.1 0.1 1.1 0 1.1 0.1 1.1 0.1 1.2 0.1 1.1 0.1 1.1 0 1.1 0.1 1.1 0.1 1.1 0.1 1.1 0.1 1.1 0.1 1.1 0.1 1.1 0.1 1.1 0.1 1.1 0.1 1.1 0.1 1.1 0.1 1.1 0.1 1.2 0.1 1.1 0.1 1.1 0.1 1.1 0.1 1.1 0.1 1.1 0.1 1.1 0.1 1.1 0.1 1.1 0.1 1.1 0.1 1.1 0.1 1.1 0.1 1.1 0.1 1.1 0.1 1.1 0.1 1.1 0.1 1.2 0.1 1.1 0.1 1.1 0.1 1.1 0.1 1.1 0.1 1.1 0.1 1.1 0.1 1.1 0.1 1.1 0.1 1.1 0.1 1.1 0.2 1.1 0.1 1.1 0.1 1.1 0.1 1.1 0.1 1.2 0.2 1.1 0.1 1.1 0.1 1.1 0.2 1.1 0.1 1.1 0.1 1.1 0.2 1.1 0.1 1.1 0.2 1.1 0.1 1.1 0.2 1.1 0.1 1.1 0.2 1.1 0.2 1.1 0.1 1.2 0.2 1.1 0.2 1.1 0.2 1.1 0.2 1.1 0.2 1.1 0.2 1.1 0.2 1.1 0.2 1.1 0.2 1.1 0.2 1.1 0.2 1.1 0.2 1.1 0.2 1.1 0.2 1.1 0.3 1.2 0.2 1.1 0.2 1.1 0.2 1.1 0.3 1.1 0.2 1.1 0.2 1.1 0.3 1.1 0.2 1.1 0.2 1.1 0.3 1.1 0.2 1.1 0.3 1.1 0.2 1.1 0.2 1.1 0.3 1.2 0.2 1.1 0.2 1.1 0.3 1.1 0.2 1.1 0.3 1.1 0.2 1.1 0.2 1.1 0.3 1.1 0.2 1.1 0.2 1.1 0.3 1.1 0.2 1.1 0.3 1.1 0.2 1.1 0.2 1.1 0.3 1.2 0.2 1.1 0.3 1.1 0.2 1.1 0.2 1.1 0.3 1.1 0.2 1.1 0.3 1.1 0.2 1.1 0.3 1.1 0.2 1.1 0.3 1.1 0.3 1.1 0.2 1.1 0.3 1.1 0.2 1.2 0.3 1.1 0.3 1.1 0.3 1.1 0.2 1.1 0.3 1.1 0.3 1.1 0.3 1.1 0.3 1.1 0.3 1.1 0.3 1.1 0.3 1.1 0.3 1.1 0.3 1.1 0.4 1.1 0.3 1.2 0.3 1.1 0.3 1.1 0.4 1.1 0.3 1.1 0.4 1.1 0.3 1.1 0.4 1.1 0.4 1.1 0.4 1.1 0.4 1.1 0.4 1.1 0.4 1.1 0.4 1.1 0.4 1.1 0.4 1.2 0.5 1.1 0.4 1.1 0.4 1.1 0.5 1.1 0.4 1.1 0.5 1.1 0.4 1.1 0.5 1.1 0.5 1.1 0.4 1.1 0.5 1.1 0.5 1.1 0.5 1.1 0.4 1.1 0.5 1.2 0.5 1.1 0.5 1.1 0.4 1.1 0.5 1.1 0.5 1.1 0.4 1.1 0.5 1.1 0.4 1.1 0.4 1.1 0.4 1.1 0.4 1.1 0.4 1.1 0.4 1.1 0.3 1.1 0.2 1.1 0.2 1.2 0.1 1.1 0 1.1-0.2 1.1-0.3 1.1-0.6 1.1-0.8 1.1-1.1 1.1-1.6 1.1-1.9 1.1-2.4 1.1-3 1.1-3.7 1.1-4.5 1.1-5.2 1.1-6.2 1.2-7.2 1.1-8.1 1.1-9.2 1.1-10.3 1.1-11.2 1.1-12.2 1.1-13 1.1-13.7 1.1-14.3 1.1-14.6 1.1-14.7 1.1-14.4 1.1-14 1.1-13.2 1.1-11.9 1.2-10.4 1.1-8.4 1.1-6.2 1.1-3.7 1.1-1.1 1.1 1.6 1.1 4.3 1.1 7 1.1 9.4 1.1 11.6 1.1 13.4 1.1 15 1.1 16.2 1.1 17.1 1.1 17.5 1.2 17.7 1.1 17.6 1.1 17.2 1.1 16.5 1.1 15.8 1.1 14.8 1.1 13.8 1.1 12.9 1.1 11.7 1.1 10.7 1.1 9.6 1.1 8.5 1.1 7.5 1.1 6.6 1.1 5.7 1.2 4.9 1.1 4.2 1.1 3.5 1.1 3 1.1 2.5 1.1 2.1 1.1 1.7 1.1 1.4 1.1 1.2 1.1 1 1.1 0.8 1.1 0.8 1.1 0.6 1.1 0.5 1.1 0.5 1.1 0.4 1.2 0.4 1.1 0.3 1.1 0.3 1.1 0.3 1.1 0.2 1.1 0.2 1.1 0.3 1.1 0.1 1.1 0.2 1.1 0.2 1.1 0.2 1.1 0.1 1.1 0.1 1.1 0.2 1.1 0.1 1.2 0.1 1.1 0.1 1.1 0.1 1.1 0.1 1.1 0.1 1.1 0.1 1.1 0 1.1 0.1 1.1 0.1 1.1 0.1 1.1 0 1.1 0.1 1.1 0.1 1.1 0 1.1 0.1 1.2 0 1.1 0.1 1.1 0 1.1 0.1 1.1 0 1.1 0.1 1.1 0 1.1 0.1 1.1 0 1.1 0.1 1.1 0.1 1.1 0 1.1 0.1 1.1 0 1.1 0.1 1.2 0 1.1 0.1 1.1 0.1 1.1 0.1 1.1 0 1.1 0.2 1.1 0.1 1.1 0.1 1.1 0.2 1.1 0.1 1.1 0.2 1.1 0.2 1.1 0.2 1.1 0.2 1.1 0.2 1.2 0.2 1.1 0.3 1.1 0.2 1.1 0.3 1.1 0.2 1.1 0.3 1.1 0.2 1.1 0.3 1.1 0.3 1.1 0.3 1.1 0.3 1.1 0.2 1.1 0.3 1.1 0.3 1.1 0.3 1.1 0.3 1.2 0.3 1.1 0.3 1.1 0.3 1.1 0.2 1.1 0.3 1.1 0.3 1.1 0.3 1.1 0.3 1.1 0.3 1.1 0.3 1.1 0.4 1.1 0.3 1.1 0.3 1.1 0.3 1.1 0.4 1.2 0.3 1.1 0.4 1.1 0.3 1.1 0.4 1.1 0.3 1.1 0.4 1.1 0.4 1.1 0.4 1.1 0.4 1.1 0.3 1.1 0.4 1.1 0.4 1.1 0.5 1.1 0.4 1.1 0.4 1.2 0.4 1.1 0.4 1.1 0.5 1.1 0.4 1.1 0.5 1.1 0.4 1.1 0.5 1.1 0.5 1.1 0.4 1.1 0.5 1.1 0.5 1.1 0.5 1.1 0.5 1.1 0.5 1.1 0.5 1.2 0.5 1.1 0.5 1.1 0.6 1.1 0.5 1.1 0.6 1.1 0.6 1.1 0.6 1.1 0.6 1.1 0.6 1.1 0.7 1.1 0.6 1.1 0.7 1.1 0.6 1.1 0.7 1.1 0.7 1.2 0.7 1.1 0.7 1.1 0.7 1.1 0.7 1.1 0.8 1.1 0.7 1.1 0.8 1.1 0.7 1.1 0.8 1.1 0.8 1.1 0.8 1.1 0.8 1.1 0.8 1.1 0.8 1.1 0.8 1.1 0.8 1.2 0.8 1.1 0.8 1.1 0.9 1.1 0.8 1.1 0.9 1.1 0.8 1.1 0.9 1.1 0.8 1.1 0.9 1.1 0.8 1.1 0.9 1.1 1 1.1 0.9 1.1 1 1.1 0.9 1.2 1 1.1 1.1 1.1 1 1.1 1 1.1 1.1 1.1 1.1 1.1 1.1 1.1 1.1 1.1 1.1 1.1 1.1 1.1 1.1 1.1 1.1 1.1 1.2 1.1 1.1 1.1 1.2 1.2 1.1 1.1 1.2 1.1 1.1 1.1 1.2 1.1 1.1 1.1 1.2 1.1 1.1 1.1 1.2 1.1 1.1 1.1 1.1 1.1 1.1 1.1 1.1 1.1 1.1 1.1 1.1 1.1 1.1 1.2 1.1 1.1 1 1.1 1 1.1 1 1.1 1.1 1.1 1 1.1 1 1.1 1.1 1.1 1 1.1 1.1 1.1 1.1 1.1 1.1 1.1 1 1.1 1.1 1.1 1.1 1.2 1 1.1 1.1 1.1 1 1.1 1.1 1.1 1 1.1 1 1.1 1 1.1 1 1.1 0.9 1.1 1 1.1 0.9 1.1 0.8 1.1 0.9 1.1 0.8 1.1 0.8 1.1 0.7 1.2 0.7 1.1 0.7 1.1 0.6 1.1 0.6 1.1 0.6 1.1 0.5 1.1 0.5 1.1 0.5 1.1 0.5 1.1 0.5 1.1 0.5 1.1 0.4 1.1 0.4 1.1 0.5 1.1 0.4 1.2 0.4 1.1 0.4 1.1 0.4 1.1 0.3 1.1 0.4 1.1 0.4 1.1 0.4 1.1 0.3 1.1 0.4 1.1 0.3 1.1 0.4 1.1 0.3 1.1 0.4 1.1 0.3 1.1 0.4 1.2 0.4 1.1 0.3 1.1 0.4 1.1 0.4 1.1 0.3 1.1 0.4 1.1 0.4 1.1 0.4" fill="none" stroke="#739334" stroke-width="3.4" stroke-linejoin="round"/>
<path d="M1207.5 301l1.1 0 1.1 0 1.1 0.1 1.1 0 1.1 0 1.1 0 1.1 0.1 1.2 0 1.1 0 1.1 0 1.1 0.1 1.1 0 1.1 0 1.1 0 1.1 0 1.1 0.1 1.1 0 1.1 0 1.1 0 1.1 0 1.1 0.1 1.1 0 1.2 0 1.1 0 1.1 0 1.1 0.1 1.1 0 1.1 0 1.1 0 1.1 0 1.1 0.1 1.1 0 1.1 0 1.1 0 1.1 0 1.1 0 1.1 0.1 1.2 0 1.1 0 1.1 0 1.1 0.1 1.1 0 1.1 0 1.1 0 1.1 0 1.1 0.1 1.1 0 1.1 0 1.1 0 1.1 0.1 1.1 0 1.1 0 1.1 0 1.2 0.1 1.1 0 1.1 0 1.1 0.1 1.1 0 1.1 0 1.1 0.1 1.1 0 1.1 0 1.1 0.1 1.1 0 1.1 0 1.1 0.1 1.1 0 1.1 0.1 1.2 0 1.1 0 1.1 0.1 1.1 0 1.1 0.1 1.1 0 1.1 0.1 1.1 0 1.1 0.1 1.1 0 1.1 0.1 1.1 0 1.1 0.1 1.1 0.1 1.1 0 1.2 0.1 1.1 0.1 1.1 0.1 1.1 0.1 1.1 0.1 1.1 0.2 1.1 0.2 1.1 0.2 1.1 0.2 1.1 0.2 1.1 0.2 1.1 0.3 1.1 0.3 1.1 0.2 1.1 0.3 1.2 0.3 1.1 0.3 1.1 0.3 1.1 0.4 1.1 0.3 1.1 0.3 1.1 0.4 1.1 0.5 1.1 0.5 1.1 0.5 1.1 0.6 1.1 0.6 1.1 0.6 1.1 0.7 1.1 0.7 1.2 0.7 1.1 0.7 1.1 0.7 1.1 0.7 1.1 0.7 1.1 0.7 1.1 0.7 1.1 0.8 1.1 0.8 1.1 0.8 1.1 0.9 1.1 0.9 1.1 0.9 1.1 1 1.1 0.9 1.1 0.9 1.2 0.8 1.1 0.9 1.1 0.8 1.1 0.7 1.1 0.7 1.1 0.5 1.1 0.5 1.1 0.5 1.1 0.4 1.1 0.4 1.1 0.4 1.1 0.4 1.1 0.4 1.1 0.3 1.1 0.3 1.2 0.4 1.1 0.3 1.1 0.3 1.1 0.2 1.1 0.3 1.1 0.3 1.1 0.2 1.1 0.2 1.1 0.2 1.1 0.2 1.1 0.2 1.1 0.2 1.1 0.1 1.1 0.2 1.1 0.1 1.2 0.1 1.1 0.1 1.1 0.2 1.1 0.1 1.1 0.1 1.1 0.1 1.1 0.1 1.1 0.1 1.1 0.1 1.1 0.1 1.1 0.1 1.1 0 1.1 0.1 1.1 0.1 1.1 0.1 1.2 0.1 1.1 0 1.1 0.1 1.1 0.1 1.1 0.1 1.1 0.1 1.1 0.1 1.1 0.1 1.1 0.1 1.1 0.1 1.1 0.1 1.1 0.1 1.1 0.1 1.1 0.1 1.1 0.1 1.2 0.1 1.1 0.1 1.1 0.1 1.1 0.1 1.1 0.1 1.1 0.1 1.1 0.1 1.1 0.1 1.1 0.1 1.1 0.1 1.1 0.1 1.1 0.1 1.1 0.1 1.1 0.1 1.1 0.1 1.1 0.1 1.2 0.1 1.1 0.1 1.1 0.1 1.1 0.1 1.1 0.1 1.1 0.1 1.1 0.1 1.1 0.2 1.1 0.1 1.1 0.1 1.1 0.1 1.1 0.1 1.1 0.1 1.1 0.2 1.1 0.1 1.2 0.1 1.1 0.1 1.1 0.2 1.1 0.1 1.1 0.2 1.1 0.1 1.1 0.1 1.1 0.2 1.1 0.1 1.1 0.2 1.1 0.1 1.1 0.2 1.1 0.2 1.1 0.2 1.1 0.1 1.2 0.2 1.1 0.2 1.1 0.2 1.1 0.2 1.1 0.2 1.1 0.2 1.1 0.2 1.1 0.2 1.1 0.2 1.1 0.2 1.1 0.2 1.1 0.2 1.1 0.3 1.1 0.2 1.1 0.2 1.2 0.2 1.1 0.3 1.1 0.2 1.1 0.2 1.1 0.3 1.1 0.2 1.1 0.3 1.1 0.2 1.1 0.2 1.1 0.3 1.1 0.2 1.1 0.3 1.1 0.2 1.1 0.3 1.1 0.2 1.2 0.2 1.1 0.3 1.1 0.2 1.1 0.3 1.1 0.2 1.1 0.3 1.1 0.2 1.1 0.3 1.1 0.2 1.1 0.2 1.1 0.3 1.1 0.2 1.1 0.3 1.1 0.2 1.1 0.3 1.1 0.2 1.2 0.3 1.1 0.2 1.1 0.3 1.1 0.2 1.1 0.3 1.1 0.2 1.1 0.3 1.1 0.3 1.1 0.2 1.1 0.3 1.1 0.3 1.1 0.2 1.1 0.3 1.1 0.3 1.1 0.3 1.2 0.3 1.1 0.2 1.1 0.3 1.1 0.3 1.1 0.3 1.1 0.3 1.1 0.4 1.1 0.3 1.1 0.3 1.1 0.3 1.1 0.3 1.1 0.4 1.1 0.3 1.1 0.3 1.1 0.4 1.2 0.3 1.1 0.4 1.1 0.4 1.1 0.3 1.1 0.4 1.1 0.4 1.1 0.4 1.1 0.4 1.1 0.4 1.1 0.5 1.1 0.4 1.1 0.5 1.1 0.4 1.1 0.5 1.1 0.4 1.2 0.5 1.1 0.5 1.1 0.5 1.1 0.5 1.1 0.5 1.1 0.5 1.1 0.5 1.1 0.5 1.1 0.6 1.1 0.5 1.1 0.6 1.1 0.5 1.1 0.6 1.1 0.5 1.1 0.6 1.2 0.6 1.1 0.5 1.1 0.6 1.1 0.6 1.1 0.6 1.1 0.6 1.1 0.6 1.1 0.6 1.1 0.6 1.1 0.6 1.1 0.7 1.1 0.6 1.1 0.7 1.1 0.7 1.1 0.7 1.1 0.7 1.2 0.8 1.1 0.7 1.1 0.8 1.1 0.9 1.1 0.9 1.1 0.9 1.1 0.9 1.1 1 1.1 1.2 1.1 1.1 1.1 1.3 1.1 1.3 1.1 1.4 1.1 1.4 1.1 1.5 1.2 1.6 1.1 1.5 1.1 1.6 1.1 1.7 1.1 1.6 1.1 1.7 1.1 1.6 1.1 1.7 1.1 1.7 1.1 1.6 1.1 1.6 1.1 1.7 1.1 1.5 1.1 1.6 1.1 1.6 1.2 1.7 1.1 1.7 1.1 1.7 1.1 1.9 1.1 1.8 1.1 1.8 1.1 1.9 1.1 1.8 1.1 1.9 1.1 1.8 1.1 1.7 1.1 1.8 1.1 1.6 1.1 1.6 1.1 1.5 1.2 1.4 1.1 1.3 1.1 1.2 1.1 1 1.1 0.9 1.1 0.9 1.1 0.8 1.1 0.7 1.1 0.8 1.1 0.7 1.1 0.7 1.1 0.7 1.1 0.6 1.1 0.6 1.1 0.6 1.2 0.5 1.1 0.4 1.1 0.4 1.1 0.4 1.1 0.3 1.1 0.3 1.1 0.2 1.1 0.2 1.1 0.1 1.1 0.2 1.1 0.2 1.1 0.1 1.1 0.2 1.1 0.1 1.1 0.1 1.1 0.2 1.2 0.1 1.1 0.1 1.1 0.1 1.1 0.1 1.1 0.1 1.1 0.1 1.1 0 1.1 0.1 1.1 0.1 1.1 0 1.1 0.1 1.1 0 1.1 0 1.1 0.1 1.1 0 1.2 0 1.1 0 1.1 0.1 1.1 0 1.1 0 1.1 0 1.1 0 1.1 0 1.1 0.1 1.1 0 1.1 0 1.1 0 1.1 0 1.1 0 1.1 0 1.2 0 1.1 0 1.1 0 1.1 0 1.1 0 1.1 0 1.1 0 1.1 0 1.1 0 1.1 0.1 1.1 0 1.1 0 1.1 0 1.1 0 1.1 0 1.2 0 1.1 0.1 1.1 0 1.1 0 1.1 0.1 1.1 0 1.1 0.1 1.1 0.1 1.1 0.1 1.1 0.1 1.1 0.2 1.1 0.1 1.1 0.2 1.1 0.1 1.1 0.2 1.2 0.2 1.1 0.2 1.1 0.2 1.1 0.2 1.1 0.2 1.1 0.2 1.1 0.2 1.1 0.2 1.1 0.3 1.1 0.2 1.1 0.2 1.1 0.2 1.1 0.2 1.1 0.3 1.1 0.2 1.1 0.2 1.2 0.2 1.1 0.2 1.1 0.2 1.1 0.1 1.1 0.2 1.1 0.1 1.1 0.2 1.1 0.1 1.1 0.2 1.1 0.1 1.1 0.1 1.1 0 1.1 0.1 1.1 0 1.1 0 1.2 0 1.1-0.1 1.1-0.1 1.1-0.2 1.1-0.2 1.1-0.3 1.1-0.4 1.1-0.4 1.1-0.5 1.1-0.5 1.1-0.7 1.1-0.8 1.1-0.9 1.1-1 1.1-1.1 1.2-1.2 1.1-1.4 1.1-1.5 1.1-1.7 1.1-1.8 1.1-1.9 1.1-2.2 1.1-2.2 1.1-2.5 1.1-2.6 1.1-2.8 1.1-2.9 1.1-3.1 1.1-3.2 1.1-3.4 1.2-3.5 1.1-3.6 1.1-3.7 1.1-3.8 1.1-3.9 1.1-3.9 1.1-3.9 1.1-4 1.1-3.9 1.1-3.9 1.1-3.9 1.1-3.7 1.1-3.6 1.1-3.5 1.1-3.2 1.2-3.1 1.1-2.8 1.1-2.6 1.1-2.2 1.1-1.9 1.1-1.6 1.1-1.1 1.1-0.8 1.1-0.4 1.1 0.1 1.1 0.5 1.1 0.9 1.1 1.4 1.1 1.8 1.1 2.2 1.1 2.6 1.2 3 1.1 3.4 1.1 3.7 1.1 4 1.1 4.3 1.1 4.5 1.1 4.8 1.1 4.9 1.1 5.1 1.1 5.2 1.1 5.4 1.1 5.4 1.1 5.5 1.1 5.5 1.1 5.5 1.2 5.5 1.1 5.5 1.1 5.4 1.1 5.4 1.1 5.2 1.1 5.1 1.1 5 1.1 4.9 1.1 4.8 1.1 4.5 1.1 4.5 1.1 4.2 1.1 4.1 1.1 4 1.1 3.8 1.2 3.6 1.1 3.4 1.1 3.3 1.1 3.2 1.1 3 1.1 2.8 1.1 2.7 1.1 2.6 1.1 2.4 1.1 2.4 1.1 2.2 1.1 2.1 1.1 2 1.1 1.9 1.1 1.8 1.2 1.7 1.1 1.7 1.1 1.5 1.1 1.5 1.1 1.5 1.1 1.4 1.1 1.4 1.1 1.4 1.1 1.3 1.1 1.3 1.1 1.3 1.1 1.3 1.1 1.2 1.1 1.3 1.1 1.2 1.2 1.2 1.1 1.2 1.1 1.1 1.1 1.1 1.1 1.2 1.1 1 1.1 1.1 1.1 1.1 1.1 1 1.1 1 1.1 0.9 1.1 0.9 1.1 0.9 1.1 0.9 1.1 0.8 1.1 0.8 1.2 0.7 1.1 0.7 1.1 0.7 1.1 0.6 1.1 0.6 1.1 0.6 1.1 0.5 1.1 0.6 1.1 0.5 1.1 0.5 1.1 0.5 1.1 0.5 1.1 0.4 1.1 0.5 1.1 0.4 1.2 0.4 1.1 0.4 1.1 0.5 1.1 0.4 1.1 0.4 1.1 0.3 1.1 0.4 1.1 0.4 1.1 0.4 1.1 0.3 1.1 0.4 1.1 0.4 1.1 0.4 1.1 0.3 1.1 0.4 1.2 0.4 1.1 0.3 1.1 0.4 1.1 0.4 1.1 0.4 1.1 0.4 1.1 0.4 1.1 0.4" fill="none" stroke="#739334" stroke-width="3.4" stroke-linejoin="round"/>
<path d="M1207.5 301l1.1 0 1.1 0.1 1.1 0 1.1 0 1.1 0 1.1 0.1 1.1 0 1.2 0 1.1 0 1.1 0.1 1.1 0 1.1 0 1.1 0 1.1 0 1.1 0.1 1.1 0 1.1 0 1.1 0 1.1 0.1 1.1 0 1.1 0 1.1 0 1.2 0 1.1 0.1 1.1 0 1.1 0 1.1 0 1.1 0 1.1 0 1.1 0.1 1.1 0 1.1 0 1.1 0 1.1 0 1.1 0.1 1.1 0 1.1 0 1.2 0 1.1 0 1.1 0.1 1.1 0 1.1 0 1.1 0 1.1 0.1 1.1 0 1.1 0 1.1 0 1.1 0 1.1 0.1 1.1 0 1.1 0 1.1 0 1.1 0.1 1.2 0 1.1 0 1.1 0.1 1.1 0 1.1 0 1.1 0.1 1.1 0 1.1 0 1.1 0.1 1.1 0 1.1 0 1.1 0.1 1.1 0 1.1 0 1.1 0.1 1.2 0 1.1 0.1 1.1 0 1.1 0.1 1.1 0 1.1 0.1 1.1 0 1.1 0.1 1.1 0 1.1 0.1 1.1 0 1.1 0.1 1.1 0 1.1 0.1 1.1 0.1 1.2 0 1.1 0.1 1.1 0.1 1.1 0.1 1.1 0.2 1.1 0.1 1.1 0.2 1.1 0.2 1.1 0.2 1.1 0.2 1.1 0.3 1.1 0.2 1.1 0.3 1.1 0.3 1.1 0.3 1.2 0.3 1.1 0.3 1.1 0.3 1.1 0.3 1.1 0.3 1.1 0.4 1.1 0.4 1.1 0.4 1.1 0.5 1.1 0.5 1.1 0.6 1.1 0.6 1.1 0.7 1.1 0.6 1.1 0.7 1.2 0.7 1.1 0.7 1.1 0.7 1.1 0.7 1.1 0.8 1.1 0.7 1.1 0.7 1.1 0.7 1.1 0.8 1.1 0.9 1.1 0.8 1.1 1 1.1 0.9 1.1 0.9 1.1 0.9 1.1 0.9 1.2 0.9 1.1 0.8 1.1 0.8 1.1 0.8 1.1 0.6 1.1 0.6 1.1 0.5 1.1 0.4 1.1 0.5 1.1 0.4 1.1 0.4 1.1 0.3 1.1 0.4 1.1 0.4 1.1 0.3 1.2 0.3 1.1 0.3 1.1 0.3 1.1 0.3 1.1 0.3 1.1 0.2 1.1 0.3 1.1 0.2 1.1 0.2 1.1 0.2 1.1 0.1 1.1 0.2 1.1 0.2 1.1 0.1 1.1 0.1 1.2 0.2 1.1 0.1 1.1 0.1 1.1 0.1 1.1 0.1 1.1 0.1 1.1 0.1 1.1 0.1 1.1 0.1 1.1 0.1 1.1 0.1 1.1 0.1 1.1 0.1 1.1 0.1 1.1 0 1.2 0.1 1.1 0.1 1.1 0.1 1.1 0.1 1.1 0.1 1.1 0 1.1 0.1 1.1 0.1 1.1 0.1 1.1 0.1 1.1 0.1 1.1 0.1 1.1 0.1 1.1 0.1 1.1 0.1 1.2 0.1 1.1 0.1 1.1 0.1 1.1 0.1 1.1 0.1 1.1 0.1 1.1 0.1 1.1 0.1 1.1 0.1 1.1 0.1 1.1 0.1 1.1 0.1 1.1 0.2 1.1 0.1 1.1 0.1 1.1 0.1 1.2 0.1 1.1 0.1 1.1 0.1 1.1 0.1 1.1 0.1 1.1 0.1 1.1 0.1 1.1 0.1 1.1 0.1 1.1 0.2 1.1 0.1 1.1 0.1 1.1 0.1 1.1 0.1 1.1 0.2 1.2 0.1 1.1 0.1 1.1 0.2 1.1 0.1 1.1 0.1 1.1 0.2 1.1 0.1 1.1 0.2 1.1 0.1 1.1 0.2 1.1 0.1 1.1 0.2 1.1 0.2 1.1 0.1 1.1 0.2 1.2 0.2 1.1 0.2 1.1 0.2 1.1 0.2 1.1 0.2 1.1 0.2 1.1 0.2 1.1 0.2 1.1 0.2 1.1 0.2 1.1 0.2 1.1 0.2 1.1 0.3 1.1 0.2 1.1 0.2 1.2 0.2 1.1 0.3 1.1 0.2 1.1 0.2 1.1 0.3 1.1 0.2 1.1 0.2 1.1 0.3 1.1 0.2 1.1 0.3 1.1 0.2 1.1 0.3 1.1 0.2 1.1 0.2 1.1 0.3 1.2 0.2 1.1 0.3 1.1 0.2 1.1 0.3 1.1 0.2 1.1 0.3 1.1 0.2 1.1 0.3 1.1 0.2 1.1 0.2 1.1 0.3 1.1 0.2 1.1 0.3 1.1 0.2 1.1 0.3 1.1 0.2 1.2 0.3 1.1 0.2 1.1 0.3 1.1 0.2 1.1 0.3 1.1 0.3 1.1 0.2 1.1 0.3 1.1 0.2 1.1 0.3 1.1 0.3 1.1 0.3 1.1 0.2 1.1 0.3 1.1 0.3 1.2 0.3 1.1 0.3 1.1 0.3 1.1 0.3 1.1 0.3 1.1 0.3 1.1 0.3 1.1 0.3 1.1 0.3 1.1 0.3 1.1 0.4 1.1 0.3 1.1 0.3 1.1 0.4 1.1 0.3 1.2 0.4 1.1 0.3 1.1 0.4 1.1 0.4 1.1 0.4 1.1 0.4 1.1 0.4 1.1 0.4 1.1 0.4 1.1 0.4 1.1 0.5 1.1 0.4 1.1 0.5 1.1 0.4 1.1 0.5 1.2 0.5 1.1 0.4 1.1 0.5 1.1 0.5 1.1 0.5 1.1 0.6 1.1 0.5 1.1 0.5 1.1 0.5 1.1 0.6 1.1 0.5 1.1 0.6 1.1 0.5 1.1 0.6 1.1 0.6 1.2 0.5 1.1 0.6 1.1 0.6 1.1 0.6 1.1 0.6 1.1 0.6 1.1 0.6 1.1 0.6 1.1 0.6 1.1 0.6 1.1 0.7 1.1 0.6 1.1 0.7 1.1 0.7 1.1 0.7 1.1 0.7 1.2 0.8 1.1 0.7 1.1 0.8 1.1 0.9 1.1 0.9 1.1 0.9 1.1 0.9 1.1 1.1 1.1 1.1 1.1 1.2 1.1 1.2 1.1 1.3 1.1 1.4 1.1 1.5 1.1 1.5 1.2 1.5 1.1 1.6 1.1 1.6 1.1 1.6 1.1 1.6 1.1 1.7 1.1 1.7 1.1 1.6 1.1 1.7 1.1 1.7 1.1 1.6 1.1 1.6 1.1 1.6 1.1 1.6 1.1 1.6 1.2 1.6 1.1 1.7 1.1 1.8 1.1 1.8 1.1 1.9 1.1 1.8 1.1 1.9 1.1 1.8 1.1 1.9 1.1 1.8 1.1 1.7 1.1 1.8 1.1 1.6 1.1 1.6 1.1 1.5 1.2 1.4 1.1 1.3 1.1 1.2 1.1 1 1.1 1 1.1 0.8 1.1 0.8 1.1 0.8 1.1 0.7 1.1 0.8 1.1 0.7 1.1 0.6 1.1 0.7 1.1 0.6 1.1 0.5 1.2 0.5 1.1 0.5 1.1 0.4 1.1 0.4 1.1 0.3 1.1 0.3 1.1 0.2 1.1 0.2 1.1 0.2 1.1 0.1 1.1 0.2 1.1 0.2 1.1 0.1 1.1 0.2 1.1 0.1 1.1 0.1 1.2 0.1 1.1 0.2 1.1 0.1 1.1 0.1 1.1 0.1 1.1 0 1.1 0.1 1.1 0.1 1.1 0.1 1.1 0 1.1 0.1 1.1 0 1.1 0.1 1.1 0 1.1 0.1 1.2 0 1.1 0 1.1 0.1 1.1 0 1.1 0 1.1 0 1.1 0.1 1.1 0 1.1 0 1.1 0 1.1 0 1.1 0.1 1.1 0 1.1 0 1.1 0 1.2 0 1.1 0 1.1 0.1 1.1 0 1.1 0 1.1 0 1.1 0 1.1 0.1 1.1 0 1.1 0 1.1 0 1.1 0.1 1.1 0 1.1 0 1.1 0.1 1.2 0 1.1 0 1.1 0.1 1.1 0 1.1 0.1 1.1 0.1 1.1 0.1 1.1 0.1 1.1 0.2 1.1 0.1 1.1 0.2 1.1 0.1 1.1 0.2 1.1 0.2 1.1 0.2 1.2 0.2 1.1 0.2 1.1 0.3 1.1 0.2 1.1 0.2 1.1 0.3 1.1 0.2 1.1 0.3 1.1 0.3 1.1 0.2 1.1 0.3 1.1 0.3 1.1 0.3 1.1 0.2 1.1 0.3 1.1 0.3 1.2 0.3 1.1 0.2 1.1 0.3 1.1 0.3 1.1 0.3 1.1 0.2 1.1 0.3 1.1 0.3 1.1 0.3 1.1 0.3 1.1 0.3 1.1 0.3 1.1 0.4 1.1 0.3 1.1 0.3 1.2 0.3 1.1 0.4 1.1 0.3 1.1 0.4 1.1 0.3 1.1 0.4 1.1 0.4 1.1 0.3 1.1 0.4 1.1 0.4 1.1 0.4 1.1 0.4 1.1 0.4 1.1 0.4 1.1 0.4 1.2 0.4 1.1 0.4 1.1 0.4 1.1 0.5 1.1 0.4 1.1 0.5 1.1 0.4 1.1 0.5 1.1 0.4 1.1 0.5 1.1 0.5 1.1 0.4 1.1 0.5 1.1 0.5 1.1 0.5 1.2 0.5 1.1 0.5 1.1 0.6 1.1 0.5 1.1 0.6 1.1 0.5 1.1 0.6 1.1 0.6 1.1 0.6 1.1 0.6 1.1 0.7 1.1 0.6 1.1 0.7 1.1 0.6 1.1 0.7 1.2 0.7 1.1 0.6 1.1 0.7 1.1 0.7 1.1 0.8 1.1 0.7 1.1 0.7 1.1 0.7 1.1 0.8 1.1 0.7 1.1 0.8 1.1 0.7 1.1 0.8 1.1 0.8 1.1 0.8 1.1 0.7 1.2 0.8 1.1 0.8 1.1 0.8 1.1 0.8 1.1 0.8 1.1 0.7 1.1 0.8 1.1 0.8 1.1 0.8 1.1 0.8 1.1 0.8 1.1 0.7 1.1 0.8 1.1 0.8 1.1 0.8 1.2 0.7 1.1 0.7 1.1 0.6 1.1 0.5 1.1 0.3 1.1 0.3 1.1 0 1.1-0.2 1.1-0.6 1.1-0.8 1.1-1.3 1.1-1.7 1.1-2.2 1.1-2.7 1.1-3.3 1.2-3.8 1.1-4.4 1.1-5 1.1-5.5 1.1-5.9 1.1-6.2 1.1-6.4 1.1-6.5 1.1-6.3 1.1-6 1.1-5.4 1.1-4.6 1.1-3.7 1.1-2.5 1.1-1.2 1.2 0.3 1.1 1.7 1.1 3.1 1.1 4.5 1.1 5.7 1.1 6.7 1.1 7.5 1.1 8.1 1.1 8.4 1.1 8.7 1.1 8.6 1.1 8.5 1.1 8.2 1.1 7.7 1.1 7.2 1.2 6.7 1.1 6.2 1.1 5.5 1.1 4.9 1.1 4.4 1.1 3.9 1.1 3.4 1.1 3 1.1 2.6 1.1 2.3 1.1 2 1.1 1.7 1.1 1.6 1.1 1.4 1.1 1.2 1.1 1.1 1.2 1 1.1 0.9 1.1 0.8 1.1 0.7 1.1 0.7 1.1 0.6 1.1 0.6 1.1 0.6 1.1 0.6 1.1 0.5 1.1 0.6 1.1 0.5 1.1 0.4 1.1 0.5 1.1 0.5 1.2 0.4 1.1 0.5 1.1 0.4 1.1 0.4 1.1 0.4 1.1 0.4 1.1 0.4 1.1 0.4 1.1 0.4 1.1 0.3 1.1 0.4 1.1 0.4 1.1 0.4 1.1 0.3 1.1 0.4 1.2 0.4 1.1 0.4 1.1 0.3 1.1 0.4 1.1 0.4 1.1 0.4 1.1 0.4 1.1 0.5" fill="none" stroke="#739334" stroke-width="3.4" stroke-linejoin="round"/>
<path d="M1207.5 300.4l1.1 0 1.1 0 1.1 0 1.1 0.1 1.1 0 1.1 0 1.1 0 1.2 0 1.1 0 1.1 0 1.1 0.1 1.1 0 1.1 0 1.1 0 1.1 0 1.1 0 1.1 0 1.1 0 1.1 0 1.1 0 1.1 0 1.1 0 1.2 0 1.1 0 1.1 0 1.1 0 1.1 0 1.1 0 1.1 0 1.1 0 1.1 0 1.1 0 1.1 0 1.1 0 1.1 0 1.1 0 1.1 0 1.2 0 1.1 0 1.1 0 1.1 0 1.1 0 1.1 0 1.1-0.1 1.1 0 1.1 0 1.1 0 1.1 0 1.1 0 1.1 0 1.1 0 1.1-0.1 1.1 0 1.2 0 1.1 0 1.1 0 1.1-0.1 1.1 0 1.1 0 1.1 0 1.1-0.1 1.1 0 1.1 0 1.1-0.1 1.1 0 1.1-0.1 1.1 0 1.1-0.1 1.2 0 1.1-0.1 1.1-0.1 1.1-0.1 1.1-0.1 1.1-0.2 1.1-0.1 1.1-0.2 1.1-0.2 1.1-0.3 1.1-0.3 1.1-0.3 1.1-0.5 1.1-0.5 1.1-0.5 1.2-0.7 1.1-0.8 1.1-0.8 1.1-1 1.1-1.1 1.1-1.3 1.1-1.5 1.1-1.7 1.1-1.9 1.1-2.2 1.1-2.5 1.1-2.7 1.1-3.1 1.1-3.4 1.1-3.8 1.2-4.2 1.1-4.6 1.1-5 1.1-5.4 1.1-5.8 1.1-6.1 1.1-6.6 1.1-6.8 1.1-7.2 1.1-7.4 1.1-7.7 1.1-7.9 1.1-8 1.1-8 1.1-8.1 1.2-8 1.1-7.8 1.1-7.6 1.1-7.3 1.1-6.9 1.1-6.3 1.1-5.8 1.1-5 1.1-4.1 1.1-3.3 1.1-2.2 1.1-1.2 1.1-0.1 1.1 0.9 1.1 2 1.1 3 1.2 4 1.1 4.9 1.1 5.7 1.1 6.5 1.1 7.1 1.1 7.6 1.1 8.1 1.1 8.5 1.1 8.7 1.1 9 1.1 9.1 1.1 9.1 1.1 9.1 1.1 9 1.1 8.8 1.2 8.5 1.1 8.3 1.1 8 1.1 7.5 1.1 7.2 1.1 6.8 1.1 6.4 1.1 5.9 1.1 5.5 1.1 5.1 1.1 4.6 1.1 4.3 1.1 3.8 1.1 3.5 1.1 3.2 1.2 2.8 1.1 2.5 1.1 2.3 1.1 2 1.1 1.8 1.1 1.5 1.1 1.4 1.1 1.2 1.1 1.1 1.1 0.9 1.1 0.8 1.1 0.7 1.1 0.7 1.1 0.5 1.1 0.5 1.2 0.5 1.1 0.4 1.1 0.3 1.1 0.3 1.1 0.3 1.1 0.3 1.1 0.3 1.1 0.2 1.1 0.2 1.1 0.2 1.1 0.3 1.1 0.2 1.1 0.2 1.1 0.1 1.1 0.2 1.2 0.2 1.1 0.2 1.1 0.2 1.1 0.1 1.1 0.2 1.1 0.1 1.1 0.2 1.1 0.1 1.1 0.2 1.1 0.1 1.1 0.2 1.1 0.1 1.1 0.2 1.1 0.1 1.1 0.2 1.1 0.1 1.2 0.2 1.1 0.1 1.1 0.1 1.1 0.2 1.1 0.1 1.1 0.2 1.1 0.1 1.1 0.1 1.1 0.2 1.1 0.1 1.1 0.2 1.1 0.1 1.1 0.2 1.1 0.1 1.1 0.2 1.2 0.1 1.1 0.2 1.1 0.1 1.1 0.2 1.1 0.1 1.1 0.2 1.1 0.2 1.1 0.1 1.1 0.2 1.1 0.2 1.1 0.1 1.1 0.2 1.1 0.2 1.1 0.2 1.1 0.2 1.2 0.2 1.1 0.2 1.1 0.2 1.1 0.2 1.1 0.2 1.1 0.2 1.1 0.2 1.1 0.3 1.1 0.2 1.1 0.2 1.1 0.2 1.1 0.3 1.1 0.2 1.1 0.2 1.1 0.3 1.2 0.2 1.1 0.3 1.1 0.2 1.1 0.2 1.1 0.3 1.1 0.2 1.1 0.3 1.1 0.2 1.1 0.3 1.1 0.2 1.1 0.3 1.1 0.2 1.1 0.3 1.1 0.2 1.1 0.3 1.2 0.2 1.1 0.3 1.1 0.3 1.1 0.2 1.1 0.3 1.1 0.2 1.1 0.3 1.1 0.2 1.1 0.3 1.1 0.2 1.1 0.3 1.1 0.2 1.1 0.3 1.1 0.2 1.1 0.3 1.1 0.2 1.2 0.3 1.1 0.2 1.1 0.3 1.1 0.3 1.1 0.2 1.1 0.3 1.1 0.3 1.1 0.2 1.1 0.3 1.1 0.3 1.1 0.2 1.1 0.3 1.1 0.3 1.1 0.3 1.1 0.3 1.2 0.3 1.1 0.3 1.1 0.2 1.1 0.4 1.1 0.3 1.1 0.3 1.1 0.3 1.1 0.3 1.1 0.3 1.1 0.3 1.1 0.4 1.1 0.3 1.1 0.4 1.1 0.3 1.1 0.3 1.2 0.4 1.1 0.4 1.1 0.3 1.1 0.4 1.1 0.4 1.1 0.4 1.1 0.4 1.1 0.4 1.1 0.4 1.1 0.5 1.1 0.4 1.1 0.5 1.1 0.4 1.1 0.5 1.1 0.5 1.2 0.4 1.1 0.5 1.1 0.5 1.1 0.5 1.1 0.5 1.1 0.5 1.1 0.6 1.1 0.5 1.1 0.5 1.1 0.6 1.1 0.5 1.1 0.6 1.1 0.5 1.1 0.6 1.1 0.6 1.2 0.5 1.1 0.6 1.1 0.6 1.1 0.6 1.1 0.6 1.1 0.6 1.1 0.6 1.1 0.6 1.1 0.6 1.1 0.6 1.1 0.7 1.1 0.6 1.1 0.7 1.1 0.7 1.1 0.7 1.1 0.7 1.2 0.8 1.1 0.8 1.1 0.8 1.1 0.8 1.1 0.9 1.1 0.9 1.1 1 1.1 1 1.1 1.1 1.1 1.2 1.1 1.3 1.1 1.3 1.1 1.4 1.1 1.4 1.1 1.5 1.2 1.6 1.1 1.5 1.1 1.6 1.1 1.7 1.1 1.6 1.1 1.7 1.1 1.6 1.1 1.7 1.1 1.7 1.1 1.6 1.1 1.7 1.1 1.6 1.1 1.6 1.1 1.5 1.1 1.6 1.2 1.7 1.1 1.7 1.1 1.8 1.1 1.8 1.1 1.9 1.1 1.8 1.1 1.9 1.1 1.8 1.1 1.9 1.1 1.8 1.1 1.7 1.1 1.8 1.1 1.6 1.1 1.6 1.1 1.5 1.2 1.4 1.1 1.3 1.1 1.2 1.1 1.1 1.1 0.9 1.1 0.8 1.1 0.8 1.1 0.8 1.1 0.8 1.1 0.7 1.1 0.7 1.1 0.7 1.1 0.6 1.1 0.6 1.1 0.6 1.2 0.5 1.1 0.4 1.1 0.5 1.1 0.3 1.1 0.3 1.1 0.3 1.1 0.2 1.1 0.2 1.1 0.2 1.1 0.2 1.1 0.1 1.1 0.2 1.1 0.2 1.1 0.1 1.1 0.1 1.1 0.2 1.2 0.1 1.1 0.1 1.1 0.1 1.1 0.1 1.1 0.1 1.1 0.1 1.1 0.1 1.1 0.1 1.1 0 1.1 0.1 1.1 0 1.1 0.1 1.1 0 1.1 0.1 1.1 0 1.2 0.1 1.1 0 1.1 0 1.1 0.1 1.1 0 1.1 0 1.1 0 1.1 0.1 1.1 0 1.1 0 1.1 0 1.1 0 1.1 0.1 1.1 0 1.1 0 1.2 0 1.1 0 1.1 0.1 1.1 0 1.1 0 1.1 0 1.1 0 1.1 0.1 1.1 0 1.1 0 1.1 0 1.1 0.1 1.1 0 1.1 0 1.1 0.1 1.2 0 1.1 0.1 1.1 0 1.1 0.1 1.1 0 1.1 0.1 1.1 0.1 1.1 0.1 1.1 0.2 1.1 0.1 1.1 0.2 1.1 0.2 1.1 0.1 1.1 0.2 1.1 0.2 1.2 0.2 1.1 0.3 1.1 0.2 1.1 0.2 1.1 0.3 1.1 0.2 1.1 0.3 1.1 0.3 1.1 0.2 1.1 0.3 1.1 0.3 1.1 0.2 1.1 0.3 1.1 0.3 1.1 0.3 1.1 0.3 1.2 0.2 1.1 0.3 1.1 0.3 1.1 0.3 1.1 0.3 1.1 0.2 1.1 0.3 1.1 0.3 1.1 0.3 1.1 0.3 1.1 0.3 1.1 0.3 1.1 0.4 1.1 0.3 1.1 0.3 1.2 0.4 1.1 0.3 1.1 0.4 1.1 0.3 1.1 0.4 1.1 0.3 1.1 0.4 1.1 0.4 1.1 0.4 1.1 0.3 1.1 0.4 1.1 0.4 1.1 0.4 1.1 0.5 1.1 0.4 1.2 0.4 1.1 0.4 1.1 0.4 1.1 0.5 1.1 0.4 1.1 0.5 1.1 0.4 1.1 0.5 1.1 0.5 1.1 0.4 1.1 0.5 1.1 0.5 1.1 0.5 1.1 0.5 1.1 0.5 1.2 0.5 1.1 0.5 1.1 0.6 1.1 0.5 1.1 0.6 1.1 0.6 1.1 0.6 1.1 0.6 1.1 0.6 1.1 0.6 1.1 0.7 1.1 0.6 1.1 0.7 1.1 0.7 1.1 0.7 1.2 0.7 1.1 0.7 1.1 0.7 1.1 0.7 1.1 0.7 1.1 0.8 1.1 0.7 1.1 0.8 1.1 0.8 1.1 0.7 1.1 0.8 1.1 0.8 1.1 0.8 1.1 0.8 1.1 0.8 1.1 0.8 1.2 0.9 1.1 0.8 1.1 0.8 1.1 0.9 1.1 0.8 1.1 0.8 1.1 0.9 1.1 0.8 1.1 0.9 1.1 0.9 1.1 0.9 1.1 0.9 1.1 0.9 1.1 1 1.1 1 1.2 1 1.1 1 1.1 1 1.1 1.1 1.1 1 1.1 1.1 1.1 1.1 1.1 1.1 1.1 1.1 1.1 1.1 1.1 1.1 1.1 1.2 1.1 1.1 1.1 1.1 1.1 1.2 1.2 1.1 1.1 1.2 1.1 1.1 1.1 1.2 1.1 1.1 1.1 1.2 1.1 1.1 1.1 1.2 1.1 1.1 1.1 1.1 1.1 1.1 1.1 1.1 1.1 1.1 1.1 1.1 1.1 1.1 1.2 1 1.1 1.1 1.1 1 1.1 1 1.1 1 1.1 1.1 1.1 1 1.1 1.1 1.1 1 1.1 1.1 1.1 1.1 1.1 1 1.1 1.1 1.1 1.1 1.1 1.1 1.2 1 1.1 1.1 1.1 1 1.1 1.1 1.1 1 1.1 1 1.1 1 1.1 1 1.1 0.9 1.1 0.9 1.1 0.9 1.1 0.9 1.1 0.8 1.1 0.9 1.1 0.7 1.1 0.8 1.2 0.7 1.1 0.7 1.1 0.6 1.1 0.6 1.1 0.5 1.1 0.6 1.1 0.5 1.1 0.5 1.1 0.5 1.1 0.5 1.1 0.4 1.1 0.5 1.1 0.4 1.1 0.4 1.1 0.4 1.2 0.4 1.1 0.4 1.1 0.4 1.1 0.4 1.1 0.4 1.1 0.3 1.1 0.4 1.1 0.4 1.1 0.3 1.1 0.4 1.1 0.3 1.1 0.4 1.1 0.3 1.1 0.4 1.1 0.3 1.2 0.4 1.1 0.4 1.1 0.3 1.1 0.4 1.1 0.4 1.1 0.4 1.1 0.4 1.1 0.4" fill="none" stroke="#ff6b63" stroke-width="3.4" stroke-linejoin="round"/>
<path d="M1207.5 300.9l1.1 0.1 1.1 0 1.1 0 1.1 0 1.1 0.1 1.1 0 1.1 0 1.2 0 1.1 0.1 1.1 0 1.1 0 1.1 0 1.1 0.1 1.1 0 1.1 0 1.1 0 1.1 0 1.1 0.1 1.1 0 1.1 0 1.1 0 1.1 0 1.2 0.1 1.1 0 1.1 0 1.1 0 1.1 0 1.1 0 1.1 0.1 1.1 0 1.1 0 1.1 0 1.1 0 1.1 0.1 1.1 0 1.1 0 1.1 0 1.2 0 1.1 0.1 1.1 0 1.1 0 1.1 0 1.1 0 1.1 0.1 1.1 0 1.1 0 1.1 0 1.1 0 1.1 0.1 1.1 0 1.1 0 1.1 0 1.1 0.1 1.2 0 1.1 0 1.1 0.1 1.1 0 1.1 0 1.1 0 1.1 0.1 1.1 0 1.1 0 1.1 0.1 1.1 0 1.1 0.1 1.1 0 1.1 0 1.1 0.1 1.2 0 1.1 0.1 1.1 0 1.1 0 1.1 0.1 1.1 0 1.1 0.1 1.1 0 1.1 0.1 1.1 0 1.1 0.1 1.1 0 1.1 0.1 1.1 0.1 1.1 0 1.2 0.1 1.1 0.1 1.1 0.1 1.1 0.1 1.1 0.1 1.1 0.2 1.1 0.2 1.1 0.2 1.1 0.2 1.1 0.2 1.1 0.2 1.1 0.3 1.1 0.2 1.1 0.3 1.1 0.3 1.2 0.3 1.1 0.3 1.1 0.3 1.1 0.3 1.1 0.4 1.1 0.3 1.1 0.4 1.1 0.4 1.1 0.5 1.1 0.6 1.1 0.5 1.1 0.6 1.1 0.7 1.1 0.6 1.1 0.7 1.2 0.7 1.1 0.7 1.1 0.7 1.1 0.7 1.1 0.8 1.1 0.7 1.1 0.7 1.1 0.7 1.1 0.8 1.1 0.8 1.1 0.9 1.1 0.9 1.1 0.9 1.1 1 1.1 0.9 1.1 0.9 1.2 0.8 1.1 0.9 1.1 0.8 1.1 0.7 1.1 0.6 1.1 0.6 1.1 0.5 1.1 0.4 1.1 0.5 1.1 0.4 1.1 0.4 1.1 0.3 1.1 0.4 1.1 0.3 1.1 0.4 1.2 0.3 1.1 0.3 1.1 0.3 1.1 0.3 1.1 0.2 1.1 0.3 1.1 0.2 1.1 0.2 1.1 0.2 1.1 0.2 1.1 0.2 1.1 0.1 1.1 0.2 1.1 0.1 1.1 0.1 1.2 0.1 1.1 0.2 1.1 0.1 1.1 0.1 1.1 0.1 1.1 0.1 1.1 0.1 1.1 0 1.1 0.1 1.1 0.1 1.1 0.1 1.1 0.1 1.1 0 1.1 0.1 1.1 0.1 1.2 0 1.1 0.1 1.1 0.1 1.1 0.1 1.1 0 1.1 0.1 1.1 0.1 1.1 0 1.1 0.1 1.1 0.1 1.1 0.1 1.1 0.1 1.1 0 1.1 0.1 1.1 0.1 1.2 0.1 1.1 0.1 1.1 0 1.1 0.1 1.1 0.1 1.1 0 1.1 0.1 1.1 0 1.1 0.1 1.1 0 1.1 0 1.1 0.1 1.1 0 1.1 0 1.1 0 1.1 0 1.2 0 1.1-0.1 1.1 0 1.1-0.1 1.1-0.1 1.1-0.1 1.1-0.2 1.1-0.2 1.1-0.2 1.1-0.2 1.1-0.3 1.1-0.3 1.1-0.4 1.1-0.4 1.1-0.5 1.2-0.5 1.1-0.6 1.1-0.6 1.1-0.7 1.1-0.8 1.1-0.8 1.1-0.9 1.1-1 1.1-1.1 1.1-1.1 1.1-1.2 1.1-1.3 1.1-1.3 1.1-1.5 1.1-1.5 1.2-1.5 1.1-1.7 1.1-1.7 1.1-1.7 1.1-1.8 1.1-1.8 1.1-1.9 1.1-1.9 1.1-1.8 1.1-1.9 1.1-1.9 1.1-1.8 1.1-1.8 1.1-1.8 1.1-1.6 1.2-1.6 1.1-1.5 1.1-1.4 1.1-1.2 1.1-1.1 1.1-0.9 1.1-0.8 1.1-0.6 1.1-0.4 1.1-0.2 1.1 0 1.1 0.2 1.1 0.4 1.1 0.6 1.1 0.8 1.2 1 1.1 1.2 1.1 1.3 1.1 1.5 1.1 1.7 1.1 1.8 1.1 1.9 1.1 2 1.1 2.1 1.1 2.2 1.1 2.2 1.1 2.3 1.1 2.3 1.1 2.4 1.1 2.3 1.1 2.4 1.2 2.3 1.1 2.3 1.1 2.2 1.1 2.2 1.1 2.2 1.1 2.1 1.1 2.1 1.1 1.9 1.1 1.9 1.1 1.9 1.1 1.7 1.1 1.7 1.1 1.6 1.1 1.5 1.1 1.5 1.2 1.3 1.1 1.3 1.1 1.3 1.1 1.1 1.1 1.1 1.1 1.1 1.1 1 1.1 0.9 1.1 0.9 1.1 0.8 1.1 0.8 1.1 0.7 1.1 0.8 1.1 0.6 1.1 0.7 1.2 0.6 1.1 0.6 1.1 0.6 1.1 0.6 1.1 0.5 1.1 0.6 1.1 0.5 1.1 0.6 1.1 0.5 1.1 0.5 1.1 0.6 1.1 0.5 1.1 0.5 1.1 0.5 1.1 0.6 1.2 0.5 1.1 0.5 1.1 0.5 1.1 0.6 1.1 0.5 1.1 0.6 1.1 0.5 1.1 0.6 1.1 0.5 1.1 0.6 1.1 0.6 1.1 0.5 1.1 0.6 1.1 0.6 1.1 0.6 1.2 0.6 1.1 0.6 1.1 0.6 1.1 0.6 1.1 0.6 1.1 0.6 1.1 0.6 1.1 0.6 1.1 0.7 1.1 0.6 1.1 0.6 1.1 0.7 1.1 0.7 1.1 0.7 1.1 0.7 1.1 0.7 1.2 0.8 1.1 0.8 1.1 0.8 1.1 0.9 1.1 0.8 1.1 1 1.1 0.9 1.1 1.1 1.1 1.1 1.1 1.2 1.1 1.2 1.1 1.4 1.1 1.4 1.1 1.4 1.1 1.5 1.2 1.6 1.1 1.5 1.1 1.6 1.1 1.7 1.1 1.6 1.1 1.7 1.1 1.7 1.1 1.6 1.1 1.7 1.1 1.7 1.1 1.6 1.1 1.6 1.1 1.6 1.1 1.6 1.1 1.6 1.2 1.7 1.1 1.7 1.1 1.8 1.1 1.8 1.1 1.8 1.1 1.9 1.1 1.9 1.1 1.8 1.1 1.8 1.1 1.9 1.1 1.7 1.1 1.7 1.1 1.7 1.1 1.6 1.1 1.5 1.2 1.4 1.1 1.3 1.1 1.2 1.1 1.1 1.1 0.9 1.1 0.8 1.1 0.8 1.1 0.8 1.1 0.8 1.1 0.7 1.1 0.7 1.1 0.7 1.1 0.6 1.1 0.6 1.1 0.6 1.2 0.5 1.1 0.5 1.1 0.4 1.1 0.4 1.1 0.3 1.1 0.2 1.1 0.3 1.1 0.1 1.1 0.2 1.1 0.2 1.1 0.2 1.1 0.1 1.1 0.2 1.1 0.2 1.1 0.1 1.1 0.1 1.2 0.1 1.1 0.2 1.1 0.1 1.1 0.1 1.1 0.1 1.1 0.1 1.1 0 1.1 0.1 1.1 0.1 1.1 0 1.1 0.1 1.1 0.1 1.1 0 1.1 0.1 1.1 0 1.2 0 1.1 0.1 1.1 0 1.1 0 1.1 0.1 1.1 0 1.1 0 1.1 0 1.1 0.1 1.1 0 1.1 0 1.1 0 1.1 0 1.1 0.1 1.1 0 1.2 0 1.1 0 1.1 0 1.1 0 1.1 0.1 1.1 0 1.1 0 1.1 0 1.1 0.1 1.1 0 1.1 0 1.1 0 1.1 0.1 1.1 0 1.1 0.1 1.2 0 1.1 0 1.1 0.1 1.1 0 1.1 0.1 1.1 0.1 1.1 0.1 1.1 0.1 1.1 0.2 1.1 0.1 1.1 0.2 1.1 0.1 1.1 0.2 1.1 0.2 1.1 0.2 1.2 0.2 1.1 0.3 1.1 0.2 1.1 0.2 1.1 0.3 1.1 0.2 1.1 0.3 1.1 0.2 1.1 0.3 1.1 0.3 1.1 0.3 1.1 0.2 1.1 0.3 1.1 0.3 1.1 0.3 1.1 0.3 1.2 0.2 1.1 0.3 1.1 0.3 1.1 0.3 1.1 0.2 1.1 0.3 1.1 0.3 1.1 0.3 1.1 0.3 1.1 0.3 1.1 0.3 1.1 0.3 1.1 0.4 1.1 0.3 1.1 0.3 1.2 0.4 1.1 0.3 1.1 0.3 1.1 0.4 1.1 0.4 1.1 0.3 1.1 0.4 1.1 0.4 1.1 0.4 1.1 0.3 1.1 0.4 1.1 0.4 1.1 0.4 1.1 0.4 1.1 0.5 1.2 0.4 1.1 0.4 1.1 0.4 1.1 0.5 1.1 0.4 1.1 0.5 1.1 0.4 1.1 0.5 1.1 0.5 1.1 0.4 1.1 0.5 1.1 0.5 1.1 0.5 1.1 0.5 1.1 0.5 1.2 0.5 1.1 0.5 1.1 0.6 1.1 0.5 1.1 0.6 1.1 0.6 1.1 0.6 1.1 0.6 1.1 0.6 1.1 0.6 1.1 0.7 1.1 0.6 1.1 0.7 1.1 0.7 1.1 0.7 1.2 0.7 1.1 0.7 1.1 0.7 1.1 0.7 1.1 0.7 1.1 0.8 1.1 0.7 1.1 0.8 1.1 0.8 1.1 0.7 1.1 0.8 1.1 0.8 1.1 0.8 1.1 0.8 1.1 0.8 1.1 0.8 1.2 0.9 1.1 0.8 1.1 0.8 1.1 0.9 1.1 0.8 1.1 0.8 1.1 0.9 1.1 0.8 1.1 0.9 1.1 0.9 1.1 0.9 1.1 0.9 1.1 0.9 1.1 1 1.1 1 1.2 1 1.1 1 1.1 1 1.1 1.1 1.1 1 1.1 1.1 1.1 1.1 1.1 1.1 1.1 1.1 1.1 1.1 1.1 1.1 1.1 1.2 1.1 1.1 1.1 1.1 1.1 1.2 1.2 1.1 1.1 1.2 1.1 1.1 1.1 1.2 1.1 1.1 1.1 1.2 1.1 1.1 1.1 1.2 1.1 1.1 1.1 1.1 1.1 1.1 1.1 1.1 1.1 1.1 1.1 1.1 1.1 1.1 1.2 1 1.1 1.1 1.1 1 1.1 1 1.1 1 1.1 1.1 1.1 1 1.1 1.1 1.1 1 1.1 1.1 1.1 1.1 1.1 1 1.1 1.1 1.1 1.1 1.1 1.1 1.2 1 1.1 1.1 1.1 1 1.1 1.1 1.1 1 1.1 1 1.1 1 1.1 1 1.1 0.9 1.1 0.9 1.1 0.9 1.1 0.9 1.1 0.9 1.1 0.8 1.1 0.7 1.1 0.8 1.2 0.7 1.1 0.7 1.1 0.6 1.1 0.6 1.1 0.5 1.1 0.6 1.1 0.5 1.1 0.5 1.1 0.5 1.1 0.5 1.1 0.4 1.1 0.5 1.1 0.4 1.1 0.4 1.1 0.4 1.2 0.4 1.1 0.4 1.1 0.4 1.1 0.4 1.1 0.4 1.1 0.4 1.1 0.3 1.1 0.4 1.1 0.3 1.1 0.4 1.1 0.3 1.1 0.4 1.1 0.3 1.1 0.4 1.1 0.4 1.2 0.3 1.1 0.4 1.1 0.3 1.1 0.4 1.1 0.4 1.1 0.4 1.1 0.4 1.1 0.4" fill="none" stroke="#ff6b63" stroke-width="3.4" stroke-linejoin="round"/>
<path d="M1207.5 300.9l1.1 0 1.1 0.1 1.1 0 1.1 0 1.1 0 1.1 0.1 1.1 0 1.2 0 1.1 0 1.1 0.1 1.1 0 1.1 0 1.1 0 1.1 0.1 1.1 0 1.1 0 1.1 0 1.1 0 1.1 0.1 1.1 0 1.1 0 1.1 0 1.2 0 1.1 0.1 1.1 0 1.1 0 1.1 0 1.1 0 1.1 0 1.1 0.1 1.1 0 1.1 0 1.1 0 1.1 0 1.1 0.1 1.1 0 1.1 0 1.2 0 1.1 0 1.1 0.1 1.1 0 1.1 0 1.1 0 1.1 0 1.1 0.1 1.1 0 1.1 0 1.1 0 1.1 0.1 1.1 0 1.1 0 1.1 0 1.1 0.1 1.2 0 1.1 0 1.1 0 1.1 0.1 1.1 0 1.1 0 1.1 0.1 1.1 0 1.1 0 1.1 0.1 1.1 0 1.1 0 1.1 0.1 1.1 0 1.1 0.1 1.2 0 1.1 0 1.1 0.1 1.1 0 1.1 0.1 1.1 0 1.1 0.1 1.1 0 1.1 0.1 1.1 0 1.1 0.1 1.1 0 1.1 0.1 1.1 0.1 1.1 0 1.2 0.1 1.1 0.1 1.1 0.1 1.1 0.1 1.1 0.1 1.1 0.2 1.1 0.2 1.1 0.1 1.1 0.3 1.1 0.2 1.1 0.2 1.1 0.3 1.1 0.2 1.1 0.3 1.1 0.3 1.2 0.3 1.1 0.3 1.1 0.3 1.1 0.3 1.1 0.4 1.1 0.3 1.1 0.4 1.1 0.4 1.1 0.5 1.1 0.6 1.1 0.5 1.1 0.6 1.1 0.7 1.1 0.6 1.1 0.7 1.2 0.7 1.1 0.7 1.1 0.7 1.1 0.8 1.1 0.7 1.1 0.7 1.1 0.7 1.1 0.7 1.1 0.8 1.1 0.9 1.1 0.8 1.1 1 1.1 0.9 1.1 0.9 1.1 0.9 1.1 0.9 1.2 0.9 1.1 0.8 1.1 0.8 1.1 0.7 1.1 0.7 1.1 0.6 1.1 0.5 1.1 0.4 1.1 0.4 1.1 0.4 1.1 0.4 1.1 0.4 1.1 0.4 1.1 0.3 1.1 0.4 1.2 0.3 1.1 0.3 1.1 0.3 1.1 0.3 1.1 0.2 1.1 0.3 1.1 0.2 1.1 0.2 1.1 0.2 1.1 0.2 1.1 0.2 1.1 0.1 1.1 0.2 1.1 0.1 1.1 0.2 1.2 0.1 1.1 0.1 1.1 0.1 1.1 0.1 1.1 0.1 1.1 0.1 1.1 0.1 1.1 0.1 1.1 0.1 1.1 0.1 1.1 0.1 1.1 0.1 1.1 0.1 1.1 0 1.1 0.1 1.2 0.1 1.1 0.1 1.1 0.1 1.1 0 1.1 0.1 1.1 0.1 1.1 0.1 1.1 0.1 1.1 0.1 1.1 0.1 1.1 0 1.1 0.1 1.1 0.1 1.1 0.1 1.1 0.1 1.2 0.1 1.1 0.1 1.1 0.1 1.1 0.1 1.1 0.1 1.1 0.1 1.1 0.1 1.1 0.1 1.1 0.1 1.1 0.1 1.1 0.1 1.1 0.1 1.1 0.1 1.1 0.1 1.1 0.1 1.1 0.1 1.2 0.1 1.1 0.1 1.1 0.1 1.1 0.1 1.1 0.1 1.1 0.1 1.1 0.1 1.1 0.1 1.1 0.1 1.1 0.1 1.1 0.1 1.1 0.1 1.1 0.2 1.1 0.1 1.1 0.1 1.2 0.1 1.1 0.1 1.1 0.2 1.1 0.1 1.1 0.1 1.1 0.1 1.1 0.2 1.1 0.1 1.1 0.1 1.1 0.2 1.1 0.1 1.1 0.2 1.1 0.2 1.1 0.1 1.1 0.2 1.2 0.2 1.1 0.1 1.1 0.2 1.1 0.2 1.1 0.2 1.1 0.2 1.1 0.1 1.1 0.2 1.1 0.2 1.1 0.2 1.1 0.2 1.1 0.2 1.1 0.2 1.1 0.3 1.1 0.2 1.2 0.2 1.1 0.2 1.1 0.2 1.1 0.2 1.1 0.2 1.1 0.3 1.1 0.2 1.1 0.2 1.1 0.2 1.1 0.2 1.1 0.3 1.1 0.2 1.1 0.2 1.1 0.2 1.1 0.2 1.2 0.3 1.1 0.2 1.1 0.2 1.1 0.2 1.1 0.2 1.1 0.2 1.1 0.2 1.1 0.3 1.1 0.2 1.1 0.2 1.1 0.2 1.1 0.2 1.1 0.2 1.1 0.2 1.1 0.2 1.1 0.2 1.2 0.2 1.1 0.2 1.1 0.2 1.1 0.2 1.1 0.2 1.1 0.2 1.1 0.2 1.1 0.2 1.1 0.2 1.1 0.2 1.1 0.2 1.1 0.2 1.1 0.2 1.1 0.1 1.1 0.2 1.2 0.2 1.1 0.1 1.1 0.1 1.1 0.2 1.1 0.1 1.1 0.1 1.1 0 1.1 0.1 1.1 0 1.1-0.1 1.1-0.1 1.1-0.1 1.1-0.2 1.1-0.2 1.1-0.4 1.2-0.4 1.1-0.5 1.1-0.6 1.1-0.7 1.1-0.9 1.1-1 1.1-1.2 1.1-1.3 1.1-1.5 1.1-1.7 1.1-2 1.1-2.1 1.1-2.4 1.1-2.7 1.1-2.9 1.2-3.2 1.1-3.5 1.1-3.7 1.1-4.1 1.1-4.3 1.1-4.7 1.1-4.9 1.1-5.2 1.1-5.4 1.1-5.7 1.1-5.9 1.1-6 1.1-6.2 1.1-6.4 1.1-6.4 1.2-6.4 1.1-6.4 1.1-6.4 1.1-6.2 1.1-6 1.1-5.8 1.1-5.5 1.1-5.2 1.1-4.7 1.1-4.2 1.1-3.6 1.1-3.1 1.1-2.4 1.1-1.6 1.1-1 1.1-0.1 1.2 0.6 1.1 1.4 1.1 2.1 1.1 3 1.1 3.7 1.1 4.3 1.1 5 1.1 5.7 1.1 6.2 1.1 6.8 1.1 7.3 1.1 7.6 1.1 7.9 1.1 8.2 1.1 8.4 1.2 8.5 1.1 8.6 1.1 8.6 1.1 8.5 1.1 8.5 1.1 8.3 1.1 8.2 1.1 8 1.1 7.7 1.1 7.4 1.1 7.2 1.1 6.9 1.1 6.6 1.1 6.2 1.1 5.9 1.2 5.8 1.1 5.5 1.1 5.3 1.1 5 1.1 4.8 1.1 4.5 1.1 4.4 1.1 4 1.1 3.9 1.1 3.6 1.1 3.4 1.1 3.2 1.1 2.9 1.1 2.8 1.1 2.5 1.2 2.3 1.1 2.2 1.1 1.9 1.1 1.6 1.1 1.5 1.1 1.3 1.1 1.3 1.1 1.1 1.1 1.1 1.1 1 1.1 1 1.1 0.9 1.1 0.8 1.1 0.8 1.1 0.7 1.2 0.7 1.1 0.6 1.1 0.5 1.1 0.5 1.1 0.4 1.1 0.4 1.1 0.3 1.1 0.2 1.1 0.3 1.1 0.2 1.1 0.3 1.1 0.2 1.1 0.2 1.1 0.2 1.1 0.2 1.1 0.2 1.2 0.2 1.1 0.1 1.1 0.2 1.1 0.1 1.1 0.1 1.1 0.2 1.1 0.1 1.1 0.1 1.1 0.1 1.1 0.1 1.1 0.1 1.1 0.1 1.1 0 1.1 0.1 1.1 0.1 1.2 0 1.1 0.1 1.1 0.1 1.1 0 1.1 0.1 1.1 0 1.1 0.1 1.1 0 1.1 0.1 1.1 0 1.1 0 1.1 0.1 1.1 0 1.1 0.1 1.1 0 1.2 0 1.1 0.1 1.1 0 1.1 0 1.1 0.1 1.1 0 1.1 0 1.1 0.1 1.1 0 1.1 0.1 1.1 0 1.1 0 1.1 0.1 1.1 0 1.1 0.1 1.2 0 1.1 0.1 1.1 0.1 1.1 0 1.1 0.1 1.1 0.1 1.1 0.1 1.1 0.1 1.1 0.2 1.1 0.1 1.1 0.2 1.1 0.2 1.1 0.2 1.1 0.2 1.1 0.2 1.2 0.2 1.1 0.2 1.1 0.3 1.1 0.2 1.1 0.3 1.1 0.2 1.1 0.3 1.1 0.3 1.1 0.3 1.1 0.2 1.1 0.3 1.1 0.3 1.1 0.3 1.1 0.3 1.1 0.3 1.1 0.2 1.2 0.3 1.1 0.3 1.1 0.3 1.1 0.3 1.1 0.3 1.1 0.2 1.1 0.3 1.1 0.3 1.1 0.3 1.1 0.4 1.1 0.3 1.1 0.3 1.1 0.3 1.1 0.3 1.1 0.4 1.2 0.3 1.1 0.4 1.1 0.3 1.1 0.4 1.1 0.3 1.1 0.4 1.1 0.4 1.1 0.4 1.1 0.3 1.1 0.4 1.1 0.4 1.1 0.4 1.1 0.4 1.1 0.5 1.1 0.4 1.2 0.4 1.1 0.4 1.1 0.5 1.1 0.4 1.1 0.5 1.1 0.4 1.1 0.5 1.1 0.4 1.1 0.5 1.1 0.5 1.1 0.5 1.1 0.5 1.1 0.4 1.1 0.5 1.1 0.6 1.2 0.5 1.1 0.5 1.1 0.6 1.1 0.5 1.1 0.6 1.1 0.6 1.1 0.6 1.1 0.6 1.1 0.6 1.1 0.6 1.1 0.7 1.1 0.6 1.1 0.7 1.1 0.7 1.1 0.7 1.2 0.7 1.1 0.7 1.1 0.7 1.1 0.7 1.1 0.7 1.1 0.8 1.1 0.7 1.1 0.8 1.1 0.8 1.1 0.8 1.1 0.7 1.1 0.8 1.1 0.8 1.1 0.8 1.1 0.8 1.1 0.9 1.2 0.8 1.1 0.8 1.1 0.8 1.1 0.9 1.1 0.8 1.1 0.9 1.1 0.8 1.1 0.9 1.1 0.8 1.1 0.9 1.1 0.9 1.1 0.9 1.1 1 1.1 0.9 1.1 1 1.2 1 1.1 1 1.1 1.1 1.1 1 1.1 1.1 1.1 1 1.1 1.1 1.1 1.1 1.1 1.1 1.1 1.2 1.1 1.1 1.1 1.1 1.1 1.2 1.1 1.1 1.1 1.2 1.2 1.1 1.1 1.2 1.1 1.1 1.1 1.2 1.1 1.1 1.1 1.2 1.1 1.1 1.1 1.1 1.1 1.2 1.1 1.1 1.1 1.1 1.1 1.1 1.1 1.1 1.1 1.1 1.1 1.1 1.2 1 1.1 1.1 1.1 1 1.1 1 1.1 1 1.1 1.1 1.1 1 1.1 1.1 1.1 1 1.1 1.1 1.1 1.1 1.1 1 1.1 1.1 1.1 1.1 1.1 1 1.2 1.1 1.1 1.1 1.1 1 1.1 1.1 1.1 1 1.1 1 1.1 1 1.1 1 1.1 0.9 1.1 0.9 1.1 0.9 1.1 0.9 1.1 0.9 1.1 0.8 1.1 0.7 1.1 0.8 1.2 0.7 1.1 0.7 1.1 0.6 1.1 0.6 1.1 0.5 1.1 0.6 1.1 0.5 1.1 0.5 1.1 0.5 1.1 0.5 1.1 0.4 1.1 0.5 1.1 0.4 1.1 0.4 1.1 0.5 1.2 0.4 1.1 0.4 1.1 0.3 1.1 0.4 1.1 0.4 1.1 0.4 1.1 0.3 1.1 0.4 1.1 0.3 1.1 0.4 1.1 0.4 1.1 0.3 1.1 0.4 1.1 0.3 1.1 0.4 1.2 0.3 1.1 0.4 1.1 0.4 1.1 0.3 1.1 0.4 1.1 0.4 1.1 0.4 1.1 0.4" fill="none" stroke="#ff6b63" stroke-width="3.4" stroke-linejoin="round"/>
<path d="M1207.5 301l1.1 0 1.1 0 1.1 0.1 1.1 0 1.1 0 1.1 0 1.1 0.1 1.2 0 1.1 0 1.1 0 1.1 0.1 1.1 0 1.1 0 1.1 0 1.1 0.1 1.1 0 1.1 0 1.1 0 1.1 0 1.1 0.1 1.1 0 1.1 0 1.2 0 1.1 0 1.1 0.1 1.1 0 1.1 0 1.1 0 1.1 0 1.1 0.1 1.1 0 1.1 0 1.1 0 1.1 0 1.1 0 1.1 0.1 1.1 0 1.2 0 1.1 0 1.1 0 1.1 0.1 1.1 0 1.1 0 1.1 0 1.1 0.1 1.1 0 1.1 0 1.1 0 1.1 0.1 1.1 0 1.1 0 1.1 0 1.1 0.1 1.2 0 1.1 0 1.1 0 1.1 0.1 1.1 0 1.1 0 1.1 0.1 1.1 0 1.1 0 1.1 0.1 1.1 0 1.1 0.1 1.1 0 1.1 0 1.1 0.1 1.2 0 1.1 0.1 1.1 0 1.1 0 1.1 0.1 1.1 0 1.1 0.1 1.1 0 1.1 0.1 1.1 0 1.1 0.1 1.1 0.1 1.1 0 1.1 0.1 1.1 0 1.2 0.1 1.1 0.1 1.1 0.1 1.1 0.1 1.1 0.2 1.1 0.1 1.1 0.2 1.1 0.2 1.1 0.2 1.1 0.2 1.1 0.3 1.1 0.2 1.1 0.3 1.1 0.3 1.1 0.2 1.2 0.3 1.1 0.3 1.1 0.4 1.1 0.3 1.1 0.3 1.1 0.4 1.1 0.4 1.1 0.4 1.1 0.5 1.1 0.5 1.1 0.6 1.1 0.6 1.1 0.6 1.1 0.7 1.1 0.7 1.2 0.7 1.1 0.7 1.1 0.7 1.1 0.7 1.1 0.7 1.1 0.8 1.1 0.7 1.1 0.7 1.1 0.8 1.1 0.8 1.1 0.9 1.1 0.9 1.1 1 1.1 0.9 1.1 0.9 1.1 0.9 1.2 0.9 1.1 0.8 1.1 0.8 1.1 0.7 1.1 0.7 1.1 0.6 1.1 0.5 1.1 0.4 1.1 0.4 1.1 0.4 1.1 0.4 1.1 0.4 1.1 0.4 1.1 0.3 1.1 0.4 1.2 0.3 1.1 0.3 1.1 0.3 1.1 0.3 1.1 0.2 1.1 0.3 1.1 0.2 1.1 0.2 1.1 0.3 1.1 0.1 1.1 0.2 1.1 0.2 1.1 0.1 1.1 0.2 1.1 0.1 1.2 0.1 1.1 0.2 1.1 0.1 1.1 0.1 1.1 0.1 1.1 0.1 1.1 0.1 1.1 0.1 1.1 0.1 1.1 0.1 1.1 0.1 1.1 0.1 1.1 0 1.1 0.1 1.1 0.1 1.2 0.1 1.1 0.1 1.1 0.1 1.1 0 1.1 0.1 1.1 0.1 1.1 0.1 1.1 0.1 1.1 0.1 1.1 0.1 1.1 0.1 1.1 0.1 1.1 0.1 1.1 0.1 1.1 0.1 1.2 0.1 1.1 0.1 1.1 0.1 1.1 0.1 1.1 0.1 1.1 0.1 1.1 0.1 1.1 0.1 1.1 0.1 1.1 0.1 1.1 0.1 1.1 0.1 1.1 0.1 1.1 0.1 1.1 0.1 1.1 0.1 1.2 0.1 1.1 0.1 1.1 0.1 1.1 0.1 1.1 0.2 1.1 0.1 1.1 0.1 1.1 0.1 1.1 0.1 1.1 0.1 1.1 0.1 1.1 0.2 1.1 0.1 1.1 0.1 1.1 0.1 1.2 0.2 1.1 0.1 1.1 0.1 1.1 0.1 1.1 0.2 1.1 0.1 1.1 0.2 1.1 0.1 1.1 0.2 1.1 0.1 1.1 0.2 1.1 0.1 1.1 0.2 1.1 0.2 1.1 0.2 1.2 0.1 1.1 0.2 1.1 0.2 1.1 0.2 1.1 0.2 1.1 0.2 1.1 0.2 1.1 0.2 1.1 0.2 1.1 0.2 1.1 0.3 1.1 0.2 1.1 0.2 1.1 0.2 1.1 0.3 1.2 0.2 1.1 0.2 1.1 0.2 1.1 0.3 1.1 0.2 1.1 0.3 1.1 0.2 1.1 0.2 1.1 0.3 1.1 0.2 1.1 0.3 1.1 0.2 1.1 0.2 1.1 0.3 1.1 0.2 1.2 0.3 1.1 0.2 1.1 0.3 1.1 0.2 1.1 0.3 1.1 0.2 1.1 0.3 1.1 0.2 1.1 0.2 1.1 0.3 1.1 0.2 1.1 0.3 1.1 0.2 1.1 0.3 1.1 0.2 1.1 0.3 1.2 0.2 1.1 0.3 1.1 0.2 1.1 0.3 1.1 0.2 1.1 0.3 1.1 0.2 1.1 0.3 1.1 0.3 1.1 0.2 1.1 0.3 1.1 0.3 1.1 0.3 1.1 0.2 1.1 0.3 1.2 0.3 1.1 0.3 1.1 0.3 1.1 0.3 1.1 0.3 1.1 0.3 1.1 0.3 1.1 0.3 1.1 0.3 1.1 0.4 1.1 0.3 1.1 0.3 1.1 0.3 1.1 0.4 1.1 0.3 1.2 0.4 1.1 0.3 1.1 0.4 1.1 0.4 1.1 0.4 1.1 0.4 1.1 0.4 1.1 0.4 1.1 0.4 1.1 0.4 1.1 0.5 1.1 0.4 1.1 0.5 1.1 0.4 1.1 0.5 1.2 0.5 1.1 0.4 1.1 0.5 1.1 0.5 1.1 0.5 1.1 0.6 1.1 0.5 1.1 0.5 1.1 0.5 1.1 0.6 1.1 0.5 1.1 0.6 1.1 0.5 1.1 0.6 1.1 0.5 1.2 0.6 1.1 0.6 1.1 0.6 1.1 0.6 1.1 0.6 1.1 0.6 1.1 0.5 1.1 0.7 1.1 0.6 1.1 0.6 1.1 0.6 1.1 0.7 1.1 0.6 1.1 0.7 1.1 0.7 1.1 0.8 1.2 0.7 1.1 0.8 1.1 0.8 1.1 0.8 1.1 0.9 1.1 0.9 1.1 1 1.1 1 1.1 1.1 1.1 1.2 1.1 1.3 1.1 1.3 1.1 1.4 1.1 1.4 1.1 1.5 1.2 1.5 1.1 1.6 1.1 1.6 1.1 1.6 1.1 1.7 1.1 1.6 1.1 1.7 1.1 1.7 1.1 1.6 1.1 1.7 1.1 1.6 1.1 1.6 1.1 1.6 1.1 1.6 1.1 1.6 1.2 1.6 1.1 1.7 1.1 1.8 1.1 1.8 1.1 1.8 1.1 1.9 1.1 1.9 1.1 1.8 1.1 1.8 1.1 1.8 1.1 1.8 1.1 1.7 1.1 1.7 1.1 1.5 1.1 1.5 1.2 1.4 1.1 1.3 1.1 1.2 1.1 1.1 1.1 0.9 1.1 0.8 1.1 0.8 1.1 0.8 1.1 0.7 1.1 0.8 1.1 0.7 1.1 0.6 1.1 0.7 1.1 0.6 1.1 0.5 1.2 0.5 1.1 0.5 1.1 0.4 1.1 0.4 1.1 0.3 1.1 0.2 1.1 0.2 1.1 0.2 1.1 0.2 1.1 0.1 1.1 0.2 1.1 0.2 1.1 0.1 1.1 0.1 1.1 0.2 1.1 0.1 1.2 0.1 1.1 0.1 1.1 0.1 1.1 0.1 1.1 0.1 1.1 0.1 1.1 0 1.1 0.1 1.1 0 1.1 0.1 1.1 0 1.1 0.1 1.1 0 1.1 0 1.1 0.1 1.2 0 1.1 0 1.1 0 1.1 0 1.1 0 1.1 0.1 1.1 0 1.1 0 1.1 0 1.1 0 1.1 0 1.1 0 1.1-0.1 1.1 0 1.1 0 1.2 0 1.1 0 1.1 0 1.1 0 1.1 0 1.1-0.1 1.1 0 1.1 0 1.1 0 1.1-0.1 1.1 0 1.1 0 1.1-0.1 1.1 0 1.1-0.1 1.2-0.1 1.1 0 1.1-0.1 1.1-0.1 1.1-0.2 1.1-0.1 1.1-0.1 1.1-0.1 1.1-0.2 1.1-0.2 1.1-0.2 1.1-0.3 1.1-0.2 1.1-0.4 1.1-0.4 1.2-0.4 1.1-0.5 1.1-0.6 1.1-0.6 1.1-0.8 1.1-0.8 1.1-0.9 1.1-1 1.1-1.1 1.1-1.3 1.1-1.3 1.1-1.4 1.1-1.6 1.1-1.7 1.1-1.8 1.1-1.9 1.2-2.1 1.1-2.1 1.1-2.2 1.1-2.4 1.1-2.4 1.1-2.5 1.1-2.5 1.1-2.6 1.1-2.6 1.1-2.6 1.1-2.6 1.1-2.5 1.1-2.5 1.1-2.4 1.1-2.4 1.2-2.2 1.1-2 1.1-1.9 1.1-1.7 1.1-1.4 1.1-1.2 1.1-1 1.1-0.7 1.1-0.4 1.1 0 1.1 0.2 1.1 0.5 1.1 0.8 1.1 1.2 1.1 1.4 1.2 1.7 1.1 2 1.1 2.2 1.1 2.4 1.1 2.6 1.1 2.9 1.1 2.9 1.1 3.1 1.1 3.2 1.1 3.3 1.1 3.3 1.1 3.4 1.1 3.4 1.1 3.4 1.1 3.4 1.2 3.3 1.1 3.3 1.1 3.3 1.1 3.2 1.1 3.1 1.1 3 1.1 2.9 1.1 2.8 1.1 2.8 1.1 2.6 1.1 2.5 1.1 2.4 1.1 2.3 1.1 2.2 1.1 2.1 1.2 1.9 1.1 1.9 1.1 1.8 1.1 1.8 1.1 1.6 1.1 1.6 1.1 1.4 1.1 1.5 1.1 1.3 1.1 1.3 1.1 1.3 1.1 1.2 1.1 1.2 1.1 1.1 1.1 1.2 1.1 1 1.2 1.1 1.1 1 1.1 1 1.1 1 1.1 1 1.1 1 1.1 1 1.1 0.9 1.1 1 1.1 0.9 1.1 1 1.1 1 1.1 1 1.1 1 1.1 1 1.2 1 1.1 1.1 1.1 1.1 1.1 1 1.1 1.1 1.1 1.1 1.1 1.2 1.1 1.1 1.1 1.1 1.1 1.2 1.1 1.1 1.1 1.2 1.1 1.1 1.1 1.2 1.1 1.1 1.2 1.2 1.1 1.2 1.1 1.1 1.1 1.2 1.1 1.2 1.1 1.1 1.1 1.2 1.1 1.1 1.1 1.2 1.1 1.1 1.1 1.2 1.1 1.1 1.1 1.1 1.1 1.1 1.1 1.1 1.2 1 1.1 1.1 1.1 1 1.1 1 1.1 1.1 1.1 1 1.1 1.1 1.1 1 1.1 1.1 1.1 1.1 1.1 1 1.1 1.1 1.1 1.1 1.1 1.1 1.1 1.1 1.2 1 1.1 1.1 1.1 1.1 1.1 1 1.1 1 1.1 1 1.1 1 1.1 1 1.1 1 1.1 0.9 1.1 0.9 1.1 0.9 1.1 0.8 1.1 0.9 1.1 0.7 1.1 0.8 1.2 0.7 1.1 0.7 1.1 0.6 1.1 0.6 1.1 0.6 1.1 0.5 1.1 0.5 1.1 0.5 1.1 0.5 1.1 0.5 1.1 0.5 1.1 0.4 1.1 0.5 1.1 0.4 1.1 0.4 1.2 0.4 1.1 0.4 1.1 0.4 1.1 0.4 1.1 0.4 1.1 0.3 1.1 0.4 1.1 0.4 1.1 0.3 1.1 0.4 1.1 0.3 1.1 0.4 1.1 0.3 1.1 0.4 1.1 0.4 1.2 0.3 1.1 0.4 1.1 0.4 1.1 0.3 1.1 0.4 1.1 0.4 1.1 0.4 1.1 0.4" fill="none" stroke="#ff6b63" stroke-width="3.4" stroke-linejoin="round"/>
<path d="M1207.5 301l1.1 0 1.1 0 1.1 0.1 1.1 0 1.1 0 1.1 0 1.1 0.1 1.2 0 1.1 0 1.1 0 1.1 0.1 1.1 0 1.1 0 1.1 0 1.1 0 1.1 0.1 1.1 0 1.1 0 1.1 0 1.1 0.1 1.1 0 1.1 0 1.2 0 1.1 0 1.1 0 1.1 0.1 1.1 0 1.1 0 1.1 0 1.1 0 1.1 0.1 1.1 0 1.1 0 1.1 0 1.1 0 1.1 0.1 1.1 0 1.2 0 1.1 0 1.1 0 1.1 0.1 1.1 0 1.1 0 1.1 0 1.1 0 1.1 0.1 1.1 0 1.1 0 1.1 0 1.1 0.1 1.1 0 1.1 0 1.1 0.1 1.2 0 1.1 0 1.1 0 1.1 0.1 1.1 0 1.1 0 1.1 0.1 1.1 0 1.1 0 1.1 0.1 1.1 0 1.1 0 1.1 0.1 1.1 0 1.1 0.1 1.2 0 1.1 0 1.1 0.1 1.1 0 1.1 0.1 1.1 0 1.1 0.1 1.1 0 1.1 0.1 1.1 0 1.1 0.1 1.1 0.1 1.1 0 1.1 0.1 1.1 0 1.2 0.1 1.1 0.1 1.1 0.1 1.1 0.1 1.1 0.1 1.1 0.2 1.1 0.2 1.1 0.2 1.1 0.2 1.1 0.2 1.1 0.2 1.1 0.3 1.1 0.3 1.1 0.2 1.1 0.3 1.2 0.3 1.1 0.3 1.1 0.4 1.1 0.3 1.1 0.3 1.1 0.3 1.1 0.4 1.1 0.5 1.1 0.5 1.1 0.5 1.1 0.6 1.1 0.6 1.1 0.6 1.1 0.7 1.1 0.7 1.2 0.7 1.1 0.7 1.1 0.7 1.1 0.7 1.1 0.7 1.1 0.7 1.1 0.7 1.1 0.8 1.1 0.8 1.1 0.8 1.1 0.9 1.1 0.9 1.1 0.9 1.1 1 1.1 0.9 1.1 0.9 1.2 0.9 1.1 0.8 1.1 0.8 1.1 0.7 1.1 0.7 1.1 0.6 1.1 0.5 1.1 0.4 1.1 0.4 1.1 0.4 1.1 0.4 1.1 0.4 1.1 0.4 1.1 0.3 1.1 0.4 1.2 0.3 1.1 0.3 1.1 0.3 1.1 0.3 1.1 0.2 1.1 0.3 1.1 0.2 1.1 0.2 1.1 0.2 1.1 0.2 1.1 0.2 1.1 0.2 1.1 0.1 1.1 0.2 1.1 0.1 1.2 0.1 1.1 0.2 1.1 0.1 1.1 0.1 1.1 0.1 1.1 0.1 1.1 0.1 1.1 0.1 1.1 0.1 1.1 0.1 1.1 0.1 1.1 0.1 1.1 0 1.1 0.1 1.1 0.1 1.2 0.1 1.1 0.1 1.1 0 1.1 0.1 1.1 0.1 1.1 0.1 1.1 0.1 1.1 0.1 1.1 0.1 1.1 0.1 1.1 0.1 1.1 0.1 1.1 0.1 1.1 0.1 1.1 0.1 1.2 0.1 1.1 0.1 1.1 0.1 1.1 0.1 1.1 0.1 1.1 0.1 1.1 0.1 1.1 0.1 1.1 0.1 1.1 0.1 1.1 0.1 1.1 0.1 1.1 0.1 1.1 0.1 1.1 0.1 1.1 0.1 1.2 0.1 1.1 0.1 1.1 0.1 1.1 0.1 1.1 0.1 1.1 0.2 1.1 0.1 1.1 0.1 1.1 0.1 1.1 0.1 1.1 0.1 1.1 0.1 1.1 0.2 1.1 0.1 1.1 0.1 1.2 0.1 1.1 0.2 1.1 0.1 1.1 0.1 1.1 0.2 1.1 0.1 1.1 0.2 1.1 0.1 1.1 0.2 1.1 0.1 1.1 0.2 1.1 0.1 1.1 0.2 1.1 0.2 1.1 0.2 1.2 0.1 1.1 0.2 1.1 0.2 1.1 0.2 1.1 0.2 1.1 0.2 1.1 0.2 1.1 0.2 1.1 0.2 1.1 0.2 1.1 0.3 1.1 0.2 1.1 0.2 1.1 0.2 1.1 0.2 1.2 0.3 1.1 0.2 1.1 0.2 1.1 0.3 1.1 0.2 1.1 0.2 1.1 0.3 1.1 0.2 1.1 0.3 1.1 0.2 1.1 0.3 1.1 0.2 1.1 0.2 1.1 0.3 1.1 0.2 1.2 0.3 1.1 0.2 1.1 0.3 1.1 0.2 1.1 0.3 1.1 0.2 1.1 0.2 1.1 0.3 1.1 0.2 1.1 0.3 1.1 0.2 1.1 0.3 1.1 0.2 1.1 0.3 1.1 0.2 1.1 0.3 1.2 0.2 1.1 0.3 1.1 0.2 1.1 0.3 1.1 0.2 1.1 0.3 1.1 0.2 1.1 0.3 1.1 0.3 1.1 0.2 1.1 0.3 1.1 0.3 1.1 0.3 1.1 0.2 1.1 0.3 1.2 0.3 1.1 0.3 1.1 0.3 1.1 0.3 1.1 0.3 1.1 0.3 1.1 0.3 1.1 0.3 1.1 0.3 1.1 0.3 1.1 0.4 1.1 0.3 1.1 0.3 1.1 0.4 1.1 0.3 1.2 0.4 1.1 0.3 1.1 0.4 1.1 0.4 1.1 0.4 1.1 0.4 1.1 0.4 1.1 0.4 1.1 0.4 1.1 0.4 1.1 0.5 1.1 0.4 1.1 0.5 1.1 0.4 1.1 0.5 1.2 0.5 1.1 0.5 1.1 0.4 1.1 0.5 1.1 0.5 1.1 0.6 1.1 0.5 1.1 0.5 1.1 0.5 1.1 0.6 1.1 0.5 1.1 0.6 1.1 0.5 1.1 0.6 1.1 0.6 1.2 0.5 1.1 0.6 1.1 0.6 1.1 0.6 1.1 0.6 1.1 0.6 1.1 0.6 1.1 0.6 1.1 0.6 1.1 0.6 1.1 0.6 1.1 0.7 1.1 0.7 1.1 0.6 1.1 0.8 1.1 0.7 1.2 0.7 1.1 0.8 1.1 0.8 1.1 0.9 1.1 0.8 1.1 1 1.1 0.9 1.1 1 1.1 1.1 1.1 1.2 1.1 1.3 1.1 1.3 1.1 1.4 1.1 1.4 1.1 1.5 1.2 1.6 1.1 1.5 1.1 1.6 1.1 1.7 1.1 1.6 1.1 1.7 1.1 1.6 1.1 1.7 1.1 1.7 1.1 1.6 1.1 1.6 1.1 1.7 1.1 1.6 1.1 1.5 1.1 1.6 1.2 1.7 1.1 1.7 1.1 1.8 1.1 1.8 1.1 1.8 1.1 1.9 1.1 1.8 1.1 1.9 1.1 1.8 1.1 1.8 1.1 1.8 1.1 1.7 1.1 1.6 1.1 1.6 1.1 1.5 1.2 1.4 1.1 1.3 1.1 1.2 1.1 1.1 1.1 0.9 1.1 0.8 1.1 0.8 1.1 0.8 1.1 0.8 1.1 0.7 1.1 0.7 1.1 0.7 1.1 0.6 1.1 0.6 1.1 0.5 1.2 0.5 1.1 0.5 1.1 0.4 1.1 0.4 1.1 0.3 1.1 0.3 1.1 0.2 1.1 0.2 1.1 0.1 1.1 0.2 1.1 0.2 1.1 0.1 1.1 0.2 1.1 0.1 1.1 0.2 1.1 0.1 1.2 0.1 1.1 0.1 1.1 0.1 1.1 0.1 1.1 0.1 1.1 0.1 1.1 0.1 1.1 0 1.1 0.1 1.1 0.1 1.1 0 1.1 0.1 1.1 0 1.1 0 1.1 0.1 1.2 0 1.1 0 1.1 0.1 1.1 0 1.1 0 1.1 0 1.1 0.1 1.1 0 1.1 0 1.1 0 1.1 0 1.1 0 1.1 0.1 1.1 0 1.1 0 1.2 0 1.1 0 1.1 0 1.1 0 1.1 0 1.1 0.1 1.1 0 1.1 0 1.1 0 1.1 0 1.1 0 1.1 0.1 1.1 0 1.1 0 1.1 0.1 1.2 0 1.1 0 1.1 0.1 1.1 0 1.1 0.1 1.1 0.1 1.1 0.1 1.1 0.1 1.1 0.1 1.1 0.1 1.1 0.2 1.1 0.1 1.1 0.2 1.1 0.2 1.1 0.2 1.2 0.2 1.1 0.2 1.1 0.2 1.1 0.2 1.1 0.3 1.1 0.2 1.1 0.3 1.1 0.2 1.1 0.3 1.1 0.2 1.1 0.3 1.1 0.3 1.1 0.2 1.1 0.3 1.1 0.3 1.1 0.2 1.2 0.3 1.1 0.2 1.1 0.3 1.1 0.3 1.1 0.2 1.1 0.3 1.1 0.3 1.1 0.2 1.1 0.3 1.1 0.3 1.1 0.3 1.1 0.3 1.1 0.3 1.1 0.3 1.1 0.3 1.2 0.3 1.1 0.3 1.1 0.4 1.1 0.3 1.1 0.3 1.1 0.4 1.1 0.3 1.1 0.3 1.1 0.4 1.1 0.3 1.1 0.4 1.1 0.4 1.1 0.3 1.1 0.4 1.1 0.4 1.2 0.4 1.1 0.4 1.1 0.4 1.1 0.4 1.1 0.4 1.1 0.4 1.1 0.4 1.1 0.4 1.1 0.4 1.1 0.4 1.1 0.4 1.1 0.5 1.1 0.4 1.1 0.4 1.1 0.5 1.2 0.4 1.1 0.5 1.1 0.4 1.1 0.5 1.1 0.5 1.1 0.4 1.1 0.5 1.1 0.5 1.1 0.5 1.1 0.5 1.1 0.4 1.1 0.5 1.1 0.4 1.1 0.4 1.1 0.4 1.2 0.4 1.1 0.3 1.1 0.3 1.1 0.2 1.1 0.2 1.1 0 1.1 0 1.1-0.2 1.1-0.2 1.1-0.4 1.1-0.6 1.1-0.8 1.1-1 1.1-1.2 1.1-1.4 1.1-1.7 1.2-2 1.1-2.4 1.1-2.7 1.1-3 1.1-3.4 1.1-3.8 1.1-4.3 1.1-4.6 1.1-5 1.1-5.4 1.1-5.8 1.1-6.2 1.1-6.5 1.1-6.8 1.1-7.1 1.2-7.3 1.1-7.5 1.1-7.6 1.1-7.6 1.1-7.6 1.1-7.5 1.1-7.3 1.1-7 1.1-6.7 1.1-6.1 1.1-5.6 1.1-4.9 1.1-4.1 1.1-3.3 1.1-2.4 1.2-1.4 1.1-0.4 1.1 0.6 1.1 1.8 1.1 2.7 1.1 3.8 1.1 4.8 1.1 5.6 1.1 6.5 1.1 7.2 1.1 7.9 1.1 8.4 1.1 8.8 1.1 9.2 1.1 9.5 1.2 9.6 1.1 9.8 1.1 9.7 1.1 9.6 1.1 9.5 1.1 9.3 1.1 9.1 1.1 8.8 1.1 8.5 1.1 8.1 1.1 7.7 1.1 7.4 1.1 6.9 1.1 6.5 1.1 6.1 1.2 5.7 1.1 5.3 1.1 4.9 1.1 4.5 1.1 4.2 1.1 3.8 1.1 3.5 1.1 3.2 1.1 3 1.1 2.6 1.1 2.5 1.1 2.2 1.1 2 1.1 1.9 1.1 1.6 1.1 1.6 1.2 1.3 1.1 1.3 1.1 1.1 1.1 1 1.1 1 1.1 0.8 1.1 0.8 1.1 0.8 1.1 0.7 1.1 0.7 1.1 0.6 1.1 0.6 1.1 0.6 1.1 0.5 1.1 0.6 1.2 0.5 1.1 0.5 1.1 0.4 1.1 0.5 1.1 0.5 1.1 0.4 1.1 0.4 1.1 0.5 1.1 0.4 1.1 0.4 1.1 0.4 1.1 0.4 1.1 0.4 1.1 0.4 1.1 0.4 1.2 0.4 1.1 0.4 1.1 0.4 1.1 0.4 1.1 0.5 1.1 0.4 1.1 0.4 1.1 0.4" fill="none" stroke="#ff6b63" stroke-width="3.4" stroke-linejoin="round"/>
<rect x="135.0" y="42.0" width="806.0" height="647.0" fill="none" stroke="#d5d5d5" stroke-width="10.5"/>
<path d="M941.0 689.0v13M873.8 689.0v7M806.7 689.0v13M739.5 689.0v7M672.3 689.0v13M605.2 689.0v7M538.0 689.0v13M470.8 689.0v7M403.7 689.0v13M336.5 689.0v7M269.3 689.0v13M202.2 689.0v7M135.0 689.0v13" stroke="#d5d5d5" stroke-width="10" fill="none"/>
<rect x="135.0" y="42.0" width="806.0" height="647.0" fill="none" stroke="#3a3a3a" stroke-width="5.4"/>
<path d="M941.0 689.0v13M873.8 689.0v7M806.7 689.0v13M739.5 689.0v7M672.3 689.0v13M605.2 689.0v7M538.0 689.0v13M470.8 689.0v7M403.7 689.0v13M336.5 689.0v7M269.3 689.0v13M202.2 689.0v7M135.0 689.0v13" stroke="#3a3a3a" stroke-width="4.8" fill="none"/>
<text x="941.0" y="737.5" font-size="33.5" font-weight="bold" text-anchor="middle">456</text>
<text x="806.7" y="737.5" font-size="33.5" font-weight="bold" text-anchor="middle">458</text>
<text x="672.3" y="737.5" font-size="33.5" font-weight="bold" text-anchor="middle">460</text>
<text x="538.0" y="737.5" font-size="33.5" font-weight="bold" text-anchor="middle">462</text>
<text x="403.7" y="737.5" font-size="33.5" font-weight="bold" text-anchor="middle">464</text>
<text x="269.3" y="737.5" font-size="33.5" font-weight="bold" text-anchor="middle">466</text>
<text x="135.0" y="737.5" font-size="33.5" font-weight="bold" text-anchor="middle">468</text>
<text x="538.0" y="800.5" font-size="39.5" font-weight="bold" text-anchor="middle">Binding energy / eV</text>
<text transform="translate(81.5 352.0) rotate(-90)" font-size="39.5" font-weight="bold" text-anchor="middle">Intensity / a.u.</text>
<rect x="1207.5" y="42.0" width="804.5" height="647.0" fill="none" stroke="#d5d5d5" stroke-width="10.5"/>
<path d="M2012.0 689.0v7M1931.6 689.0v13M1851.1 689.0v7M1770.7 689.0v13M1690.2 689.0v7M1609.8 689.0v13M1529.3 689.0v7M1448.8 689.0v13M1368.4 689.0v7M1288.0 689.0v13M1207.5 689.0v7" stroke="#d5d5d5" stroke-width="10" fill="none"/>
<rect x="1207.5" y="42.0" width="804.5" height="647.0" fill="none" stroke="#3a3a3a" stroke-width="5.4"/>
<path d="M2012.0 689.0v7M1931.6 689.0v13M1851.1 689.0v7M1770.7 689.0v13M1690.2 689.0v7M1609.8 689.0v13M1529.3 689.0v7M1448.8 689.0v13M1368.4 689.0v7M1288.0 689.0v13M1207.5 689.0v7" stroke="#3a3a3a" stroke-width="4.8" fill="none"/>
<text x="1931.6" y="738.0" font-size="33.5" font-weight="bold" text-anchor="middle">880</text>
<text x="1770.7" y="738.0" font-size="33.5" font-weight="bold" text-anchor="middle">890</text>
<text x="1609.8" y="738.0" font-size="33.5" font-weight="bold" text-anchor="middle">900</text>
<text x="1448.8" y="738.0" font-size="33.5" font-weight="bold" text-anchor="middle">910</text>
<text x="1288.0" y="738.0" font-size="33.5" font-weight="bold" text-anchor="middle">920</text>
<text x="1609.8" y="803.0" font-size="39.5" font-weight="bold" text-anchor="middle">Binding energy / eV</text>
<text transform="translate(1147.0 374.0) rotate(-90)" font-size="39.5" font-weight="bold" text-anchor="middle">Intensity / a.u.</text>
<rect x="135.0" y="944.0" width="806.0" height="647.0" fill="none" stroke="#d5d5d5" stroke-width="10.5"/>
<path d="M941.0 1591.0v13M873.8 1591.0v7M806.7 1591.0v13M739.5 1591.0v7M672.3 1591.0v13M605.2 1591.0v7M538.0 1591.0v13M470.8 1591.0v7M403.7 1591.0v13M336.5 1591.0v7M269.3 1591.0v13M202.2 1591.0v7M135.0 1591.0v13" stroke="#d5d5d5" stroke-width="10" fill="none"/>
<rect x="135.0" y="944.0" width="806.0" height="647.0" fill="none" stroke="#3a3a3a" stroke-width="5.4"/>
<path d="M941.0 1591.0v13M873.8 1591.0v7M806.7 1591.0v13M739.5 1591.0v7M672.3 1591.0v13M605.2 1591.0v7M538.0 1591.0v13M470.8 1591.0v7M403.7 1591.0v13M336.5 1591.0v7M269.3 1591.0v13M202.2 1591.0v7M135.0 1591.0v13" stroke="#3a3a3a" stroke-width="4.8" fill="none"/>
<text x="941.0" y="1638.5" font-size="33.5" font-weight="bold" text-anchor="middle">456</text>
<text x="806.7" y="1638.5" font-size="33.5" font-weight="bold" text-anchor="middle">458</text>
<text x="672.3" y="1638.5" font-size="33.5" font-weight="bold" text-anchor="middle">460</text>
<text x="538.0" y="1638.5" font-size="33.5" font-weight="bold" text-anchor="middle">462</text>
<text x="403.7" y="1638.5" font-size="33.5" font-weight="bold" text-anchor="middle">464</text>
<text x="269.3" y="1638.5" font-size="33.5" font-weight="bold" text-anchor="middle">466</text>
<text x="135.0" y="1638.5" font-size="33.5" font-weight="bold" text-anchor="middle">468</text>
<text x="538.0" y="1702.0" font-size="39.5" font-weight="bold" text-anchor="middle">Binding energy / eV</text>
<text transform="translate(81.5 1253.0) rotate(-90)" font-size="39.5" font-weight="bold" text-anchor="middle">Intensity / a.u.</text>
<rect x="1207.5" y="944.0" width="804.5" height="647.0" fill="none" stroke="#d5d5d5" stroke-width="10.5"/>
<path d="M2012.0 1591.0v7M1958.4 1591.0v13M1904.7 1591.0v7M1851.1 1591.0v13M1797.5 1591.0v7M1743.8 1591.0v13M1690.2 1591.0v7M1636.6 1591.0v13M1582.9 1591.0v7M1529.3 1591.0v13M1475.7 1591.0v7M1422.0 1591.0v13M1368.4 1591.0v7M1314.8 1591.0v13M1261.1 1591.0v7M1207.5 1591.0v13" stroke="#d5d5d5" stroke-width="10" fill="none"/>
<rect x="1207.5" y="944.0" width="804.5" height="647.0" fill="none" stroke="#3a3a3a" stroke-width="5.4"/>
<path d="M2012.0 1591.0v7M1958.4 1591.0v13M1904.7 1591.0v7M1851.1 1591.0v13M1797.5 1591.0v7M1743.8 1591.0v13M1690.2 1591.0v7M1636.6 1591.0v13M1582.9 1591.0v7M1529.3 1591.0v13M1475.7 1591.0v7M1422.0 1591.0v13M1368.4 1591.0v7M1314.8 1591.0v13M1261.1 1591.0v7M1207.5 1591.0v13" stroke="#3a3a3a" stroke-width="4.8" fill="none"/>
<text x="1958.4" y="1633.5" font-size="27.5" font-weight="bold" text-anchor="middle">306</text>
<text x="1851.1" y="1633.5" font-size="27.5" font-weight="bold" text-anchor="middle">308</text>
<text x="1743.8" y="1633.5" font-size="27.5" font-weight="bold" text-anchor="middle">310</text>
<text x="1636.6" y="1633.5" font-size="27.5" font-weight="bold" text-anchor="middle">312</text>
<text x="1529.3" y="1633.5" font-size="27.5" font-weight="bold" text-anchor="middle">314</text>
<text x="1422.0" y="1633.5" font-size="27.5" font-weight="bold" text-anchor="middle">316</text>
<text x="1314.8" y="1633.5" font-size="27.5" font-weight="bold" text-anchor="middle">318</text>
<text x="1207.5" y="1633.5" font-size="27.5" font-weight="bold" text-anchor="middle">320</text>
<text x="1609.8" y="1694.0" font-size="39.5" font-weight="bold" text-anchor="middle">Binding energy / eV</text>
<text transform="translate(1150.0 1251.0) rotate(-90)" font-size="39.5" font-weight="bold" text-anchor="middle">Intensity / a.u.</text>
<rect x="135.0" y="1847.0" width="806.0" height="644.0" fill="none" stroke="#d5d5d5" stroke-width="10.5"/>
<path d="M941.0 2491.0v13M873.8 2491.0v7M806.7 2491.0v13M739.5 2491.0v7M672.3 2491.0v13M605.2 2491.0v7M538.0 2491.0v13M470.8 2491.0v7M403.7 2491.0v13M336.5 2491.0v7M269.3 2491.0v13M202.2 2491.0v7M135.0 2491.0v13" stroke="#d5d5d5" stroke-width="10" fill="none"/>
<rect x="135.0" y="1847.0" width="806.0" height="644.0" fill="none" stroke="#3a3a3a" stroke-width="5.4"/>
<path d="M941.0 2491.0v13M873.8 2491.0v7M806.7 2491.0v13M739.5 2491.0v7M672.3 2491.0v13M605.2 2491.0v7M538.0 2491.0v13M470.8 2491.0v7M403.7 2491.0v13M336.5 2491.0v7M269.3 2491.0v13M202.2 2491.0v7M135.0 2491.0v13" stroke="#3a3a3a" stroke-width="4.8" fill="none"/>
<text x="941.0" y="2538.5" font-size="33.5" font-weight="bold" text-anchor="middle">456</text>
<text x="806.7" y="2538.5" font-size="33.5" font-weight="bold" text-anchor="middle">458</text>
<text x="672.3" y="2538.5" font-size="33.5" font-weight="bold" text-anchor="middle">460</text>
<text x="538.0" y="2538.5" font-size="33.5" font-weight="bold" text-anchor="middle">462</text>
<text x="403.7" y="2538.5" font-size="33.5" font-weight="bold" text-anchor="middle">464</text>
<text x="269.3" y="2538.5" font-size="33.5" font-weight="bold" text-anchor="middle">466</text>
<text x="135.0" y="2538.5" font-size="33.5" font-weight="bold" text-anchor="middle">468</text>
<text x="538.0" y="2602.0" font-size="39.5" font-weight="bold" text-anchor="middle">Binding energy / eV</text>
<text transform="translate(81.5 2151.0) rotate(-90)" font-size="39.5" font-weight="bold" text-anchor="middle">Intensity / a.u.</text>
<rect x="1208.0" y="1847.0" width="804.0" height="644.0" fill="none" stroke="#d5d5d5" stroke-width="10.5"/>
<path d="M2012.0 2491.0v7M1958.4 2491.0v13M1904.8 2491.0v7M1851.2 2491.0v13M1797.6 2491.0v7M1744.0 2491.0v13M1690.4 2491.0v7M1636.8 2491.0v13M1583.2 2491.0v7M1529.6 2491.0v13M1476.0 2491.0v7M1422.4 2491.0v13M1368.8 2491.0v7M1315.2 2491.0v13M1261.6 2491.0v7M1208.0 2491.0v13" stroke="#d5d5d5" stroke-width="10" fill="none"/>
<rect x="1208.0" y="1847.0" width="804.0" height="644.0" fill="none" stroke="#3a3a3a" stroke-width="5.4"/>
<path d="M2012.0 2491.0v7M1958.4 2491.0v13M1904.8 2491.0v7M1851.2 2491.0v13M1797.6 2491.0v7M1744.0 2491.0v13M1690.4 2491.0v7M1636.8 2491.0v13M1583.2 2491.0v7M1529.6 2491.0v13M1476.0 2491.0v7M1422.4 2491.0v13M1368.8 2491.0v7M1315.2 2491.0v13M1261.6 2491.0v7M1208.0 2491.0v13" stroke="#3a3a3a" stroke-width="4.8" fill="none"/>
<text x="1958.4" y="2540.5" font-size="33.5" font-weight="bold" text-anchor="middle">306</text>
<text x="1851.2" y="2540.5" font-size="33.5" font-weight="bold" text-anchor="middle">308</text>
<text x="1744.0" y="2540.5" font-size="33.5" font-weight="bold" text-anchor="middle">310</text>
<text x="1636.8" y="2540.5" font-size="33.5" font-weight="bold" text-anchor="middle">312</text>
<text x="1529.6" y="2540.5" font-size="33.5" font-weight="bold" text-anchor="middle">314</text>
<text x="1422.4" y="2540.5" font-size="33.5" font-weight="bold" text-anchor="middle">316</text>
<text x="1315.2" y="2540.5" font-size="33.5" font-weight="bold" text-anchor="middle">318</text>
<text x="1208.0" y="2540.5" font-size="33.5" font-weight="bold" text-anchor="middle">320</text>
<text x="1610.0" y="2606.0" font-size="39.5" font-weight="bold" text-anchor="middle">Binding energy / eV</text>
<text transform="translate(1150.0 2155.0) rotate(-90)" font-size="39.5" font-weight="bold" text-anchor="middle">Intensity / a.u.</text>
<text x="28.5" y="115.5" font-size="95">a</text>
<text x="88.2" y="113.7" font-size="95">)</text>
<text x="1104.0" y="115.5" font-size="95">b</text>
<text x="1165.2" y="113.7" font-size="95">)</text>
<text x="29.0" y="1015.5" font-size="95">c</text>
<text x="83.5" y="1013.7" font-size="95">)</text>
<text x="1105.0" y="1015.5" font-size="95">d</text>
<text x="1165.5" y="1013.7" font-size="95">)</text>
<text x="29.0" y="1913.5" font-size="95">e</text>
<text x="88.8" y="1911.7" font-size="95">)</text>
<text x="1104.4" y="1913.5" font-size="95">f</text>
<text x="1139.8" y="1911.7" font-size="95">)</text>
<text x="363.0" y="103.7" font-size="65.5"><tspan>Rh-TiO</tspan><tspan font-size="40" dy="19">2</tspan><tspan dy="-19">-CeO</tspan><tspan font-size="40" dy="19">2</tspan></text>
<text x="1506.5" y="641.6" font-size="65.5"><tspan>Rh-TiO</tspan><tspan font-size="40" dy="19">2</tspan><tspan dy="-19">-CeO</tspan><tspan font-size="40" dy="19">2</tspan></text>
<text x="456.3" y="1004.5" font-size="65.5"><tspan>Rh-TiO</tspan><tspan font-size="40" dy="19">2</tspan></text>
<text x="1511.0" y="1015.5" font-size="65.5"><tspan>Rh-TiO</tspan><tspan font-size="40" dy="19">2</tspan><tspan dy="-19">-CeO</tspan><tspan font-size="40" dy="19">2</tspan></text>
<text x="489.8" y="1911.7" font-size="65.5"><tspan>TiO</tspan><tspan font-size="40" dy="19">2</tspan></text>
<text x="1595.5" y="1912.0" font-size="65.5"><tspan>Rh-TiO</tspan><tspan font-size="40" dy="19">2</tspan></text>
<path d="M149.0 141.4H228.6" stroke="#1a1aff" stroke-width="4.2"/><text x="235.3" y="153.2" font-size="34" font-weight="bold">Ti<tspan font-size="23" dy="-14.5">3+</tspan><tspan dy="14.5"> 2p</tspan><tspan font-size="22" dy="8">3/2</tspan></text>
<path d="M149.0 196.0H228.6" stroke="#ff8a1c" stroke-width="4.2"/><text x="235.3" y="207.8" font-size="34" font-weight="bold">Ti<tspan font-size="23" dy="-14.5">4+</tspan><tspan dy="14.5"> 2p</tspan><tspan font-size="22" dy="8">3/2</tspan></text>
<path d="M149.0 250.0H228.6" stroke="#8610ff" stroke-width="4.2"/><text x="235.3" y="261.8" font-size="34" font-weight="bold">Ti<tspan font-size="23" dy="-14.5">3+</tspan><tspan dy="14.5"> 2p</tspan><tspan font-size="22" dy="8">1/2</tspan></text>
<path d="M149.0 303.8H228.6" stroke="#22908e" stroke-width="4.2"/><text x="235.3" y="315.6" font-size="34" font-weight="bold">Ti<tspan font-size="23" dy="-14.5">4+</tspan><tspan dy="14.5"> 2p</tspan><tspan font-size="22" dy="8">1/2</tspan></text>
<path d="M152.5 1046.4H231.0" stroke="#1a1aff" stroke-width="4.2"/><text x="238.0" y="1058.2" font-size="34" font-weight="bold">Ti<tspan font-size="23" dy="-14.5">3+</tspan><tspan dy="14.5"> 2p</tspan><tspan font-size="22" dy="8">3/2</tspan></text>
<path d="M152.5 1100.6H231.0" stroke="#ff8a1c" stroke-width="4.2"/><text x="238.0" y="1112.4" font-size="34" font-weight="bold">Ti<tspan font-size="23" dy="-14.5">4+</tspan><tspan dy="14.5"> 2p</tspan><tspan font-size="22" dy="8">3/2</tspan></text>
<path d="M152.5 1153.5H231.0" stroke="#8610ff" stroke-width="4.2"/><text x="238.0" y="1165.3" font-size="34" font-weight="bold">Ti<tspan font-size="23" dy="-14.5">3+</tspan><tspan dy="14.5"> 2p</tspan><tspan font-size="22" dy="8">1/2</tspan></text>
<path d="M152.5 1207.2H231.0" stroke="#22908e" stroke-width="4.2"/><text x="238.0" y="1219.0" font-size="34" font-weight="bold">Ti<tspan font-size="23" dy="-14.5">4+</tspan><tspan dy="14.5"> 2p</tspan><tspan font-size="22" dy="8">1/2</tspan></text>
<path d="M151.4 1948.5H231.1" stroke="#1a1aff" stroke-width="4.2"/><text x="237.0" y="1960.3" font-size="34" font-weight="bold">Ti<tspan font-size="23" dy="-14.5">3+</tspan><tspan dy="14.5"> 2p</tspan><tspan font-size="22" dy="8">3/2</tspan></text>
<path d="M151.4 2002.5H231.1" stroke="#ff8a1c" stroke-width="4.2"/><text x="237.0" y="2014.3" font-size="34" font-weight="bold">Ti<tspan font-size="23" dy="-14.5">4+</tspan><tspan dy="14.5"> 2p</tspan><tspan font-size="22" dy="8">3/2</tspan></text>
<path d="M151.4 2056.5H231.1" stroke="#8610ff" stroke-width="4.2"/><text x="237.0" y="2068.3" font-size="34" font-weight="bold">Ti<tspan font-size="23" dy="-14.5">3+</tspan><tspan dy="14.5"> 2p</tspan><tspan font-size="22" dy="8">1/2</tspan></text>
<path d="M151.4 2110.5H231.1" stroke="#22908e" stroke-width="4.2"/><text x="237.0" y="2122.3" font-size="34" font-weight="bold">Ti<tspan font-size="23" dy="-14.5">4+</tspan><tspan dy="14.5"> 2p</tspan><tspan font-size="22" dy="8">1/2</tspan></text>
<path d="M1215.6 1034.7H1294.5" stroke="#1a1aff" stroke-width="4.2"/><text x="1302.6" y="1045.9" font-size="34" font-weight="bold">Rh<tspan font-size="23" dy="-13.3">0</tspan><tspan dy="13.3"> 3d</tspan><tspan font-size="22" dy="8">5/2</tspan></text>
<path d="M1215.6 1088.6H1294.5" stroke="#ff8a1c" stroke-width="4.2"/><text x="1302.6" y="1099.8" font-size="34" font-weight="bold">Rh<tspan font-size="23" dy="-13.3">3+</tspan><tspan dy="13.3"> 3d</tspan><tspan font-size="22" dy="8">5/2</tspan></text>
<path d="M1215.6 1142.9H1294.5" stroke="#8610ff" stroke-width="4.2"/><text x="1302.6" y="1154.1" font-size="34" font-weight="bold">Rh<tspan font-size="23" dy="-13.3">0</tspan><tspan dy="13.3"> 3d</tspan><tspan font-size="22" dy="8">3/2</tspan></text>
<path d="M1215.6 1197.1H1294.5" stroke="#22908e" stroke-width="4.2"/><text x="1302.6" y="1208.3" font-size="34" font-weight="bold">Rh<tspan font-size="23" dy="-13.3">3+</tspan><tspan dy="13.3"> 3d</tspan><tspan font-size="22" dy="8">3/2</tspan></text>
<path d="M1222.0 1976.6H1300.0" stroke="#1a1aff" stroke-width="4.2"/><text x="1308.7" y="1987.8" font-size="34" font-weight="bold">Rh<tspan font-size="23" dy="-13.3">0</tspan><tspan dy="13.3"> 3d</tspan><tspan font-size="22" dy="8">5/2</tspan></text>
<path d="M1222.0 2028.8H1300.0" stroke="#ff8a1c" stroke-width="4.2"/><text x="1308.7" y="2040.0" font-size="34" font-weight="bold">Rh<tspan font-size="23" dy="-13.3">3+</tspan><tspan dy="13.3"> 3d</tspan><tspan font-size="22" dy="8">5/2</tspan></text>
<path d="M1222.0 2083.2H1300.0" stroke="#8610ff" stroke-width="4.2"/><text x="1308.7" y="2094.4" font-size="34" font-weight="bold">Rh<tspan font-size="23" dy="-13.3">0</tspan><tspan dy="13.3"> 3d</tspan><tspan font-size="22" dy="8">3/2</tspan></text>
<path d="M1222.0 2137.0H1300.0" stroke="#22908e" stroke-width="4.2"/><text x="1308.7" y="2148.2" font-size="34" font-weight="bold">Rh<tspan font-size="23" dy="-13.3">3+</tspan><tspan dy="13.3"> 3d</tspan><tspan font-size="22" dy="8">3/2</tspan></text>
<path d="M1229.9 526.2H1316.4" stroke="#739334" stroke-width="4.2"/><text x="1324.5" y="538.2" font-size="35.5" font-weight="bold">Ce<tspan font-size="23" dy="-16">3+</tspan><tspan dy="16"> 3d</tspan></text>
<path d="M1229.9 577.6H1316.4" stroke="#ff6b63" stroke-width="4.2"/><text x="1324.5" y="589.6" font-size="35.5" font-weight="bold">Ce<tspan font-size="23" dy="-16">4+</tspan><tspan dy="16"> 3d</tspan></text>
<text x="1509.5" y="89.0" font-size="33" font-weight="bold">Ce 3d<tspan font-size="21" dy="11.5">3/2</tspan></text>
<text x="1835.5" y="181.3" font-size="33" font-weight="bold">Ce 3d<tspan font-size="21" dy="13">5/2</tspan></text>
</g>
</svg></body></html>
